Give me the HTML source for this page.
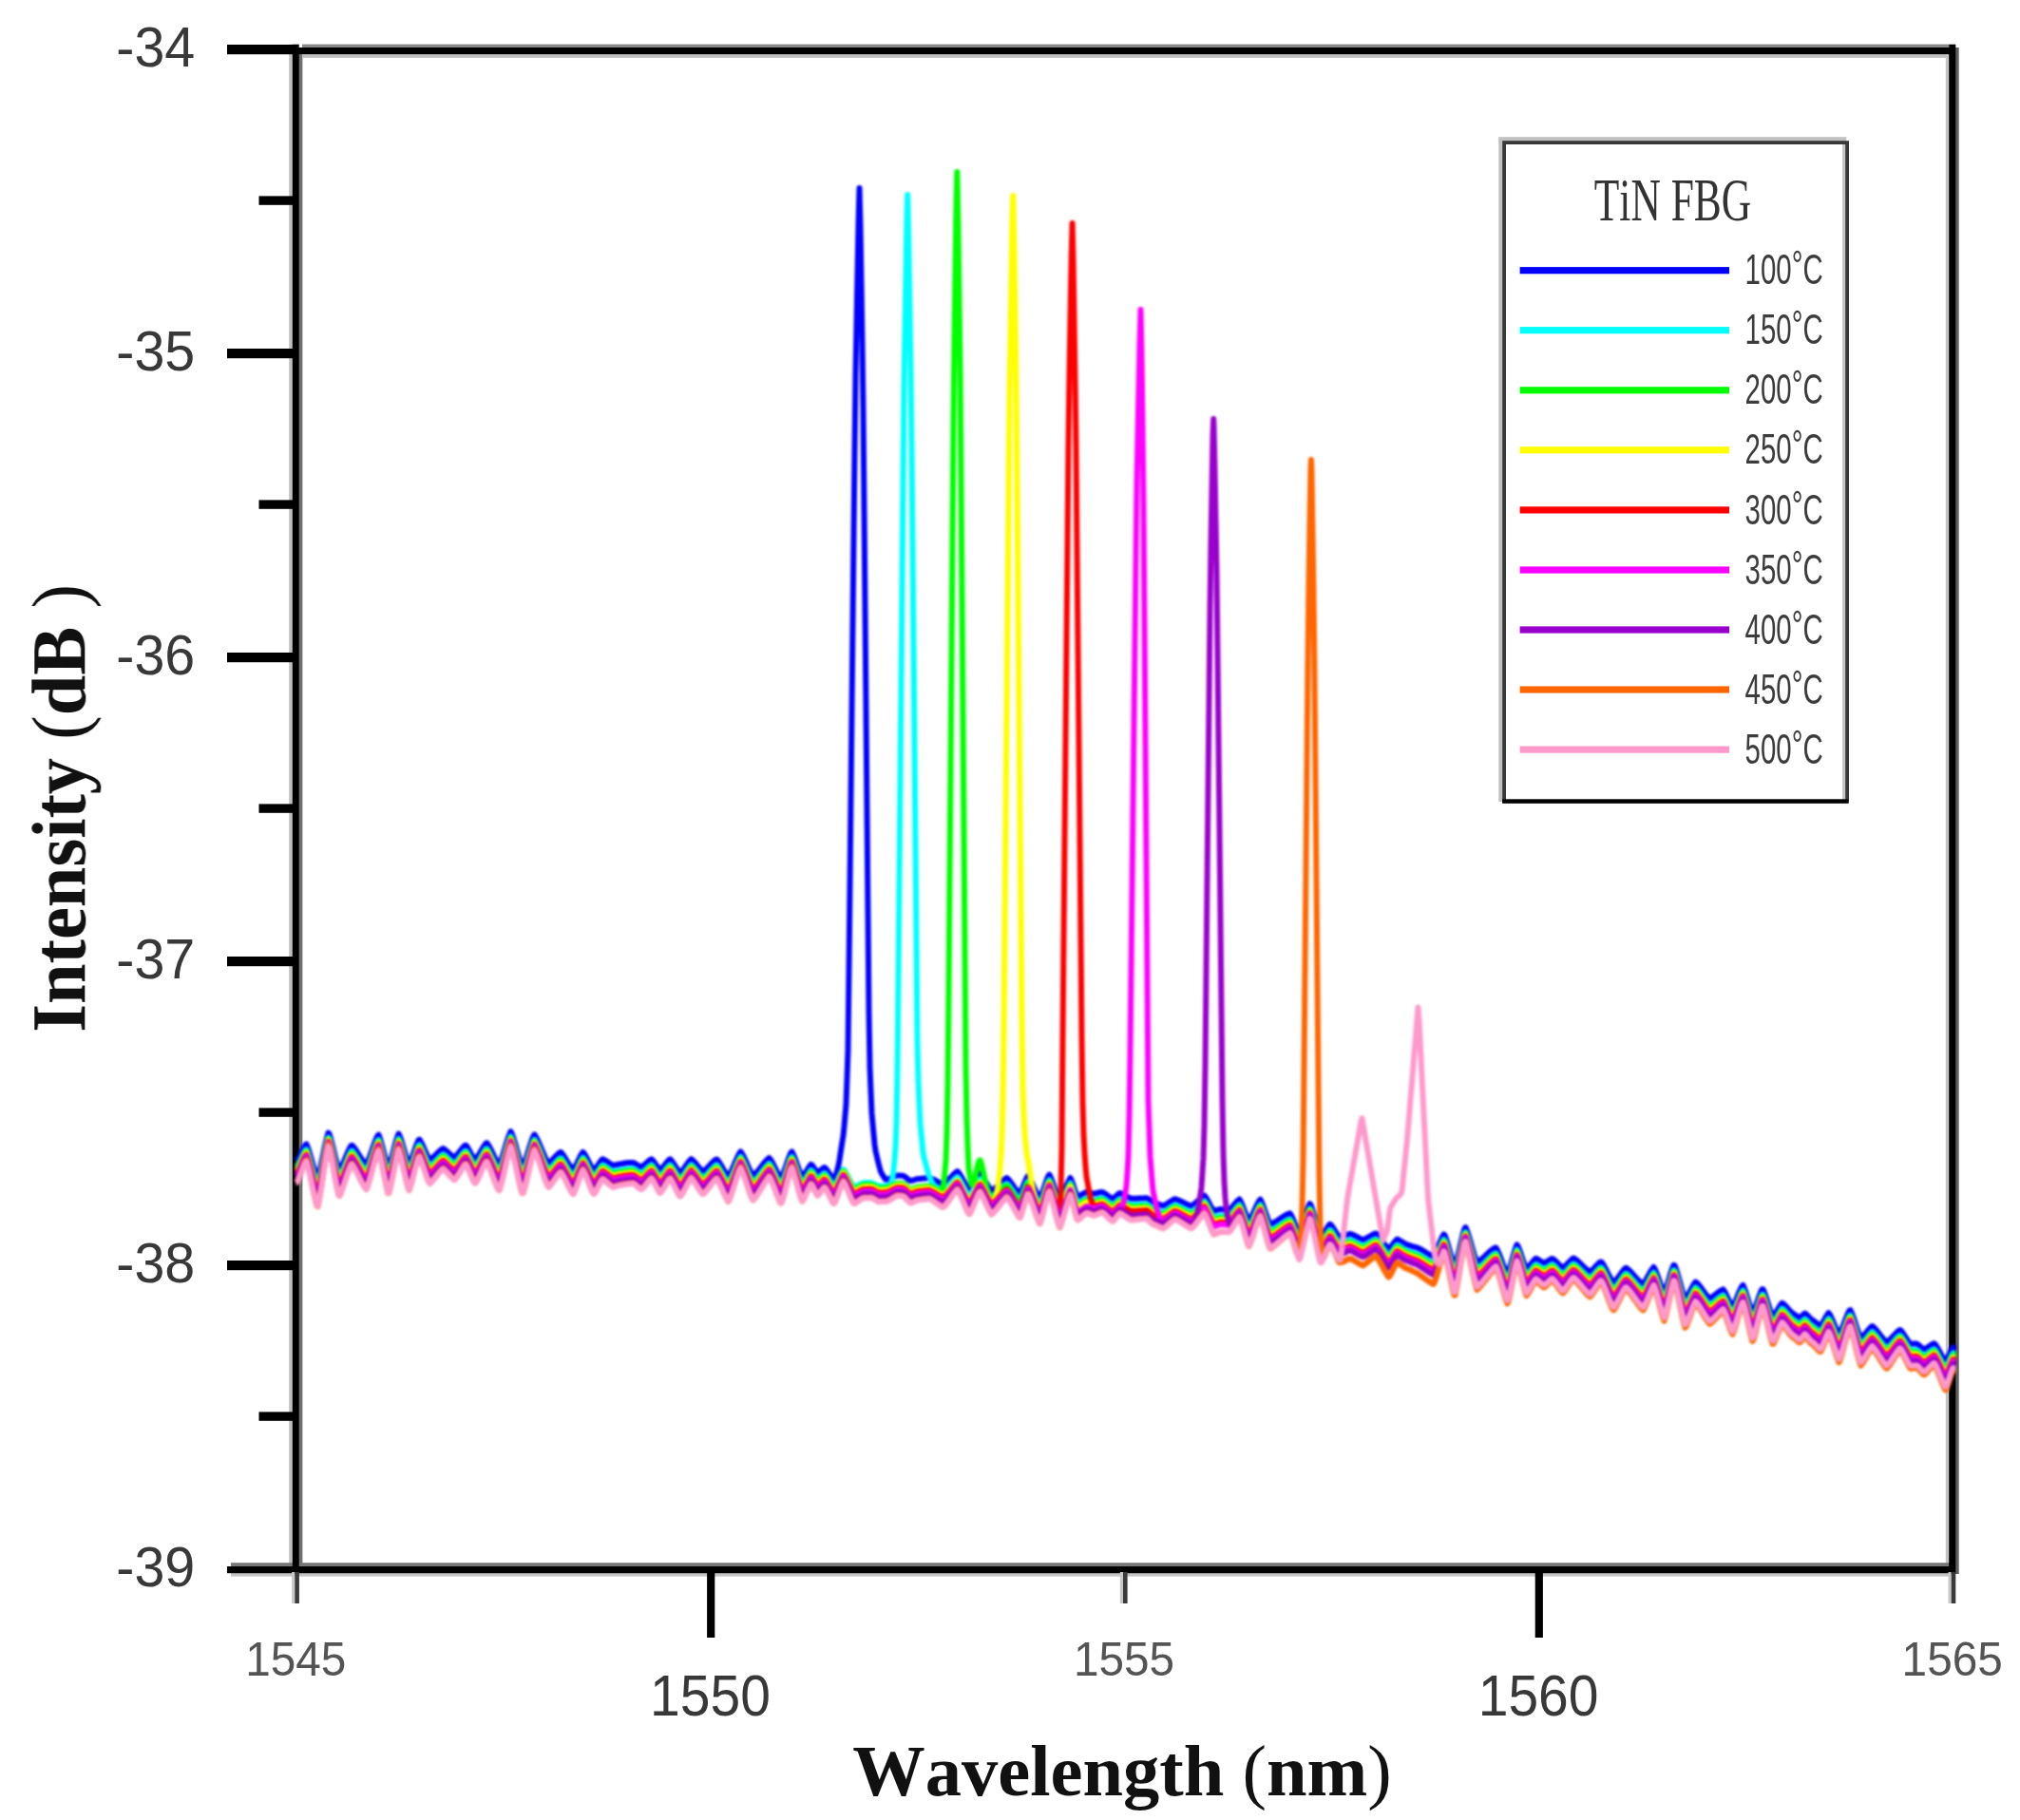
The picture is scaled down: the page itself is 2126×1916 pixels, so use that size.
<!DOCTYPE html>
<html lang="en"><head><meta charset="utf-8"><title>TiN FBG spectra</title>
<style>
html,body{margin:0;padding:0;background:#fff}
body{width:2126px;height:1916px;overflow:hidden}
svg{display:block}
.sans{font-family:"Liberation Sans",Arial,Helvetica,sans-serif}
.serif{font-family:"Liberation Serif","Times New Roman",Times,serif}
.serif,.sans{font-kerning:none}
text{filter:blur(0.7px)}
.curves{filter:blur(0.9px)}
.curves path{fill:none;stroke-width:6;stroke-linejoin:round;stroke-linecap:butt}
</style></head><body>
<svg width="2126" height="1916" viewBox="0 0 2126 1916">
<rect width="2126" height="1916" fill="#fff"/>
<g id="frame">
<rect x="304.2" y="46.7" width="4" height="1610" fill="#c0c0c0"/>
<rect x="314" y="50" width="4.4" height="1600" fill="#707070"/>
<rect x="2047.8" y="57" width="3.6" height="1592" fill="#c4c4c4"/>
<rect x="2058" y="50" width="3.7" height="1607" fill="#606060"/>
<rect x="318" y="46.6" width="1733" height="4" fill="#888"/>
<rect x="318" y="57" width="1730" height="3.9" fill="#c0c0c0"/>
<rect x="243" y="1645.2" width="1815" height="4" fill="#777"/>
<rect x="243" y="1656" width="1815" height="3.6" fill="#c4c4c4"/>
<rect x="307.8" y="46.7" width="6.9" height="1610" fill="#000"/>
<rect x="2051.2" y="46.7" width="7.1" height="1610" fill="#000"/>
<rect x="314" y="50" width="1740" height="7.1" fill="#000"/>
<rect x="239" y="1649" width="1819" height="7.2" fill="#000"/>
</g>
<g id="yticks" fill="#000">
<rect x="239" y="47.0" width="72" height="10.2" fill="#000"/>
<rect x="272.5" y="206.4" width="38" height="9.4" fill="#000"/>
<rect x="239" y="367.0" width="72" height="10.2" fill="#000"/>
<rect x="272.5" y="526.4" width="38" height="9.4" fill="#000"/>
<rect x="239" y="687.0" width="72" height="10.2" fill="#000"/>
<rect x="272.5" y="846.4" width="38" height="9.4" fill="#000"/>
<rect x="239" y="1007.0" width="72" height="10.2" fill="#000"/>
<rect x="272.5" y="1166.4" width="38" height="9.4" fill="#000"/>
<rect x="239" y="1327.0" width="72" height="10.2" fill="#000"/>
<rect x="272.5" y="1486.4" width="38" height="9.4" fill="#000"/>
</g>
<g id="xticks">
<rect x="307.1" y="1655" width="3.2" height="33" fill="#c8c8c8"/>
<rect x="310.3" y="1655" width="4.6" height="33" fill="#3a3a3a"/>
<rect x="744.1" y="1655" width="8.2" height="69" fill="#000"/>
<rect x="1178.8" y="1655" width="3.2" height="33" fill="#c8c8c8"/>
<rect x="1182.0" y="1655" width="4.6" height="33" fill="#3a3a3a"/>
<rect x="1615.7" y="1655" width="8.2" height="69" fill="#000"/>
<rect x="2050.5" y="1655" width="3.2" height="33" fill="#c8c8c8"/>
<rect x="2053.7" y="1655" width="4.6" height="33" fill="#3a3a3a"/>
</g>
<g class="curves">
<path d="M311.5 1222.2 L312.5 1221.9 L313.5 1220.5 L314.5 1218.7 L315.5 1216.8 L316.5 1214.7 L317.5 1212.6 L318.5 1210.5 L319.5 1208.5 L320.5 1206.7 L321.5 1205.1 L322.5 1204.5 L323.5 1207.0 L324.5 1209.8 L325.5 1212.9 L326.5 1216.3 L327.5 1219.8 L328.5 1223.3 L329.5 1226.9 L330.5 1230.3 L331.5 1233.5 L332.5 1236.4 L333.5 1239.0 L334.5 1239.5 L335.5 1236.1 L336.5 1232.2 L337.5 1227.9 L338.5 1223.2 L339.5 1218.4 L340.5 1213.6 L341.5 1208.7 L342.5 1204.1 L343.5 1199.9 L344.5 1196.0 L345.5 1192.6 L346.5 1193.6 L347.5 1196.8 L348.5 1200.3 L349.5 1204.2 L350.5 1208.3 L351.5 1212.5 L352.5 1216.7 L353.5 1220.8 L354.5 1224.6 L355.5 1228.1 L356.5 1231.2 L357.5 1231.5 L358.5 1229.8 L359.5 1228.0 L360.5 1225.9 L361.5 1223.7 L362.5 1221.4 L363.5 1219.0 L364.5 1216.6 L365.5 1214.2 L366.5 1211.9 L367.5 1209.8 L368.5 1207.9 L369.5 1206.1 L370.5 1205.7 L371.5 1206.7 L372.5 1207.9 L373.5 1209.2 L374.5 1210.7 L375.5 1212.2 L376.5 1213.8 L377.5 1215.4 L378.5 1217.0 L379.5 1218.6 L380.5 1220.2 L381.5 1221.6 L382.5 1223.0 L383.5 1224.2 L384.5 1225.3 L385.5 1226.0 L386.5 1224.0 L387.5 1221.7 L388.5 1219.3 L389.5 1216.6 L390.5 1213.8 L391.5 1210.9 L392.5 1208.0 L393.5 1205.2 L394.5 1202.5 L395.5 1199.9 L396.5 1197.6 L397.5 1195.5 L398.5 1194.7 L399.5 1197.4 L400.5 1200.5 L401.5 1204.0 L402.5 1207.6 L403.5 1211.4 L404.5 1215.2 L405.5 1218.9 L406.5 1222.3 L407.5 1225.4 L408.5 1228.1 L409.5 1227.6 L410.5 1224.7 L411.5 1221.4 L412.5 1217.8 L413.5 1214.0 L414.5 1210.1 L415.5 1206.3 L416.5 1202.6 L417.5 1199.2 L418.5 1196.2 L419.5 1193.5 L420.5 1195.6 L421.5 1198.2 L422.5 1201.2 L423.5 1204.5 L424.5 1207.9 L425.5 1211.3 L426.5 1214.7 L427.5 1218.0 L428.5 1221.0 L429.5 1223.7 L430.5 1225.8 L431.5 1223.9 L432.5 1221.6 L433.5 1219.1 L434.5 1216.3 L435.5 1213.4 L436.5 1210.5 L437.5 1207.6 L438.5 1204.9 L439.5 1202.4 L440.5 1200.2 L441.5 1199.7 L442.5 1201.3 L443.5 1203.1 L444.5 1205.1 L445.5 1207.3 L446.5 1209.6 L447.5 1211.9 L448.5 1214.1 L449.5 1216.2 L450.5 1218.2 L451.5 1219.9 L452.5 1220.9 L453.5 1220.3 L454.5 1219.5 L455.5 1218.7 L456.5 1217.8 L457.5 1216.9 L458.5 1215.9 L459.5 1214.9 L460.5 1213.9 L461.5 1212.9 L462.5 1211.9 L463.5 1211.0 L464.5 1210.2 L465.5 1209.5 L466.5 1209.1 L467.5 1209.7 L468.5 1210.5 L469.5 1211.3 L470.5 1212.2 L471.5 1213.1 L472.5 1214.0 L473.5 1215.0 L474.5 1215.9 L475.5 1216.7 L476.5 1217.4 L477.5 1218.1 L478.5 1218.3 L479.5 1217.4 L480.5 1216.3 L481.5 1215.2 L482.5 1214.0 L483.5 1212.7 L484.5 1211.4 L485.5 1210.1 L486.5 1208.9 L487.5 1207.7 L488.5 1206.7 L489.5 1205.8 L490.5 1205.8 L491.5 1207.1 L492.5 1208.7 L493.5 1210.4 L494.5 1212.2 L495.5 1214.1 L496.5 1215.9 L497.5 1217.7 L498.5 1219.3 L499.5 1220.6 L500.5 1220.7 L501.5 1219.4 L502.5 1218.0 L503.5 1216.5 L504.5 1214.8 L505.5 1213.1 L506.5 1211.3 L507.5 1209.6 L508.5 1207.9 L509.5 1206.3 L510.5 1204.8 L511.5 1203.5 L512.5 1203.3 L513.5 1204.7 L514.5 1206.3 L515.5 1208.1 L516.5 1210.0 L517.5 1212.1 L518.5 1214.1 L519.5 1216.3 L520.5 1218.3 L521.5 1220.3 L522.5 1222.2 L523.5 1223.9 L524.5 1225.4 L525.5 1225.9 L526.5 1223.6 L527.5 1221.0 L528.5 1218.2 L529.5 1215.1 L530.5 1211.8 L531.5 1208.5 L532.5 1205.2 L533.5 1201.9 L534.5 1198.8 L535.5 1196.0 L536.5 1193.4 L537.5 1191.2 L538.5 1193.0 L539.5 1195.6 L540.5 1198.6 L541.5 1201.8 L542.5 1205.2 L543.5 1208.7 L544.5 1212.3 L545.5 1215.8 L546.5 1219.1 L547.5 1222.3 L548.5 1225.1 L549.5 1227.7 L550.5 1227.8 L551.5 1225.5 L552.5 1222.9 L553.5 1220.0 L554.5 1216.9 L555.5 1213.7 L556.5 1210.5 L557.5 1207.2 L558.5 1204.1 L559.5 1201.1 L560.5 1198.4 L561.5 1196.0 L562.5 1194.3 L563.5 1195.9 L564.5 1197.7 L565.5 1199.6 L566.5 1201.8 L567.5 1204.0 L568.5 1206.4 L569.5 1208.7 L570.5 1211.1 L571.5 1213.5 L572.5 1215.8 L573.5 1218.0 L574.5 1220.0 L575.5 1221.9 L576.5 1223.6 L577.5 1224.5 L578.5 1223.8 L579.5 1222.9 L580.5 1222.0 L581.5 1220.9 L582.5 1219.9 L583.5 1218.7 L584.5 1217.7 L585.5 1216.6 L586.5 1215.6 L587.5 1214.7 L588.5 1213.8 L589.5 1213.1 L590.5 1213.1 L591.5 1214.3 L592.5 1215.7 L593.5 1217.2 L594.5 1218.7 L595.5 1220.4 L596.5 1222.0 L597.5 1223.7 L598.5 1225.3 L599.5 1226.9 L600.5 1228.3 L601.5 1229.7 L602.5 1230.8 L603.5 1231.2 L604.5 1229.7 L605.5 1228.0 L606.5 1226.1 L607.5 1224.1 L608.5 1222.0 L609.5 1219.9 L610.5 1217.8 L611.5 1216.0 L612.5 1214.3 L613.5 1212.9 L614.5 1213.9 L615.5 1215.4 L616.5 1217.1 L617.5 1218.9 L618.5 1220.8 L619.5 1222.8 L620.5 1224.8 L621.5 1226.7 L622.5 1228.4 L623.5 1230.1 L624.5 1231.5 L625.5 1231.6 L626.5 1230.5 L627.5 1229.2 L628.5 1227.8 L629.5 1226.3 L630.5 1224.8 L631.5 1223.3 L632.5 1222.0 L633.5 1220.8 L634.5 1220.3 L635.5 1220.7 L636.5 1221.3 L637.5 1221.9 L638.5 1222.5 L639.5 1223.2 L640.5 1223.9 L641.5 1224.6 L642.5 1225.2 L643.5 1225.9 L644.5 1226.4 L645.5 1226.8 L646.5 1226.6 L647.5 1226.4 L648.5 1226.2 L649.5 1226.0 L650.5 1225.8 L651.5 1225.6 L652.5 1225.4 L653.5 1225.3 L654.5 1225.1 L655.5 1224.9 L656.5 1224.7 L657.5 1224.5 L658.5 1224.3 L659.5 1224.2 L660.5 1224.2 L661.5 1224.1 L662.5 1224.0 L663.5 1224.0 L664.5 1223.9 L665.5 1223.9 L666.5 1223.9 L667.5 1224.4 L668.5 1225.0 L669.5 1225.6 L670.5 1226.2 L671.5 1226.9 L672.5 1227.5 L673.5 1228.1 L674.5 1228.5 L675.5 1228.4 L676.5 1227.7 L677.5 1226.9 L678.5 1226.1 L679.5 1225.1 L680.5 1224.2 L681.5 1223.3 L682.5 1222.4 L683.5 1221.6 L684.5 1220.8 L685.5 1220.2 L686.5 1221.0 L687.5 1222.2 L688.5 1223.5 L689.5 1224.9 L690.5 1226.4 L691.5 1227.8 L692.5 1229.2 L693.5 1230.4 L694.5 1231.5 L695.5 1231.2 L696.5 1230.2 L697.5 1229.1 L698.5 1227.9 L699.5 1226.6 L700.5 1225.3 L701.5 1224.0 L702.5 1222.8 L703.5 1221.7 L704.5 1220.7 L705.5 1220.4 L706.5 1221.6 L707.5 1222.8 L708.5 1224.3 L709.5 1225.8 L710.5 1227.4 L711.5 1228.9 L712.5 1230.5 L713.5 1231.9 L714.5 1233.2 L715.5 1234.4 L716.5 1234.1 L717.5 1233.0 L718.5 1231.9 L719.5 1230.6 L720.5 1229.2 L721.5 1227.7 L722.5 1226.3 L723.5 1224.8 L724.5 1223.5 L725.5 1222.2 L726.5 1221.1 L727.5 1220.2 L728.5 1220.9 L729.5 1221.9 L730.5 1222.9 L731.5 1224.0 L732.5 1225.2 L733.5 1226.4 L734.5 1227.6 L735.5 1228.8 L736.5 1230.0 L737.5 1231.1 L738.5 1232.1 L739.5 1233.0 L740.5 1232.8 L741.5 1232.1 L742.5 1231.3 L743.5 1230.4 L744.5 1229.4 L745.5 1228.4 L746.5 1227.3 L747.5 1226.2 L748.5 1225.2 L749.5 1224.1 L750.5 1223.1 L751.5 1222.2 L752.5 1221.4 L753.5 1220.6 L754.5 1220.4 L755.5 1221.6 L756.5 1223.0 L757.5 1224.5 L758.5 1226.1 L759.5 1227.7 L760.5 1229.5 L761.5 1231.2 L762.5 1232.9 L763.5 1234.4 L764.5 1235.9 L765.5 1237.2 L766.5 1238.4 L767.5 1237.1 L768.5 1235.3 L769.5 1233.3 L770.5 1231.2 L771.5 1228.9 L772.5 1226.6 L773.5 1224.2 L774.5 1221.9 L775.5 1219.6 L776.5 1217.5 L777.5 1215.5 L778.5 1213.7 L779.5 1212.3 L780.5 1213.8 L781.5 1215.4 L782.5 1217.3 L783.5 1219.3 L784.5 1221.5 L785.5 1223.7 L786.5 1226.0 L787.5 1228.2 L788.5 1230.4 L789.5 1232.4 L790.5 1234.3 L791.5 1236.1 L792.5 1237.6 L793.5 1236.9 L794.5 1236.0 L795.5 1235.1 L796.5 1234.0 L797.5 1232.8 L798.5 1231.6 L799.5 1230.3 L800.5 1229.1 L801.5 1227.8 L802.5 1226.5 L803.5 1225.2 L804.5 1224.0 L805.5 1222.8 L806.5 1221.7 L807.5 1220.7 L808.5 1219.8 L809.5 1219.0 L810.5 1220.0 L811.5 1221.5 L812.5 1223.2 L813.5 1225.1 L814.5 1227.1 L815.5 1229.1 L816.5 1231.1 L817.5 1233.1 L818.5 1235.0 L819.5 1236.8 L820.5 1238.4 L821.5 1239.8 L822.5 1239.7 L823.5 1237.6 L824.5 1235.1 L825.5 1232.4 L826.5 1229.6 L827.5 1226.6 L828.5 1223.7 L829.5 1220.8 L830.5 1218.1 L831.5 1215.6 L832.5 1213.4 L833.5 1212.5 L834.5 1214.5 L835.5 1216.7 L836.5 1219.2 L837.5 1221.9 L838.5 1224.7 L839.5 1227.5 L840.5 1230.3 L841.5 1232.9 L842.5 1235.3 L843.5 1237.5 L844.5 1238.9 L845.5 1237.8 L846.5 1236.5 L847.5 1235.0 L848.5 1233.4 L849.5 1231.7 L850.5 1230.1 L851.5 1228.5 L852.5 1227.1 L853.5 1225.9 L854.5 1226.4 L855.5 1227.6 L856.5 1229.1 L857.5 1230.6 L858.5 1232.1 L859.5 1233.5 L860.5 1234.5 L861.5 1233.9 L862.5 1233.1 L863.5 1232.2 L864.5 1231.3 L865.5 1230.5 L866.5 1229.7 L867.5 1229.0 L868.5 1229.5 L869.5 1230.7 L870.5 1232.0 L871.5 1233.5 L872.5 1235.0 L873.5 1236.5 L874.5 1238.0 L875.5 1239.4 L876.5 1240.6 L877.5 1241.7 L878.5 1241.0 L879.5 1238.5 L880.5 1234.7 L881.5 1230.7 L882.5 1226.7 L883.5 1221.3 L884.5 1214.6 L885.5 1208.0 L886.5 1201.6 L887.5 1195.5 L888.5 1185.7 L889.5 1174.1 L890.5 1162.6 L891.5 1134.9 L892.5 1105.4 L893.5 1021.0 L894.5 930.4 L895.5 839.8 L896.5 749.0 L897.5 658.1 L898.5 567.1 L899.5 474.9 L900.5 393.5 L901.5 340.7 L902.5 287.9 L903.5 235.1 L904.5 198.0 L905.5 237.7 L906.5 298.6 L907.5 359.5 L908.5 431.8 L909.5 537.4 L910.5 643.1 L911.5 748.9 L912.5 854.6 L913.5 960.3 L914.5 1066.0 L915.5 1123.3 L916.5 1148.3 L917.5 1172.0 L918.5 1182.8 L919.5 1193.7 L920.5 1204.6 L921.5 1211.6 L922.5 1215.9 L923.5 1220.2 L924.5 1224.4 L925.5 1228.3 L926.5 1232.1 L927.5 1234.6 L928.5 1236.3 L929.5 1237.9 L930.5 1239.5 L931.5 1241.1 L932.5 1241.8 L933.5 1241.7 L934.5 1241.4 L935.5 1241.1 L936.5 1240.7 L937.5 1240.3 L938.5 1239.8 L939.5 1239.4 L940.5 1239.0 L941.5 1238.5 L942.5 1238.1 L943.5 1237.8 L944.5 1237.5 L945.5 1237.5 L946.5 1237.6 L947.5 1237.6 L948.5 1237.7 L949.5 1237.8 L950.5 1237.8 L951.5 1238.2 L952.5 1238.9 L953.5 1239.7 L954.5 1240.5 L955.2 1241.1 L955.5 1241.3 L956.5 1242.1 L957.5 1242.8 L958.5 1243.1 L959.5 1242.9 L960.5 1242.6 L961.5 1242.3 L962.5 1242.0 L963.5 1241.7 L964.5 1241.4 L965.5 1241.1 L966.5 1241.1 L967.5 1241.0 L968.5 1240.9 L969.5 1240.8 L970.5 1240.7 L971.5 1240.6 L972.5 1240.5 L973.5 1240.4 L974.5 1240.3 L975.5 1240.2 L976.5 1240.1 L977.5 1240.0 L978.5 1240.1 L979.5 1240.5 L980.5 1240.9 L981.5 1241.3 L982.5 1241.8 L983.5 1242.3 L984.5 1242.8 L985.5 1243.3 L986.5 1243.9 L987.5 1244.4 L988.5 1244.9 L989.5 1245.4 L990.5 1245.9 L991.5 1246.3 L992.5 1246.7 L993.5 1246.4 L994.5 1245.6 L995.5 1244.8 L996.5 1243.9 L997.5 1242.9 L998.5 1241.9 L999.5 1240.8 L1000.5 1239.7 L1001.5 1238.6 L1002.5 1237.6 L1003.5 1236.5 L1004.5 1235.6 L1005.5 1234.7 L1006.5 1233.9 L1007.3 1233.3 L1007.5 1233.1 L1008.5 1233.9 L1009.5 1235.3 L1010.5 1236.8 L1011.5 1238.5 L1012.5 1240.3 L1013.5 1242.1 L1014.5 1244.0 L1015.5 1245.8 L1016.5 1247.5 L1017.5 1249.2 L1018.5 1250.7 L1019.5 1252.0 L1020.5 1252.2 L1021.5 1250.9 L1022.5 1249.4 L1023.5 1247.8 L1024.5 1246.0 L1025.5 1244.1 L1026.5 1242.3 L1027.5 1240.5 L1028.5 1238.8 L1029.5 1237.2 L1030.5 1235.9 L1031.5 1235.3 L1032.5 1236.4 L1033.5 1237.8 L1034.5 1239.3 L1035.5 1240.9 L1036.5 1242.5 L1037.5 1244.3 L1038.5 1246.0 L1039.5 1247.7 L1040.5 1249.3 L1041.5 1250.8 L1042.5 1252.1 L1043.5 1253.3 L1044.5 1252.9 L1045.5 1252.2 L1046.5 1251.5 L1047.5 1250.7 L1048.5 1249.8 L1049.5 1248.8 L1050.5 1247.8 L1051.5 1246.8 L1052.5 1245.8 L1053.5 1244.9 L1054.5 1243.9 L1055.5 1243.0 L1056.5 1242.1 L1057.5 1241.4 L1058.5 1240.7 L1059.5 1240.0 L1060.5 1240.7 L1061.5 1241.8 L1062.5 1243.0 L1063.5 1244.3 L1064.5 1245.6 L1065.5 1247.0 L1066.2 1248.1 L1066.5 1248.5 L1067.5 1250.0 L1068.5 1251.3 L1069.5 1252.6 L1070.5 1253.9 L1071.5 1255.0 L1072.5 1256.0 L1073.5 1256.4 L1074.5 1254.5 L1075.5 1252.3 L1076.5 1249.9 L1077.5 1247.4 L1078.5 1244.8 L1079.5 1242.4 L1080.5 1240.2 L1081.5 1238.3 L1082.5 1238.2 L1083.5 1239.9 L1084.5 1241.7 L1085.5 1243.8 L1086.5 1246.0 L1087.5 1248.2 L1088.5 1250.5 L1089.5 1252.8 L1090.5 1254.9 L1091.5 1257.0 L1092.5 1258.9 L1093.5 1260.6 L1094.5 1261.6 L1095.5 1259.4 L1096.5 1257.0 L1097.5 1254.3 L1098.5 1251.4 L1099.5 1248.4 L1100.5 1245.4 L1101.5 1242.6 L1102.5 1240.0 L1103.5 1237.7 L1104.5 1236.6 L1105.5 1238.7 L1106.5 1241.1 L1107.5 1243.8 L1108.5 1246.6 L1109.5 1249.6 L1110.5 1252.6 L1111.5 1255.5 L1112.5 1258.3 L1113.5 1260.9 L1114.5 1263.2 L1115.5 1264.8 L1116.5 1263.1 L1117.5 1261.0 L1118.5 1258.8 L1119.5 1256.3 L1120.5 1253.7 L1121.5 1251.1 L1122.5 1248.6 L1123.5 1246.1 L1124.5 1243.8 L1125.5 1241.8 L1126.5 1240.0 L1127.5 1242.0 L1128.5 1244.6 L1128.6 1244.9 L1129.5 1247.5 L1130.5 1250.6 L1131.5 1253.7 L1132.5 1256.5 L1133.5 1258.9 L1134.5 1259.7 L1135.5 1259.3 L1136.5 1258.8 L1137.5 1258.2 L1138.5 1257.6 L1139.5 1257.0 L1140.5 1256.4 L1141.5 1255.9 L1142.5 1255.4 L1143.5 1254.9 L1144.5 1254.9 L1145.5 1255.1 L1146.5 1255.3 L1147.5 1255.6 L1148.5 1255.9 L1149.5 1256.2 L1150.5 1256.5 L1151.5 1256.6 L1152.5 1256.4 L1153.5 1256.2 L1154.5 1256.0 L1155.5 1255.7 L1156.5 1255.5 L1157.5 1255.2 L1158.5 1255.0 L1159.5 1254.9 L1160.5 1255.1 L1161.5 1255.6 L1162.5 1256.3 L1163.5 1257.0 L1164.5 1257.7 L1165.5 1258.4 L1166.5 1259.2 L1167.5 1259.9 L1168.5 1260.6 L1169.5 1261.2 L1170.5 1261.7 L1171.5 1261.8 L1172.5 1261.1 L1173.5 1260.2 L1174.5 1259.3 L1175.5 1258.4 L1176.5 1257.5 L1177.5 1256.7 L1178.5 1256.0 L1179.5 1256.4 L1180.5 1256.8 L1181.5 1257.2 L1182.5 1257.7 L1183.5 1258.3 L1184.5 1258.8 L1185.5 1259.3 L1186.5 1259.9 L1187.5 1260.4 L1188.5 1260.9 L1189.5 1261.3 L1190.5 1261.7 L1191.5 1261.8 L1192.5 1261.8 L1193.5 1261.8 L1194.5 1261.8 L1195.5 1261.7 L1196.5 1261.7 L1197.5 1261.6 L1198.5 1261.6 L1199.5 1261.5 L1200.5 1261.5 L1201.5 1261.4 L1202.5 1261.4 L1203.5 1261.4 L1204.5 1261.3 L1205.5 1261.3 L1206.5 1261.2 L1207.5 1261.5 L1208.5 1262.1 L1209.5 1262.9 L1210.5 1263.7 L1211.5 1264.5 L1212.5 1265.2 L1213.5 1265.7 L1214.5 1266.0 L1215.5 1266.3 L1216.5 1266.6 L1217.5 1267.0 L1218.5 1267.4 L1219.5 1267.7 L1220.5 1268.1 L1221.5 1268.5 L1222.5 1268.8 L1223.5 1269.1 L1224.5 1269.2 L1225.5 1268.8 L1226.5 1268.3 L1227.5 1267.7 L1228.5 1267.1 L1229.5 1266.5 L1230.5 1265.8 L1231.5 1265.1 L1232.5 1264.5 L1233.5 1263.9 L1234.5 1263.3 L1235.5 1262.8 L1236.5 1262.3 L1237.5 1262.5 L1238.5 1262.8 L1239.5 1263.2 L1240.5 1263.6 L1241.5 1264.0 L1242.5 1264.5 L1243.5 1265.0 L1244.5 1265.5 L1245.5 1266.0 L1246.5 1266.5 L1247.5 1267.0 L1248.5 1267.4 L1249.5 1267.9 L1250.5 1268.4 L1251.5 1268.8 L1252.5 1269.2 L1253.5 1269.5 L1254.5 1269.4 L1255.5 1268.7 L1256.5 1267.9 L1257.5 1267.1 L1258.5 1266.2 L1259.5 1265.3 L1260.5 1264.4 L1261.5 1263.4 L1262.5 1262.5 L1263.5 1261.6 L1264.5 1260.7 L1265.5 1259.9 L1266.5 1259.2 L1267.5 1258.6 L1268.5 1259.7 L1269.5 1261.1 L1270.5 1262.8 L1271.5 1264.6 L1272.5 1266.5 L1273.5 1268.4 L1274.5 1270.2 L1275.5 1271.9 L1276.5 1273.4 L1277.2 1274.3 L1277.5 1274.7 L1278.5 1274.5 L1279.5 1274.3 L1280.5 1274.0 L1281.5 1273.7 L1282.5 1273.4 L1283.5 1273.2 L1284.5 1273.0 L1285.5 1273.1 L1286.5 1273.2 L1287.5 1273.3 L1288.5 1273.4 L1289.5 1273.5 L1290.5 1273.6 L1291.5 1273.7 L1292.5 1273.8 L1293.5 1273.8 L1294.5 1273.0 L1295.5 1272.0 L1296.5 1271.0 L1297.5 1269.9 L1298.5 1268.7 L1299.5 1267.5 L1300.5 1266.3 L1301.5 1265.2 L1302.5 1264.2 L1303.5 1263.3 L1304.5 1262.5 L1305.5 1264.2 L1306.5 1266.3 L1307.5 1268.7 L1308.5 1271.3 L1309.5 1274.0 L1310.5 1276.6 L1311.5 1279.2 L1312.5 1281.6 L1313.5 1283.7 L1314.5 1285.4 L1315.5 1283.9 L1316.5 1282.2 L1317.5 1280.3 L1318.5 1278.2 L1319.5 1276.0 L1320.5 1273.8 L1321.5 1271.5 L1322.5 1269.4 L1323.5 1267.3 L1324.5 1265.4 L1325.5 1263.7 L1326.5 1262.8 L1327.5 1264.8 L1328.5 1267.1 L1329.5 1269.7 L1330.5 1272.5 L1331.5 1275.4 L1332.5 1278.3 L1333.5 1281.1 L1334.5 1283.8 L1335.5 1286.2 L1336.5 1288.3 L1337.5 1288.5 L1338.5 1288.1 L1339.5 1287.7 L1340.5 1287.2 L1341.5 1286.7 L1342.5 1286.1 L1343.5 1285.5 L1344.5 1284.9 L1345.5 1284.2 L1346.5 1283.5 L1347.5 1282.8 L1348.5 1282.1 L1349.5 1281.4 L1350.5 1280.8 L1351.5 1280.2 L1352.5 1279.6 L1353.5 1279.0 L1354.5 1278.5 L1355.5 1278.1 L1356.5 1277.7 L1357.5 1277.3 L1358.5 1278.5 L1359.5 1280.5 L1360.5 1282.8 L1361.5 1285.2 L1362.5 1287.8 L1363.5 1290.4 L1364.5 1292.8 L1365.5 1295.1 L1366.5 1297.2 L1367.5 1299.0 L1368.5 1297.4 L1369.5 1294.8 L1370.5 1291.9 L1371.5 1288.7 L1372.5 1285.4 L1373.5 1282.0 L1374.5 1278.6 L1375.5 1275.4 L1376.5 1272.3 L1377.5 1269.6 L1378.5 1267.2 L1379.5 1268.3 L1380.0 1269.7 L1380.5 1271.2 L1381.5 1274.5 L1382.5 1278.0 L1383.5 1281.7 L1384.5 1285.5 L1385.5 1289.3 L1386.5 1293.0 L1387.5 1296.5 L1388.5 1299.6 L1389.5 1302.4 L1390.5 1302.9 L1391.5 1301.6 L1392.5 1300.1 L1393.5 1298.4 L1394.5 1296.7 L1395.5 1294.9 L1396.5 1293.2 L1397.5 1291.5 L1398.5 1290.1 L1399.5 1288.8 L1400.5 1289.1 L1401.5 1290.3 L1402.5 1291.7 L1403.5 1293.2 L1404.5 1294.9 L1405.5 1296.5 L1406.5 1298.1 L1407.5 1299.6 L1408.5 1301.0 L1409.5 1302.2 L1410.5 1302.4 L1411.5 1302.1 L1412.5 1301.9 L1413.5 1301.5 L1414.5 1301.2 L1415.5 1300.8 L1416.5 1300.4 L1417.5 1300.0 L1418.5 1299.6 L1419.5 1299.3 L1420.5 1299.0 L1421.5 1299.0 L1422.5 1299.4 L1423.5 1299.8 L1424.5 1300.2 L1425.5 1300.7 L1426.5 1301.2 L1427.5 1301.8 L1428.5 1302.3 L1429.5 1302.8 L1430.5 1303.4 L1431.5 1303.9 L1432.5 1304.4 L1433.5 1304.8 L1434.5 1305.1 L1435.5 1304.8 L1436.5 1304.4 L1437.5 1303.9 L1438.5 1303.4 L1439.5 1302.8 L1440.5 1302.3 L1441.5 1301.7 L1442.5 1301.1 L1443.5 1300.5 L1444.5 1300.0 L1445.5 1299.4 L1446.5 1299.0 L1447.5 1298.6 L1448.5 1298.7 L1449.5 1299.7 L1450.5 1300.8 L1451.5 1302.0 L1452.5 1303.3 L1453.5 1304.7 L1454.5 1306.1 L1455.5 1307.5 L1456.5 1308.9 L1457.5 1310.3 L1458.5 1311.5 L1459.5 1312.7 L1460.5 1313.8 L1461.5 1314.8 L1462.5 1314.3 L1463.5 1313.2 L1464.5 1311.9 L1465.5 1310.5 L1466.5 1309.1 L1467.5 1307.8 L1468.5 1306.5 L1469.5 1305.4 L1470.5 1304.6 L1471.5 1305.0 L1472.5 1305.6 L1473.5 1306.1 L1474.5 1306.7 L1475.5 1307.4 L1476.5 1308.0 L1477.5 1308.6 L1478.5 1309.2 L1479.5 1309.7 L1480.5 1310.1 L1481.5 1310.4 L1482.5 1310.7 L1483.5 1311.1 L1484.5 1311.4 L1485.5 1311.8 L1486.5 1312.1 L1487.5 1312.4 L1488.5 1312.7 L1489.5 1312.9 L1490.5 1313.2 L1491.5 1313.5 L1492.5 1313.9 L1493.5 1314.4 L1494.5 1314.8 L1495.5 1315.4 L1496.5 1315.9 L1497.5 1316.5 L1498.5 1317.1 L1499.5 1317.8 L1500.5 1318.4 L1501.5 1319.1 L1502.5 1319.7 L1503.5 1320.3 L1504.5 1320.8 L1505.5 1321.3 L1506.5 1321.8 L1507.5 1322.2 L1508.5 1322.6 L1509.5 1321.5 L1510.5 1319.6 L1511.5 1317.5 L1512.5 1315.2 L1513.5 1312.7 L1514.5 1310.3 L1515.5 1307.8 L1516.5 1305.4 L1517.5 1303.2 L1518.5 1301.2 L1519.5 1299.5 L1520.5 1300.2 L1521.5 1302.9 L1522.5 1305.8 L1523.5 1309.1 L1524.5 1312.6 L1525.5 1316.1 L1526.5 1319.7 L1527.5 1323.1 L1528.5 1326.3 L1529.5 1329.3 L1530.5 1331.9 L1531.5 1331.9 L1532.5 1328.7 L1533.5 1325.2 L1534.5 1321.3 L1535.5 1317.1 L1536.5 1312.8 L1537.5 1308.5 L1538.5 1304.2 L1539.5 1300.3 L1540.5 1296.6 L1541.5 1293.4 L1542.5 1292.1 L1543.5 1294.5 L1544.5 1297.3 L1545.5 1300.3 L1546.5 1303.5 L1547.5 1306.9 L1548.5 1310.4 L1549.5 1313.9 L1550.5 1317.3 L1551.5 1320.6 L1552.5 1323.6 L1553.5 1326.3 L1554.5 1328.7 L1555.5 1328.3 L1556.5 1327.7 L1557.5 1327.0 L1558.5 1326.3 L1559.5 1325.5 L1560.5 1324.6 L1561.5 1323.7 L1562.5 1322.8 L1563.5 1321.8 L1564.5 1320.8 L1565.5 1319.9 L1566.5 1318.9 L1567.5 1318.0 L1568.5 1317.1 L1569.5 1316.3 L1570.5 1315.5 L1571.5 1314.8 L1572.5 1314.2 L1573.5 1313.6 L1574.5 1313.5 L1575.5 1315.3 L1576.5 1317.4 L1577.5 1319.7 L1578.5 1322.2 L1579.5 1324.7 L1580.5 1327.3 L1581.5 1330.0 L1582.5 1332.5 L1583.5 1334.9 L1584.5 1337.1 L1585.5 1339.1 L1586.5 1340.9 L1587.5 1339.4 L1588.5 1336.6 L1589.5 1333.4 L1590.5 1329.9 L1591.5 1326.3 L1592.5 1322.6 L1593.5 1319.1 L1594.5 1315.8 L1595.5 1312.8 L1596.5 1310.3 L1597.5 1311.8 L1598.5 1314.1 L1599.5 1316.8 L1600.5 1319.6 L1601.5 1322.6 L1602.5 1325.6 L1603.5 1328.6 L1604.5 1331.3 L1605.5 1333.7 L1606.5 1335.8 L1607.5 1335.0 L1608.5 1334.0 L1609.5 1332.9 L1610.5 1331.6 L1611.5 1330.4 L1612.5 1329.1 L1613.5 1327.9 L1614.5 1326.7 L1615.5 1325.7 L1616.5 1324.9 L1617.5 1325.3 L1618.5 1325.8 L1619.5 1326.4 L1620.5 1327.1 L1621.5 1327.7 L1622.5 1328.3 L1623.5 1328.9 L1624.5 1329.5 L1625.5 1329.6 L1626.5 1329.1 L1627.5 1328.5 L1628.5 1327.9 L1629.5 1327.3 L1630.5 1326.6 L1631.5 1326.0 L1632.5 1325.4 L1633.5 1325.0 L1634.5 1325.3 L1635.5 1326.1 L1636.5 1327.0 L1637.5 1327.9 L1638.5 1328.9 L1639.5 1329.9 L1640.5 1331.0 L1641.5 1331.9 L1642.5 1332.9 L1643.5 1333.7 L1644.5 1334.5 L1645.5 1334.4 L1646.5 1333.6 L1647.5 1332.7 L1648.5 1331.7 L1649.5 1330.7 L1650.5 1329.6 L1651.5 1328.5 L1652.5 1327.5 L1653.5 1326.5 L1654.5 1325.5 L1655.5 1324.7 L1656.5 1324.6 L1657.5 1325.3 L1658.5 1326.0 L1659.5 1326.7 L1660.5 1327.6 L1661.5 1328.5 L1662.5 1329.4 L1663.5 1330.4 L1664.5 1331.3 L1665.5 1332.3 L1666.5 1333.3 L1667.5 1334.3 L1668.5 1335.2 L1669.5 1336.1 L1670.5 1336.9 L1671.5 1337.7 L1672.5 1338.4 L1673.5 1338.8 L1674.5 1338.1 L1675.5 1337.3 L1676.5 1336.3 L1677.5 1335.3 L1678.5 1334.2 L1679.5 1333.1 L1680.5 1332.0 L1681.5 1331.0 L1682.5 1330.0 L1683.5 1329.1 L1684.5 1328.4 L1685.5 1328.6 L1686.5 1330.0 L1687.5 1331.5 L1688.5 1333.3 L1689.5 1335.1 L1690.5 1337.0 L1691.5 1339.0 L1692.5 1341.0 L1693.5 1342.9 L1694.5 1344.8 L1695.5 1346.5 L1696.5 1348.1 L1697.5 1349.6 L1698.5 1350.1 L1699.5 1349.1 L1700.5 1348.0 L1701.5 1346.8 L1702.5 1345.6 L1703.5 1344.2 L1704.5 1342.8 L1705.5 1341.4 L1706.5 1340.0 L1707.5 1338.6 L1708.5 1337.4 L1709.5 1336.2 L1710.5 1335.2 L1711.5 1334.7 L1712.5 1335.5 L1713.5 1336.3 L1714.5 1337.2 L1715.5 1338.1 L1716.5 1339.2 L1717.5 1340.2 L1718.5 1341.3 L1719.5 1342.5 L1720.5 1343.6 L1721.5 1344.7 L1722.5 1345.8 L1723.5 1346.9 L1724.5 1347.9 L1725.5 1348.9 L1726.5 1349.8 L1727.5 1350.6 L1728.5 1351.3 L1729.5 1351.5 L1730.5 1350.2 L1731.5 1348.7 L1732.5 1347.1 L1733.5 1345.3 L1734.5 1343.5 L1735.5 1341.6 L1736.5 1339.8 L1737.5 1338.1 L1738.5 1336.6 L1739.5 1335.2 L1740.5 1334.0 L1741.5 1335.6 L1742.5 1337.8 L1743.5 1340.3 L1744.5 1343.0 L1745.5 1345.8 L1746.5 1348.6 L1747.5 1351.5 L1748.5 1354.1 L1749.5 1356.6 L1750.5 1358.8 L1751.5 1360.7 L1752.5 1358.5 L1753.5 1355.9 L1754.5 1353.0 L1755.5 1349.8 L1756.5 1346.5 L1757.5 1343.2 L1758.5 1340.0 L1759.5 1337.0 L1760.5 1334.2 L1761.5 1331.8 L1762.5 1332.1 L1763.5 1334.7 L1764.5 1337.6 L1765.5 1340.9 L1766.5 1344.3 L1767.5 1347.9 L1768.5 1351.6 L1769.5 1355.1 L1770.5 1358.6 L1771.5 1361.7 L1772.5 1364.6 L1773.5 1367.2 L1774.5 1366.7 L1775.5 1365.3 L1776.5 1363.6 L1777.5 1361.8 L1778.5 1359.9 L1779.5 1358.0 L1780.5 1356.0 L1781.5 1354.2 L1782.5 1352.4 L1783.5 1350.8 L1784.5 1349.5 L1785.5 1350.1 L1786.5 1351.1 L1787.5 1352.2 L1788.5 1353.4 L1789.5 1354.6 L1790.5 1356.0 L1791.5 1357.4 L1792.5 1358.8 L1793.5 1360.2 L1794.5 1361.6 L1795.5 1362.9 L1796.5 1364.1 L1797.5 1365.2 L1798.5 1366.2 L1799.5 1367.0 L1800.5 1366.5 L1801.5 1365.9 L1802.5 1365.2 L1803.5 1364.4 L1804.5 1363.6 L1805.5 1362.8 L1806.5 1362.0 L1807.5 1361.2 L1808.5 1360.4 L1809.5 1359.7 L1810.5 1359.0 L1811.5 1358.4 L1812.5 1357.9 L1813.5 1357.4 L1814.5 1358.8 L1815.5 1360.5 L1816.5 1362.4 L1817.5 1364.5 L1818.5 1366.7 L1819.5 1368.8 L1820.5 1370.9 L1821.5 1372.8 L1822.5 1374.4 L1823.5 1375.6 L1824.5 1373.8 L1825.5 1371.9 L1826.5 1369.7 L1827.5 1367.4 L1828.5 1364.9 L1829.5 1362.4 L1830.5 1360.0 L1831.5 1357.8 L1832.5 1355.7 L1833.5 1353.9 L1834.5 1353.0 L1835.5 1355.4 L1836.5 1358.0 L1837.5 1361.0 L1838.5 1364.1 L1839.5 1367.4 L1840.5 1370.7 L1841.5 1373.8 L1842.5 1376.8 L1843.5 1379.4 L1844.5 1381.8 L1845.5 1380.8 L1846.5 1378.6 L1847.5 1376.1 L1848.5 1373.3 L1849.5 1370.4 L1850.5 1367.5 L1851.5 1364.6 L1852.5 1361.9 L1853.5 1359.4 L1854.5 1357.2 L1855.5 1357.3 L1856.5 1359.6 L1857.5 1362.2 L1858.5 1365.1 L1859.5 1368.2 L1860.5 1371.3 L1861.5 1374.5 L1862.5 1377.6 L1863.5 1380.4 L1864.5 1383.1 L1865.5 1385.4 L1866.5 1385.5 L1867.5 1384.2 L1868.5 1382.8 L1869.5 1381.2 L1870.5 1379.4 L1871.5 1377.7 L1872.5 1376.0 L1873.5 1374.4 L1874.5 1373.0 L1875.5 1371.8 L1876.5 1372.2 L1877.5 1373.0 L1878.5 1374.0 L1879.5 1375.0 L1880.5 1376.2 L1881.5 1377.3 L1882.5 1378.5 L1883.5 1379.6 L1884.5 1380.7 L1885.5 1381.6 L1886.5 1382.5 L1887.5 1383.1 L1888.5 1383.7 L1889.5 1384.4 L1890.5 1385.1 L1891.5 1385.9 L1892.5 1386.5 L1893.5 1387.1 L1894.5 1387.2 L1895.5 1386.3 L1896.5 1385.3 L1897.5 1384.3 L1898.5 1383.3 L1899.5 1382.5 L1900.5 1383.1 L1901.5 1384.0 L1902.5 1385.1 L1903.5 1386.2 L1904.5 1387.2 L1905.5 1388.2 L1906.5 1388.9 L1907.5 1389.6 L1908.5 1390.3 L1909.5 1391.1 L1910.5 1391.9 L1911.5 1392.7 L1912.5 1393.6 L1913.5 1394.3 L1914.5 1395.0 L1915.5 1395.6 L1916.5 1395.2 L1917.5 1393.8 L1918.5 1392.2 L1919.5 1390.4 L1920.5 1388.6 L1921.5 1386.8 L1922.5 1385.1 L1923.5 1383.5 L1924.5 1382.2 L1925.5 1383.3 L1926.5 1385.1 L1927.5 1387.2 L1928.5 1389.4 L1929.5 1391.8 L1930.5 1394.2 L1931.5 1396.6 L1932.5 1398.9 L1933.5 1401.0 L1934.5 1402.9 L1935.5 1404.6 L1936.5 1403.2 L1937.5 1401.2 L1938.5 1398.9 L1939.5 1396.5 L1940.5 1393.9 L1941.5 1391.3 L1942.5 1388.7 L1943.5 1386.1 L1944.5 1383.8 L1945.5 1381.6 L1946.5 1379.6 L1947.5 1379.2 L1948.5 1381.4 L1949.5 1383.9 L1950.5 1386.6 L1951.5 1389.5 L1952.5 1392.5 L1953.5 1395.6 L1954.5 1398.6 L1955.5 1401.5 L1956.5 1404.2 L1957.5 1406.6 L1958.5 1408.6 L1959.5 1407.8 L1960.5 1406.9 L1961.5 1405.9 L1962.5 1404.8 L1963.5 1403.6 L1964.5 1402.4 L1965.5 1401.1 L1966.5 1399.9 L1967.5 1398.8 L1968.5 1397.7 L1969.5 1396.7 L1970.5 1396.0 L1971.5 1396.8 L1972.5 1397.7 L1973.5 1398.8 L1974.5 1399.9 L1975.5 1401.1 L1976.5 1402.3 L1977.5 1403.6 L1978.5 1405.0 L1979.5 1406.3 L1980.5 1407.5 L1981.5 1408.7 L1982.5 1409.9 L1983.5 1411.0 L1984.5 1411.9 L1985.5 1412.8 L1986.5 1412.4 L1987.5 1411.6 L1988.5 1410.7 L1989.5 1409.8 L1990.5 1408.8 L1991.5 1407.7 L1992.5 1406.6 L1993.5 1405.6 L1994.5 1404.5 L1995.5 1403.5 L1996.5 1402.5 L1997.5 1401.6 L1998.5 1400.8 L1999.5 1400.1 L2000.5 1400.5 L2001.5 1401.7 L2002.5 1403.1 L2003.5 1404.5 L2004.5 1406.1 L2005.5 1407.6 L2006.5 1409.2 L2007.5 1410.7 L2008.5 1412.1 L2009.5 1413.4 L2010.5 1414.5 L2011.5 1414.7 L2012.5 1414.7 L2013.5 1414.7 L2014.5 1414.6 L2015.5 1414.6 L2016.5 1414.6 L2017.5 1414.7 L2018.5 1415.4 L2019.5 1416.2 L2020.5 1417.1 L2021.5 1418.0 L2022.5 1418.9 L2023.5 1419.7 L2024.5 1420.3 L2025.5 1420.3 L2026.5 1419.8 L2027.5 1419.2 L2028.5 1418.6 L2029.5 1417.9 L2030.5 1417.2 L2031.5 1416.5 L2032.5 1415.9 L2033.5 1415.2 L2034.5 1414.7 L2035.5 1414.2 L2036.5 1414.9 L2037.5 1416.3 L2038.5 1417.8 L2039.5 1419.5 L2040.5 1421.3 L2041.5 1423.1 L2042.5 1425.0 L2043.5 1426.8 L2044.5 1428.5 L2045.5 1430.2 L2046.5 1431.6 L2047.5 1433.0 L2048.5 1432.2 L2049.5 1430.4 L2050.5 1428.4 L2051.5 1426.1 L2052.5 1423.9 L2053.5 1421.7 L2054.5 1419.9 L2055.5 1418.4 L2056.5 1418.4 L2057.5 1418.4 L2058.5 1418.4" stroke="#0000ff" stroke-width="7"/>
<path d="M311.5 1228.7 L312.5 1228.5 L313.5 1227.0 L314.5 1225.2 L315.5 1223.1 L316.5 1221.0 L317.5 1218.8 L318.5 1216.6 L319.5 1214.5 L320.5 1212.6 L321.5 1210.9 L322.5 1210.3 L323.5 1212.9 L324.5 1215.9 L325.5 1219.2 L326.5 1222.7 L327.5 1226.4 L328.5 1230.2 L329.5 1233.9 L330.5 1237.5 L331.5 1240.9 L332.5 1244.0 L333.5 1246.8 L334.5 1247.3 L335.5 1243.6 L336.5 1239.5 L337.5 1235.0 L338.5 1230.1 L339.5 1225.0 L340.5 1219.9 L341.5 1214.8 L342.5 1209.9 L343.5 1205.4 L344.5 1201.3 L345.5 1197.7 L346.5 1198.8 L347.5 1202.2 L348.5 1205.9 L349.5 1210.0 L350.5 1214.3 L351.5 1218.8 L352.5 1223.2 L353.5 1227.5 L354.5 1231.6 L355.5 1235.2 L356.5 1238.4 L357.5 1238.8 L358.5 1237.0 L359.5 1235.1 L360.5 1232.9 L361.5 1230.6 L362.5 1228.1 L363.5 1225.6 L364.5 1223.1 L365.5 1220.6 L366.5 1218.3 L367.5 1216.1 L368.5 1214.1 L369.5 1212.3 L370.5 1211.8 L371.5 1212.9 L372.5 1214.2 L373.5 1215.6 L374.5 1217.1 L375.5 1218.6 L376.5 1220.3 L377.5 1222.0 L378.5 1223.7 L379.5 1225.3 L380.5 1226.9 L381.5 1228.5 L382.5 1229.9 L383.5 1231.2 L384.5 1232.4 L385.5 1233.1 L386.5 1231.0 L387.5 1228.7 L388.5 1226.1 L389.5 1223.3 L390.5 1220.3 L391.5 1217.3 L392.5 1214.3 L393.5 1211.3 L394.5 1208.5 L395.5 1205.8 L396.5 1203.3 L397.5 1201.1 L398.5 1200.2 L399.5 1203.1 L400.5 1206.3 L401.5 1210.0 L402.5 1213.8 L403.5 1217.8 L404.5 1221.8 L405.5 1225.7 L406.5 1229.3 L407.5 1232.6 L408.5 1235.5 L409.5 1235.0 L410.5 1231.9 L411.5 1228.5 L412.5 1224.7 L413.5 1220.7 L414.5 1216.6 L415.5 1212.6 L416.5 1208.7 L417.5 1205.1 L418.5 1201.9 L419.5 1199.1 L420.5 1201.3 L421.5 1204.1 L422.5 1207.2 L423.5 1210.6 L424.5 1214.2 L425.5 1217.9 L426.5 1221.4 L427.5 1224.9 L428.5 1228.0 L429.5 1230.9 L430.5 1233.1 L431.5 1231.0 L432.5 1228.6 L433.5 1225.9 L434.5 1223.0 L435.5 1220.0 L436.5 1216.9 L437.5 1213.9 L438.5 1211.0 L439.5 1208.4 L440.5 1206.1 L441.5 1205.5 L442.5 1207.2 L443.5 1209.1 L444.5 1211.3 L445.5 1213.6 L446.5 1216.0 L447.5 1218.4 L448.5 1220.7 L449.5 1223.0 L450.5 1225.0 L451.5 1226.8 L452.5 1227.8 L453.5 1227.1 L454.5 1226.4 L455.5 1225.5 L456.5 1224.6 L457.5 1223.6 L458.5 1222.6 L459.5 1221.5 L460.5 1220.4 L461.5 1219.4 L462.5 1218.4 L463.5 1217.5 L464.5 1216.7 L465.5 1215.9 L466.5 1215.4 L467.5 1216.1 L468.5 1216.9 L469.5 1217.7 L470.5 1218.6 L471.5 1219.6 L472.5 1220.6 L473.5 1221.5 L474.5 1222.5 L475.5 1223.3 L476.5 1224.1 L477.5 1224.8 L478.5 1225.0 L479.5 1224.1 L480.5 1223.0 L481.5 1221.8 L482.5 1220.5 L483.5 1219.2 L484.5 1217.8 L485.5 1216.5 L486.5 1215.2 L487.5 1214.0 L488.5 1212.9 L489.5 1211.9 L490.5 1211.9 L491.5 1213.3 L492.5 1214.9 L493.5 1216.8 L494.5 1218.7 L495.5 1220.7 L496.5 1222.6 L497.5 1224.4 L498.5 1226.1 L499.5 1227.5 L500.5 1227.6 L501.5 1226.3 L502.5 1224.8 L503.5 1223.2 L504.5 1221.4 L505.5 1219.6 L506.5 1217.7 L507.5 1215.9 L508.5 1214.1 L509.5 1212.5 L510.5 1211.0 L511.5 1209.6 L512.5 1209.4 L513.5 1210.9 L514.5 1212.6 L515.5 1214.5 L516.5 1216.5 L517.5 1218.6 L518.5 1220.8 L519.5 1223.0 L520.5 1225.2 L521.5 1227.3 L522.5 1229.3 L523.5 1231.1 L524.5 1232.7 L525.5 1233.2 L526.5 1230.8 L527.5 1228.0 L528.5 1225.0 L529.5 1221.7 L530.5 1218.3 L531.5 1214.8 L532.5 1211.3 L533.5 1207.9 L534.5 1204.7 L535.5 1201.7 L536.5 1199.0 L537.5 1196.6 L538.5 1198.5 L539.5 1201.3 L540.5 1204.4 L541.5 1207.8 L542.5 1211.4 L543.5 1215.1 L544.5 1218.9 L545.5 1222.6 L546.5 1226.1 L547.5 1229.4 L548.5 1232.4 L549.5 1235.1 L550.5 1235.2 L551.5 1232.8 L552.5 1230.0 L553.5 1227.0 L554.5 1223.7 L555.5 1220.4 L556.5 1216.9 L557.5 1213.5 L558.5 1210.2 L559.5 1207.1 L560.5 1204.2 L561.5 1201.7 L562.5 1199.9 L563.5 1201.5 L564.5 1203.4 L565.5 1205.4 L566.5 1207.7 L567.5 1210.0 L568.5 1212.4 L569.5 1214.9 L570.5 1217.4 L571.5 1219.9 L572.5 1222.3 L573.5 1224.6 L574.5 1226.8 L575.5 1228.7 L576.5 1230.5 L577.5 1231.5 L578.5 1230.7 L579.5 1229.8 L580.5 1228.8 L581.5 1227.7 L582.5 1226.6 L583.5 1225.4 L584.5 1224.3 L585.5 1223.1 L586.5 1222.1 L587.5 1221.1 L588.5 1220.2 L589.5 1219.4 L590.5 1219.4 L591.5 1220.7 L592.5 1222.1 L593.5 1223.6 L594.5 1225.2 L595.5 1226.9 L596.5 1228.6 L597.5 1230.4 L598.5 1232.1 L599.5 1233.7 L600.5 1235.2 L601.5 1236.6 L602.5 1237.8 L603.5 1238.2 L604.5 1236.7 L605.5 1234.8 L606.5 1232.8 L607.5 1230.7 L608.5 1228.4 L609.5 1226.2 L610.5 1224.1 L611.5 1222.1 L612.5 1220.3 L613.5 1218.8 L614.5 1219.9 L615.5 1221.5 L616.5 1223.2 L617.5 1225.2 L618.5 1227.2 L619.5 1229.3 L620.5 1231.3 L621.5 1233.3 L622.5 1235.2 L623.5 1236.9 L624.5 1238.4 L625.5 1238.6 L626.5 1237.4 L627.5 1236.0 L628.5 1234.5 L629.5 1232.9 L630.5 1231.3 L631.5 1229.8 L632.5 1228.4 L633.5 1227.1 L634.5 1226.6 L635.5 1227.1 L636.5 1227.6 L637.5 1228.3 L638.5 1229.0 L639.5 1229.7 L640.5 1230.4 L641.5 1231.1 L642.5 1231.8 L643.5 1232.4 L644.5 1233.0 L645.5 1233.4 L646.5 1233.2 L647.5 1233.0 L648.5 1232.7 L649.5 1232.5 L650.5 1232.3 L651.5 1232.1 L652.5 1231.9 L653.5 1231.8 L654.5 1231.6 L655.5 1231.4 L656.5 1231.2 L657.5 1231.0 L658.5 1230.8 L659.5 1230.7 L660.5 1230.7 L661.5 1230.6 L662.5 1230.5 L663.5 1230.4 L664.5 1230.4 L665.5 1230.3 L666.5 1230.3 L667.5 1230.8 L668.5 1231.4 L669.5 1232.1 L670.5 1232.8 L671.5 1233.5 L672.5 1234.1 L673.5 1234.7 L674.5 1235.2 L675.5 1235.1 L676.5 1234.4 L677.5 1233.5 L678.5 1232.6 L679.5 1231.6 L680.5 1230.7 L681.5 1229.7 L682.5 1228.7 L683.5 1227.9 L684.5 1227.1 L685.5 1226.4 L686.5 1227.2 L687.5 1228.5 L688.5 1229.8 L689.5 1231.4 L690.5 1232.9 L691.5 1234.4 L692.5 1235.9 L693.5 1237.2 L694.5 1238.3 L695.5 1237.9 L696.5 1236.9 L697.5 1235.7 L698.5 1234.5 L699.5 1233.1 L700.5 1231.7 L701.5 1230.4 L702.5 1229.1 L703.5 1228.0 L704.5 1226.9 L705.5 1226.6 L706.5 1227.8 L707.5 1229.1 L708.5 1230.6 L709.5 1232.3 L710.5 1233.9 L711.5 1235.6 L712.5 1237.2 L713.5 1238.7 L714.5 1240.1 L715.5 1241.3 L716.5 1241.0 L717.5 1239.9 L718.5 1238.6 L719.5 1237.2 L720.5 1235.8 L721.5 1234.3 L722.5 1232.7 L723.5 1231.2 L724.5 1229.8 L725.5 1228.5 L726.5 1227.3 L727.5 1226.3 L728.5 1227.1 L729.5 1228.1 L730.5 1229.2 L731.5 1230.4 L732.5 1231.6 L733.5 1232.9 L734.5 1234.2 L735.5 1235.4 L736.5 1236.6 L737.5 1237.8 L738.5 1238.8 L739.5 1239.7 L740.5 1239.6 L741.5 1238.8 L742.5 1237.9 L743.5 1237.0 L744.5 1236.0 L745.5 1234.9 L746.5 1233.8 L747.5 1232.7 L748.5 1231.6 L749.5 1230.5 L750.5 1229.5 L751.5 1228.5 L752.5 1227.6 L753.5 1226.8 L754.5 1226.6 L755.5 1227.9 L756.5 1229.3 L757.5 1230.9 L758.5 1232.6 L759.5 1234.3 L760.5 1236.1 L761.5 1237.9 L762.5 1239.7 L763.5 1241.4 L764.5 1242.9 L765.5 1244.3 L766.5 1245.5 L767.5 1244.1 L768.5 1242.2 L769.5 1240.2 L770.5 1237.9 L771.5 1235.5 L772.5 1233.1 L773.5 1230.6 L774.5 1228.1 L775.5 1225.7 L776.5 1223.4 L777.5 1221.4 L778.5 1219.5 L779.5 1217.9 L780.5 1219.5 L781.5 1221.3 L782.5 1223.3 L783.5 1225.4 L784.5 1227.7 L785.5 1230.0 L786.5 1232.4 L787.5 1234.8 L788.5 1237.1 L789.5 1239.2 L790.5 1241.2 L791.5 1243.0 L792.5 1244.6 L793.5 1244.0 L794.5 1243.0 L795.5 1242.0 L796.5 1240.8 L797.5 1239.6 L798.5 1238.3 L799.5 1237.0 L800.5 1235.7 L801.5 1234.3 L802.5 1233.0 L803.5 1231.6 L804.5 1230.4 L805.5 1229.1 L806.5 1228.0 L807.5 1227.0 L808.5 1226.0 L809.5 1225.1 L810.5 1226.1 L811.5 1227.7 L812.5 1229.5 L813.5 1231.4 L814.5 1233.5 L815.5 1235.6 L816.5 1237.8 L817.5 1239.9 L818.5 1241.9 L819.5 1243.8 L820.5 1245.5 L821.5 1247.0 L822.5 1246.9 L823.5 1244.6 L824.5 1242.0 L825.5 1239.2 L826.5 1236.2 L827.5 1233.1 L828.5 1229.9 L829.5 1226.9 L830.5 1224.0 L831.5 1221.3 L832.5 1219.0 L833.5 1218.1 L834.5 1220.1 L835.5 1222.5 L836.5 1225.2 L837.5 1228.0 L838.5 1230.9 L839.5 1233.9 L840.5 1236.8 L841.5 1239.6 L842.5 1242.1 L843.5 1244.4 L844.5 1246.0 L845.5 1244.8 L846.5 1243.3 L847.5 1241.7 L848.5 1240.0 L849.5 1238.2 L850.5 1236.5 L851.5 1234.9 L852.5 1233.4 L853.5 1232.1 L854.5 1232.6 L855.5 1234.0 L856.5 1235.5 L857.5 1237.2 L858.5 1238.8 L859.5 1240.2 L860.5 1241.3 L861.5 1240.6 L862.5 1239.7 L863.5 1238.8 L864.5 1237.8 L865.5 1236.9 L866.5 1236.0 L867.5 1235.3 L868.5 1235.8 L869.5 1237.0 L870.5 1238.4 L871.5 1239.9 L872.5 1241.5 L873.5 1243.2 L874.5 1244.7 L875.5 1246.2 L876.5 1247.5 L877.5 1248.7 L878.5 1247.9 L879.5 1246.3 L880.5 1244.5 L881.5 1242.5 L882.5 1240.4 L883.5 1238.3 L884.5 1236.3 L885.5 1234.4 L886.5 1232.7 L887.5 1231.2 L888.5 1232.0 L889.5 1233.5 L890.5 1235.2 L891.5 1237.0 L892.5 1238.9 L893.5 1240.8 L894.5 1242.7 L895.5 1244.6 L896.5 1246.3 L897.5 1247.9 L898.5 1249.3 L899.5 1249.4 L900.5 1249.1 L901.5 1248.6 L902.5 1248.1 L903.5 1247.6 L904.5 1247.1 L905.5 1246.5 L906.5 1246.1 L907.5 1245.6 L908.5 1245.2 L909.5 1245.1 L910.5 1245.1 L911.5 1245.1 L912.5 1245.1 L913.5 1245.1 L914.5 1245.1 L915.5 1245.1 L916.5 1245.1 L917.5 1245.2 L918.5 1245.6 L919.5 1246.1 L920.5 1246.6 L921.5 1247.1 L922.5 1247.7 L923.5 1248.2 L924.5 1248.6 L925.5 1248.7 L926.5 1248.6 L927.5 1248.6 L928.5 1248.5 L929.5 1248.5 L930.5 1248.5 L931.5 1248.4 L932.5 1248.4 L933.5 1248.3 L934.5 1248.0 L935.5 1247.6 L936.5 1247.2 L937.5 1246.8 L938.5 1243.8 L939.5 1239.2 L940.5 1231.3 L941.5 1221.3 L942.5 1208.0 L943.5 1181.6 L944.5 1126.0 L945.5 1029.7 L946.5 925.1 L947.5 820.4 L948.5 715.8 L949.5 611.1 L950.5 506.4 L951.5 405.7 L952.5 345.7 L953.5 285.9 L954.5 226.1 L955.2 205.0 L955.5 213.1 L956.5 264.2 L957.5 325.6 L958.5 386.6 L959.5 469.9 L960.5 574.3 L961.5 678.7 L962.5 783.1 L963.5 887.5 L964.5 991.9 L965.5 1096.4 L966.5 1137.2 L967.5 1162.2 L968.5 1182.7 L969.5 1193.1 L970.5 1203.4 L971.5 1213.7 L972.5 1218.7 L973.5 1222.4 L974.5 1226.1 L975.5 1229.9 L976.5 1233.6 L977.5 1237.3 L978.5 1239.5 L979.5 1241.6 L980.5 1243.7 L981.5 1245.8 L982.5 1248.0 L983.5 1248.9 L984.5 1249.4 L985.5 1250.0 L986.5 1250.5 L987.5 1251.1 L988.5 1251.6 L989.5 1252.1 L990.5 1252.6 L991.5 1253.1 L992.5 1253.5 L993.5 1253.1 L994.5 1252.3 L995.5 1251.5 L996.5 1250.5 L997.5 1249.4 L998.5 1248.4 L999.5 1247.2 L1000.5 1246.1 L1001.5 1244.9 L1002.5 1243.8 L1003.5 1242.7 L1004.5 1241.7 L1005.5 1240.8 L1006.5 1239.9 L1007.3 1239.3 L1007.5 1239.1 L1008.5 1240.0 L1009.5 1241.4 L1010.5 1243.0 L1011.5 1244.8 L1012.5 1246.6 L1013.5 1248.6 L1014.5 1250.5 L1015.5 1252.4 L1016.5 1254.3 L1017.5 1256.0 L1018.5 1257.6 L1019.5 1259.0 L1020.5 1259.3 L1021.5 1257.9 L1022.5 1256.3 L1023.5 1254.5 L1024.5 1252.6 L1025.5 1250.7 L1026.5 1248.7 L1027.5 1246.8 L1028.5 1245.0 L1029.5 1243.4 L1030.5 1241.9 L1031.5 1241.3 L1032.5 1242.5 L1033.5 1243.9 L1034.5 1245.5 L1035.5 1247.2 L1036.5 1249.0 L1037.5 1250.8 L1038.5 1252.6 L1039.5 1254.3 L1040.5 1256.0 L1041.5 1257.6 L1042.5 1259.0 L1043.5 1260.2 L1044.5 1259.8 L1045.5 1259.1 L1046.5 1258.3 L1047.5 1257.4 L1048.5 1256.4 L1049.5 1255.5 L1050.5 1254.4 L1051.5 1253.4 L1052.5 1252.3 L1053.5 1251.3 L1054.5 1250.3 L1055.5 1249.3 L1056.5 1248.4 L1057.5 1247.6 L1058.5 1246.9 L1059.5 1246.2 L1060.5 1246.9 L1061.5 1248.0 L1062.5 1249.2 L1063.5 1250.6 L1064.5 1252.0 L1065.5 1253.5 L1066.2 1254.6 L1066.5 1255.0 L1067.5 1256.5 L1068.5 1258.0 L1069.5 1259.4 L1070.5 1260.7 L1071.5 1261.8 L1072.5 1262.9 L1073.5 1263.4 L1074.5 1261.4 L1075.5 1259.1 L1076.5 1256.6 L1077.5 1253.9 L1078.5 1251.2 L1079.5 1248.6 L1080.5 1246.2 L1081.5 1244.2 L1082.5 1244.2 L1083.5 1245.9 L1084.5 1247.9 L1085.5 1250.0 L1086.5 1252.3 L1087.5 1254.6 L1088.5 1257.0 L1089.5 1259.4 L1090.5 1261.7 L1091.5 1263.9 L1092.5 1265.9 L1093.5 1267.6 L1094.5 1268.7 L1095.5 1266.5 L1096.5 1263.9 L1097.5 1261.0 L1098.5 1258.0 L1099.5 1254.8 L1100.5 1251.7 L1101.5 1248.7 L1102.5 1245.9 L1103.5 1243.5 L1104.5 1242.4 L1105.5 1244.6 L1106.5 1247.1 L1107.5 1249.9 L1108.5 1252.9 L1109.5 1256.0 L1110.5 1259.2 L1111.5 1262.3 L1112.5 1265.2 L1113.5 1267.9 L1114.5 1270.4 L1115.5 1272.1 L1116.5 1270.2 L1117.5 1268.0 L1118.5 1265.6 L1119.5 1263.0 L1120.5 1260.3 L1121.5 1257.5 L1122.5 1254.8 L1123.5 1252.2 L1124.5 1249.8 L1125.5 1247.6 L1126.5 1245.7 L1127.5 1247.9 L1128.5 1250.6 L1128.6 1250.9 L1129.5 1253.7 L1130.5 1257.0 L1131.5 1260.2 L1132.5 1263.2 L1133.5 1265.7 L1134.5 1266.5 L1135.5 1266.1 L1136.5 1265.5 L1137.5 1264.9 L1138.5 1264.3 L1139.5 1263.7 L1140.5 1263.0 L1141.5 1262.4 L1142.5 1261.8 L1143.5 1261.4 L1144.5 1261.3 L1145.5 1261.6 L1146.5 1261.9 L1147.5 1262.2 L1148.5 1262.5 L1149.5 1262.8 L1150.5 1263.0 L1151.5 1263.2 L1152.5 1263.0 L1153.5 1262.7 L1154.5 1262.5 L1155.5 1262.2 L1156.5 1261.9 L1157.5 1261.7 L1158.5 1261.4 L1159.5 1261.2 L1160.5 1261.4 L1161.5 1262.0 L1162.5 1262.7 L1163.5 1263.4 L1164.5 1264.2 L1165.5 1264.9 L1166.5 1265.7 L1167.5 1266.5 L1168.5 1267.2 L1169.5 1267.9 L1170.5 1268.4 L1171.5 1268.5 L1172.5 1267.7 L1173.5 1266.8 L1174.5 1265.9 L1175.5 1264.9 L1176.5 1263.9 L1177.5 1263.1 L1178.5 1262.4 L1179.5 1262.7 L1180.5 1263.2 L1181.5 1263.6 L1182.5 1264.1 L1183.5 1264.7 L1184.5 1265.2 L1185.5 1265.8 L1186.5 1266.4 L1187.5 1266.9 L1188.5 1267.4 L1189.5 1267.8 L1190.5 1268.3 L1191.5 1268.4 L1192.5 1268.3 L1193.5 1268.3 L1194.5 1268.3 L1195.5 1268.2 L1196.5 1268.1 L1197.5 1268.1 L1198.5 1268.0 L1199.5 1268.0 L1200.5 1267.9 L1201.5 1267.9 L1202.5 1267.8 L1203.5 1267.8 L1204.5 1267.7 L1205.5 1267.7 L1206.5 1267.6 L1207.5 1267.9 L1208.5 1268.6 L1209.5 1269.4 L1210.5 1270.3 L1211.5 1271.1 L1212.5 1271.8 L1213.5 1272.3 L1214.5 1272.6 L1215.5 1272.9 L1216.5 1273.3 L1217.5 1273.6 L1218.5 1274.0 L1219.5 1274.4 L1220.5 1274.8 L1221.5 1275.2 L1222.5 1275.5 L1223.5 1275.8 L1224.5 1276.0 L1225.5 1275.5 L1226.5 1274.9 L1227.5 1274.3 L1228.5 1273.7 L1229.5 1273.0 L1230.5 1272.3 L1231.5 1271.6 L1232.5 1270.9 L1233.5 1270.3 L1234.5 1269.7 L1235.5 1269.1 L1236.5 1268.6 L1237.5 1268.8 L1238.5 1269.2 L1239.5 1269.6 L1240.5 1270.0 L1241.5 1270.4 L1242.5 1270.9 L1243.5 1271.4 L1244.5 1271.9 L1245.5 1272.5 L1246.5 1273.0 L1247.5 1273.5 L1248.5 1274.0 L1249.5 1274.5 L1250.5 1275.0 L1251.5 1275.4 L1252.5 1275.8 L1253.5 1276.2 L1254.5 1276.0 L1255.5 1275.3 L1256.5 1274.5 L1257.5 1273.6 L1258.5 1272.7 L1259.5 1271.7 L1260.5 1270.7 L1261.5 1269.7 L1262.5 1268.7 L1263.5 1267.7 L1264.5 1266.8 L1265.5 1266.0 L1266.5 1265.2 L1267.5 1264.5 L1268.5 1265.6 L1269.5 1267.2 L1270.5 1269.0 L1271.5 1270.9 L1272.5 1272.9 L1273.5 1274.9 L1274.5 1276.8 L1275.5 1278.6 L1276.5 1280.2 L1277.2 1281.2 L1277.5 1281.5 L1278.5 1281.4 L1279.5 1281.1 L1280.5 1280.8 L1281.5 1280.5 L1282.5 1280.2 L1283.5 1280.0 L1284.5 1279.7 L1285.5 1279.8 L1286.5 1279.9 L1287.5 1280.0 L1288.5 1280.1 L1289.5 1280.2 L1290.5 1280.3 L1291.5 1280.4 L1292.5 1280.4 L1293.5 1280.4 L1294.5 1279.6 L1295.5 1278.6 L1296.5 1277.5 L1297.5 1276.3 L1298.5 1275.0 L1299.5 1273.8 L1300.5 1272.5 L1301.5 1271.3 L1302.5 1270.2 L1303.5 1269.3 L1304.5 1268.4 L1305.5 1270.2 L1306.5 1272.4 L1307.5 1275.0 L1308.5 1277.7 L1309.5 1280.5 L1310.5 1283.3 L1311.5 1286.0 L1312.5 1288.5 L1313.5 1290.8 L1314.5 1292.5 L1315.5 1290.9 L1316.5 1289.1 L1317.5 1287.1 L1318.5 1284.9 L1319.5 1282.5 L1320.5 1280.2 L1321.5 1277.8 L1322.5 1275.5 L1323.5 1273.3 L1324.5 1271.3 L1325.5 1269.5 L1326.5 1268.5 L1327.5 1270.6 L1328.5 1273.0 L1329.5 1275.8 L1330.5 1278.7 L1331.5 1281.8 L1332.5 1284.8 L1333.5 1287.8 L1334.5 1290.6 L1335.5 1293.1 L1336.5 1295.3 L1337.5 1295.4 L1338.5 1295.0 L1339.5 1294.5 L1340.5 1294.0 L1341.5 1293.5 L1342.5 1292.9 L1343.5 1292.2 L1344.5 1291.5 L1345.5 1290.8 L1346.5 1290.1 L1347.5 1289.4 L1348.5 1288.7 L1349.5 1288.0 L1350.5 1287.3 L1351.5 1286.7 L1352.5 1286.0 L1353.5 1285.4 L1354.5 1284.9 L1355.5 1284.4 L1356.5 1284.0 L1357.5 1283.6 L1358.5 1284.8 L1359.5 1286.9 L1360.5 1289.2 L1361.5 1291.8 L1362.5 1294.5 L1363.5 1297.2 L1364.5 1299.8 L1365.5 1302.2 L1366.5 1304.4 L1367.5 1306.3 L1368.5 1304.6 L1369.5 1301.8 L1370.5 1298.7 L1371.5 1295.4 L1372.5 1291.8 L1373.5 1288.2 L1374.5 1284.7 L1375.5 1281.2 L1376.5 1278.0 L1377.5 1275.1 L1378.5 1272.6 L1379.5 1273.7 L1380.0 1275.2 L1380.5 1276.8 L1381.5 1280.2 L1382.5 1283.9 L1383.5 1287.8 L1384.5 1291.8 L1385.5 1295.8 L1386.5 1299.7 L1387.5 1303.3 L1388.5 1306.6 L1389.5 1309.5 L1390.5 1310.0 L1391.5 1308.7 L1392.5 1307.1 L1393.5 1305.3 L1394.5 1303.5 L1395.5 1301.6 L1396.5 1299.7 L1397.5 1298.0 L1398.5 1296.4 L1399.5 1295.1 L1400.5 1295.4 L1401.5 1296.6 L1402.5 1298.1 L1403.5 1299.7 L1404.5 1301.4 L1405.5 1303.1 L1406.5 1304.8 L1407.5 1306.4 L1408.5 1307.8 L1409.5 1309.1 L1410.5 1309.2 L1411.5 1308.9 L1412.5 1308.5 L1413.5 1308.2 L1414.5 1307.8 L1415.5 1307.4 L1416.5 1306.9 L1417.5 1306.5 L1418.5 1306.1 L1419.5 1305.7 L1420.5 1305.4 L1421.5 1305.5 L1422.5 1305.9 L1423.5 1306.3 L1424.5 1306.8 L1425.5 1307.3 L1426.5 1307.8 L1427.5 1308.3 L1428.5 1308.9 L1429.5 1309.4 L1430.5 1310.0 L1431.5 1310.5 L1432.5 1311.0 L1433.5 1311.4 L1434.5 1311.8 L1435.5 1311.4 L1436.5 1310.9 L1437.5 1310.4 L1438.5 1309.9 L1439.5 1309.3 L1440.5 1308.6 L1441.5 1308.0 L1442.5 1307.4 L1443.5 1306.8 L1444.5 1306.2 L1445.5 1305.7 L1446.5 1305.2 L1447.5 1304.7 L1448.5 1304.9 L1449.5 1305.9 L1450.5 1307.1 L1451.5 1308.3 L1452.5 1309.7 L1453.5 1311.1 L1454.5 1312.6 L1455.5 1314.1 L1456.5 1315.6 L1457.5 1317.0 L1458.5 1318.3 L1459.5 1319.6 L1460.5 1320.7 L1461.5 1321.8 L1462.5 1321.2 L1463.5 1320.0 L1464.5 1318.7 L1465.5 1317.2 L1466.5 1315.7 L1467.5 1314.3 L1468.5 1312.9 L1469.5 1311.7 L1470.5 1310.8 L1471.5 1311.3 L1472.5 1311.8 L1473.5 1312.4 L1474.5 1313.0 L1475.5 1313.7 L1476.5 1314.4 L1477.5 1315.0 L1478.5 1315.6 L1479.5 1316.1 L1480.5 1316.5 L1481.5 1316.8 L1482.5 1317.1 L1483.5 1317.5 L1484.5 1317.8 L1485.5 1318.2 L1486.5 1318.6 L1487.5 1318.9 L1488.5 1319.2 L1489.5 1319.5 L1490.5 1319.7 L1491.5 1320.1 L1492.5 1320.5 L1493.5 1321.0 L1494.5 1321.5 L1495.5 1322.1 L1496.5 1322.7 L1497.5 1323.3 L1498.5 1323.9 L1499.5 1324.5 L1500.5 1325.2 L1501.5 1325.9 L1502.5 1326.5 L1503.5 1327.1 L1504.5 1327.7 L1505.5 1328.2 L1506.5 1328.7 L1507.5 1329.1 L1508.5 1329.5 L1509.5 1328.3 L1510.5 1326.4 L1511.5 1324.1 L1512.5 1321.7 L1513.5 1319.2 L1514.5 1316.6 L1515.5 1314.0 L1516.5 1311.5 L1517.5 1309.1 L1518.5 1307.0 L1519.5 1305.2 L1520.5 1306.0 L1521.5 1308.8 L1522.5 1311.9 L1523.5 1315.3 L1524.5 1319.0 L1525.5 1322.7 L1526.5 1326.5 L1527.5 1330.1 L1528.5 1333.5 L1529.5 1336.6 L1530.5 1339.4 L1531.5 1339.3 L1532.5 1336.0 L1533.5 1332.3 L1534.5 1328.1 L1535.5 1323.7 L1536.5 1319.2 L1537.5 1314.6 L1538.5 1310.1 L1539.5 1305.9 L1540.5 1302.0 L1541.5 1298.6 L1542.5 1297.3 L1543.5 1299.9 L1544.5 1302.8 L1545.5 1305.9 L1546.5 1309.4 L1547.5 1312.9 L1548.5 1316.6 L1549.5 1320.3 L1550.5 1323.9 L1551.5 1327.3 L1552.5 1330.4 L1553.5 1333.3 L1554.5 1335.8 L1555.5 1335.4 L1556.5 1334.7 L1557.5 1334.0 L1558.5 1333.2 L1559.5 1332.3 L1560.5 1331.4 L1561.5 1330.5 L1562.5 1329.5 L1563.5 1328.5 L1564.5 1327.4 L1565.5 1326.4 L1566.5 1325.4 L1567.5 1324.5 L1568.5 1323.5 L1569.5 1322.6 L1570.5 1321.8 L1571.5 1321.0 L1572.5 1320.3 L1573.5 1319.7 L1574.5 1319.5 L1575.5 1321.4 L1576.5 1323.6 L1577.5 1326.0 L1578.5 1328.6 L1579.5 1331.3 L1580.5 1334.0 L1581.5 1336.8 L1582.5 1339.4 L1583.5 1342.0 L1584.5 1344.3 L1585.5 1346.5 L1586.5 1348.3 L1587.5 1346.7 L1588.5 1343.8 L1589.5 1340.4 L1590.5 1336.7 L1591.5 1332.8 L1592.5 1329.0 L1593.5 1325.2 L1594.5 1321.7 L1595.5 1318.6 L1596.5 1315.9 L1597.5 1317.4 L1598.5 1319.9 L1599.5 1322.7 L1600.5 1325.8 L1601.5 1328.9 L1602.5 1332.1 L1603.5 1335.2 L1604.5 1338.0 L1605.5 1340.6 L1606.5 1342.8 L1607.5 1341.9 L1608.5 1340.9 L1609.5 1339.7 L1610.5 1338.4 L1611.5 1337.0 L1612.5 1335.7 L1613.5 1334.4 L1614.5 1333.1 L1615.5 1332.1 L1616.5 1331.2 L1617.5 1331.7 L1618.5 1332.2 L1619.5 1332.9 L1620.5 1333.5 L1621.5 1334.2 L1622.5 1334.9 L1623.5 1335.5 L1624.5 1336.1 L1625.5 1336.2 L1626.5 1335.7 L1627.5 1335.1 L1628.5 1334.4 L1629.5 1333.7 L1630.5 1333.0 L1631.5 1332.3 L1632.5 1331.7 L1633.5 1331.2 L1634.5 1331.6 L1635.5 1332.4 L1636.5 1333.4 L1637.5 1334.3 L1638.5 1335.4 L1639.5 1336.5 L1640.5 1337.6 L1641.5 1338.6 L1642.5 1339.6 L1643.5 1340.5 L1644.5 1341.3 L1645.5 1341.1 L1646.5 1340.3 L1647.5 1339.4 L1648.5 1338.3 L1649.5 1337.2 L1650.5 1336.0 L1651.5 1334.9 L1652.5 1333.8 L1653.5 1332.7 L1654.5 1331.7 L1655.5 1330.9 L1656.5 1330.8 L1657.5 1331.5 L1658.5 1332.2 L1659.5 1333.0 L1660.5 1333.9 L1661.5 1334.8 L1662.5 1335.8 L1663.5 1336.8 L1664.5 1337.8 L1665.5 1338.8 L1666.5 1339.8 L1667.5 1340.8 L1668.5 1341.8 L1669.5 1342.7 L1670.5 1343.6 L1671.5 1344.4 L1672.5 1345.1 L1673.5 1345.6 L1674.5 1344.8 L1675.5 1343.9 L1676.5 1342.9 L1677.5 1341.8 L1678.5 1340.7 L1679.5 1339.5 L1680.5 1338.3 L1681.5 1337.2 L1682.5 1336.2 L1683.5 1335.3 L1684.5 1334.4 L1685.5 1334.6 L1686.5 1336.1 L1687.5 1337.7 L1688.5 1339.5 L1689.5 1341.5 L1690.5 1343.5 L1691.5 1345.6 L1692.5 1347.7 L1693.5 1349.7 L1694.5 1351.7 L1695.5 1353.5 L1696.5 1355.2 L1697.5 1356.7 L1698.5 1357.2 L1699.5 1356.2 L1700.5 1355.0 L1701.5 1353.7 L1702.5 1352.3 L1703.5 1350.9 L1704.5 1349.4 L1705.5 1347.9 L1706.5 1346.4 L1707.5 1345.0 L1708.5 1343.7 L1709.5 1342.4 L1710.5 1341.3 L1711.5 1340.9 L1712.5 1341.6 L1713.5 1342.5 L1714.5 1343.4 L1715.5 1344.4 L1716.5 1345.5 L1717.5 1346.6 L1718.5 1347.7 L1719.5 1348.9 L1720.5 1350.1 L1721.5 1351.3 L1722.5 1352.4 L1723.5 1353.5 L1724.5 1354.6 L1725.5 1355.6 L1726.5 1356.5 L1727.5 1357.4 L1728.5 1358.2 L1729.5 1358.4 L1730.5 1357.1 L1731.5 1355.5 L1732.5 1353.8 L1733.5 1351.9 L1734.5 1350.0 L1735.5 1348.0 L1736.5 1346.1 L1737.5 1344.3 L1738.5 1342.7 L1739.5 1341.2 L1740.5 1339.9 L1741.5 1341.6 L1742.5 1343.9 L1743.5 1346.5 L1744.5 1349.3 L1745.5 1352.2 L1746.5 1355.2 L1747.5 1358.2 L1748.5 1361.0 L1749.5 1363.6 L1750.5 1365.9 L1751.5 1367.9 L1752.5 1365.6 L1753.5 1362.8 L1754.5 1359.7 L1755.5 1356.4 L1756.5 1352.9 L1757.5 1349.4 L1758.5 1346.0 L1759.5 1342.8 L1760.5 1339.8 L1761.5 1337.3 L1762.5 1337.6 L1763.5 1340.3 L1764.5 1343.4 L1765.5 1346.8 L1766.5 1350.5 L1767.5 1354.2 L1768.5 1358.1 L1769.5 1361.8 L1770.5 1365.4 L1771.5 1368.8 L1772.5 1371.8 L1773.5 1374.5 L1774.5 1374.0 L1775.5 1372.4 L1776.5 1370.7 L1777.5 1368.7 L1778.5 1366.7 L1779.5 1364.6 L1780.5 1362.6 L1781.5 1360.6 L1782.5 1358.7 L1783.5 1357.1 L1784.5 1355.6 L1785.5 1356.3 L1786.5 1357.3 L1787.5 1358.5 L1788.5 1359.7 L1789.5 1361.0 L1790.5 1362.4 L1791.5 1363.8 L1792.5 1365.3 L1793.5 1366.7 L1794.5 1368.1 L1795.5 1369.5 L1796.5 1370.7 L1797.5 1371.9 L1798.5 1372.9 L1799.5 1373.8 L1800.5 1373.2 L1801.5 1372.6 L1802.5 1371.9 L1803.5 1371.1 L1804.5 1370.3 L1805.5 1369.4 L1806.5 1368.6 L1807.5 1367.7 L1808.5 1366.9 L1809.5 1366.1 L1810.5 1365.4 L1811.5 1364.7 L1812.5 1364.1 L1813.5 1363.6 L1814.5 1365.0 L1815.5 1366.8 L1816.5 1368.8 L1817.5 1371.0 L1818.5 1373.3 L1819.5 1375.5 L1820.5 1377.7 L1821.5 1379.7 L1822.5 1381.4 L1823.5 1382.6 L1824.5 1380.8 L1825.5 1378.8 L1826.5 1376.5 L1827.5 1374.0 L1828.5 1371.4 L1829.5 1368.8 L1830.5 1366.2 L1831.5 1363.8 L1832.5 1361.6 L1833.5 1359.7 L1834.5 1358.8 L1835.5 1361.2 L1836.5 1364.0 L1837.5 1367.1 L1838.5 1370.4 L1839.5 1373.9 L1840.5 1377.3 L1841.5 1380.6 L1842.5 1383.7 L1843.5 1386.5 L1844.5 1389.0 L1845.5 1388.0 L1846.5 1385.6 L1847.5 1382.9 L1848.5 1380.0 L1849.5 1376.9 L1850.5 1373.8 L1851.5 1370.7 L1852.5 1367.9 L1853.5 1365.2 L1854.5 1362.9 L1855.5 1363.0 L1856.5 1365.5 L1857.5 1368.2 L1858.5 1371.2 L1859.5 1374.5 L1860.5 1377.8 L1861.5 1381.1 L1862.5 1384.3 L1863.5 1387.3 L1864.5 1390.1 L1865.5 1392.5 L1866.5 1392.6 L1867.5 1391.2 L1868.5 1389.7 L1869.5 1387.9 L1870.5 1386.1 L1871.5 1384.3 L1872.5 1382.4 L1873.5 1380.8 L1874.5 1379.2 L1875.5 1377.9 L1876.5 1378.3 L1877.5 1379.2 L1878.5 1380.3 L1879.5 1381.4 L1880.5 1382.5 L1881.5 1383.7 L1882.5 1384.9 L1883.5 1386.1 L1884.5 1387.2 L1885.5 1388.1 L1886.5 1389.0 L1887.5 1389.6 L1888.5 1390.2 L1889.5 1391.0 L1890.5 1391.7 L1891.5 1392.4 L1892.5 1393.1 L1893.5 1393.7 L1894.5 1393.8 L1895.5 1393.0 L1896.5 1391.9 L1897.5 1390.8 L1898.5 1389.7 L1899.5 1388.9 L1900.5 1389.5 L1901.5 1390.4 L1902.5 1391.5 L1903.5 1392.7 L1904.5 1393.8 L1905.5 1394.8 L1906.5 1395.5 L1907.5 1396.2 L1908.5 1396.9 L1909.5 1397.7 L1910.5 1398.6 L1911.5 1399.4 L1912.5 1400.3 L1913.5 1401.1 L1914.5 1401.8 L1915.5 1402.4 L1916.5 1402.0 L1917.5 1400.6 L1918.5 1398.8 L1919.5 1397.0 L1920.5 1395.0 L1921.5 1393.1 L1922.5 1391.3 L1923.5 1389.7 L1924.5 1388.3 L1925.5 1389.4 L1926.5 1391.3 L1927.5 1393.5 L1928.5 1395.8 L1929.5 1398.3 L1930.5 1400.9 L1931.5 1403.4 L1932.5 1405.8 L1933.5 1408.0 L1934.5 1410.0 L1935.5 1411.7 L1936.5 1410.2 L1937.5 1408.1 L1938.5 1405.7 L1939.5 1403.1 L1940.5 1400.4 L1941.5 1397.6 L1942.5 1394.8 L1943.5 1392.2 L1944.5 1389.6 L1945.5 1387.3 L1946.5 1385.2 L1947.5 1384.8 L1948.5 1387.1 L1949.5 1389.7 L1950.5 1392.5 L1951.5 1395.6 L1952.5 1398.8 L1953.5 1402.1 L1954.5 1405.2 L1955.5 1408.3 L1956.5 1411.1 L1957.5 1413.6 L1958.5 1415.7 L1959.5 1414.8 L1960.5 1413.8 L1961.5 1412.7 L1962.5 1411.6 L1963.5 1410.3 L1964.5 1409.0 L1965.5 1407.7 L1966.5 1406.4 L1967.5 1405.2 L1968.5 1404.1 L1969.5 1403.1 L1970.5 1402.2 L1971.5 1403.1 L1972.5 1404.1 L1973.5 1405.2 L1974.5 1406.3 L1975.5 1407.6 L1976.5 1408.9 L1977.5 1410.2 L1978.5 1411.6 L1979.5 1412.9 L1980.5 1414.2 L1981.5 1415.5 L1982.5 1416.7 L1983.5 1417.8 L1984.5 1418.8 L1985.5 1419.7 L1986.5 1419.3 L1987.5 1418.4 L1988.5 1417.5 L1989.5 1416.5 L1990.5 1415.4 L1991.5 1414.3 L1992.5 1413.1 L1993.5 1412.0 L1994.5 1410.8 L1995.5 1409.7 L1996.5 1408.7 L1997.5 1407.7 L1998.5 1406.9 L1999.5 1406.1 L2000.5 1406.5 L2001.5 1407.8 L2002.5 1409.2 L2003.5 1410.7 L2004.5 1412.3 L2005.5 1413.9 L2006.5 1415.6 L2007.5 1417.1 L2008.5 1418.6 L2009.5 1419.9 L2010.5 1421.1 L2011.5 1421.4 L2012.5 1421.3 L2013.5 1421.3 L2014.5 1421.2 L2015.5 1421.2 L2016.5 1421.2 L2017.5 1421.3 L2018.5 1422.0 L2019.5 1422.8 L2020.5 1423.7 L2021.5 1424.6 L2022.5 1425.5 L2023.5 1426.4 L2024.5 1427.1 L2025.5 1427.1 L2026.5 1426.5 L2027.5 1425.9 L2028.5 1425.2 L2029.5 1424.4 L2030.5 1423.7 L2031.5 1422.9 L2032.5 1422.2 L2033.5 1421.5 L2034.5 1420.9 L2035.5 1420.4 L2036.5 1421.1 L2037.5 1422.6 L2038.5 1424.2 L2039.5 1426.0 L2040.5 1427.9 L2041.5 1429.8 L2042.5 1431.8 L2043.5 1433.7 L2044.5 1435.5 L2045.5 1437.3 L2046.5 1438.8 L2047.5 1440.2 L2048.5 1439.4 L2049.5 1437.5 L2050.5 1435.3 L2051.5 1433.0 L2052.5 1430.6 L2053.5 1428.3 L2054.5 1426.3 L2055.5 1424.8 L2056.5 1424.8 L2057.5 1424.8 L2058.5 1424.8" stroke="#00ffff" stroke-width="6"/>
<path d="M311.5 1230.9 L312.5 1230.7 L313.5 1229.2 L314.5 1227.3 L315.5 1225.3 L316.5 1223.0 L317.5 1220.8 L318.5 1218.5 L319.5 1216.4 L320.5 1214.4 L321.5 1212.7 L322.5 1212.1 L323.5 1214.7 L324.5 1217.8 L325.5 1221.2 L326.5 1224.8 L327.5 1228.7 L328.5 1232.6 L329.5 1236.4 L330.5 1240.1 L331.5 1243.7 L332.5 1246.9 L333.5 1249.7 L334.5 1250.2 L335.5 1246.5 L336.5 1242.2 L337.5 1237.5 L338.5 1232.5 L339.5 1227.3 L340.5 1222.0 L341.5 1216.7 L342.5 1211.7 L343.5 1207.0 L344.5 1202.8 L345.5 1199.1 L346.5 1200.3 L347.5 1203.7 L348.5 1207.6 L349.5 1211.8 L350.5 1216.3 L351.5 1220.9 L352.5 1225.4 L353.5 1229.9 L354.5 1234.0 L355.5 1237.8 L356.5 1241.1 L357.5 1241.5 L358.5 1239.6 L359.5 1237.6 L360.5 1235.4 L361.5 1233.0 L362.5 1230.5 L363.5 1227.9 L364.5 1225.3 L365.5 1222.8 L366.5 1220.4 L367.5 1218.1 L368.5 1216.1 L369.5 1214.2 L370.5 1213.8 L371.5 1215.0 L372.5 1216.3 L373.5 1217.7 L374.5 1219.2 L375.5 1220.8 L376.5 1222.5 L377.5 1224.2 L378.5 1226.0 L379.5 1227.7 L380.5 1229.3 L381.5 1230.9 L382.5 1232.3 L383.5 1233.7 L384.5 1234.9 L385.5 1235.7 L386.5 1233.5 L387.5 1231.1 L388.5 1228.5 L389.5 1225.6 L390.5 1222.6 L391.5 1219.5 L392.5 1216.4 L393.5 1213.3 L394.5 1210.4 L395.5 1207.6 L396.5 1205.1 L397.5 1202.8 L398.5 1201.9 L399.5 1204.8 L400.5 1208.1 L401.5 1211.9 L402.5 1215.8 L403.5 1220.0 L404.5 1224.1 L405.5 1228.1 L406.5 1231.9 L407.5 1235.3 L408.5 1238.2 L409.5 1237.7 L410.5 1234.6 L411.5 1231.0 L412.5 1227.1 L413.5 1223.0 L414.5 1218.8 L415.5 1214.6 L416.5 1210.6 L417.5 1206.9 L418.5 1203.6 L419.5 1200.7 L420.5 1203.0 L421.5 1205.9 L422.5 1209.1 L423.5 1212.6 L424.5 1216.3 L425.5 1220.1 L426.5 1223.8 L427.5 1227.3 L428.5 1230.6 L429.5 1233.5 L430.5 1235.8 L431.5 1233.6 L432.5 1231.1 L433.5 1228.3 L434.5 1225.3 L435.5 1222.2 L436.5 1219.0 L437.5 1215.9 L438.5 1212.9 L439.5 1210.3 L440.5 1207.9 L441.5 1207.3 L442.5 1209.0 L443.5 1211.1 L444.5 1213.3 L445.5 1215.6 L446.5 1218.1 L447.5 1220.6 L448.5 1223.0 L449.5 1225.3 L450.5 1227.4 L451.5 1229.3 L452.5 1230.3 L453.5 1229.6 L454.5 1228.8 L455.5 1227.9 L456.5 1226.9 L457.5 1225.9 L458.5 1224.8 L459.5 1223.8 L460.5 1222.7 L461.5 1221.6 L462.5 1220.6 L463.5 1219.7 L464.5 1218.8 L465.5 1218.0 L466.5 1217.5 L467.5 1218.2 L468.5 1219.0 L469.5 1219.9 L470.5 1220.8 L471.5 1221.8 L472.5 1222.8 L473.5 1223.8 L474.5 1224.7 L475.5 1225.6 L476.5 1226.4 L477.5 1227.2 L478.5 1227.4 L479.5 1226.4 L480.5 1225.3 L481.5 1224.1 L482.5 1222.7 L483.5 1221.4 L484.5 1220.0 L485.5 1218.6 L486.5 1217.3 L487.5 1216.0 L488.5 1214.9 L489.5 1213.9 L490.5 1213.9 L491.5 1215.3 L492.5 1217.0 L493.5 1218.9 L494.5 1220.9 L495.5 1222.9 L496.5 1224.9 L497.5 1226.8 L498.5 1228.5 L499.5 1229.9 L500.5 1230.0 L501.5 1228.7 L502.5 1227.1 L503.5 1225.5 L504.5 1223.7 L505.5 1221.8 L506.5 1219.9 L507.5 1218.0 L508.5 1216.2 L509.5 1214.5 L510.5 1213.0 L511.5 1211.6 L512.5 1211.3 L513.5 1212.9 L514.5 1214.7 L515.5 1216.6 L516.5 1218.7 L517.5 1220.9 L518.5 1223.1 L519.5 1225.4 L520.5 1227.6 L521.5 1229.8 L522.5 1231.8 L523.5 1233.6 L524.5 1235.3 L525.5 1235.8 L526.5 1233.3 L527.5 1230.5 L528.5 1227.4 L529.5 1224.1 L530.5 1220.5 L531.5 1216.9 L532.5 1213.3 L533.5 1209.8 L534.5 1206.5 L535.5 1203.4 L536.5 1200.6 L537.5 1198.2 L538.5 1200.1 L539.5 1203.0 L540.5 1206.2 L541.5 1209.7 L542.5 1213.4 L543.5 1217.3 L544.5 1221.1 L545.5 1224.9 L546.5 1228.6 L547.5 1232.0 L548.5 1235.1 L549.5 1237.9 L550.5 1238.0 L551.5 1235.5 L552.5 1232.6 L553.5 1229.5 L554.5 1226.1 L555.5 1222.7 L556.5 1219.1 L557.5 1215.6 L558.5 1212.2 L559.5 1209.0 L560.5 1206.0 L561.5 1203.3 L562.5 1201.5 L563.5 1203.2 L564.5 1205.1 L565.5 1207.2 L566.5 1209.5 L567.5 1211.9 L568.5 1214.4 L569.5 1217.0 L570.5 1219.5 L571.5 1222.1 L572.5 1224.5 L573.5 1226.9 L574.5 1229.1 L575.5 1231.1 L576.5 1232.9 L577.5 1233.9 L578.5 1233.1 L579.5 1232.2 L580.5 1231.2 L581.5 1230.1 L582.5 1228.9 L583.5 1227.7 L584.5 1226.5 L585.5 1225.4 L586.5 1224.3 L587.5 1223.2 L588.5 1222.3 L589.5 1221.5 L590.5 1221.5 L591.5 1222.8 L592.5 1224.2 L593.5 1225.7 L594.5 1227.4 L595.5 1229.1 L596.5 1230.9 L597.5 1232.7 L598.5 1234.4 L599.5 1236.1 L600.5 1237.6 L601.5 1239.1 L602.5 1240.3 L603.5 1240.8 L604.5 1239.1 L605.5 1237.2 L606.5 1235.2 L607.5 1232.9 L608.5 1230.6 L609.5 1228.3 L610.5 1226.1 L611.5 1224.1 L612.5 1222.3 L613.5 1220.7 L614.5 1221.8 L615.5 1223.4 L616.5 1225.2 L617.5 1227.2 L618.5 1229.3 L619.5 1231.4 L620.5 1233.6 L621.5 1235.6 L622.5 1237.6 L623.5 1239.3 L624.5 1240.9 L625.5 1241.0 L626.5 1239.8 L627.5 1238.4 L628.5 1236.8 L629.5 1235.2 L630.5 1233.5 L631.5 1231.9 L632.5 1230.5 L633.5 1229.2 L634.5 1228.6 L635.5 1229.2 L636.5 1229.8 L637.5 1230.4 L638.5 1231.1 L639.5 1231.9 L640.5 1232.6 L641.5 1233.3 L642.5 1234.0 L643.5 1234.7 L644.5 1235.3 L645.5 1235.6 L646.5 1235.5 L647.5 1235.2 L648.5 1235.0 L649.5 1234.7 L650.5 1234.5 L651.5 1234.3 L652.5 1234.1 L653.5 1234.0 L654.5 1233.8 L655.5 1233.6 L656.5 1233.4 L657.5 1233.2 L658.5 1233.0 L659.5 1232.9 L660.5 1232.8 L661.5 1232.8 L662.5 1232.7 L663.5 1232.6 L664.5 1232.5 L665.5 1232.5 L666.5 1232.5 L667.5 1233.0 L668.5 1233.6 L669.5 1234.3 L670.5 1235.0 L671.5 1235.7 L672.5 1236.4 L673.5 1237.0 L674.5 1237.5 L675.5 1237.4 L676.5 1236.7 L677.5 1235.8 L678.5 1234.9 L679.5 1233.9 L680.5 1232.8 L681.5 1231.8 L682.5 1230.8 L683.5 1229.9 L684.5 1229.1 L685.5 1228.4 L686.5 1229.2 L687.5 1230.5 L688.5 1232.0 L689.5 1233.5 L690.5 1235.1 L691.5 1236.7 L692.5 1238.2 L693.5 1239.5 L694.5 1240.7 L695.5 1240.3 L696.5 1239.2 L697.5 1238.0 L698.5 1236.7 L699.5 1235.3 L700.5 1233.9 L701.5 1232.5 L702.5 1231.2 L703.5 1230.0 L704.5 1228.9 L705.5 1228.6 L706.5 1229.8 L707.5 1231.2 L708.5 1232.8 L709.5 1234.4 L710.5 1236.2 L711.5 1237.9 L712.5 1239.5 L713.5 1241.1 L714.5 1242.5 L715.5 1243.7 L716.5 1243.4 L717.5 1242.3 L718.5 1241.0 L719.5 1239.6 L720.5 1238.0 L721.5 1236.5 L722.5 1234.9 L723.5 1233.3 L724.5 1231.9 L725.5 1230.5 L726.5 1229.3 L727.5 1228.3 L728.5 1229.1 L729.5 1230.1 L730.5 1231.3 L731.5 1232.5 L732.5 1233.7 L733.5 1235.1 L734.5 1236.4 L735.5 1237.7 L736.5 1238.9 L737.5 1240.1 L738.5 1241.1 L739.5 1242.1 L740.5 1241.9 L741.5 1241.1 L742.5 1240.2 L743.5 1239.2 L744.5 1238.2 L745.5 1237.1 L746.5 1236.0 L747.5 1234.8 L748.5 1233.7 L749.5 1232.6 L750.5 1231.5 L751.5 1230.6 L752.5 1229.7 L753.5 1228.8 L754.5 1228.7 L755.5 1230.0 L756.5 1231.4 L757.5 1233.0 L758.5 1234.8 L759.5 1236.6 L760.5 1238.4 L761.5 1240.3 L762.5 1242.1 L763.5 1243.8 L764.5 1245.4 L765.5 1246.8 L766.5 1248.1 L767.5 1246.6 L768.5 1244.7 L769.5 1242.6 L770.5 1240.2 L771.5 1237.8 L772.5 1235.2 L773.5 1232.7 L774.5 1230.1 L775.5 1227.6 L776.5 1225.3 L777.5 1223.2 L778.5 1221.2 L779.5 1219.6 L780.5 1221.3 L781.5 1223.1 L782.5 1225.2 L783.5 1227.4 L784.5 1229.7 L785.5 1232.1 L786.5 1234.6 L787.5 1237.0 L788.5 1239.4 L789.5 1241.6 L790.5 1243.7 L791.5 1245.5 L792.5 1247.2 L793.5 1246.5 L794.5 1245.5 L795.5 1244.4 L796.5 1243.2 L797.5 1242.0 L798.5 1240.7 L799.5 1239.3 L800.5 1238.0 L801.5 1236.6 L802.5 1235.2 L803.5 1233.8 L804.5 1232.5 L805.5 1231.2 L806.5 1230.1 L807.5 1229.0 L808.5 1228.0 L809.5 1227.1 L810.5 1228.1 L811.5 1229.7 L812.5 1231.6 L813.5 1233.6 L814.5 1235.7 L815.5 1237.9 L816.5 1240.1 L817.5 1242.2 L818.5 1244.3 L819.5 1246.2 L820.5 1248.0 L821.5 1249.6 L822.5 1249.5 L823.5 1247.2 L824.5 1244.5 L825.5 1241.6 L826.5 1238.4 L827.5 1235.2 L828.5 1232.0 L829.5 1228.8 L830.5 1225.8 L831.5 1223.1 L832.5 1220.7 L833.5 1219.7 L834.5 1221.9 L835.5 1224.3 L836.5 1227.1 L837.5 1230.0 L838.5 1233.0 L839.5 1236.1 L840.5 1239.1 L841.5 1241.9 L842.5 1244.6 L843.5 1246.9 L844.5 1248.5 L845.5 1247.2 L846.5 1245.7 L847.5 1244.1 L848.5 1242.3 L849.5 1240.5 L850.5 1238.7 L851.5 1237.0 L852.5 1235.5 L853.5 1234.1 L854.5 1234.7 L855.5 1236.1 L856.5 1237.7 L857.5 1239.4 L858.5 1241.0 L859.5 1242.5 L860.5 1243.6 L861.5 1242.9 L862.5 1242.0 L863.5 1241.1 L864.5 1240.0 L865.5 1239.0 L866.5 1238.1 L867.5 1237.4 L868.5 1237.8 L869.5 1239.1 L870.5 1240.6 L871.5 1242.1 L872.5 1243.8 L873.5 1245.5 L874.5 1247.1 L875.5 1248.6 L876.5 1250.0 L877.5 1251.2 L878.5 1250.4 L879.5 1248.7 L880.5 1246.8 L881.5 1244.8 L882.5 1242.6 L883.5 1240.4 L884.5 1238.3 L885.5 1236.3 L886.5 1234.6 L887.5 1233.0 L888.5 1233.9 L889.5 1235.4 L890.5 1237.1 L891.5 1239.0 L892.5 1240.9 L893.5 1242.9 L894.5 1244.9 L895.5 1246.8 L896.5 1248.6 L897.5 1250.2 L898.5 1251.7 L899.5 1251.8 L900.5 1251.4 L901.5 1250.9 L902.5 1250.4 L903.5 1249.9 L904.5 1249.3 L905.5 1248.8 L906.5 1248.3 L907.5 1247.8 L908.5 1247.4 L909.5 1247.4 L910.5 1247.3 L911.5 1247.3 L912.5 1247.3 L913.5 1247.3 L914.5 1247.3 L915.5 1247.3 L916.5 1247.3 L917.5 1247.4 L918.5 1247.8 L919.5 1248.3 L920.5 1248.8 L921.5 1249.4 L922.5 1249.9 L923.5 1250.4 L924.5 1250.8 L925.5 1250.9 L926.5 1250.9 L927.5 1250.9 L928.5 1250.8 L929.5 1250.8 L930.5 1250.7 L931.5 1250.7 L932.5 1250.6 L933.5 1250.6 L934.5 1250.3 L935.5 1249.9 L936.5 1249.4 L937.5 1249.0 L938.5 1248.5 L939.5 1248.0 L940.5 1247.5 L941.5 1247.1 L942.5 1246.6 L943.5 1246.3 L944.5 1245.9 L945.5 1245.9 L946.5 1246.0 L947.5 1246.1 L948.5 1246.1 L949.5 1246.2 L950.5 1246.3 L951.5 1246.7 L952.5 1247.5 L953.5 1248.3 L954.5 1249.2 L955.2 1249.8 L955.5 1250.1 L956.5 1251.0 L957.5 1251.7 L958.5 1252.1 L959.5 1251.8 L960.5 1251.5 L961.5 1251.1 L962.5 1250.8 L963.5 1250.4 L964.5 1250.1 L965.5 1249.8 L966.5 1249.7 L967.5 1249.6 L968.5 1249.6 L969.5 1249.4 L970.5 1249.3 L971.5 1249.2 L972.5 1249.1 L973.5 1249.0 L974.5 1248.9 L975.5 1248.8 L976.5 1248.7 L977.5 1248.6 L978.5 1248.7 L979.5 1249.1 L980.5 1249.6 L981.5 1250.0 L982.5 1250.6 L983.5 1251.1 L984.5 1251.7 L985.5 1252.3 L986.5 1252.8 L987.5 1253.4 L988.5 1254.0 L989.5 1254.5 L990.5 1255.0 L991.5 1253.7 L992.5 1249.9 L993.5 1243.1 L994.5 1232.6 L995.5 1221.9 L996.5 1194.4 L997.5 1144.6 L998.5 1046.6 L999.5 926.5 L1000.5 806.4 L1001.5 686.3 L1002.5 566.2 L1003.5 446.1 L1004.5 354.4 L1005.5 283.0 L1006.5 211.6 L1007.3 181.0 L1007.5 186.2 L1008.5 241.0 L1009.5 314.8 L1010.5 388.8 L1011.5 506.6 L1012.5 630.1 L1013.5 753.6 L1014.5 877.2 L1015.5 1000.7 L1016.5 1124.1 L1017.5 1176.6 L1018.5 1206.8 L1019.5 1229.1 L1020.5 1236.7 L1021.5 1242.3 L1022.5 1247.2 L1023.5 1247.2 L1024.5 1246.4 L1025.5 1243.4 L1026.5 1238.4 L1027.5 1233.3 L1028.5 1228.6 L1029.5 1224.7 L1030.5 1222.0 L1031.5 1221.4 L1032.5 1223.8 L1033.5 1227.5 L1034.5 1231.9 L1035.5 1236.7 L1036.5 1241.6 L1037.5 1246.2 L1038.5 1250.2 L1039.5 1253.7 L1040.5 1256.6 L1041.5 1258.9 L1042.5 1260.8 L1043.5 1262.4 L1044.5 1262.1 L1045.5 1261.4 L1046.5 1260.6 L1047.5 1259.7 L1048.5 1258.7 L1049.5 1257.7 L1050.5 1256.7 L1051.5 1255.6 L1052.5 1254.5 L1053.5 1253.5 L1054.5 1252.4 L1055.5 1251.5 L1056.5 1250.5 L1057.5 1249.7 L1058.5 1248.9 L1059.5 1248.2 L1060.5 1248.9 L1061.5 1250.0 L1062.5 1251.3 L1063.5 1252.7 L1064.5 1254.1 L1065.5 1255.7 L1066.2 1256.7 L1066.5 1257.2 L1067.5 1258.8 L1068.5 1260.3 L1069.5 1261.7 L1070.5 1263.0 L1071.5 1264.3 L1072.5 1265.4 L1073.5 1265.8 L1074.5 1263.8 L1075.5 1261.5 L1076.5 1258.8 L1077.5 1256.1 L1078.5 1253.3 L1079.5 1250.6 L1080.5 1248.2 L1081.5 1246.1 L1082.5 1246.1 L1083.5 1247.8 L1084.5 1249.8 L1085.5 1252.0 L1086.5 1254.4 L1087.5 1256.8 L1088.5 1259.3 L1089.5 1261.7 L1090.5 1264.1 L1091.5 1266.3 L1092.5 1268.4 L1093.5 1270.2 L1094.5 1271.3 L1095.5 1269.0 L1096.5 1266.3 L1097.5 1263.4 L1098.5 1260.2 L1099.5 1257.0 L1100.5 1253.7 L1101.5 1250.6 L1102.5 1247.8 L1103.5 1245.3 L1104.5 1244.1 L1105.5 1246.4 L1106.5 1249.0 L1107.5 1251.9 L1108.5 1255.0 L1109.5 1258.2 L1110.5 1261.4 L1111.5 1264.6 L1112.5 1267.7 L1113.5 1270.5 L1114.5 1273.0 L1115.5 1274.7 L1116.5 1272.8 L1117.5 1270.5 L1118.5 1268.1 L1119.5 1265.4 L1120.5 1262.5 L1121.5 1259.7 L1122.5 1256.9 L1123.5 1254.2 L1124.5 1251.7 L1125.5 1249.5 L1126.5 1247.5 L1127.5 1249.7 L1128.5 1252.6 L1128.6 1252.9 L1129.5 1255.8 L1130.5 1259.1 L1131.5 1262.5 L1132.5 1265.5 L1133.5 1268.1 L1134.5 1268.9 L1135.5 1268.5 L1136.5 1267.9 L1137.5 1267.3 L1138.5 1266.6 L1139.5 1265.9 L1140.5 1265.2 L1141.5 1264.6 L1142.5 1264.0 L1143.5 1263.5 L1144.5 1263.5 L1145.5 1263.8 L1146.5 1264.1 L1147.5 1264.4 L1148.5 1264.7 L1149.5 1265.0 L1150.5 1265.3 L1151.5 1265.4 L1152.5 1265.2 L1153.5 1265.0 L1154.5 1264.7 L1155.5 1264.4 L1156.5 1264.1 L1157.5 1263.8 L1158.5 1263.5 L1159.5 1263.3 L1160.5 1263.5 L1161.5 1264.1 L1162.5 1264.8 L1163.5 1265.6 L1164.5 1266.4 L1165.5 1267.2 L1166.5 1268.0 L1167.5 1268.8 L1168.5 1269.5 L1169.5 1270.2 L1170.5 1270.8 L1171.5 1270.8 L1172.5 1270.0 L1173.5 1269.1 L1174.5 1268.1 L1175.5 1267.0 L1176.5 1266.1 L1177.5 1265.2 L1178.5 1264.5 L1179.5 1264.8 L1180.5 1265.3 L1181.5 1265.8 L1182.5 1266.3 L1183.5 1266.8 L1184.5 1267.4 L1185.5 1268.0 L1186.5 1268.5 L1187.5 1269.1 L1188.5 1269.6 L1189.5 1270.1 L1190.5 1270.5 L1191.5 1270.6 L1192.5 1270.6 L1193.5 1270.5 L1194.5 1270.4 L1195.5 1270.4 L1196.5 1270.3 L1197.5 1270.2 L1198.5 1270.2 L1199.5 1270.1 L1200.5 1270.1 L1201.5 1270.0 L1202.5 1270.0 L1203.5 1269.9 L1204.5 1269.9 L1205.5 1269.8 L1206.5 1269.7 L1207.5 1270.0 L1208.5 1270.8 L1209.5 1271.6 L1210.5 1272.5 L1211.5 1273.3 L1212.5 1274.1 L1213.5 1274.6 L1214.5 1274.9 L1215.5 1275.2 L1216.5 1275.5 L1217.5 1275.9 L1218.5 1276.3 L1219.5 1276.7 L1220.5 1277.1 L1221.5 1277.5 L1222.5 1277.9 L1223.5 1278.2 L1224.5 1278.3 L1225.5 1277.8 L1226.5 1277.2 L1227.5 1276.6 L1228.5 1276.0 L1229.5 1275.2 L1230.5 1274.5 L1231.5 1273.8 L1232.5 1273.1 L1233.5 1272.4 L1234.5 1271.8 L1235.5 1271.2 L1236.5 1270.7 L1237.5 1270.9 L1238.5 1271.3 L1239.5 1271.7 L1240.5 1272.1 L1241.5 1272.6 L1242.5 1273.1 L1243.5 1273.6 L1244.5 1274.1 L1245.5 1274.7 L1246.5 1275.2 L1247.5 1275.8 L1248.5 1276.3 L1249.5 1276.8 L1250.5 1277.3 L1251.5 1277.7 L1252.5 1278.1 L1253.5 1278.5 L1254.5 1278.3 L1255.5 1277.6 L1256.5 1276.8 L1257.5 1275.8 L1258.5 1274.9 L1259.5 1273.8 L1260.5 1272.8 L1261.5 1271.7 L1262.5 1270.7 L1263.5 1269.7 L1264.5 1268.8 L1265.5 1267.9 L1266.5 1267.1 L1267.5 1266.4 L1268.5 1267.5 L1269.5 1269.2 L1270.5 1271.0 L1271.5 1273.0 L1272.5 1275.0 L1273.5 1277.1 L1274.5 1279.1 L1275.5 1280.9 L1276.5 1282.5 L1277.2 1283.6 L1277.5 1284.0 L1278.5 1283.8 L1279.5 1283.5 L1280.5 1283.2 L1281.5 1282.9 L1282.5 1282.6 L1283.5 1282.3 L1284.5 1282.1 L1285.5 1282.1 L1286.5 1282.2 L1287.5 1282.3 L1288.5 1282.4 L1289.5 1282.5 L1290.5 1282.6 L1291.5 1282.7 L1292.5 1282.7 L1293.5 1282.7 L1294.5 1281.8 L1295.5 1280.8 L1296.5 1279.7 L1297.5 1278.4 L1298.5 1277.1 L1299.5 1275.8 L1300.5 1274.5 L1301.5 1273.3 L1302.5 1272.2 L1303.5 1271.1 L1304.5 1270.3 L1305.5 1272.1 L1306.5 1274.4 L1307.5 1277.0 L1308.5 1279.8 L1309.5 1282.7 L1310.5 1285.6 L1311.5 1288.4 L1312.5 1291.0 L1313.5 1293.3 L1314.5 1295.1 L1315.5 1293.5 L1316.5 1291.6 L1317.5 1289.4 L1318.5 1287.2 L1319.5 1284.8 L1320.5 1282.3 L1321.5 1279.8 L1322.5 1277.4 L1323.5 1275.2 L1324.5 1273.1 L1325.5 1271.2 L1326.5 1270.2 L1327.5 1272.4 L1328.5 1274.9 L1329.5 1277.7 L1330.5 1280.8 L1331.5 1283.9 L1332.5 1287.0 L1333.5 1290.1 L1334.5 1292.9 L1335.5 1295.5 L1336.5 1297.8 L1337.5 1297.9 L1338.5 1297.5 L1339.5 1297.0 L1340.5 1296.4 L1341.5 1295.8 L1342.5 1295.2 L1343.5 1294.5 L1344.5 1293.9 L1345.5 1293.1 L1346.5 1292.4 L1347.5 1291.7 L1348.5 1291.0 L1349.5 1290.2 L1350.5 1289.5 L1351.5 1288.9 L1352.5 1288.2 L1353.5 1287.6 L1354.5 1287.0 L1355.5 1286.5 L1356.5 1286.0 L1357.5 1285.6 L1358.5 1286.8 L1359.5 1289.0 L1360.5 1291.4 L1361.5 1294.0 L1362.5 1296.8 L1363.5 1299.6 L1364.5 1302.2 L1365.5 1304.7 L1366.5 1307.0 L1367.5 1308.9 L1368.5 1307.2 L1369.5 1304.3 L1370.5 1301.1 L1371.5 1297.7 L1372.5 1294.0 L1373.5 1290.3 L1374.5 1286.6 L1375.5 1283.0 L1376.5 1279.7 L1377.5 1276.7 L1378.5 1274.1 L1379.5 1275.2 L1380.0 1276.8 L1380.5 1278.4 L1381.5 1281.9 L1382.5 1285.7 L1383.5 1289.7 L1384.5 1293.9 L1385.5 1298.0 L1386.5 1302.0 L1387.5 1305.7 L1388.5 1309.1 L1389.5 1312.1 L1390.5 1312.6 L1391.5 1311.2 L1392.5 1309.6 L1393.5 1307.7 L1394.5 1305.8 L1395.5 1303.9 L1396.5 1302.0 L1397.5 1300.2 L1398.5 1298.5 L1399.5 1297.1 L1400.5 1297.4 L1401.5 1298.8 L1402.5 1300.3 L1403.5 1301.9 L1404.5 1303.6 L1405.5 1305.4 L1406.5 1307.1 L1407.5 1308.7 L1408.5 1310.2 L1409.5 1311.4 L1410.5 1311.5 L1411.5 1311.2 L1412.5 1310.9 L1413.5 1310.5 L1414.5 1310.0 L1415.5 1309.6 L1416.5 1309.2 L1417.5 1308.7 L1418.5 1308.3 L1419.5 1307.9 L1420.5 1307.6 L1421.5 1307.7 L1422.5 1308.1 L1423.5 1308.5 L1424.5 1309.0 L1425.5 1309.5 L1426.5 1310.0 L1427.5 1310.6 L1428.5 1311.1 L1429.5 1311.7 L1430.5 1312.2 L1431.5 1312.8 L1432.5 1313.2 L1433.5 1313.7 L1434.5 1314.0 L1435.5 1313.6 L1436.5 1313.1 L1437.5 1312.6 L1438.5 1312.0 L1439.5 1311.4 L1440.5 1310.8 L1441.5 1310.1 L1442.5 1309.5 L1443.5 1308.9 L1444.5 1308.3 L1445.5 1307.7 L1446.5 1307.2 L1447.5 1306.7 L1448.5 1306.8 L1449.5 1307.9 L1450.5 1309.1 L1451.5 1310.4 L1452.5 1311.8 L1453.5 1313.3 L1454.5 1314.8 L1455.5 1316.4 L1456.5 1317.9 L1457.5 1319.3 L1458.5 1320.7 L1459.5 1322.0 L1460.5 1323.2 L1461.5 1324.2 L1462.5 1323.7 L1463.5 1322.4 L1464.5 1321.0 L1465.5 1319.5 L1466.5 1318.0 L1467.5 1316.5 L1468.5 1315.0 L1469.5 1313.8 L1470.5 1312.9 L1471.5 1313.4 L1472.5 1313.9 L1473.5 1314.5 L1474.5 1315.1 L1475.5 1315.8 L1476.5 1316.5 L1477.5 1317.1 L1478.5 1317.7 L1479.5 1318.2 L1480.5 1318.6 L1481.5 1318.9 L1482.5 1319.2 L1483.5 1319.6 L1484.5 1320.0 L1485.5 1320.4 L1486.5 1320.7 L1487.5 1321.1 L1488.5 1321.4 L1489.5 1321.7 L1490.5 1322.0 L1491.5 1322.4 L1492.5 1322.8 L1493.5 1323.3 L1494.5 1323.8 L1495.5 1324.4 L1496.5 1325.0 L1497.5 1325.6 L1498.5 1326.3 L1499.5 1326.9 L1500.5 1327.6 L1501.5 1328.2 L1502.5 1328.9 L1503.5 1329.5 L1504.5 1330.1 L1505.5 1330.6 L1506.5 1331.1 L1507.5 1331.6 L1508.5 1332.0 L1509.5 1330.8 L1510.5 1328.7 L1511.5 1326.5 L1512.5 1324.0 L1513.5 1321.3 L1514.5 1318.7 L1515.5 1316.0 L1516.5 1313.4 L1517.5 1311.0 L1518.5 1308.8 L1519.5 1306.9 L1520.5 1307.7 L1521.5 1310.6 L1522.5 1313.8 L1523.5 1317.4 L1524.5 1321.1 L1525.5 1325.0 L1526.5 1328.9 L1527.5 1332.6 L1528.5 1336.1 L1529.5 1339.3 L1530.5 1342.2 L1531.5 1342.1 L1532.5 1338.7 L1533.5 1334.8 L1534.5 1330.6 L1535.5 1326.0 L1536.5 1321.3 L1537.5 1316.6 L1538.5 1312.0 L1539.5 1307.6 L1540.5 1303.6 L1541.5 1300.1 L1542.5 1298.7 L1543.5 1301.4 L1544.5 1304.3 L1545.5 1307.6 L1546.5 1311.2 L1547.5 1314.9 L1548.5 1318.7 L1549.5 1322.4 L1550.5 1326.1 L1551.5 1329.6 L1552.5 1332.9 L1553.5 1335.8 L1554.5 1338.4 L1555.5 1337.9 L1556.5 1337.2 L1557.5 1336.4 L1558.5 1335.6 L1559.5 1334.7 L1560.5 1333.8 L1561.5 1332.8 L1562.5 1331.8 L1563.5 1330.8 L1564.5 1329.7 L1565.5 1328.7 L1566.5 1327.6 L1567.5 1326.6 L1568.5 1325.7 L1569.5 1324.7 L1570.5 1323.9 L1571.5 1323.1 L1572.5 1322.3 L1573.5 1321.7 L1574.5 1321.4 L1575.5 1323.4 L1576.5 1325.6 L1577.5 1328.1 L1578.5 1330.7 L1579.5 1333.5 L1580.5 1336.3 L1581.5 1339.1 L1582.5 1341.9 L1583.5 1344.5 L1584.5 1347.0 L1585.5 1349.2 L1586.5 1351.1 L1587.5 1349.5 L1588.5 1346.4 L1589.5 1342.9 L1590.5 1339.1 L1591.5 1335.1 L1592.5 1331.1 L1593.5 1327.2 L1594.5 1323.6 L1595.5 1320.4 L1596.5 1317.6 L1597.5 1319.2 L1598.5 1321.7 L1599.5 1324.6 L1600.5 1327.7 L1601.5 1331.0 L1602.5 1334.3 L1603.5 1337.4 L1604.5 1340.4 L1605.5 1343.0 L1606.5 1345.3 L1607.5 1344.4 L1608.5 1343.3 L1609.5 1342.1 L1610.5 1340.7 L1611.5 1339.3 L1612.5 1337.9 L1613.5 1336.5 L1614.5 1335.3 L1615.5 1334.2 L1616.5 1333.3 L1617.5 1333.8 L1618.5 1334.4 L1619.5 1335.0 L1620.5 1335.7 L1621.5 1336.5 L1622.5 1337.2 L1623.5 1337.8 L1624.5 1338.4 L1625.5 1338.5 L1626.5 1337.9 L1627.5 1337.3 L1628.5 1336.6 L1629.5 1335.9 L1630.5 1335.1 L1631.5 1334.4 L1632.5 1333.8 L1633.5 1333.3 L1634.5 1333.7 L1635.5 1334.5 L1636.5 1335.5 L1637.5 1336.5 L1638.5 1337.6 L1639.5 1338.7 L1640.5 1339.8 L1641.5 1340.9 L1642.5 1341.9 L1643.5 1342.9 L1644.5 1343.7 L1645.5 1343.5 L1646.5 1342.6 L1647.5 1341.6 L1648.5 1340.6 L1649.5 1339.4 L1650.5 1338.2 L1651.5 1337.0 L1652.5 1335.9 L1653.5 1334.8 L1654.5 1333.8 L1655.5 1332.9 L1656.5 1332.8 L1657.5 1333.5 L1658.5 1334.2 L1659.5 1335.1 L1660.5 1336.0 L1661.5 1336.9 L1662.5 1337.9 L1663.5 1338.9 L1664.5 1340.0 L1665.5 1341.0 L1666.5 1342.1 L1667.5 1343.1 L1668.5 1344.1 L1669.5 1345.0 L1670.5 1345.9 L1671.5 1346.7 L1672.5 1347.4 L1673.5 1347.9 L1674.5 1347.1 L1675.5 1346.2 L1676.5 1345.1 L1677.5 1344.0 L1678.5 1342.8 L1679.5 1341.6 L1680.5 1340.4 L1681.5 1339.3 L1682.5 1338.2 L1683.5 1337.2 L1684.5 1336.4 L1685.5 1336.5 L1686.5 1338.1 L1687.5 1339.8 L1688.5 1341.6 L1689.5 1343.6 L1690.5 1345.7 L1691.5 1347.8 L1692.5 1350.0 L1693.5 1352.1 L1694.5 1354.1 L1695.5 1356.0 L1696.5 1357.7 L1697.5 1359.2 L1698.5 1359.8 L1699.5 1358.7 L1700.5 1357.5 L1701.5 1356.1 L1702.5 1354.7 L1703.5 1353.2 L1704.5 1351.7 L1705.5 1350.1 L1706.5 1348.6 L1707.5 1347.1 L1708.5 1345.7 L1709.5 1344.5 L1710.5 1343.3 L1711.5 1342.8 L1712.5 1343.6 L1713.5 1344.5 L1714.5 1345.5 L1715.5 1346.5 L1716.5 1347.6 L1717.5 1348.7 L1718.5 1349.9 L1719.5 1351.1 L1720.5 1352.3 L1721.5 1353.5 L1722.5 1354.7 L1723.5 1355.8 L1724.5 1356.9 L1725.5 1357.9 L1726.5 1358.9 L1727.5 1359.8 L1728.5 1360.6 L1729.5 1360.9 L1730.5 1359.5 L1731.5 1357.9 L1732.5 1356.1 L1733.5 1354.2 L1734.5 1352.2 L1735.5 1350.2 L1736.5 1348.2 L1737.5 1346.4 L1738.5 1344.6 L1739.5 1343.1 L1740.5 1341.7 L1741.5 1343.4 L1742.5 1345.8 L1743.5 1348.5 L1744.5 1351.4 L1745.5 1354.4 L1746.5 1357.5 L1747.5 1360.5 L1748.5 1363.4 L1749.5 1366.1 L1750.5 1368.5 L1751.5 1370.5 L1752.5 1368.1 L1753.5 1365.3 L1754.5 1362.1 L1755.5 1358.6 L1756.5 1355.0 L1757.5 1351.4 L1758.5 1347.9 L1759.5 1344.5 L1760.5 1341.5 L1761.5 1338.9 L1762.5 1339.2 L1763.5 1342.0 L1764.5 1345.2 L1765.5 1348.7 L1766.5 1352.5 L1767.5 1356.3 L1768.5 1360.3 L1769.5 1364.1 L1770.5 1367.8 L1771.5 1371.3 L1772.5 1374.4 L1773.5 1377.1 L1774.5 1376.6 L1775.5 1375.0 L1776.5 1373.2 L1777.5 1371.2 L1778.5 1369.1 L1779.5 1366.9 L1780.5 1364.8 L1781.5 1362.7 L1782.5 1360.8 L1783.5 1359.1 L1784.5 1357.6 L1785.5 1358.3 L1786.5 1359.4 L1787.5 1360.5 L1788.5 1361.8 L1789.5 1363.1 L1790.5 1364.6 L1791.5 1366.0 L1792.5 1367.5 L1793.5 1369.0 L1794.5 1370.4 L1795.5 1371.7 L1796.5 1373.0 L1797.5 1374.2 L1798.5 1375.3 L1799.5 1376.1 L1800.5 1375.5 L1801.5 1374.9 L1802.5 1374.2 L1803.5 1373.4 L1804.5 1372.5 L1805.5 1371.7 L1806.5 1370.8 L1807.5 1369.9 L1808.5 1369.1 L1809.5 1368.3 L1810.5 1367.5 L1811.5 1366.8 L1812.5 1366.2 L1813.5 1365.7 L1814.5 1367.1 L1815.5 1368.9 L1816.5 1371.0 L1817.5 1373.2 L1818.5 1375.5 L1819.5 1377.9 L1820.5 1380.1 L1821.5 1382.1 L1822.5 1384.0 L1823.5 1385.2 L1824.5 1383.3 L1825.5 1381.2 L1826.5 1378.8 L1827.5 1376.2 L1828.5 1373.6 L1829.5 1370.9 L1830.5 1368.2 L1831.5 1365.7 L1832.5 1363.5 L1833.5 1361.4 L1834.5 1360.5 L1835.5 1363.0 L1836.5 1365.9 L1837.5 1369.1 L1838.5 1372.5 L1839.5 1376.0 L1840.5 1379.6 L1841.5 1383.0 L1842.5 1386.2 L1843.5 1389.1 L1844.5 1391.6 L1845.5 1390.6 L1846.5 1388.1 L1847.5 1385.3 L1848.5 1382.3 L1849.5 1379.1 L1850.5 1375.9 L1851.5 1372.7 L1852.5 1369.7 L1853.5 1367.0 L1854.5 1364.7 L1855.5 1364.8 L1856.5 1367.3 L1857.5 1370.1 L1858.5 1373.2 L1859.5 1376.5 L1860.5 1380.0 L1861.5 1383.4 L1862.5 1386.7 L1863.5 1389.8 L1864.5 1392.6 L1865.5 1395.1 L1866.5 1395.2 L1867.5 1393.7 L1868.5 1392.1 L1869.5 1390.3 L1870.5 1388.4 L1871.5 1386.5 L1872.5 1384.6 L1873.5 1382.9 L1874.5 1381.3 L1875.5 1379.9 L1876.5 1380.4 L1877.5 1381.3 L1878.5 1382.3 L1879.5 1383.4 L1880.5 1384.6 L1881.5 1385.9 L1882.5 1387.1 L1883.5 1388.3 L1884.5 1389.4 L1885.5 1390.3 L1886.5 1391.2 L1887.5 1391.8 L1888.5 1392.4 L1889.5 1393.2 L1890.5 1393.9 L1891.5 1394.7 L1892.5 1395.4 L1893.5 1396.0 L1894.5 1396.1 L1895.5 1395.2 L1896.5 1394.1 L1897.5 1393.0 L1898.5 1391.9 L1899.5 1391.0 L1900.5 1391.6 L1901.5 1392.6 L1902.5 1393.7 L1903.5 1394.9 L1904.5 1396.0 L1905.5 1397.0 L1906.5 1397.8 L1907.5 1398.4 L1908.5 1399.2 L1909.5 1400.0 L1910.5 1400.9 L1911.5 1401.8 L1912.5 1402.6 L1913.5 1403.5 L1914.5 1404.2 L1915.5 1404.8 L1916.5 1404.4 L1917.5 1402.9 L1918.5 1401.1 L1919.5 1399.2 L1920.5 1397.2 L1921.5 1395.2 L1922.5 1393.3 L1923.5 1391.7 L1924.5 1390.2 L1925.5 1391.3 L1926.5 1393.3 L1927.5 1395.5 L1928.5 1398.0 L1929.5 1400.5 L1930.5 1403.1 L1931.5 1405.7 L1932.5 1408.2 L1933.5 1410.5 L1934.5 1412.5 L1935.5 1414.3 L1936.5 1412.7 L1937.5 1410.5 L1938.5 1408.1 L1939.5 1405.4 L1940.5 1402.6 L1941.5 1399.7 L1942.5 1396.8 L1943.5 1394.1 L1944.5 1391.4 L1945.5 1389.0 L1946.5 1386.9 L1947.5 1386.4 L1948.5 1388.8 L1949.5 1391.5 L1950.5 1394.4 L1951.5 1397.6 L1952.5 1400.9 L1953.5 1404.2 L1954.5 1407.5 L1955.5 1410.6 L1956.5 1413.5 L1957.5 1416.0 L1958.5 1418.2 L1959.5 1417.3 L1960.5 1416.3 L1961.5 1415.2 L1962.5 1413.9 L1963.5 1412.6 L1964.5 1411.3 L1965.5 1409.9 L1966.5 1408.6 L1967.5 1407.3 L1968.5 1406.2 L1969.5 1405.1 L1970.5 1404.3 L1971.5 1405.2 L1972.5 1406.2 L1973.5 1407.3 L1974.5 1408.5 L1975.5 1409.8 L1976.5 1411.1 L1977.5 1412.5 L1978.5 1413.8 L1979.5 1415.2 L1980.5 1416.6 L1981.5 1417.8 L1982.5 1419.0 L1983.5 1420.2 L1984.5 1421.2 L1985.5 1422.1 L1986.5 1421.7 L1987.5 1420.8 L1988.5 1419.8 L1989.5 1418.8 L1990.5 1417.7 L1991.5 1416.5 L1992.5 1415.3 L1993.5 1414.1 L1994.5 1412.9 L1995.5 1411.8 L1996.5 1410.7 L1997.5 1409.7 L1998.5 1408.8 L1999.5 1408.0 L2000.5 1408.4 L2001.5 1409.7 L2002.5 1411.1 L2003.5 1412.7 L2004.5 1414.3 L2005.5 1416.0 L2006.5 1417.7 L2007.5 1419.3 L2008.5 1420.8 L2009.5 1422.2 L2010.5 1423.4 L2011.5 1423.7 L2012.5 1423.6 L2013.5 1423.5 L2014.5 1423.5 L2015.5 1423.4 L2016.5 1423.4 L2017.5 1423.5 L2018.5 1424.2 L2019.5 1425.0 L2020.5 1425.9 L2021.5 1426.9 L2022.5 1427.8 L2023.5 1428.7 L2024.5 1429.4 L2025.5 1429.4 L2026.5 1428.8 L2027.5 1428.2 L2028.5 1427.4 L2029.5 1426.7 L2030.5 1425.9 L2031.5 1425.1 L2032.5 1424.3 L2033.5 1423.6 L2034.5 1423.0 L2035.5 1422.4 L2036.5 1423.2 L2037.5 1424.7 L2038.5 1426.3 L2039.5 1428.2 L2040.5 1430.1 L2041.5 1432.1 L2042.5 1434.2 L2043.5 1436.1 L2044.5 1438.0 L2045.5 1439.8 L2046.5 1441.4 L2047.5 1442.9 L2048.5 1442.1 L2049.5 1440.1 L2050.5 1437.8 L2051.5 1435.4 L2052.5 1432.9 L2053.5 1430.6 L2054.5 1428.5 L2055.5 1426.9 L2056.5 1426.9 L2057.5 1426.9 L2058.5 1426.9" stroke="#00ff00" stroke-width="6"/>
<path d="M311.5 1233.0 L312.5 1232.8 L313.5 1231.2 L314.5 1229.3 L315.5 1227.2 L316.5 1224.9 L317.5 1222.6 L318.5 1220.3 L319.5 1218.1 L320.5 1216.0 L321.5 1214.2 L322.5 1213.6 L323.5 1216.4 L324.5 1219.5 L325.5 1223.0 L326.5 1226.8 L327.5 1230.7 L328.5 1234.7 L329.5 1238.7 L330.5 1242.6 L331.5 1246.2 L332.5 1249.5 L333.5 1252.4 L334.5 1253.0 L335.5 1249.1 L336.5 1244.7 L337.5 1239.9 L338.5 1234.7 L339.5 1229.3 L340.5 1223.9 L341.5 1218.5 L342.5 1213.3 L343.5 1208.5 L344.5 1204.1 L345.5 1200.3 L346.5 1201.5 L347.5 1205.0 L348.5 1209.0 L349.5 1213.4 L350.5 1218.0 L351.5 1222.7 L352.5 1227.4 L353.5 1232.0 L354.5 1236.3 L355.5 1240.2 L356.5 1243.6 L357.5 1243.9 L358.5 1242.0 L359.5 1240.0 L360.5 1237.7 L361.5 1235.2 L362.5 1232.6 L363.5 1230.0 L364.5 1227.4 L365.5 1224.8 L366.5 1222.3 L367.5 1220.0 L368.5 1217.9 L369.5 1216.0 L370.5 1215.6 L371.5 1216.8 L372.5 1218.1 L373.5 1219.6 L374.5 1221.1 L375.5 1222.8 L376.5 1224.5 L377.5 1226.3 L378.5 1228.0 L379.5 1229.8 L380.5 1231.5 L381.5 1233.1 L382.5 1234.6 L383.5 1236.0 L384.5 1237.2 L385.5 1238.0 L386.5 1235.9 L387.5 1233.4 L388.5 1230.7 L389.5 1227.7 L390.5 1224.6 L391.5 1221.4 L392.5 1218.2 L393.5 1215.1 L394.5 1212.0 L395.5 1209.2 L396.5 1206.6 L397.5 1204.2 L398.5 1203.3 L399.5 1206.3 L400.5 1209.7 L401.5 1213.6 L402.5 1217.7 L403.5 1221.9 L404.5 1226.2 L405.5 1230.3 L406.5 1234.2 L407.5 1237.7 L408.5 1240.8 L409.5 1240.2 L410.5 1237.0 L411.5 1233.4 L412.5 1229.4 L413.5 1225.1 L414.5 1220.8 L415.5 1216.5 L416.5 1212.4 L417.5 1208.5 L418.5 1205.1 L419.5 1202.2 L420.5 1204.5 L421.5 1207.5 L422.5 1210.8 L423.5 1214.4 L424.5 1218.2 L425.5 1222.1 L426.5 1225.9 L427.5 1229.5 L428.5 1232.9 L429.5 1235.9 L430.5 1238.3 L431.5 1236.0 L432.5 1233.4 L433.5 1230.6 L434.5 1227.5 L435.5 1224.2 L436.5 1220.9 L437.5 1217.7 L438.5 1214.7 L439.5 1211.9 L440.5 1209.5 L441.5 1208.9 L442.5 1210.7 L443.5 1212.8 L444.5 1215.1 L445.5 1217.5 L446.5 1220.0 L447.5 1222.6 L448.5 1225.1 L449.5 1227.4 L450.5 1229.6 L451.5 1231.5 L452.5 1232.6 L453.5 1231.8 L454.5 1231.0 L455.5 1230.1 L456.5 1229.1 L457.5 1228.0 L458.5 1226.9 L459.5 1225.8 L460.5 1224.7 L461.5 1223.6 L462.5 1222.6 L463.5 1221.6 L464.5 1220.7 L465.5 1219.9 L466.5 1219.4 L467.5 1220.1 L468.5 1220.9 L469.5 1221.8 L470.5 1222.8 L471.5 1223.8 L472.5 1224.8 L473.5 1225.8 L474.5 1226.8 L475.5 1227.7 L476.5 1228.6 L477.5 1229.3 L478.5 1229.5 L479.5 1228.5 L480.5 1227.4 L481.5 1226.1 L482.5 1224.8 L483.5 1223.4 L484.5 1221.9 L485.5 1220.5 L486.5 1219.1 L487.5 1217.9 L488.5 1216.7 L489.5 1215.6 L490.5 1215.6 L491.5 1217.1 L492.5 1218.9 L493.5 1220.8 L494.5 1222.8 L495.5 1224.9 L496.5 1227.0 L497.5 1228.9 L498.5 1230.6 L499.5 1232.2 L500.5 1232.2 L501.5 1230.8 L502.5 1229.3 L503.5 1227.6 L504.5 1225.7 L505.5 1223.8 L506.5 1221.9 L507.5 1219.9 L508.5 1218.1 L509.5 1216.3 L510.5 1214.7 L511.5 1213.3 L512.5 1213.1 L513.5 1214.7 L514.5 1216.5 L515.5 1218.5 L516.5 1220.7 L517.5 1222.9 L518.5 1225.2 L519.5 1227.6 L520.5 1229.9 L521.5 1232.1 L522.5 1234.1 L523.5 1236.0 L524.5 1237.7 L525.5 1238.3 L526.5 1235.7 L527.5 1232.8 L528.5 1229.6 L529.5 1226.2 L530.5 1222.5 L531.5 1218.8 L532.5 1215.1 L533.5 1211.5 L534.5 1208.1 L535.5 1204.9 L536.5 1202.0 L537.5 1199.5 L538.5 1201.5 L539.5 1204.5 L540.5 1207.8 L541.5 1211.5 L542.5 1215.3 L543.5 1219.2 L544.5 1223.2 L545.5 1227.1 L546.5 1230.9 L547.5 1234.4 L548.5 1237.6 L549.5 1240.5 L550.5 1240.6 L551.5 1238.0 L552.5 1235.0 L553.5 1231.8 L554.5 1228.3 L555.5 1224.7 L556.5 1221.1 L557.5 1217.4 L558.5 1213.9 L559.5 1210.6 L560.5 1207.6 L561.5 1204.8 L562.5 1202.9 L563.5 1204.7 L564.5 1206.6 L565.5 1208.8 L566.5 1211.1 L567.5 1213.6 L568.5 1216.2 L569.5 1218.8 L570.5 1221.4 L571.5 1224.0 L572.5 1226.5 L573.5 1229.0 L574.5 1231.2 L575.5 1233.3 L576.5 1235.2 L577.5 1236.2 L578.5 1235.4 L579.5 1234.4 L580.5 1233.4 L581.5 1232.2 L582.5 1231.0 L583.5 1229.8 L584.5 1228.6 L585.5 1227.4 L586.5 1226.3 L587.5 1225.2 L588.5 1224.2 L589.5 1223.4 L590.5 1223.4 L591.5 1224.7 L592.5 1226.1 L593.5 1227.7 L594.5 1229.4 L595.5 1231.1 L596.5 1233.0 L597.5 1234.8 L598.5 1236.6 L599.5 1238.3 L600.5 1239.9 L601.5 1241.3 L602.5 1242.7 L603.5 1243.1 L604.5 1241.4 L605.5 1239.4 L606.5 1237.3 L607.5 1235.0 L608.5 1232.6 L609.5 1230.3 L610.5 1228.0 L611.5 1225.9 L612.5 1224.0 L613.5 1222.3 L614.5 1223.5 L615.5 1225.2 L616.5 1227.0 L617.5 1229.1 L618.5 1231.2 L619.5 1233.4 L620.5 1235.6 L621.5 1237.7 L622.5 1239.7 L623.5 1241.5 L624.5 1243.1 L625.5 1243.3 L626.5 1242.0 L627.5 1240.5 L628.5 1238.9 L629.5 1237.2 L630.5 1235.5 L631.5 1233.9 L632.5 1232.4 L633.5 1231.1 L634.5 1230.5 L635.5 1231.1 L636.5 1231.7 L637.5 1232.4 L638.5 1233.1 L639.5 1233.8 L640.5 1234.6 L641.5 1235.4 L642.5 1236.1 L643.5 1236.7 L644.5 1237.3 L645.5 1237.7 L646.5 1237.5 L647.5 1237.3 L648.5 1237.0 L649.5 1236.7 L650.5 1236.5 L651.5 1236.3 L652.5 1236.1 L653.5 1236.0 L654.5 1235.8 L655.5 1235.6 L656.5 1235.4 L657.5 1235.2 L658.5 1235.0 L659.5 1234.9 L660.5 1234.8 L661.5 1234.8 L662.5 1234.7 L663.5 1234.6 L664.5 1234.5 L665.5 1234.4 L666.5 1234.4 L667.5 1235.0 L668.5 1235.6 L669.5 1236.3 L670.5 1237.0 L671.5 1237.7 L672.5 1238.5 L673.5 1239.1 L674.5 1239.6 L675.5 1239.5 L676.5 1238.8 L677.5 1237.9 L678.5 1236.9 L679.5 1235.9 L680.5 1234.8 L681.5 1233.7 L682.5 1232.7 L683.5 1231.8 L684.5 1230.9 L685.5 1230.2 L686.5 1231.1 L687.5 1232.4 L688.5 1233.9 L689.5 1235.5 L690.5 1237.1 L691.5 1238.7 L692.5 1240.3 L693.5 1241.6 L694.5 1242.8 L695.5 1242.5 L696.5 1241.4 L697.5 1240.1 L698.5 1238.8 L699.5 1237.3 L700.5 1235.9 L701.5 1234.5 L702.5 1233.1 L703.5 1231.9 L704.5 1230.8 L705.5 1230.4 L706.5 1231.7 L707.5 1233.1 L708.5 1234.7 L709.5 1236.4 L710.5 1238.2 L711.5 1240.0 L712.5 1241.7 L713.5 1243.3 L714.5 1244.7 L715.5 1246.0 L716.5 1245.7 L717.5 1244.5 L718.5 1243.1 L719.5 1241.7 L720.5 1240.1 L721.5 1238.5 L722.5 1236.9 L723.5 1235.3 L724.5 1233.8 L725.5 1232.4 L726.5 1231.1 L727.5 1230.1 L728.5 1231.0 L729.5 1232.0 L730.5 1233.1 L731.5 1234.4 L732.5 1235.7 L733.5 1237.0 L734.5 1238.4 L735.5 1239.7 L736.5 1241.0 L737.5 1242.2 L738.5 1243.3 L739.5 1244.2 L740.5 1244.1 L741.5 1243.2 L742.5 1242.3 L743.5 1241.3 L744.5 1240.2 L745.5 1239.1 L746.5 1238.0 L747.5 1236.8 L748.5 1235.6 L749.5 1234.5 L750.5 1233.4 L751.5 1232.4 L752.5 1231.5 L753.5 1230.7 L754.5 1230.5 L755.5 1231.8 L756.5 1233.3 L757.5 1235.0 L758.5 1236.8 L759.5 1238.6 L760.5 1240.5 L761.5 1242.5 L762.5 1244.3 L763.5 1246.1 L764.5 1247.7 L765.5 1249.2 L766.5 1250.5 L767.5 1249.0 L768.5 1247.0 L769.5 1244.8 L770.5 1242.4 L771.5 1239.8 L772.5 1237.2 L773.5 1234.6 L774.5 1231.9 L775.5 1229.4 L776.5 1227.0 L777.5 1224.8 L778.5 1222.8 L779.5 1221.1 L780.5 1222.8 L781.5 1224.7 L782.5 1226.8 L783.5 1229.1 L784.5 1231.5 L785.5 1234.0 L786.5 1236.6 L787.5 1239.1 L788.5 1241.5 L789.5 1243.8 L790.5 1245.9 L791.5 1247.8 L792.5 1249.5 L793.5 1248.8 L794.5 1247.8 L795.5 1246.6 L796.5 1245.4 L797.5 1244.2 L798.5 1242.8 L799.5 1241.4 L800.5 1240.0 L801.5 1238.6 L802.5 1237.2 L803.5 1235.8 L804.5 1234.4 L805.5 1233.1 L806.5 1231.9 L807.5 1230.8 L808.5 1229.8 L809.5 1228.8 L810.5 1229.8 L811.5 1231.5 L812.5 1233.4 L813.5 1235.5 L814.5 1237.6 L815.5 1239.9 L816.5 1242.1 L817.5 1244.4 L818.5 1246.5 L819.5 1248.5 L820.5 1250.3 L821.5 1252.0 L822.5 1251.9 L823.5 1249.5 L824.5 1246.7 L825.5 1243.7 L826.5 1240.5 L827.5 1237.2 L828.5 1233.8 L829.5 1230.6 L830.5 1227.5 L831.5 1224.7 L832.5 1222.2 L833.5 1221.2 L834.5 1223.4 L835.5 1225.9 L836.5 1228.7 L837.5 1231.7 L838.5 1234.9 L839.5 1238.0 L840.5 1241.1 L841.5 1244.0 L842.5 1246.8 L843.5 1249.2 L844.5 1250.8 L845.5 1249.5 L846.5 1248.0 L847.5 1246.2 L848.5 1244.4 L849.5 1242.5 L850.5 1240.7 L851.5 1238.9 L852.5 1237.3 L853.5 1236.0 L854.5 1236.5 L855.5 1238.0 L856.5 1239.7 L857.5 1241.4 L858.5 1243.1 L859.5 1244.6 L860.5 1245.8 L861.5 1245.0 L862.5 1244.1 L863.5 1243.1 L864.5 1242.0 L865.5 1241.0 L866.5 1240.0 L867.5 1239.2 L868.5 1239.7 L869.5 1241.0 L870.5 1242.5 L871.5 1244.1 L872.5 1245.8 L873.5 1247.5 L874.5 1249.2 L875.5 1250.8 L876.5 1252.2 L877.5 1253.4 L878.5 1252.6 L879.5 1250.9 L880.5 1248.9 L881.5 1246.8 L882.5 1244.6 L883.5 1242.3 L884.5 1240.1 L885.5 1238.1 L886.5 1236.3 L887.5 1234.7 L888.5 1235.6 L889.5 1237.1 L890.5 1238.9 L891.5 1240.8 L892.5 1242.8 L893.5 1244.9 L894.5 1246.9 L895.5 1248.9 L896.5 1250.7 L897.5 1252.4 L898.5 1253.9 L899.5 1254.0 L900.5 1253.6 L901.5 1253.1 L902.5 1252.6 L903.5 1252.0 L904.5 1251.4 L905.5 1250.9 L906.5 1250.3 L907.5 1249.9 L908.5 1249.5 L909.5 1249.4 L910.5 1249.4 L911.5 1249.3 L912.5 1249.3 L913.5 1249.3 L914.5 1249.3 L915.5 1249.3 L916.5 1249.3 L917.5 1249.4 L918.5 1249.8 L919.5 1250.3 L920.5 1250.8 L921.5 1251.4 L922.5 1252.0 L923.5 1252.5 L924.5 1252.9 L925.5 1253.0 L926.5 1253.0 L927.5 1252.9 L928.5 1252.9 L929.5 1252.8 L930.5 1252.8 L931.5 1252.7 L932.5 1252.7 L933.5 1252.6 L934.5 1252.3 L935.5 1251.9 L936.5 1251.5 L937.5 1251.0 L938.5 1250.5 L939.5 1250.0 L940.5 1249.5 L941.5 1249.0 L942.5 1248.6 L943.5 1248.2 L944.5 1247.8 L945.5 1247.8 L946.5 1247.9 L947.5 1248.0 L948.5 1248.1 L949.5 1248.1 L950.5 1248.2 L951.5 1248.6 L952.5 1249.4 L953.5 1250.3 L954.5 1251.2 L955.2 1251.9 L955.5 1252.1 L956.5 1253.0 L957.5 1253.8 L958.5 1254.2 L959.5 1253.9 L960.5 1253.5 L961.5 1253.2 L962.5 1252.8 L963.5 1252.4 L964.5 1252.1 L965.5 1251.8 L966.5 1251.7 L967.5 1251.6 L968.5 1251.5 L969.5 1251.4 L970.5 1251.3 L971.5 1251.2 L972.5 1251.1 L973.5 1251.0 L974.5 1250.8 L975.5 1250.7 L976.5 1250.6 L977.5 1250.5 L978.5 1250.7 L979.5 1251.1 L980.5 1251.6 L981.5 1252.1 L982.5 1252.6 L983.5 1253.2 L984.5 1253.7 L985.5 1254.3 L986.5 1254.9 L987.5 1255.5 L988.5 1256.1 L989.5 1256.6 L990.5 1257.1 L991.5 1257.6 L992.5 1258.0 L993.5 1257.7 L994.5 1256.8 L995.5 1255.8 L996.5 1254.8 L997.5 1253.7 L998.5 1252.5 L999.5 1251.3 L1000.5 1250.1 L1001.5 1248.9 L1002.5 1247.7 L1003.5 1246.5 L1004.5 1245.5 L1005.5 1244.5 L1006.5 1243.5 L1007.3 1242.9 L1007.5 1242.7 L1008.5 1243.6 L1009.5 1245.1 L1010.5 1246.8 L1011.5 1248.7 L1012.5 1250.7 L1013.5 1252.7 L1014.5 1254.8 L1015.5 1256.8 L1016.5 1258.8 L1017.5 1260.6 L1018.5 1262.3 L1019.5 1263.8 L1020.5 1264.1 L1021.5 1262.6 L1022.5 1260.9 L1023.5 1259.0 L1024.5 1257.0 L1025.5 1255.0 L1026.5 1252.9 L1027.5 1250.8 L1028.5 1248.9 L1029.5 1247.2 L1030.5 1245.6 L1031.5 1244.9 L1032.5 1246.2 L1033.5 1247.7 L1034.5 1249.4 L1035.5 1251.2 L1036.5 1253.0 L1037.5 1255.0 L1038.5 1256.9 L1039.5 1258.7 L1040.5 1260.5 L1041.5 1262.1 L1042.5 1263.6 L1043.5 1264.9 L1044.5 1264.4 L1045.5 1263.6 L1046.5 1262.8 L1047.5 1261.9 L1048.5 1258.2 L1049.5 1253.7 L1050.5 1248.0 L1051.5 1239.2 L1052.5 1230.3 L1053.5 1217.5 L1054.5 1195.4 L1055.5 1157.1 L1056.5 1087.5 L1057.5 975.6 L1058.5 863.8 L1059.5 752.0 L1060.5 641.7 L1061.5 531.8 L1062.5 422.1 L1063.5 354.0 L1064.5 290.5 L1065.5 227.2 L1066.2 206.0 L1066.5 214.4 L1067.5 270.4 L1068.5 338.5 L1069.5 406.5 L1070.5 510.5 L1071.5 625.1 L1072.5 739.5 L1073.5 853.3 L1074.5 964.5 L1075.5 1075.4 L1076.5 1145.1 L1077.5 1173.9 L1078.5 1193.3 L1079.5 1203.8 L1080.5 1214.4 L1081.5 1219.6 L1082.5 1224.3 L1083.5 1231.0 L1084.5 1237.9 L1085.5 1245.0 L1086.5 1249.7 L1087.5 1254.3 L1088.5 1259.0 L1089.5 1263.6 L1090.5 1266.3 L1091.5 1268.5 L1092.5 1270.7 L1093.5 1272.6 L1094.5 1273.7 L1095.5 1271.3 L1096.5 1268.6 L1097.5 1265.5 L1098.5 1262.3 L1099.5 1258.9 L1100.5 1255.6 L1101.5 1252.4 L1102.5 1249.4 L1103.5 1246.8 L1104.5 1245.7 L1105.5 1248.0 L1106.5 1250.7 L1107.5 1253.6 L1108.5 1256.8 L1109.5 1260.2 L1110.5 1263.5 L1111.5 1266.8 L1112.5 1269.9 L1113.5 1272.8 L1114.5 1275.4 L1115.5 1277.2 L1116.5 1275.2 L1117.5 1272.9 L1118.5 1270.3 L1119.5 1267.5 L1120.5 1264.6 L1121.5 1261.6 L1122.5 1258.7 L1123.5 1256.0 L1124.5 1253.4 L1125.5 1251.1 L1126.5 1249.1 L1127.5 1251.4 L1128.5 1254.3 L1128.6 1254.6 L1129.5 1257.6 L1130.5 1261.1 L1131.5 1264.5 L1132.5 1267.6 L1133.5 1270.3 L1134.5 1271.2 L1135.5 1270.6 L1136.5 1270.0 L1137.5 1269.4 L1138.5 1268.7 L1139.5 1268.0 L1140.5 1267.3 L1141.5 1266.6 L1142.5 1266.0 L1143.5 1265.5 L1144.5 1265.5 L1145.5 1265.8 L1146.5 1266.1 L1147.5 1266.4 L1148.5 1266.7 L1149.5 1267.1 L1150.5 1267.3 L1151.5 1267.5 L1152.5 1267.3 L1153.5 1267.0 L1154.5 1266.7 L1155.5 1266.4 L1156.5 1266.1 L1157.5 1265.8 L1158.5 1265.5 L1159.5 1265.2 L1160.5 1265.5 L1161.5 1266.1 L1162.5 1266.8 L1163.5 1267.5 L1164.5 1268.3 L1165.5 1269.2 L1166.5 1270.0 L1167.5 1270.8 L1168.5 1271.6 L1169.5 1272.3 L1170.5 1272.9 L1171.5 1272.9 L1172.5 1272.1 L1173.5 1271.2 L1174.5 1270.1 L1175.5 1269.0 L1176.5 1268.0 L1177.5 1267.1 L1178.5 1266.4 L1179.5 1266.7 L1180.5 1267.2 L1181.5 1267.7 L1182.5 1268.2 L1183.5 1268.8 L1184.5 1269.4 L1185.5 1270.0 L1186.5 1270.5 L1187.5 1271.1 L1188.5 1271.6 L1189.5 1272.1 L1190.5 1272.5 L1191.5 1272.6 L1192.5 1272.6 L1193.5 1272.5 L1194.5 1272.4 L1195.5 1272.4 L1196.5 1272.3 L1197.5 1272.2 L1198.5 1272.1 L1199.5 1272.1 L1200.5 1272.0 L1201.5 1272.0 L1202.5 1271.9 L1203.5 1271.9 L1204.5 1271.8 L1205.5 1271.7 L1206.5 1271.7 L1207.5 1272.0 L1208.5 1272.7 L1209.5 1273.6 L1210.5 1274.5 L1211.5 1275.4 L1212.5 1276.1 L1213.5 1276.6 L1214.5 1276.9 L1215.5 1277.3 L1216.5 1277.6 L1217.5 1278.0 L1218.5 1278.4 L1219.5 1278.9 L1220.5 1279.3 L1221.5 1279.6 L1222.5 1280.0 L1223.5 1280.3 L1224.5 1280.4 L1225.5 1279.9 L1226.5 1279.4 L1227.5 1278.7 L1228.5 1278.0 L1229.5 1277.3 L1230.5 1276.5 L1231.5 1275.8 L1232.5 1275.0 L1233.5 1274.3 L1234.5 1273.7 L1235.5 1273.1 L1236.5 1272.6 L1237.5 1272.8 L1238.5 1273.2 L1239.5 1273.6 L1240.5 1274.1 L1241.5 1274.5 L1242.5 1275.1 L1243.5 1275.6 L1244.5 1276.1 L1245.5 1276.7 L1246.5 1277.3 L1247.5 1277.8 L1248.5 1278.3 L1249.5 1278.8 L1250.5 1279.3 L1251.5 1279.8 L1252.5 1280.2 L1253.5 1280.6 L1254.5 1280.4 L1255.5 1279.7 L1256.5 1278.8 L1257.5 1277.9 L1258.5 1276.8 L1259.5 1275.8 L1260.5 1274.7 L1261.5 1273.6 L1262.5 1272.5 L1263.5 1271.5 L1264.5 1270.5 L1265.5 1269.6 L1266.5 1268.8 L1267.5 1268.0 L1268.5 1269.2 L1269.5 1270.9 L1270.5 1272.8 L1271.5 1274.8 L1272.5 1276.9 L1273.5 1279.1 L1274.5 1281.1 L1275.5 1283.0 L1276.5 1284.7 L1277.2 1285.8 L1277.5 1286.2 L1278.5 1286.0 L1279.5 1285.7 L1280.5 1285.4 L1281.5 1285.1 L1282.5 1284.7 L1283.5 1284.4 L1284.5 1284.2 L1285.5 1284.2 L1286.5 1284.3 L1287.5 1284.4 L1288.5 1284.5 L1289.5 1284.6 L1290.5 1284.7 L1291.5 1284.8 L1292.5 1284.8 L1293.5 1284.8 L1294.5 1283.9 L1295.5 1282.8 L1296.5 1281.6 L1297.5 1280.4 L1298.5 1279.0 L1299.5 1277.7 L1300.5 1276.3 L1301.5 1275.1 L1302.5 1273.9 L1303.5 1272.8 L1304.5 1271.9 L1305.5 1273.8 L1306.5 1276.2 L1307.5 1278.8 L1308.5 1281.7 L1309.5 1284.7 L1310.5 1287.7 L1311.5 1290.6 L1312.5 1293.2 L1313.5 1295.6 L1314.5 1297.5 L1315.5 1295.8 L1316.5 1293.8 L1317.5 1291.6 L1318.5 1289.3 L1319.5 1286.8 L1320.5 1284.2 L1321.5 1281.7 L1322.5 1279.2 L1323.5 1276.9 L1324.5 1274.7 L1325.5 1272.8 L1326.5 1271.7 L1327.5 1274.0 L1328.5 1276.6 L1329.5 1279.5 L1330.5 1282.6 L1331.5 1285.8 L1332.5 1289.1 L1333.5 1292.2 L1334.5 1295.1 L1335.5 1297.8 L1336.5 1300.1 L1337.5 1300.2 L1338.5 1299.7 L1339.5 1299.2 L1340.5 1298.6 L1341.5 1298.0 L1342.5 1297.4 L1343.5 1296.7 L1344.5 1296.0 L1345.5 1295.2 L1346.5 1294.5 L1347.5 1293.7 L1348.5 1293.0 L1349.5 1292.3 L1350.5 1291.5 L1351.5 1290.9 L1352.5 1290.2 L1353.5 1289.6 L1354.5 1289.0 L1355.5 1288.4 L1356.5 1287.9 L1357.5 1287.4 L1358.5 1288.7 L1359.5 1290.9 L1360.5 1293.4 L1361.5 1296.1 L1362.5 1298.9 L1363.5 1301.7 L1364.5 1304.5 L1365.5 1307.1 L1366.5 1309.4 L1367.5 1311.4 L1368.5 1309.6 L1369.5 1306.6 L1370.5 1303.4 L1371.5 1299.8 L1372.5 1296.0 L1373.5 1292.2 L1374.5 1288.3 L1375.5 1284.7 L1376.5 1281.2 L1377.5 1278.1 L1378.5 1275.4 L1379.5 1276.6 L1380.0 1278.1 L1380.5 1279.8 L1381.5 1283.4 L1382.5 1287.3 L1383.5 1291.5 L1384.5 1295.7 L1385.5 1300.0 L1386.5 1304.1 L1387.5 1307.9 L1388.5 1311.4 L1389.5 1314.5 L1390.5 1315.0 L1391.5 1313.6 L1392.5 1311.8 L1393.5 1310.0 L1394.5 1308.0 L1395.5 1306.0 L1396.5 1304.0 L1397.5 1302.1 L1398.5 1300.5 L1399.5 1299.0 L1400.5 1299.3 L1401.5 1300.7 L1402.5 1302.2 L1403.5 1303.9 L1404.5 1305.7 L1405.5 1307.5 L1406.5 1309.2 L1407.5 1310.8 L1408.5 1312.3 L1409.5 1313.6 L1410.5 1313.7 L1411.5 1313.4 L1412.5 1313.0 L1413.5 1312.6 L1414.5 1312.1 L1415.5 1311.6 L1416.5 1311.2 L1417.5 1310.7 L1418.5 1310.3 L1419.5 1309.9 L1420.5 1309.6 L1421.5 1309.7 L1422.5 1310.1 L1423.5 1310.5 L1424.5 1311.0 L1425.5 1311.5 L1426.5 1312.1 L1427.5 1312.6 L1428.5 1313.2 L1429.5 1313.8 L1430.5 1314.3 L1431.5 1314.8 L1432.5 1315.3 L1433.5 1315.7 L1434.5 1316.1 L1435.5 1315.7 L1436.5 1315.2 L1437.5 1314.6 L1438.5 1314.0 L1439.5 1313.4 L1440.5 1312.7 L1441.5 1312.1 L1442.5 1311.4 L1443.5 1310.7 L1444.5 1310.1 L1445.5 1309.5 L1446.5 1309.0 L1447.5 1308.5 L1448.5 1308.6 L1449.5 1309.7 L1450.5 1311.0 L1451.5 1312.3 L1452.5 1313.8 L1453.5 1315.3 L1454.5 1316.8 L1455.5 1318.4 L1456.5 1320.0 L1457.5 1321.5 L1458.5 1322.9 L1459.5 1324.2 L1460.5 1325.4 L1461.5 1326.5 L1462.5 1325.9 L1463.5 1324.7 L1464.5 1323.2 L1465.5 1321.6 L1466.5 1320.0 L1467.5 1318.4 L1468.5 1317.0 L1469.5 1315.7 L1470.5 1314.7 L1471.5 1315.2 L1472.5 1315.8 L1473.5 1316.4 L1474.5 1317.0 L1475.5 1317.7 L1476.5 1318.4 L1477.5 1319.0 L1478.5 1319.6 L1479.5 1320.1 L1480.5 1320.5 L1481.5 1320.8 L1482.5 1321.2 L1483.5 1321.5 L1484.5 1321.9 L1485.5 1322.3 L1486.5 1322.7 L1487.5 1323.1 L1488.5 1323.4 L1489.5 1323.7 L1490.5 1324.0 L1491.5 1324.4 L1492.5 1324.9 L1493.5 1325.4 L1494.5 1325.9 L1495.5 1326.5 L1496.5 1327.1 L1497.5 1327.8 L1498.5 1328.4 L1499.5 1329.1 L1500.5 1329.8 L1501.5 1330.4 L1502.5 1331.1 L1503.5 1331.7 L1504.5 1332.3 L1505.5 1332.8 L1506.5 1333.3 L1507.5 1333.8 L1508.5 1334.2 L1509.5 1333.0 L1510.5 1330.9 L1511.5 1328.6 L1512.5 1326.0 L1513.5 1323.3 L1514.5 1320.5 L1515.5 1317.8 L1516.5 1315.1 L1517.5 1312.7 L1518.5 1310.4 L1519.5 1308.4 L1520.5 1309.3 L1521.5 1312.2 L1522.5 1315.6 L1523.5 1319.2 L1524.5 1323.1 L1525.5 1327.1 L1526.5 1331.1 L1527.5 1334.9 L1528.5 1338.5 L1529.5 1341.9 L1530.5 1344.8 L1531.5 1344.7 L1532.5 1341.2 L1533.5 1337.2 L1534.5 1332.8 L1535.5 1328.1 L1536.5 1323.2 L1537.5 1318.3 L1538.5 1313.6 L1539.5 1309.1 L1540.5 1305.0 L1541.5 1301.3 L1542.5 1299.9 L1543.5 1302.7 L1544.5 1305.7 L1545.5 1309.1 L1546.5 1312.8 L1547.5 1316.6 L1548.5 1320.5 L1549.5 1324.4 L1550.5 1328.2 L1551.5 1331.8 L1552.5 1335.1 L1553.5 1338.1 L1554.5 1340.7 L1555.5 1340.2 L1556.5 1339.5 L1557.5 1338.7 L1558.5 1337.9 L1559.5 1336.9 L1560.5 1336.0 L1561.5 1335.0 L1562.5 1333.9 L1563.5 1332.8 L1564.5 1331.8 L1565.5 1330.7 L1566.5 1329.6 L1567.5 1328.6 L1568.5 1327.6 L1569.5 1326.7 L1570.5 1325.8 L1571.5 1324.9 L1572.5 1324.1 L1573.5 1323.4 L1574.5 1323.1 L1575.5 1325.1 L1576.5 1327.4 L1577.5 1329.9 L1578.5 1332.6 L1579.5 1335.5 L1580.5 1338.4 L1581.5 1341.3 L1582.5 1344.2 L1583.5 1346.9 L1584.5 1349.4 L1585.5 1351.7 L1586.5 1353.7 L1587.5 1352.0 L1588.5 1348.8 L1589.5 1345.2 L1590.5 1341.3 L1591.5 1337.1 L1592.5 1333.0 L1593.5 1329.0 L1594.5 1325.3 L1595.5 1321.9 L1596.5 1319.0 L1597.5 1320.7 L1598.5 1323.3 L1599.5 1326.3 L1600.5 1329.5 L1601.5 1332.9 L1602.5 1336.3 L1603.5 1339.5 L1604.5 1342.5 L1605.5 1345.2 L1606.5 1347.6 L1607.5 1346.7 L1608.5 1345.5 L1609.5 1344.2 L1610.5 1342.8 L1611.5 1341.4 L1612.5 1339.9 L1613.5 1338.5 L1614.5 1337.3 L1615.5 1336.1 L1616.5 1335.2 L1617.5 1335.7 L1618.5 1336.3 L1619.5 1337.0 L1620.5 1337.7 L1621.5 1338.5 L1622.5 1339.2 L1623.5 1339.9 L1624.5 1340.4 L1625.5 1340.5 L1626.5 1340.0 L1627.5 1339.3 L1628.5 1338.6 L1629.5 1337.8 L1630.5 1337.1 L1631.5 1336.3 L1632.5 1335.7 L1633.5 1335.1 L1634.5 1335.6 L1635.5 1336.4 L1636.5 1337.4 L1637.5 1338.5 L1638.5 1339.6 L1639.5 1340.8 L1640.5 1341.9 L1641.5 1343.0 L1642.5 1344.1 L1643.5 1345.0 L1644.5 1345.8 L1645.5 1345.7 L1646.5 1344.8 L1647.5 1343.7 L1648.5 1342.6 L1649.5 1341.4 L1650.5 1340.2 L1651.5 1338.9 L1652.5 1337.8 L1653.5 1336.6 L1654.5 1335.6 L1655.5 1334.7 L1656.5 1334.6 L1657.5 1335.3 L1658.5 1336.1 L1659.5 1336.9 L1660.5 1337.9 L1661.5 1338.8 L1662.5 1339.9 L1663.5 1340.9 L1664.5 1342.0 L1665.5 1343.0 L1666.5 1344.1 L1667.5 1345.1 L1668.5 1346.1 L1669.5 1347.1 L1670.5 1348.0 L1671.5 1348.8 L1672.5 1349.6 L1673.5 1350.1 L1674.5 1349.2 L1675.5 1348.2 L1676.5 1347.2 L1677.5 1346.0 L1678.5 1344.8 L1679.5 1343.5 L1680.5 1342.3 L1681.5 1341.1 L1682.5 1340.0 L1683.5 1339.0 L1684.5 1338.1 L1685.5 1338.3 L1686.5 1339.8 L1687.5 1341.6 L1688.5 1343.5 L1689.5 1345.5 L1690.5 1347.7 L1691.5 1349.9 L1692.5 1352.1 L1693.5 1354.2 L1694.5 1356.3 L1695.5 1358.2 L1696.5 1360.0 L1697.5 1361.6 L1698.5 1362.1 L1699.5 1361.0 L1700.5 1359.7 L1701.5 1358.4 L1702.5 1356.9 L1703.5 1355.3 L1704.5 1353.7 L1705.5 1352.1 L1706.5 1350.5 L1707.5 1349.0 L1708.5 1347.6 L1709.5 1346.3 L1710.5 1345.1 L1711.5 1344.6 L1712.5 1345.4 L1713.5 1346.3 L1714.5 1347.3 L1715.5 1348.4 L1716.5 1349.5 L1717.5 1350.6 L1718.5 1351.8 L1719.5 1353.0 L1720.5 1354.3 L1721.5 1355.5 L1722.5 1356.7 L1723.5 1357.9 L1724.5 1359.0 L1725.5 1360.1 L1726.5 1361.1 L1727.5 1362.0 L1728.5 1362.8 L1729.5 1363.2 L1730.5 1361.7 L1731.5 1360.0 L1732.5 1358.2 L1733.5 1356.3 L1734.5 1354.2 L1735.5 1352.1 L1736.5 1350.1 L1737.5 1348.2 L1738.5 1346.4 L1739.5 1344.8 L1740.5 1343.4 L1741.5 1345.1 L1742.5 1347.6 L1743.5 1350.3 L1744.5 1353.3 L1745.5 1356.4 L1746.5 1359.5 L1747.5 1362.7 L1748.5 1365.6 L1749.5 1368.4 L1750.5 1370.8 L1751.5 1373.0 L1752.5 1370.5 L1753.5 1367.5 L1754.5 1364.2 L1755.5 1360.6 L1756.5 1356.9 L1757.5 1353.2 L1758.5 1349.5 L1759.5 1346.1 L1760.5 1343.0 L1761.5 1340.3 L1762.5 1340.6 L1763.5 1343.5 L1764.5 1346.8 L1765.5 1350.4 L1766.5 1354.2 L1767.5 1358.2 L1768.5 1362.3 L1769.5 1366.3 L1770.5 1370.0 L1771.5 1373.6 L1772.5 1376.8 L1773.5 1379.6 L1774.5 1379.0 L1775.5 1377.4 L1776.5 1375.5 L1777.5 1373.4 L1778.5 1371.2 L1779.5 1369.0 L1780.5 1366.8 L1781.5 1364.7 L1782.5 1362.7 L1783.5 1361.0 L1784.5 1359.4 L1785.5 1360.1 L1786.5 1361.2 L1787.5 1362.4 L1788.5 1363.7 L1789.5 1365.1 L1790.5 1366.5 L1791.5 1368.0 L1792.5 1369.5 L1793.5 1371.0 L1794.5 1372.4 L1795.5 1373.8 L1796.5 1375.1 L1797.5 1376.3 L1798.5 1377.4 L1799.5 1378.3 L1800.5 1377.7 L1801.5 1377.0 L1802.5 1376.3 L1803.5 1375.5 L1804.5 1374.6 L1805.5 1373.7 L1806.5 1372.8 L1807.5 1371.9 L1808.5 1371.1 L1809.5 1370.2 L1810.5 1369.4 L1811.5 1368.7 L1812.5 1368.1 L1813.5 1367.5 L1814.5 1368.9 L1815.5 1370.8 L1816.5 1372.9 L1817.5 1375.2 L1818.5 1377.6 L1819.5 1380.0 L1820.5 1382.3 L1821.5 1384.4 L1822.5 1386.3 L1823.5 1387.5 L1824.5 1385.6 L1825.5 1383.4 L1826.5 1381.0 L1827.5 1378.3 L1828.5 1375.6 L1829.5 1372.8 L1830.5 1370.1 L1831.5 1367.5 L1832.5 1365.1 L1833.5 1363.0 L1834.5 1362.0 L1835.5 1364.6 L1836.5 1367.6 L1837.5 1370.9 L1838.5 1374.4 L1839.5 1378.0 L1840.5 1381.7 L1841.5 1385.2 L1842.5 1388.5 L1843.5 1391.4 L1844.5 1394.0 L1845.5 1393.0 L1846.5 1390.4 L1847.5 1387.5 L1848.5 1384.4 L1849.5 1381.1 L1850.5 1377.8 L1851.5 1374.5 L1852.5 1371.4 L1853.5 1368.6 L1854.5 1366.2 L1855.5 1366.3 L1856.5 1368.9 L1857.5 1371.8 L1858.5 1375.0 L1859.5 1378.4 L1860.5 1381.9 L1861.5 1385.4 L1862.5 1388.8 L1863.5 1392.0 L1864.5 1394.9 L1865.5 1397.4 L1866.5 1397.5 L1867.5 1396.0 L1868.5 1394.3 L1869.5 1392.5 L1870.5 1390.5 L1871.5 1388.5 L1872.5 1386.6 L1873.5 1384.8 L1874.5 1383.1 L1875.5 1381.7 L1876.5 1382.2 L1877.5 1383.1 L1878.5 1384.2 L1879.5 1385.3 L1880.5 1386.6 L1881.5 1387.8 L1882.5 1389.0 L1883.5 1390.2 L1884.5 1391.3 L1885.5 1392.3 L1886.5 1393.2 L1887.5 1393.8 L1888.5 1394.5 L1889.5 1395.2 L1890.5 1396.0 L1891.5 1396.8 L1892.5 1397.5 L1893.5 1398.1 L1894.5 1398.2 L1895.5 1397.3 L1896.5 1396.2 L1897.5 1395.0 L1898.5 1393.9 L1899.5 1393.0 L1900.5 1393.5 L1901.5 1394.6 L1902.5 1395.7 L1903.5 1396.9 L1904.5 1398.1 L1905.5 1399.0 L1906.5 1399.8 L1907.5 1400.5 L1908.5 1401.2 L1909.5 1402.1 L1910.5 1403.0 L1911.5 1403.9 L1912.5 1404.8 L1913.5 1405.6 L1914.5 1406.4 L1915.5 1407.0 L1916.5 1406.6 L1917.5 1405.1 L1918.5 1403.2 L1919.5 1401.3 L1920.5 1399.2 L1921.5 1397.1 L1922.5 1395.2 L1923.5 1393.4 L1924.5 1392.0 L1925.5 1393.1 L1926.5 1395.1 L1927.5 1397.4 L1928.5 1399.9 L1929.5 1402.5 L1930.5 1405.2 L1931.5 1407.9 L1932.5 1410.4 L1933.5 1412.7 L1934.5 1414.9 L1935.5 1416.7 L1936.5 1415.1 L1937.5 1412.8 L1938.5 1410.3 L1939.5 1407.5 L1940.5 1404.6 L1941.5 1401.6 L1942.5 1398.6 L1943.5 1395.8 L1944.5 1393.1 L1945.5 1390.6 L1946.5 1388.4 L1947.5 1387.9 L1948.5 1390.3 L1949.5 1393.1 L1950.5 1396.1 L1951.5 1399.4 L1952.5 1402.8 L1953.5 1406.2 L1954.5 1409.5 L1955.5 1412.7 L1956.5 1415.7 L1957.5 1418.3 L1958.5 1420.5 L1959.5 1419.6 L1960.5 1418.5 L1961.5 1417.4 L1962.5 1416.1 L1963.5 1414.7 L1964.5 1413.3 L1965.5 1411.9 L1966.5 1410.6 L1967.5 1409.3 L1968.5 1408.1 L1969.5 1407.0 L1970.5 1406.2 L1971.5 1407.1 L1972.5 1408.1 L1973.5 1409.2 L1974.5 1410.5 L1975.5 1411.8 L1976.5 1413.1 L1977.5 1414.5 L1978.5 1415.9 L1979.5 1417.3 L1980.5 1418.7 L1981.5 1420.0 L1982.5 1421.2 L1983.5 1422.4 L1984.5 1423.4 L1985.5 1424.4 L1986.5 1423.9 L1987.5 1423.0 L1988.5 1422.0 L1989.5 1420.9 L1990.5 1419.7 L1991.5 1418.5 L1992.5 1417.3 L1993.5 1416.0 L1994.5 1414.8 L1995.5 1413.6 L1996.5 1412.5 L1997.5 1411.5 L1998.5 1410.5 L1999.5 1409.6 L2000.5 1410.1 L2001.5 1411.4 L2002.5 1412.9 L2003.5 1414.5 L2004.5 1416.2 L2005.5 1417.9 L2006.5 1419.6 L2007.5 1421.3 L2008.5 1422.8 L2009.5 1424.3 L2010.5 1425.5 L2011.5 1425.7 L2012.5 1425.7 L2013.5 1425.6 L2014.5 1425.5 L2015.5 1425.5 L2016.5 1425.4 L2017.5 1425.5 L2018.5 1426.2 L2019.5 1427.1 L2020.5 1428.0 L2021.5 1429.0 L2022.5 1430.0 L2023.5 1430.8 L2024.5 1431.6 L2025.5 1431.5 L2026.5 1430.9 L2027.5 1430.2 L2028.5 1429.5 L2029.5 1428.7 L2030.5 1427.8 L2031.5 1427.0 L2032.5 1426.2 L2033.5 1425.5 L2034.5 1424.8 L2035.5 1424.2 L2036.5 1425.0 L2037.5 1426.5 L2038.5 1428.3 L2039.5 1430.2 L2040.5 1432.2 L2041.5 1434.2 L2042.5 1436.3 L2043.5 1438.4 L2044.5 1440.3 L2045.5 1442.2 L2046.5 1443.8 L2047.5 1445.3 L2048.5 1444.5 L2049.5 1442.4 L2050.5 1440.1 L2051.5 1437.6 L2052.5 1435.0 L2053.5 1432.6 L2054.5 1430.5 L2055.5 1428.9 L2056.5 1428.9 L2057.5 1428.9 L2058.5 1428.9" stroke="#ffff00" stroke-width="6"/>
<path d="M311.5 1235.5 L312.5 1235.3 L313.5 1233.6 L314.5 1231.7 L315.5 1229.6 L316.5 1227.3 L317.5 1224.9 L318.5 1222.5 L319.5 1220.2 L320.5 1218.2 L321.5 1216.3 L322.5 1215.7 L323.5 1218.5 L324.5 1221.8 L325.5 1225.4 L326.5 1229.3 L327.5 1233.3 L328.5 1237.4 L329.5 1241.5 L330.5 1245.5 L331.5 1249.2 L332.5 1252.6 L333.5 1255.7 L334.5 1256.2 L335.5 1252.3 L336.5 1247.7 L337.5 1242.8 L338.5 1237.4 L339.5 1231.9 L340.5 1226.2 L341.5 1220.7 L342.5 1215.4 L343.5 1210.4 L344.5 1205.9 L345.5 1202.0 L346.5 1203.2 L347.5 1206.9 L348.5 1211.0 L349.5 1215.5 L350.5 1220.2 L351.5 1225.1 L352.5 1229.9 L353.5 1234.6 L354.5 1239.0 L355.5 1243.0 L356.5 1246.5 L357.5 1246.9 L358.5 1245.0 L359.5 1242.8 L360.5 1240.4 L361.5 1237.9 L362.5 1235.3 L363.5 1232.6 L364.5 1229.9 L365.5 1227.3 L366.5 1224.7 L367.5 1222.4 L368.5 1220.2 L369.5 1218.3 L370.5 1217.8 L371.5 1219.1 L372.5 1220.5 L373.5 1222.0 L374.5 1223.6 L375.5 1225.3 L376.5 1227.0 L377.5 1228.8 L378.5 1230.6 L379.5 1232.4 L380.5 1234.1 L381.5 1235.8 L382.5 1237.3 L383.5 1238.8 L384.5 1240.1 L385.5 1240.9 L386.5 1238.7 L387.5 1236.2 L388.5 1233.4 L389.5 1230.4 L390.5 1227.2 L391.5 1223.9 L392.5 1220.6 L393.5 1217.4 L394.5 1214.2 L395.5 1211.3 L396.5 1208.6 L397.5 1206.2 L398.5 1205.2 L399.5 1208.3 L400.5 1211.8 L401.5 1215.8 L402.5 1220.0 L403.5 1224.4 L404.5 1228.8 L405.5 1233.0 L406.5 1237.0 L407.5 1240.6 L408.5 1243.8 L409.5 1243.3 L410.5 1240.0 L411.5 1236.2 L412.5 1232.1 L413.5 1227.7 L414.5 1223.3 L415.5 1218.8 L416.5 1214.6 L417.5 1210.7 L418.5 1207.2 L419.5 1204.1 L420.5 1206.5 L421.5 1209.6 L422.5 1213.0 L423.5 1216.7 L424.5 1220.7 L425.5 1224.6 L426.5 1228.5 L427.5 1232.3 L428.5 1235.7 L429.5 1238.8 L430.5 1241.2 L431.5 1238.9 L432.5 1236.3 L433.5 1233.3 L434.5 1230.1 L435.5 1226.7 L436.5 1223.4 L437.5 1220.1 L438.5 1216.9 L439.5 1214.1 L440.5 1211.6 L441.5 1211.0 L442.5 1212.9 L443.5 1215.0 L444.5 1217.4 L445.5 1219.9 L446.5 1222.5 L447.5 1225.1 L448.5 1227.6 L449.5 1230.1 L450.5 1232.3 L451.5 1234.2 L452.5 1235.3 L453.5 1234.5 L454.5 1233.7 L455.5 1232.7 L456.5 1231.7 L457.5 1230.6 L458.5 1229.5 L459.5 1228.4 L460.5 1227.3 L461.5 1226.2 L462.5 1225.1 L463.5 1224.1 L464.5 1223.2 L465.5 1222.4 L466.5 1221.8 L467.5 1222.6 L468.5 1223.4 L469.5 1224.3 L470.5 1225.3 L471.5 1226.3 L472.5 1227.3 L473.5 1228.4 L474.5 1229.4 L475.5 1230.3 L476.5 1231.2 L477.5 1231.9 L478.5 1232.2 L479.5 1231.1 L480.5 1230.0 L481.5 1228.7 L482.5 1227.3 L483.5 1225.9 L484.5 1224.4 L485.5 1222.9 L486.5 1221.5 L487.5 1220.2 L488.5 1219.0 L489.5 1217.9 L490.5 1217.9 L491.5 1219.5 L492.5 1221.2 L493.5 1223.2 L494.5 1225.3 L495.5 1227.4 L496.5 1229.5 L497.5 1231.5 L498.5 1233.3 L499.5 1234.9 L500.5 1235.0 L501.5 1233.5 L502.5 1231.9 L503.5 1230.2 L504.5 1228.3 L505.5 1226.3 L506.5 1224.3 L507.5 1222.3 L508.5 1220.4 L509.5 1218.7 L510.5 1217.0 L511.5 1215.6 L512.5 1215.3 L513.5 1217.0 L514.5 1218.9 L515.5 1220.9 L516.5 1223.1 L517.5 1225.5 L518.5 1227.8 L519.5 1230.2 L520.5 1232.6 L521.5 1234.9 L522.5 1237.0 L523.5 1238.9 L524.5 1240.7 L525.5 1241.2 L526.5 1238.6 L527.5 1235.6 L528.5 1232.3 L529.5 1228.8 L530.5 1225.0 L531.5 1221.2 L532.5 1217.4 L533.5 1213.7 L534.5 1210.2 L535.5 1206.9 L536.5 1204.0 L537.5 1201.4 L538.5 1203.5 L539.5 1206.5 L540.5 1210.0 L541.5 1213.7 L542.5 1217.6 L543.5 1221.7 L544.5 1225.8 L545.5 1229.8 L546.5 1233.7 L547.5 1237.3 L548.5 1240.6 L549.5 1243.5 L550.5 1243.6 L551.5 1240.9 L552.5 1237.9 L553.5 1234.6 L554.5 1231.0 L555.5 1227.3 L556.5 1223.6 L557.5 1219.8 L558.5 1216.2 L559.5 1212.8 L560.5 1209.6 L561.5 1206.8 L562.5 1204.8 L563.5 1206.6 L564.5 1208.7 L565.5 1210.9 L566.5 1213.3 L567.5 1215.8 L568.5 1218.4 L569.5 1221.1 L570.5 1223.8 L571.5 1226.5 L572.5 1229.0 L573.5 1231.5 L574.5 1233.8 L575.5 1236.0 L576.5 1237.9 L577.5 1239.0 L578.5 1238.1 L579.5 1237.1 L580.5 1236.1 L581.5 1234.9 L582.5 1233.7 L583.5 1232.4 L584.5 1231.2 L585.5 1230.0 L586.5 1228.8 L587.5 1227.7 L588.5 1226.7 L589.5 1225.8 L590.5 1225.8 L591.5 1227.1 L592.5 1228.5 L593.5 1230.1 L594.5 1231.9 L595.5 1233.7 L596.5 1235.5 L597.5 1237.4 L598.5 1239.2 L599.5 1240.9 L600.5 1242.6 L601.5 1244.1 L602.5 1245.5 L603.5 1245.9 L604.5 1244.1 L605.5 1242.2 L606.5 1239.9 L607.5 1237.6 L608.5 1235.1 L609.5 1232.7 L610.5 1230.3 L611.5 1228.2 L612.5 1226.2 L613.5 1224.5 L614.5 1225.7 L615.5 1227.4 L616.5 1229.3 L617.5 1231.4 L618.5 1233.6 L619.5 1235.9 L620.5 1238.2 L621.5 1240.3 L622.5 1242.4 L623.5 1244.2 L624.5 1245.9 L625.5 1246.0 L626.5 1244.7 L627.5 1243.2 L628.5 1241.6 L629.5 1239.8 L630.5 1238.1 L631.5 1236.4 L632.5 1234.8 L633.5 1233.5 L634.5 1232.9 L635.5 1233.4 L636.5 1234.1 L637.5 1234.8 L638.5 1235.5 L639.5 1236.3 L640.5 1237.1 L641.5 1237.9 L642.5 1238.6 L643.5 1239.3 L644.5 1239.9 L645.5 1240.3 L646.5 1240.1 L647.5 1239.8 L648.5 1239.5 L649.5 1239.2 L650.5 1239.0 L651.5 1238.8 L652.5 1238.6 L653.5 1238.5 L654.5 1238.3 L655.5 1238.1 L656.5 1237.8 L657.5 1237.7 L658.5 1237.5 L659.5 1237.4 L660.5 1237.3 L661.5 1237.2 L662.5 1237.1 L663.5 1237.0 L664.5 1237.0 L665.5 1236.9 L666.5 1236.9 L667.5 1237.4 L668.5 1238.1 L669.5 1238.8 L670.5 1239.5 L671.5 1240.3 L672.5 1241.0 L673.5 1241.7 L674.5 1242.3 L675.5 1242.1 L676.5 1241.3 L677.5 1240.4 L678.5 1239.4 L679.5 1238.4 L680.5 1237.3 L681.5 1236.2 L682.5 1235.1 L683.5 1234.2 L684.5 1233.3 L685.5 1232.5 L686.5 1233.4 L687.5 1234.7 L688.5 1236.3 L689.5 1237.9 L690.5 1239.6 L691.5 1241.3 L692.5 1242.9 L693.5 1244.3 L694.5 1245.5 L695.5 1245.2 L696.5 1244.0 L697.5 1242.7 L698.5 1241.3 L699.5 1239.9 L700.5 1238.4 L701.5 1236.9 L702.5 1235.5 L703.5 1234.2 L704.5 1233.1 L705.5 1232.7 L706.5 1234.0 L707.5 1235.5 L708.5 1237.2 L709.5 1238.9 L710.5 1240.7 L711.5 1242.5 L712.5 1244.3 L713.5 1245.9 L714.5 1247.4 L715.5 1248.7 L716.5 1248.4 L717.5 1247.2 L718.5 1245.8 L719.5 1244.3 L720.5 1242.7 L721.5 1241.0 L722.5 1239.3 L723.5 1237.7 L724.5 1236.1 L725.5 1234.7 L726.5 1233.4 L727.5 1232.3 L728.5 1233.3 L729.5 1234.3 L730.5 1235.5 L731.5 1236.8 L732.5 1238.1 L733.5 1239.5 L734.5 1240.9 L735.5 1242.3 L736.5 1243.6 L737.5 1244.8 L738.5 1245.9 L739.5 1246.9 L740.5 1246.7 L741.5 1245.9 L742.5 1244.9 L743.5 1243.9 L744.5 1242.8 L745.5 1241.6 L746.5 1240.5 L747.5 1239.3 L748.5 1238.1 L749.5 1236.9 L750.5 1235.8 L751.5 1234.8 L752.5 1233.8 L753.5 1233.0 L754.5 1232.8 L755.5 1234.2 L756.5 1235.7 L757.5 1237.4 L758.5 1239.3 L759.5 1241.2 L760.5 1243.2 L761.5 1245.1 L762.5 1247.0 L763.5 1248.8 L764.5 1250.5 L765.5 1252.0 L766.5 1253.4 L767.5 1251.8 L768.5 1249.8 L769.5 1247.5 L770.5 1245.0 L771.5 1242.4 L772.5 1239.7 L773.5 1237.0 L774.5 1234.2 L775.5 1231.6 L776.5 1229.1 L777.5 1226.9 L778.5 1224.8 L779.5 1223.1 L780.5 1224.9 L781.5 1226.8 L782.5 1229.0 L783.5 1231.4 L784.5 1233.9 L785.5 1236.4 L786.5 1239.0 L787.5 1241.6 L788.5 1244.1 L789.5 1246.4 L790.5 1248.6 L791.5 1250.6 L792.5 1252.4 L793.5 1251.6 L794.5 1250.5 L795.5 1249.4 L796.5 1248.2 L797.5 1246.9 L798.5 1245.5 L799.5 1244.1 L800.5 1242.6 L801.5 1241.1 L802.5 1239.7 L803.5 1238.3 L804.5 1236.9 L805.5 1235.5 L806.5 1234.3 L807.5 1233.1 L808.5 1232.0 L809.5 1231.1 L810.5 1232.1 L811.5 1233.8 L812.5 1235.8 L813.5 1237.9 L814.5 1240.1 L815.5 1242.4 L816.5 1244.7 L817.5 1247.0 L818.5 1249.2 L819.5 1251.3 L820.5 1253.2 L821.5 1254.9 L822.5 1254.8 L823.5 1252.3 L824.5 1249.5 L825.5 1246.4 L826.5 1243.1 L827.5 1239.6 L828.5 1236.2 L829.5 1232.8 L830.5 1229.7 L831.5 1226.7 L832.5 1224.2 L833.5 1223.1 L834.5 1225.4 L835.5 1228.0 L836.5 1230.9 L837.5 1234.0 L838.5 1237.2 L839.5 1240.5 L840.5 1243.7 L841.5 1246.7 L842.5 1249.5 L843.5 1251.9 L844.5 1253.6 L845.5 1252.3 L846.5 1250.7 L847.5 1248.9 L848.5 1247.0 L849.5 1245.0 L850.5 1243.1 L851.5 1241.3 L852.5 1239.7 L853.5 1238.3 L854.5 1238.9 L855.5 1240.4 L856.5 1242.1 L857.5 1244.0 L858.5 1245.7 L859.5 1247.3 L860.5 1248.4 L861.5 1247.7 L862.5 1246.7 L863.5 1245.6 L864.5 1244.5 L865.5 1243.4 L866.5 1242.5 L867.5 1241.6 L868.5 1242.1 L869.5 1243.4 L870.5 1244.9 L871.5 1246.6 L872.5 1248.4 L873.5 1250.1 L874.5 1251.9 L875.5 1253.5 L876.5 1254.9 L877.5 1256.2 L878.5 1255.4 L879.5 1253.6 L880.5 1251.6 L881.5 1249.4 L882.5 1247.0 L883.5 1244.7 L884.5 1242.5 L885.5 1240.3 L886.5 1238.4 L887.5 1236.8 L888.5 1237.7 L889.5 1239.3 L890.5 1241.1 L891.5 1243.1 L892.5 1245.2 L893.5 1247.3 L894.5 1249.4 L895.5 1251.4 L896.5 1253.3 L897.5 1255.0 L898.5 1256.5 L899.5 1256.7 L900.5 1256.2 L901.5 1255.7 L902.5 1255.2 L903.5 1254.6 L904.5 1254.0 L905.5 1253.4 L906.5 1252.9 L907.5 1252.4 L908.5 1252.0 L909.5 1251.9 L910.5 1251.9 L911.5 1251.9 L912.5 1251.9 L913.5 1251.8 L914.5 1251.8 L915.5 1251.8 L916.5 1251.8 L917.5 1251.9 L918.5 1252.3 L919.5 1252.8 L920.5 1253.4 L921.5 1253.9 L922.5 1254.5 L923.5 1255.0 L924.5 1255.5 L925.5 1255.6 L926.5 1255.5 L927.5 1255.5 L928.5 1255.4 L929.5 1255.4 L930.5 1255.3 L931.5 1255.3 L932.5 1255.2 L933.5 1255.2 L934.5 1254.8 L935.5 1254.4 L936.5 1254.0 L937.5 1253.5 L938.5 1253.0 L939.5 1252.5 L940.5 1251.9 L941.5 1251.4 L942.5 1251.0 L943.5 1250.6 L944.5 1250.2 L945.5 1250.2 L946.5 1250.3 L947.5 1250.4 L948.5 1250.5 L949.5 1250.5 L950.5 1250.6 L951.5 1251.1 L952.5 1251.8 L953.5 1252.7 L954.5 1253.7 L955.2 1254.4 L955.5 1254.7 L956.5 1255.6 L957.5 1256.3 L958.5 1256.7 L959.5 1256.5 L960.5 1256.1 L961.5 1255.7 L962.5 1255.3 L963.5 1254.9 L964.5 1254.6 L965.5 1254.3 L966.5 1254.2 L967.5 1254.1 L968.5 1254.0 L969.5 1253.9 L970.5 1253.8 L971.5 1253.7 L972.5 1253.5 L973.5 1253.4 L974.5 1253.3 L975.5 1253.2 L976.5 1253.1 L977.5 1253.0 L978.5 1253.2 L979.5 1253.6 L980.5 1254.1 L981.5 1254.6 L982.5 1255.1 L983.5 1255.7 L984.5 1256.3 L985.5 1256.9 L986.5 1257.5 L987.5 1258.1 L988.5 1258.7 L989.5 1259.3 L990.5 1259.8 L991.5 1260.3 L992.5 1260.7 L993.5 1260.3 L994.5 1259.4 L995.5 1258.4 L996.5 1257.4 L997.5 1256.2 L998.5 1255.0 L999.5 1253.8 L1000.5 1252.5 L1001.5 1251.3 L1002.5 1250.0 L1003.5 1248.9 L1004.5 1247.7 L1005.5 1246.7 L1006.5 1245.8 L1007.3 1245.1 L1007.5 1244.9 L1008.5 1245.8 L1009.5 1247.4 L1010.5 1249.2 L1011.5 1251.1 L1012.5 1253.1 L1013.5 1255.2 L1014.5 1257.3 L1015.5 1259.4 L1016.5 1261.4 L1017.5 1263.3 L1018.5 1265.1 L1019.5 1266.6 L1020.5 1266.9 L1021.5 1265.3 L1022.5 1263.6 L1023.5 1261.7 L1024.5 1259.6 L1025.5 1257.5 L1026.5 1255.3 L1027.5 1253.3 L1028.5 1251.3 L1029.5 1249.5 L1030.5 1247.9 L1031.5 1247.1 L1032.5 1248.5 L1033.5 1250.0 L1034.5 1251.7 L1035.5 1253.6 L1036.5 1255.5 L1037.5 1257.5 L1038.5 1259.4 L1039.5 1261.3 L1040.5 1263.1 L1041.5 1264.8 L1042.5 1266.3 L1043.5 1267.7 L1044.5 1267.2 L1045.5 1266.3 L1046.5 1265.4 L1047.5 1264.5 L1048.5 1263.5 L1049.5 1262.4 L1050.5 1261.3 L1051.5 1260.2 L1052.5 1259.0 L1053.5 1257.9 L1054.5 1256.8 L1055.5 1255.8 L1056.5 1254.8 L1057.5 1253.9 L1058.5 1253.0 L1059.5 1252.3 L1060.5 1253.0 L1061.5 1254.2 L1062.5 1255.5 L1063.5 1257.0 L1064.5 1258.5 L1065.5 1260.1 L1066.2 1261.2 L1066.5 1261.7 L1067.5 1263.3 L1068.5 1264.9 L1069.5 1266.4 L1070.5 1267.9 L1071.5 1269.2 L1072.5 1270.4 L1073.5 1270.9 L1074.5 1268.8 L1075.5 1266.3 L1076.5 1263.5 L1077.5 1260.6 L1078.5 1257.6 L1079.5 1254.8 L1080.5 1252.2 L1081.5 1250.0 L1082.5 1249.9 L1083.5 1251.8 L1084.5 1253.9 L1085.5 1256.2 L1086.5 1258.6 L1087.5 1261.2 L1088.5 1263.8 L1089.5 1266.4 L1090.5 1268.9 L1091.5 1271.3 L1092.5 1273.5 L1093.5 1275.4 L1094.5 1276.6 L1095.5 1274.1 L1096.5 1271.3 L1097.5 1268.2 L1098.5 1264.8 L1099.5 1261.4 L1100.5 1257.9 L1101.5 1254.6 L1102.5 1251.6 L1103.5 1248.9 L1104.5 1247.7 L1105.5 1250.1 L1106.5 1252.9 L1107.5 1255.9 L1108.5 1259.2 L1109.5 1262.6 L1110.5 1266.1 L1111.5 1269.4 L1112.5 1272.7 L1113.5 1275.6 L1114.5 1278.3 L1115.5 1272.8 L1116.5 1253.0 L1117.5 1209.2 L1118.5 1094.4 L1119.5 989.9 L1120.5 885.2 L1121.5 780.5 L1122.5 675.8 L1123.5 571.3 L1124.5 467.0 L1125.5 393.6 L1126.5 332.8 L1127.5 276.4 L1128.5 237.2 L1128.6 235.0 L1129.5 271.4 L1130.5 335.2 L1131.5 398.8 L1132.5 469.0 L1133.5 575.4 L1134.5 679.8 L1135.5 782.9 L1136.5 885.9 L1137.5 988.8 L1138.5 1091.7 L1139.5 1160.3 L1140.5 1194.6 L1141.5 1213.7 L1142.5 1227.7 L1143.5 1238.9 L1144.5 1244.3 L1145.5 1249.9 L1146.5 1255.6 L1147.5 1261.0 L1148.5 1263.7 L1149.5 1266.3 L1150.5 1269.0 L1151.5 1270.0 L1152.5 1269.8 L1153.5 1269.5 L1154.5 1269.2 L1155.5 1268.9 L1156.5 1268.5 L1157.5 1268.2 L1158.5 1267.9 L1159.5 1267.7 L1160.5 1267.9 L1161.5 1268.5 L1162.5 1269.2 L1163.5 1270.0 L1164.5 1270.8 L1165.5 1271.7 L1166.5 1272.5 L1167.5 1273.4 L1168.5 1274.2 L1169.5 1274.9 L1170.5 1275.5 L1171.5 1275.6 L1172.5 1274.7 L1173.5 1273.7 L1174.5 1272.6 L1175.5 1271.5 L1176.5 1270.5 L1177.5 1269.5 L1178.5 1268.8 L1179.5 1269.1 L1180.5 1269.6 L1181.5 1270.1 L1182.5 1270.7 L1183.5 1271.2 L1184.5 1271.8 L1185.5 1272.4 L1186.5 1273.0 L1187.5 1273.6 L1188.5 1274.1 L1189.5 1274.6 L1190.5 1275.0 L1191.5 1275.1 L1192.5 1275.1 L1193.5 1275.0 L1194.5 1274.9 L1195.5 1274.9 L1196.5 1274.8 L1197.5 1274.7 L1198.5 1274.6 L1199.5 1274.5 L1200.5 1274.5 L1201.5 1274.4 L1202.5 1274.4 L1203.5 1274.3 L1204.5 1274.2 L1205.5 1274.2 L1206.5 1274.1 L1207.5 1274.4 L1208.5 1275.2 L1209.5 1276.1 L1210.5 1277.0 L1211.5 1277.9 L1212.5 1278.7 L1213.5 1279.2 L1214.5 1279.5 L1215.5 1279.8 L1216.5 1280.2 L1217.5 1280.6 L1218.5 1281.0 L1219.5 1281.5 L1220.5 1281.9 L1221.5 1282.3 L1222.5 1282.6 L1223.5 1283.0 L1224.5 1283.1 L1225.5 1282.6 L1226.5 1282.0 L1227.5 1281.3 L1228.5 1280.6 L1229.5 1279.8 L1230.5 1279.0 L1231.5 1278.3 L1232.5 1277.5 L1233.5 1276.8 L1234.5 1276.1 L1235.5 1275.5 L1236.5 1275.0 L1237.5 1275.2 L1238.5 1275.6 L1239.5 1276.0 L1240.5 1276.5 L1241.5 1277.0 L1242.5 1277.5 L1243.5 1278.1 L1244.5 1278.6 L1245.5 1279.2 L1246.5 1279.8 L1247.5 1280.3 L1248.5 1280.9 L1249.5 1281.4 L1250.5 1281.9 L1251.5 1282.4 L1252.5 1282.8 L1253.5 1283.2 L1254.5 1283.0 L1255.5 1282.2 L1256.5 1281.3 L1257.5 1280.4 L1258.5 1279.3 L1259.5 1278.2 L1260.5 1277.1 L1261.5 1276.0 L1262.5 1274.9 L1263.5 1273.8 L1264.5 1272.8 L1265.5 1271.8 L1266.5 1271.0 L1267.5 1270.2 L1268.5 1271.4 L1269.5 1273.1 L1270.5 1275.1 L1271.5 1277.2 L1272.5 1279.4 L1273.5 1281.6 L1274.5 1283.7 L1275.5 1285.7 L1276.5 1287.4 L1277.2 1288.5 L1277.5 1288.9 L1278.5 1288.7 L1279.5 1288.4 L1280.5 1288.1 L1281.5 1287.7 L1282.5 1287.4 L1283.5 1287.1 L1284.5 1286.8 L1285.5 1286.8 L1286.5 1286.9 L1287.5 1287.0 L1288.5 1287.1 L1289.5 1287.2 L1290.5 1287.3 L1291.5 1287.4 L1292.5 1287.4 L1293.5 1287.4 L1294.5 1286.5 L1295.5 1285.4 L1296.5 1284.1 L1297.5 1282.8 L1298.5 1281.4 L1299.5 1280.0 L1300.5 1278.6 L1301.5 1277.3 L1302.5 1276.1 L1303.5 1275.0 L1304.5 1274.0 L1305.5 1276.0 L1306.5 1278.4 L1307.5 1281.2 L1308.5 1284.1 L1309.5 1287.2 L1310.5 1290.3 L1311.5 1293.2 L1312.5 1296.0 L1313.5 1298.4 L1314.5 1300.4 L1315.5 1298.6 L1316.5 1296.5 L1317.5 1294.3 L1318.5 1291.8 L1319.5 1289.3 L1320.5 1286.6 L1321.5 1284.0 L1322.5 1281.5 L1323.5 1279.1 L1324.5 1276.9 L1325.5 1274.9 L1326.5 1273.8 L1327.5 1276.1 L1328.5 1278.8 L1329.5 1281.7 L1330.5 1284.9 L1331.5 1288.3 L1332.5 1291.6 L1333.5 1294.8 L1334.5 1297.8 L1335.5 1300.5 L1336.5 1302.9 L1337.5 1303.0 L1338.5 1302.5 L1339.5 1301.9 L1340.5 1301.3 L1341.5 1300.7 L1342.5 1300.0 L1343.5 1299.3 L1344.5 1298.6 L1345.5 1297.8 L1346.5 1297.1 L1347.5 1296.3 L1348.5 1295.6 L1349.5 1294.8 L1350.5 1294.1 L1351.5 1293.4 L1352.5 1292.7 L1353.5 1292.0 L1354.5 1291.4 L1355.5 1290.8 L1356.5 1290.3 L1357.5 1289.8 L1358.5 1291.1 L1359.5 1293.3 L1360.5 1295.8 L1361.5 1298.6 L1362.5 1301.5 L1363.5 1304.4 L1364.5 1307.3 L1365.5 1309.9 L1366.5 1312.3 L1367.5 1314.4 L1368.5 1312.5 L1369.5 1309.5 L1370.5 1306.1 L1371.5 1302.4 L1372.5 1298.5 L1373.5 1294.5 L1374.5 1290.6 L1375.5 1286.8 L1376.5 1283.2 L1377.5 1280.0 L1378.5 1277.2 L1379.5 1278.4 L1380.0 1280.0 L1380.5 1281.7 L1381.5 1285.4 L1382.5 1289.4 L1383.5 1293.7 L1384.5 1298.1 L1385.5 1302.5 L1386.5 1306.7 L1387.5 1310.6 L1388.5 1314.2 L1389.5 1317.4 L1390.5 1317.9 L1391.5 1316.4 L1392.5 1314.6 L1393.5 1312.7 L1394.5 1310.6 L1395.5 1308.6 L1396.5 1306.5 L1397.5 1304.6 L1398.5 1302.9 L1399.5 1301.4 L1400.5 1301.7 L1401.5 1303.1 L1402.5 1304.6 L1403.5 1306.4 L1404.5 1308.2 L1405.5 1310.0 L1406.5 1311.8 L1407.5 1313.5 L1408.5 1315.0 L1409.5 1316.3 L1410.5 1316.4 L1411.5 1316.0 L1412.5 1315.6 L1413.5 1315.1 L1414.5 1314.7 L1415.5 1314.2 L1416.5 1313.7 L1417.5 1313.2 L1418.5 1312.8 L1419.5 1312.4 L1420.5 1312.0 L1421.5 1312.1 L1422.5 1312.6 L1423.5 1313.0 L1424.5 1313.5 L1425.5 1314.0 L1426.5 1314.6 L1427.5 1315.2 L1428.5 1315.7 L1429.5 1316.3 L1430.5 1316.9 L1431.5 1317.4 L1432.5 1317.9 L1433.5 1318.3 L1434.5 1318.7 L1435.5 1318.2 L1436.5 1317.7 L1437.5 1317.1 L1438.5 1316.5 L1439.5 1315.8 L1440.5 1315.2 L1441.5 1314.5 L1442.5 1313.8 L1443.5 1313.1 L1444.5 1312.5 L1445.5 1311.9 L1446.5 1311.3 L1447.5 1310.8 L1448.5 1310.9 L1449.5 1312.1 L1450.5 1313.3 L1451.5 1314.7 L1452.5 1316.2 L1453.5 1317.7 L1454.5 1319.3 L1455.5 1321.0 L1456.5 1322.6 L1457.5 1324.1 L1458.5 1325.6 L1459.5 1327.0 L1460.5 1328.2 L1461.5 1329.3 L1462.5 1328.7 L1463.5 1327.4 L1464.5 1325.9 L1465.5 1324.2 L1466.5 1322.6 L1467.5 1320.9 L1468.5 1319.4 L1469.5 1318.1 L1470.5 1317.1 L1471.5 1317.6 L1472.5 1318.1 L1473.5 1318.7 L1474.5 1319.4 L1475.5 1320.1 L1476.5 1320.8 L1477.5 1321.4 L1478.5 1322.0 L1479.5 1322.5 L1480.5 1323.0 L1481.5 1323.2 L1482.5 1323.6 L1483.5 1324.0 L1484.5 1324.4 L1485.5 1324.8 L1486.5 1325.2 L1487.5 1325.5 L1488.5 1325.9 L1489.5 1326.2 L1490.5 1326.5 L1491.5 1327.0 L1492.5 1327.5 L1493.5 1328.0 L1494.5 1328.6 L1495.5 1329.2 L1496.5 1329.8 L1497.5 1330.4 L1498.5 1331.1 L1499.5 1331.8 L1500.5 1332.4 L1501.5 1333.1 L1502.5 1333.7 L1503.5 1334.4 L1504.5 1335.0 L1505.5 1335.5 L1506.5 1336.1 L1507.5 1336.6 L1508.5 1337.0 L1509.5 1335.7 L1510.5 1333.6 L1511.5 1331.2 L1512.5 1328.5 L1513.5 1325.8 L1514.5 1322.9 L1515.5 1320.1 L1516.5 1317.4 L1517.5 1314.8 L1518.5 1312.5 L1519.5 1310.4 L1520.5 1311.3 L1521.5 1314.4 L1522.5 1317.8 L1523.5 1321.6 L1524.5 1325.5 L1525.5 1329.6 L1526.5 1333.7 L1527.5 1337.7 L1528.5 1341.5 L1529.5 1344.9 L1530.5 1347.9 L1531.5 1347.8 L1532.5 1344.2 L1533.5 1340.0 L1534.5 1335.5 L1535.5 1330.7 L1536.5 1325.6 L1537.5 1320.6 L1538.5 1315.7 L1539.5 1311.1 L1540.5 1306.8 L1541.5 1303.1 L1542.5 1301.7 L1543.5 1304.5 L1544.5 1307.6 L1545.5 1311.1 L1546.5 1314.9 L1547.5 1318.8 L1548.5 1322.8 L1549.5 1326.8 L1550.5 1330.7 L1551.5 1334.4 L1552.5 1337.8 L1553.5 1340.9 L1554.5 1343.6 L1555.5 1343.1 L1556.5 1342.3 L1557.5 1341.5 L1558.5 1340.6 L1559.5 1339.6 L1560.5 1338.6 L1561.5 1337.6 L1562.5 1336.5 L1563.5 1335.4 L1564.5 1334.3 L1565.5 1333.2 L1566.5 1332.2 L1567.5 1331.1 L1568.5 1330.1 L1569.5 1329.1 L1570.5 1328.1 L1571.5 1327.2 L1572.5 1326.4 L1573.5 1325.6 L1574.5 1325.3 L1575.5 1327.4 L1576.5 1329.7 L1577.5 1332.3 L1578.5 1335.1 L1579.5 1338.0 L1580.5 1341.0 L1581.5 1344.0 L1582.5 1346.9 L1583.5 1349.7 L1584.5 1352.3 L1585.5 1354.7 L1586.5 1356.7 L1587.5 1355.0 L1588.5 1351.7 L1589.5 1348.0 L1590.5 1343.9 L1591.5 1339.7 L1592.5 1335.4 L1593.5 1331.3 L1594.5 1327.4 L1595.5 1324.0 L1596.5 1321.0 L1597.5 1322.7 L1598.5 1325.4 L1599.5 1328.5 L1600.5 1331.8 L1601.5 1335.3 L1602.5 1338.7 L1603.5 1342.1 L1604.5 1345.2 L1605.5 1348.0 L1606.5 1350.4 L1607.5 1349.5 L1608.5 1348.3 L1609.5 1346.9 L1610.5 1345.5 L1611.5 1344.0 L1612.5 1342.5 L1613.5 1341.0 L1614.5 1339.7 L1615.5 1338.5 L1616.5 1337.6 L1617.5 1338.1 L1618.5 1338.8 L1619.5 1339.5 L1620.5 1340.2 L1621.5 1341.0 L1622.5 1341.7 L1623.5 1342.4 L1624.5 1343.0 L1625.5 1343.1 L1626.5 1342.5 L1627.5 1341.8 L1628.5 1341.1 L1629.5 1340.3 L1630.5 1339.5 L1631.5 1338.7 L1632.5 1338.1 L1633.5 1337.5 L1634.5 1337.9 L1635.5 1338.8 L1636.5 1339.8 L1637.5 1340.9 L1638.5 1342.1 L1639.5 1343.3 L1640.5 1344.5 L1641.5 1345.6 L1642.5 1346.7 L1643.5 1347.7 L1644.5 1348.5 L1645.5 1348.3 L1646.5 1347.4 L1647.5 1346.3 L1648.5 1345.2 L1649.5 1343.9 L1650.5 1342.7 L1651.5 1341.4 L1652.5 1340.1 L1653.5 1339.0 L1654.5 1337.9 L1655.5 1337.0 L1656.5 1336.9 L1657.5 1337.6 L1658.5 1338.4 L1659.5 1339.3 L1660.5 1340.3 L1661.5 1341.3 L1662.5 1342.3 L1663.5 1343.4 L1664.5 1344.4 L1665.5 1345.5 L1666.5 1346.6 L1667.5 1347.7 L1668.5 1348.7 L1669.5 1349.7 L1670.5 1350.6 L1671.5 1351.4 L1672.5 1352.2 L1673.5 1352.7 L1674.5 1351.8 L1675.5 1350.8 L1676.5 1349.7 L1677.5 1348.5 L1678.5 1347.2 L1679.5 1346.0 L1680.5 1344.7 L1681.5 1343.5 L1682.5 1342.3 L1683.5 1341.3 L1684.5 1340.3 L1685.5 1340.5 L1686.5 1342.1 L1687.5 1343.9 L1688.5 1345.9 L1689.5 1348.0 L1690.5 1350.2 L1691.5 1352.4 L1692.5 1354.7 L1693.5 1356.9 L1694.5 1359.0 L1695.5 1361.0 L1696.5 1362.8 L1697.5 1364.4 L1698.5 1365.0 L1699.5 1363.8 L1700.5 1362.5 L1701.5 1361.1 L1702.5 1359.5 L1703.5 1357.9 L1704.5 1356.3 L1705.5 1354.6 L1706.5 1353.0 L1707.5 1351.4 L1708.5 1350.0 L1709.5 1348.6 L1710.5 1347.4 L1711.5 1346.9 L1712.5 1347.7 L1713.5 1348.7 L1714.5 1349.7 L1715.5 1350.7 L1716.5 1351.9 L1717.5 1353.0 L1718.5 1354.3 L1719.5 1355.5 L1720.5 1356.8 L1721.5 1358.0 L1722.5 1359.2 L1723.5 1360.4 L1724.5 1361.6 L1725.5 1362.7 L1726.5 1363.7 L1727.5 1364.7 L1728.5 1365.6 L1729.5 1365.9 L1730.5 1364.4 L1731.5 1362.7 L1732.5 1360.8 L1733.5 1358.8 L1734.5 1356.7 L1735.5 1354.6 L1736.5 1352.5 L1737.5 1350.5 L1738.5 1348.6 L1739.5 1347.0 L1740.5 1345.5 L1741.5 1347.3 L1742.5 1349.8 L1743.5 1352.6 L1744.5 1355.6 L1745.5 1358.8 L1746.5 1362.1 L1747.5 1365.3 L1748.5 1368.3 L1749.5 1371.2 L1750.5 1373.7 L1751.5 1375.9 L1752.5 1373.3 L1753.5 1370.3 L1754.5 1366.9 L1755.5 1363.2 L1756.5 1359.4 L1757.5 1355.5 L1758.5 1351.7 L1759.5 1348.2 L1760.5 1345.0 L1761.5 1342.2 L1762.5 1342.5 L1763.5 1345.5 L1764.5 1348.9 L1765.5 1352.6 L1766.5 1356.5 L1767.5 1360.6 L1768.5 1364.8 L1769.5 1368.9 L1770.5 1372.8 L1771.5 1376.4 L1772.5 1379.7 L1773.5 1382.6 L1774.5 1382.0 L1775.5 1380.2 L1776.5 1378.3 L1777.5 1376.2 L1778.5 1373.9 L1779.5 1371.6 L1780.5 1369.3 L1781.5 1367.2 L1782.5 1365.1 L1783.5 1363.3 L1784.5 1361.7 L1785.5 1362.4 L1786.5 1363.6 L1787.5 1364.8 L1788.5 1366.1 L1789.5 1367.5 L1790.5 1369.0 L1791.5 1370.5 L1792.5 1372.0 L1793.5 1373.5 L1794.5 1375.0 L1795.5 1376.4 L1796.5 1377.7 L1797.5 1378.9 L1798.5 1380.1 L1799.5 1381.0 L1800.5 1380.3 L1801.5 1379.6 L1802.5 1378.9 L1803.5 1378.1 L1804.5 1377.2 L1805.5 1376.3 L1806.5 1375.4 L1807.5 1374.4 L1808.5 1373.5 L1809.5 1372.7 L1810.5 1371.9 L1811.5 1371.1 L1812.5 1370.4 L1813.5 1369.8 L1814.5 1371.2 L1815.5 1373.2 L1816.5 1375.4 L1817.5 1377.7 L1818.5 1380.2 L1819.5 1382.6 L1820.5 1385.0 L1821.5 1387.1 L1822.5 1389.1 L1823.5 1390.4 L1824.5 1388.4 L1825.5 1386.1 L1826.5 1383.6 L1827.5 1380.9 L1828.5 1378.1 L1829.5 1375.2 L1830.5 1372.4 L1831.5 1369.7 L1832.5 1367.3 L1833.5 1365.1 L1834.5 1364.1 L1835.5 1366.7 L1836.5 1369.8 L1837.5 1373.1 L1838.5 1376.7 L1839.5 1380.5 L1840.5 1384.2 L1841.5 1387.9 L1842.5 1391.3 L1843.5 1394.3 L1844.5 1397.0 L1845.5 1395.8 L1846.5 1393.2 L1847.5 1390.2 L1848.5 1387.0 L1849.5 1383.6 L1850.5 1380.2 L1851.5 1376.8 L1852.5 1373.6 L1853.5 1370.7 L1854.5 1368.2 L1855.5 1368.3 L1856.5 1371.0 L1857.5 1374.0 L1858.5 1377.3 L1859.5 1380.8 L1860.5 1384.4 L1861.5 1388.0 L1862.5 1391.5 L1863.5 1394.8 L1864.5 1397.7 L1865.5 1400.3 L1866.5 1400.4 L1867.5 1398.8 L1868.5 1397.1 L1869.5 1395.1 L1870.5 1393.1 L1871.5 1391.0 L1872.5 1389.0 L1873.5 1387.2 L1874.5 1385.5 L1875.5 1384.0 L1876.5 1384.5 L1877.5 1385.4 L1878.5 1386.5 L1879.5 1387.7 L1880.5 1389.0 L1881.5 1390.2 L1882.5 1391.5 L1883.5 1392.7 L1884.5 1393.8 L1885.5 1394.9 L1886.5 1395.7 L1887.5 1396.3 L1888.5 1397.0 L1889.5 1397.7 L1890.5 1398.5 L1891.5 1399.3 L1892.5 1400.0 L1893.5 1400.7 L1894.5 1400.8 L1895.5 1399.9 L1896.5 1398.7 L1897.5 1397.5 L1898.5 1396.3 L1899.5 1395.4 L1900.5 1396.0 L1901.5 1397.0 L1902.5 1398.2 L1903.5 1399.4 L1904.5 1400.6 L1905.5 1401.6 L1906.5 1402.4 L1907.5 1403.0 L1908.5 1403.8 L1909.5 1404.7 L1910.5 1405.6 L1911.5 1406.5 L1912.5 1407.4 L1913.5 1408.3 L1914.5 1409.1 L1915.5 1409.8 L1916.5 1409.3 L1917.5 1407.7 L1918.5 1405.8 L1919.5 1403.8 L1920.5 1401.7 L1921.5 1399.5 L1922.5 1397.5 L1923.5 1395.7 L1924.5 1394.2 L1925.5 1395.4 L1926.5 1397.4 L1927.5 1399.8 L1928.5 1402.3 L1929.5 1405.0 L1930.5 1407.8 L1931.5 1410.5 L1932.5 1413.1 L1933.5 1415.5 L1934.5 1417.7 L1935.5 1419.6 L1936.5 1417.9 L1937.5 1415.5 L1938.5 1412.9 L1939.5 1410.1 L1940.5 1407.1 L1941.5 1404.0 L1942.5 1400.9 L1943.5 1398.0 L1944.5 1395.2 L1945.5 1392.6 L1946.5 1390.4 L1947.5 1389.8 L1948.5 1392.3 L1949.5 1395.2 L1950.5 1398.3 L1951.5 1401.6 L1952.5 1405.1 L1953.5 1408.6 L1954.5 1412.1 L1955.5 1415.4 L1956.5 1418.4 L1957.5 1421.1 L1958.5 1423.4 L1959.5 1422.4 L1960.5 1421.3 L1961.5 1420.1 L1962.5 1418.7 L1963.5 1417.3 L1964.5 1415.9 L1965.5 1414.5 L1966.5 1413.1 L1967.5 1411.7 L1968.5 1410.5 L1969.5 1409.4 L1970.5 1408.5 L1971.5 1409.5 L1972.5 1410.5 L1973.5 1411.7 L1974.5 1412.9 L1975.5 1414.3 L1976.5 1415.6 L1977.5 1417.1 L1978.5 1418.5 L1979.5 1419.9 L1980.5 1421.3 L1981.5 1422.6 L1982.5 1423.9 L1983.5 1425.1 L1984.5 1426.1 L1985.5 1427.1 L1986.5 1426.6 L1987.5 1425.7 L1988.5 1424.6 L1989.5 1423.5 L1990.5 1422.3 L1991.5 1421.1 L1992.5 1419.8 L1993.5 1418.5 L1994.5 1417.2 L1995.5 1416.0 L1996.5 1414.8 L1997.5 1413.7 L1998.5 1412.7 L1999.5 1411.8 L2000.5 1412.3 L2001.5 1413.6 L2002.5 1415.1 L2003.5 1416.7 L2004.5 1418.5 L2005.5 1420.3 L2006.5 1422.1 L2007.5 1423.8 L2008.5 1425.4 L2009.5 1426.8 L2010.5 1428.1 L2011.5 1428.3 L2012.5 1428.3 L2013.5 1428.2 L2014.5 1428.1 L2015.5 1428.0 L2016.5 1427.9 L2017.5 1428.0 L2018.5 1428.7 L2019.5 1429.6 L2020.5 1430.6 L2021.5 1431.6 L2022.5 1432.6 L2023.5 1433.5 L2024.5 1434.2 L2025.5 1434.2 L2026.5 1433.5 L2027.5 1432.8 L2028.5 1432.0 L2029.5 1431.2 L2030.5 1430.3 L2031.5 1429.5 L2032.5 1428.6 L2033.5 1427.9 L2034.5 1427.2 L2035.5 1426.5 L2036.5 1427.3 L2037.5 1428.9 L2038.5 1430.7 L2039.5 1432.7 L2040.5 1434.7 L2041.5 1436.9 L2042.5 1439.0 L2043.5 1441.1 L2044.5 1443.1 L2045.5 1445.0 L2046.5 1446.7 L2047.5 1448.2 L2048.5 1447.4 L2049.5 1445.3 L2050.5 1442.9 L2051.5 1440.3 L2052.5 1437.7 L2053.5 1435.2 L2054.5 1433.0 L2055.5 1431.3 L2056.5 1431.3 L2057.5 1431.3 L2058.5 1431.3" stroke="#ff0000" stroke-width="6"/>
<path d="M311.5 1237.5 L312.5 1237.3 L313.5 1235.6 L314.5 1233.7 L315.5 1231.5 L316.5 1229.1 L317.5 1226.7 L318.5 1224.2 L319.5 1221.9 L320.5 1219.8 L321.5 1217.9 L322.5 1217.2 L323.5 1220.2 L324.5 1223.5 L325.5 1227.2 L326.5 1231.2 L327.5 1235.4 L328.5 1239.6 L329.5 1243.9 L330.5 1247.9 L331.5 1251.8 L332.5 1255.3 L333.5 1258.4 L334.5 1259.0 L335.5 1254.9 L336.5 1250.3 L337.5 1245.1 L338.5 1239.6 L339.5 1233.9 L340.5 1228.1 L341.5 1222.4 L342.5 1216.9 L343.5 1211.8 L344.5 1207.2 L345.5 1203.2 L346.5 1204.4 L347.5 1208.2 L348.5 1212.4 L349.5 1217.0 L350.5 1221.9 L351.5 1226.9 L352.5 1231.9 L353.5 1236.8 L354.5 1241.3 L355.5 1245.4 L356.5 1249.0 L357.5 1249.4 L358.5 1247.4 L359.5 1245.2 L360.5 1242.7 L361.5 1240.1 L362.5 1237.4 L363.5 1234.7 L364.5 1231.9 L365.5 1229.2 L366.5 1226.7 L367.5 1224.3 L368.5 1222.0 L369.5 1220.1 L370.5 1219.6 L371.5 1220.9 L372.5 1222.3 L373.5 1223.9 L374.5 1225.5 L375.5 1227.3 L376.5 1229.1 L377.5 1230.9 L378.5 1232.7 L379.5 1234.5 L380.5 1236.3 L381.5 1238.0 L382.5 1239.6 L383.5 1241.1 L384.5 1242.4 L385.5 1243.3 L386.5 1241.0 L387.5 1238.4 L388.5 1235.6 L389.5 1232.5 L390.5 1229.2 L391.5 1225.9 L392.5 1222.5 L393.5 1219.2 L394.5 1215.9 L395.5 1212.9 L396.5 1210.1 L397.5 1207.6 L398.5 1206.6 L399.5 1209.8 L400.5 1213.4 L401.5 1217.5 L402.5 1221.8 L403.5 1226.3 L404.5 1230.8 L405.5 1235.2 L406.5 1239.3 L407.5 1243.1 L408.5 1246.4 L409.5 1245.8 L410.5 1242.4 L411.5 1238.5 L412.5 1234.3 L413.5 1229.8 L414.5 1225.3 L415.5 1220.7 L416.5 1216.3 L417.5 1212.3 L418.5 1208.7 L419.5 1205.5 L420.5 1208.0 L421.5 1211.2 L422.5 1214.7 L423.5 1218.5 L424.5 1222.6 L425.5 1226.7 L426.5 1230.7 L427.5 1234.5 L428.5 1238.1 L429.5 1241.2 L430.5 1243.7 L431.5 1241.3 L432.5 1238.6 L433.5 1235.5 L434.5 1232.2 L435.5 1228.8 L436.5 1225.3 L437.5 1221.9 L438.5 1218.7 L439.5 1215.8 L440.5 1213.2 L441.5 1212.6 L442.5 1214.5 L443.5 1216.7 L444.5 1219.1 L445.5 1221.7 L446.5 1224.4 L447.5 1227.1 L448.5 1229.7 L449.5 1232.2 L450.5 1234.5 L451.5 1236.5 L452.5 1237.6 L453.5 1236.8 L454.5 1235.9 L455.5 1234.9 L456.5 1233.9 L457.5 1232.7 L458.5 1231.6 L459.5 1230.4 L460.5 1229.3 L461.5 1228.2 L462.5 1227.1 L463.5 1226.1 L464.5 1225.1 L465.5 1224.3 L466.5 1223.7 L467.5 1224.5 L468.5 1225.3 L469.5 1226.2 L470.5 1227.2 L471.5 1228.3 L472.5 1229.3 L473.5 1230.4 L474.5 1231.4 L475.5 1232.4 L476.5 1233.3 L477.5 1234.1 L478.5 1234.3 L479.5 1233.3 L480.5 1232.1 L481.5 1230.7 L482.5 1229.3 L483.5 1227.8 L484.5 1226.3 L485.5 1224.8 L486.5 1223.4 L487.5 1222.0 L488.5 1220.8 L489.5 1219.7 L490.5 1219.7 L491.5 1221.3 L492.5 1223.1 L493.5 1225.1 L494.5 1227.3 L495.5 1229.5 L496.5 1231.6 L497.5 1233.7 L498.5 1235.5 L499.5 1237.1 L500.5 1237.2 L501.5 1235.7 L502.5 1234.1 L503.5 1232.3 L504.5 1230.3 L505.5 1228.3 L506.5 1226.3 L507.5 1224.3 L508.5 1222.3 L509.5 1220.5 L510.5 1218.8 L511.5 1217.3 L512.5 1217.1 L513.5 1218.8 L514.5 1220.7 L515.5 1222.9 L516.5 1225.1 L517.5 1227.5 L518.5 1230.0 L519.5 1232.4 L520.5 1234.8 L521.5 1237.1 L522.5 1239.3 L523.5 1241.3 L524.5 1243.1 L525.5 1243.7 L526.5 1241.0 L527.5 1237.9 L528.5 1234.5 L529.5 1230.9 L530.5 1227.0 L531.5 1223.1 L532.5 1219.2 L533.5 1215.4 L534.5 1211.8 L535.5 1208.4 L536.5 1205.4 L537.5 1202.7 L538.5 1204.9 L539.5 1208.1 L540.5 1211.6 L541.5 1215.4 L542.5 1219.5 L543.5 1223.6 L544.5 1227.8 L545.5 1232.0 L546.5 1236.0 L547.5 1239.7 L548.5 1243.1 L549.5 1246.1 L550.5 1246.2 L551.5 1243.4 L552.5 1240.3 L553.5 1236.9 L554.5 1233.2 L555.5 1229.4 L556.5 1225.5 L557.5 1221.7 L558.5 1218.0 L559.5 1214.4 L560.5 1211.2 L561.5 1208.3 L562.5 1206.2 L563.5 1208.1 L564.5 1210.2 L565.5 1212.4 L566.5 1214.9 L567.5 1217.5 L568.5 1220.2 L569.5 1222.9 L570.5 1225.7 L571.5 1228.4 L572.5 1231.1 L573.5 1233.6 L574.5 1236.0 L575.5 1238.2 L576.5 1240.2 L577.5 1241.2 L578.5 1240.4 L579.5 1239.4 L580.5 1238.2 L581.5 1237.1 L582.5 1235.8 L583.5 1234.5 L584.5 1233.2 L585.5 1232.0 L586.5 1230.8 L587.5 1229.6 L588.5 1228.6 L589.5 1227.6 L590.5 1227.6 L591.5 1229.0 L592.5 1230.5 L593.5 1232.1 L594.5 1233.8 L595.5 1235.7 L596.5 1237.6 L597.5 1239.5 L598.5 1241.3 L599.5 1243.1 L600.5 1244.8 L601.5 1246.4 L602.5 1247.8 L603.5 1248.2 L604.5 1246.4 L605.5 1244.4 L606.5 1242.1 L607.5 1239.6 L608.5 1237.1 L609.5 1234.6 L610.5 1232.2 L611.5 1229.9 L612.5 1227.9 L613.5 1226.2 L614.5 1227.4 L615.5 1229.2 L616.5 1231.1 L617.5 1233.3 L618.5 1235.6 L619.5 1237.9 L620.5 1240.2 L621.5 1242.4 L622.5 1244.5 L623.5 1246.4 L624.5 1248.1 L625.5 1248.3 L626.5 1246.9 L627.5 1245.4 L628.5 1243.7 L629.5 1241.9 L630.5 1240.1 L631.5 1238.3 L632.5 1236.8 L633.5 1235.4 L634.5 1234.8 L635.5 1235.3 L636.5 1236.0 L637.5 1236.7 L638.5 1237.5 L639.5 1238.3 L640.5 1239.1 L641.5 1239.9 L642.5 1240.7 L643.5 1241.3 L644.5 1242.0 L645.5 1242.3 L646.5 1242.1 L647.5 1241.8 L648.5 1241.5 L649.5 1241.3 L650.5 1241.0 L651.5 1240.8 L652.5 1240.6 L653.5 1240.5 L654.5 1240.3 L655.5 1240.0 L656.5 1239.8 L657.5 1239.7 L658.5 1239.5 L659.5 1239.4 L660.5 1239.3 L661.5 1239.2 L662.5 1239.1 L663.5 1239.0 L664.5 1238.9 L665.5 1238.8 L666.5 1238.8 L667.5 1239.4 L668.5 1240.1 L669.5 1240.8 L670.5 1241.6 L671.5 1242.3 L672.5 1243.1 L673.5 1243.8 L674.5 1244.4 L675.5 1244.3 L676.5 1243.4 L677.5 1242.5 L678.5 1241.5 L679.5 1240.4 L680.5 1239.2 L681.5 1238.1 L682.5 1237.0 L683.5 1236.0 L684.5 1235.1 L685.5 1234.3 L686.5 1235.2 L687.5 1236.6 L688.5 1238.2 L689.5 1239.9 L690.5 1241.6 L691.5 1243.3 L692.5 1245.0 L693.5 1246.4 L694.5 1247.7 L695.5 1247.3 L696.5 1246.2 L697.5 1244.8 L698.5 1243.4 L699.5 1241.9 L700.5 1240.3 L701.5 1238.8 L702.5 1237.4 L703.5 1236.1 L704.5 1234.9 L705.5 1234.5 L706.5 1235.9 L707.5 1237.4 L708.5 1239.1 L709.5 1240.9 L710.5 1242.8 L711.5 1244.6 L712.5 1246.4 L713.5 1248.1 L714.5 1249.7 L715.5 1251.0 L716.5 1250.7 L717.5 1249.4 L718.5 1248.0 L719.5 1246.4 L720.5 1244.7 L721.5 1243.0 L722.5 1241.3 L723.5 1239.6 L724.5 1238.0 L725.5 1236.5 L726.5 1235.2 L727.5 1234.1 L728.5 1235.1 L729.5 1236.2 L730.5 1237.4 L731.5 1238.7 L732.5 1240.1 L733.5 1241.5 L734.5 1242.9 L735.5 1244.3 L736.5 1245.7 L737.5 1246.9 L738.5 1248.0 L739.5 1249.0 L740.5 1248.9 L741.5 1248.0 L742.5 1247.0 L743.5 1246.0 L744.5 1244.8 L745.5 1243.7 L746.5 1242.4 L747.5 1241.2 L748.5 1240.0 L749.5 1238.8 L750.5 1237.7 L751.5 1236.7 L752.5 1235.7 L753.5 1234.8 L754.5 1234.6 L755.5 1236.0 L756.5 1237.6 L757.5 1239.4 L758.5 1241.3 L759.5 1243.2 L760.5 1245.3 L761.5 1247.3 L762.5 1249.2 L763.5 1251.1 L764.5 1252.8 L765.5 1254.4 L766.5 1255.7 L767.5 1254.1 L768.5 1252.0 L769.5 1249.7 L770.5 1247.1 L771.5 1244.4 L772.5 1241.7 L773.5 1238.8 L774.5 1236.1 L775.5 1233.4 L776.5 1230.8 L777.5 1228.5 L778.5 1226.3 L779.5 1224.6 L780.5 1226.4 L781.5 1228.5 L782.5 1230.7 L783.5 1233.1 L784.5 1235.7 L785.5 1238.3 L786.5 1241.0 L787.5 1243.6 L788.5 1246.2 L789.5 1248.6 L790.5 1250.9 L791.5 1252.9 L792.5 1254.7 L793.5 1253.9 L794.5 1252.8 L795.5 1251.6 L796.5 1250.4 L797.5 1249.0 L798.5 1247.6 L799.5 1246.2 L800.5 1244.7 L801.5 1243.2 L802.5 1241.7 L803.5 1240.2 L804.5 1238.8 L805.5 1237.4 L806.5 1236.1 L807.5 1234.9 L808.5 1233.8 L809.5 1232.8 L810.5 1233.9 L811.5 1235.6 L812.5 1237.6 L813.5 1239.8 L814.5 1242.1 L815.5 1244.4 L816.5 1246.8 L817.5 1249.2 L818.5 1251.4 L819.5 1253.6 L820.5 1255.5 L821.5 1257.3 L822.5 1257.2 L823.5 1254.6 L824.5 1251.7 L825.5 1248.5 L826.5 1245.1 L827.5 1241.6 L828.5 1238.0 L829.5 1234.6 L830.5 1231.3 L831.5 1228.3 L832.5 1225.6 L833.5 1224.6 L834.5 1226.9 L835.5 1229.6 L836.5 1232.6 L837.5 1235.8 L838.5 1239.1 L839.5 1242.4 L840.5 1245.7 L841.5 1248.8 L842.5 1251.7 L843.5 1254.2 L844.5 1255.9 L845.5 1254.5 L846.5 1252.9 L847.5 1251.0 L848.5 1249.1 L849.5 1247.1 L850.5 1245.1 L851.5 1243.3 L852.5 1241.6 L853.5 1240.1 L854.5 1240.8 L855.5 1242.3 L856.5 1244.1 L857.5 1246.0 L858.5 1247.8 L859.5 1249.4 L860.5 1250.6 L861.5 1249.8 L862.5 1248.8 L863.5 1247.7 L864.5 1246.5 L865.5 1245.4 L866.5 1244.4 L867.5 1243.5 L868.5 1244.0 L869.5 1245.3 L870.5 1246.9 L871.5 1248.6 L872.5 1250.4 L873.5 1252.2 L874.5 1254.0 L875.5 1255.7 L876.5 1257.2 L877.5 1258.5 L878.5 1257.6 L879.5 1255.8 L880.5 1253.7 L881.5 1251.4 L882.5 1249.0 L883.5 1246.6 L884.5 1244.3 L885.5 1242.1 L886.5 1240.1 L887.5 1238.4 L888.5 1239.4 L889.5 1241.0 L890.5 1242.9 L891.5 1244.9 L892.5 1247.1 L893.5 1249.2 L894.5 1251.4 L895.5 1253.5 L896.5 1255.4 L897.5 1257.2 L898.5 1258.7 L899.5 1258.9 L900.5 1258.4 L901.5 1257.9 L902.5 1257.3 L903.5 1256.7 L904.5 1256.1 L905.5 1255.5 L906.5 1254.9 L907.5 1254.4 L908.5 1254.0 L909.5 1253.9 L910.5 1253.9 L911.5 1253.9 L912.5 1253.9 L913.5 1253.9 L914.5 1253.8 L915.5 1253.8 L916.5 1253.8 L917.5 1253.8 L918.5 1254.3 L919.5 1254.8 L920.5 1255.4 L921.5 1256.0 L922.5 1256.6 L923.5 1257.1 L924.5 1257.5 L925.5 1257.6 L926.5 1257.6 L927.5 1257.5 L928.5 1257.5 L929.5 1257.4 L930.5 1257.4 L931.5 1257.3 L932.5 1257.3 L933.5 1257.3 L934.5 1256.9 L935.5 1256.5 L936.5 1256.0 L937.5 1255.5 L938.5 1255.0 L939.5 1254.4 L940.5 1253.9 L941.5 1253.4 L942.5 1252.9 L943.5 1252.5 L944.5 1252.1 L945.5 1252.1 L946.5 1252.2 L947.5 1252.3 L948.5 1252.4 L949.5 1252.4 L950.5 1252.5 L951.5 1253.0 L952.5 1253.8 L953.5 1254.7 L954.5 1255.7 L955.2 1256.4 L955.5 1256.7 L956.5 1257.6 L957.5 1258.4 L958.5 1258.8 L959.5 1258.5 L960.5 1258.2 L961.5 1257.8 L962.5 1257.4 L963.5 1257.0 L964.5 1256.6 L965.5 1256.3 L966.5 1256.2 L967.5 1256.1 L968.5 1256.0 L969.5 1255.9 L970.5 1255.8 L971.5 1255.6 L972.5 1255.5 L973.5 1255.4 L974.5 1255.3 L975.5 1255.2 L976.5 1255.1 L977.5 1255.0 L978.5 1255.1 L979.5 1255.6 L980.5 1256.1 L981.5 1256.6 L982.5 1257.2 L983.5 1257.8 L984.5 1258.4 L985.5 1259.0 L986.5 1259.6 L987.5 1260.3 L988.5 1260.8 L989.5 1261.4 L990.5 1261.9 L991.5 1262.4 L992.5 1262.8 L993.5 1262.5 L994.5 1261.5 L995.5 1260.5 L996.5 1259.4 L997.5 1258.2 L998.5 1257.0 L999.5 1255.7 L1000.5 1254.4 L1001.5 1253.2 L1002.5 1251.9 L1003.5 1250.7 L1004.5 1249.5 L1005.5 1248.5 L1006.5 1247.5 L1007.3 1246.8 L1007.5 1246.6 L1008.5 1247.5 L1009.5 1249.2 L1010.5 1251.0 L1011.5 1252.9 L1012.5 1255.0 L1013.5 1257.2 L1014.5 1259.4 L1015.5 1261.5 L1016.5 1263.6 L1017.5 1265.5 L1018.5 1267.3 L1019.5 1268.9 L1020.5 1269.2 L1021.5 1267.6 L1022.5 1265.8 L1023.5 1263.8 L1024.5 1261.7 L1025.5 1259.5 L1026.5 1257.3 L1027.5 1255.2 L1028.5 1253.1 L1029.5 1251.3 L1030.5 1249.6 L1031.5 1248.9 L1032.5 1250.3 L1033.5 1251.8 L1034.5 1253.6 L1035.5 1255.5 L1036.5 1257.4 L1037.5 1259.4 L1038.5 1261.5 L1039.5 1263.4 L1040.5 1265.3 L1041.5 1267.0 L1042.5 1268.5 L1043.5 1269.9 L1044.5 1269.4 L1045.5 1268.5 L1046.5 1267.6 L1047.5 1266.6 L1048.5 1265.6 L1049.5 1264.5 L1050.5 1263.3 L1051.5 1262.2 L1052.5 1261.0 L1053.5 1259.9 L1054.5 1258.8 L1055.5 1257.7 L1056.5 1256.7 L1057.5 1255.7 L1058.5 1254.9 L1059.5 1254.1 L1060.5 1254.8 L1061.5 1256.0 L1062.5 1257.4 L1063.5 1258.8 L1064.5 1260.4 L1065.5 1262.0 L1066.2 1263.2 L1066.5 1263.7 L1067.5 1265.4 L1068.5 1267.0 L1069.5 1268.6 L1070.5 1270.1 L1071.5 1271.4 L1072.5 1272.7 L1073.5 1273.2 L1074.5 1271.0 L1075.5 1268.5 L1076.5 1265.6 L1077.5 1262.6 L1078.5 1259.5 L1079.5 1256.6 L1080.5 1253.9 L1081.5 1251.6 L1082.5 1251.6 L1083.5 1253.5 L1084.5 1255.6 L1085.5 1258.0 L1086.5 1260.5 L1087.5 1263.2 L1088.5 1265.9 L1089.5 1268.5 L1090.5 1271.1 L1091.5 1273.5 L1092.5 1275.8 L1093.5 1277.8 L1094.5 1279.0 L1095.5 1276.5 L1096.5 1273.6 L1097.5 1270.3 L1098.5 1266.9 L1099.5 1263.3 L1100.5 1259.8 L1101.5 1256.4 L1102.5 1253.3 L1103.5 1250.5 L1104.5 1249.2 L1105.5 1251.7 L1106.5 1254.6 L1107.5 1257.7 L1108.5 1261.1 L1109.5 1264.6 L1110.5 1268.1 L1111.5 1271.6 L1112.5 1274.9 L1113.5 1277.9 L1114.5 1280.7 L1115.5 1282.6 L1116.5 1280.4 L1117.5 1278.0 L1118.5 1275.2 L1119.5 1272.3 L1120.5 1269.2 L1121.5 1266.0 L1122.5 1262.9 L1123.5 1260.0 L1124.5 1257.3 L1125.5 1254.8 L1126.5 1252.7 L1127.5 1255.1 L1128.5 1258.2 L1128.6 1258.6 L1129.5 1261.7 L1130.5 1265.4 L1131.5 1269.0 L1132.5 1272.4 L1133.5 1275.2 L1134.5 1276.1 L1135.5 1275.5 L1136.5 1274.8 L1137.5 1274.1 L1138.5 1273.4 L1139.5 1272.6 L1140.5 1271.9 L1141.5 1271.2 L1142.5 1270.5 L1143.5 1270.0 L1144.5 1270.0 L1145.5 1270.2 L1146.5 1270.6 L1147.5 1270.9 L1148.5 1271.3 L1149.5 1271.7 L1150.5 1272.0 L1151.5 1272.1 L1152.5 1271.8 L1153.5 1271.5 L1154.5 1271.2 L1155.5 1270.9 L1156.5 1270.5 L1157.5 1270.2 L1158.5 1269.8 L1159.5 1269.6 L1160.5 1269.8 L1161.5 1270.4 L1162.5 1271.2 L1163.5 1272.0 L1164.5 1272.8 L1165.5 1273.7 L1166.5 1274.6 L1167.5 1275.4 L1168.5 1276.3 L1169.5 1277.0 L1170.5 1277.6 L1171.5 1277.7 L1172.5 1276.8 L1173.5 1275.8 L1174.5 1274.7 L1175.5 1273.5 L1176.5 1272.4 L1177.5 1271.5 L1178.5 1270.6 L1179.5 1271.0 L1180.5 1271.2 L1181.5 1268.7 L1182.5 1266.2 L1183.5 1261.4 L1184.5 1255.0 L1185.5 1248.7 L1186.5 1235.1 L1187.5 1216.7 L1188.5 1175.6 L1189.5 1106.0 L1190.5 1020.0 L1191.5 933.7 L1192.5 847.2 L1193.5 760.7 L1194.5 674.2 L1195.5 587.7 L1196.5 507.7 L1197.5 458.5 L1198.5 409.2 L1199.5 360.0 L1200.5 326.0 L1201.5 371.1 L1202.5 448.1 L1203.5 530.9 L1204.5 656.2 L1205.5 781.4 L1206.5 906.7 L1207.5 1032.3 L1208.5 1158.3 L1209.5 1187.8 L1210.5 1217.2 L1211.5 1230.0 L1212.5 1242.7 L1213.5 1253.6 L1214.5 1258.3 L1215.5 1263.0 L1216.5 1267.7 L1217.5 1272.5 L1218.5 1276.3 L1219.5 1278.6 L1220.5 1281.0 L1221.5 1283.3 L1222.5 1284.8 L1223.5 1285.1 L1224.5 1285.2 L1225.5 1284.7 L1226.5 1284.1 L1227.5 1283.4 L1228.5 1282.6 L1229.5 1281.8 L1230.5 1281.0 L1231.5 1280.2 L1232.5 1279.5 L1233.5 1278.7 L1234.5 1278.0 L1235.5 1277.4 L1236.5 1276.9 L1237.5 1277.1 L1238.5 1277.5 L1239.5 1277.9 L1240.5 1278.4 L1241.5 1279.0 L1242.5 1279.5 L1243.5 1280.1 L1244.5 1280.6 L1245.5 1281.2 L1246.5 1281.8 L1247.5 1282.4 L1248.5 1282.9 L1249.5 1283.5 L1250.5 1284.0 L1251.5 1284.5 L1252.5 1284.9 L1253.5 1285.3 L1254.5 1285.1 L1255.5 1284.3 L1256.5 1283.4 L1257.5 1282.4 L1258.5 1281.3 L1259.5 1280.2 L1260.5 1279.0 L1261.5 1277.8 L1262.5 1276.7 L1263.5 1275.6 L1264.5 1274.5 L1265.5 1273.5 L1266.5 1272.7 L1267.5 1271.9 L1268.5 1273.1 L1269.5 1274.9 L1270.5 1276.9 L1271.5 1279.0 L1272.5 1281.3 L1273.5 1283.6 L1274.5 1285.7 L1275.5 1287.8 L1276.5 1289.6 L1277.2 1290.7 L1277.5 1291.1 L1278.5 1290.9 L1279.5 1290.6 L1280.5 1290.3 L1281.5 1289.9 L1282.5 1289.5 L1283.5 1289.2 L1284.5 1288.9 L1285.5 1288.9 L1286.5 1289.0 L1287.5 1289.1 L1288.5 1289.2 L1289.5 1289.3 L1290.5 1289.4 L1291.5 1289.5 L1292.5 1289.5 L1293.5 1289.5 L1294.5 1288.5 L1295.5 1287.4 L1296.5 1286.1 L1297.5 1284.8 L1298.5 1283.3 L1299.5 1281.9 L1300.5 1280.4 L1301.5 1279.1 L1302.5 1277.8 L1303.5 1276.7 L1304.5 1275.7 L1305.5 1277.7 L1306.5 1280.2 L1307.5 1283.0 L1308.5 1286.0 L1309.5 1289.2 L1310.5 1292.4 L1311.5 1295.4 L1312.5 1298.2 L1313.5 1300.8 L1314.5 1302.7 L1315.5 1300.9 L1316.5 1298.8 L1317.5 1296.5 L1318.5 1293.9 L1319.5 1291.3 L1320.5 1288.6 L1321.5 1285.9 L1322.5 1283.2 L1323.5 1280.8 L1324.5 1278.5 L1325.5 1276.4 L1326.5 1275.3 L1327.5 1277.7 L1328.5 1280.4 L1329.5 1283.5 L1330.5 1286.8 L1331.5 1290.2 L1332.5 1293.6 L1333.5 1296.9 L1334.5 1300.0 L1335.5 1302.8 L1336.5 1305.2 L1337.5 1305.3 L1338.5 1304.7 L1339.5 1304.1 L1340.5 1303.5 L1341.5 1302.8 L1342.5 1302.2 L1343.5 1301.4 L1344.5 1300.7 L1345.5 1299.9 L1346.5 1299.2 L1347.5 1298.4 L1348.5 1297.6 L1349.5 1296.8 L1350.5 1296.1 L1351.5 1295.3 L1352.5 1294.6 L1353.5 1294.0 L1354.5 1293.3 L1355.5 1292.7 L1356.5 1292.1 L1357.5 1291.6 L1358.5 1292.9 L1359.5 1295.2 L1360.5 1297.8 L1361.5 1300.6 L1362.5 1303.6 L1363.5 1306.6 L1364.5 1309.5 L1365.5 1312.3 L1366.5 1314.7 L1367.5 1316.8 L1368.5 1314.9 L1369.5 1311.8 L1370.5 1308.3 L1371.5 1304.5 L1372.5 1300.5 L1373.5 1296.4 L1374.5 1292.3 L1375.5 1288.4 L1376.5 1284.7 L1377.5 1281.4 L1378.5 1278.5 L1379.5 1279.7 L1380.0 1281.4 L1380.5 1283.1 L1381.5 1286.9 L1382.5 1291.0 L1383.5 1295.4 L1384.5 1299.9 L1385.5 1304.4 L1386.5 1308.8 L1387.5 1312.8 L1388.5 1316.5 L1389.5 1319.8 L1390.5 1320.3 L1391.5 1318.7 L1392.5 1316.9 L1393.5 1314.9 L1394.5 1312.8 L1395.5 1310.6 L1396.5 1308.5 L1397.5 1306.6 L1398.5 1304.8 L1399.5 1303.2 L1400.5 1303.6 L1401.5 1305.0 L1402.5 1306.6 L1403.5 1308.4 L1404.5 1310.2 L1405.5 1312.1 L1406.5 1313.9 L1407.5 1315.6 L1408.5 1317.2 L1409.5 1318.5 L1410.5 1318.5 L1411.5 1318.1 L1412.5 1317.7 L1413.5 1317.2 L1414.5 1316.7 L1415.5 1316.2 L1416.5 1315.7 L1417.5 1315.2 L1418.5 1314.8 L1419.5 1314.4 L1420.5 1314.0 L1421.5 1314.1 L1422.5 1314.5 L1423.5 1315.0 L1424.5 1315.5 L1425.5 1316.1 L1426.5 1316.6 L1427.5 1317.2 L1428.5 1317.8 L1429.5 1318.4 L1430.5 1318.9 L1431.5 1319.4 L1432.5 1319.9 L1433.5 1320.4 L1434.5 1320.7 L1435.5 1320.3 L1436.5 1319.7 L1437.5 1319.1 L1438.5 1318.5 L1439.5 1317.8 L1440.5 1317.1 L1441.5 1316.4 L1442.5 1315.7 L1443.5 1315.0 L1444.5 1314.3 L1445.5 1313.7 L1446.5 1313.1 L1447.5 1312.6 L1448.5 1312.7 L1449.5 1313.9 L1450.5 1315.2 L1451.5 1316.6 L1452.5 1318.1 L1453.5 1319.7 L1454.5 1321.4 L1455.5 1323.0 L1456.5 1324.7 L1457.5 1326.3 L1458.5 1327.8 L1459.5 1329.2 L1460.5 1330.4 L1461.5 1331.6 L1462.5 1330.9 L1463.5 1329.6 L1464.5 1328.0 L1465.5 1326.3 L1466.5 1324.6 L1467.5 1322.9 L1468.5 1321.4 L1469.5 1320.0 L1470.5 1319.0 L1471.5 1319.4 L1472.5 1320.0 L1473.5 1320.6 L1474.5 1321.3 L1475.5 1322.0 L1476.5 1322.7 L1477.5 1323.3 L1478.5 1323.9 L1479.5 1324.5 L1480.5 1324.9 L1481.5 1325.2 L1482.5 1325.5 L1483.5 1325.9 L1484.5 1326.3 L1485.5 1326.7 L1486.5 1327.1 L1487.5 1327.5 L1488.5 1327.9 L1489.5 1328.2 L1490.5 1328.6 L1491.5 1329.0 L1492.5 1329.5 L1493.5 1330.1 L1494.5 1330.7 L1495.5 1331.3 L1496.5 1331.9 L1497.5 1332.6 L1498.5 1333.2 L1499.5 1333.9 L1500.5 1334.6 L1501.5 1335.3 L1502.5 1335.9 L1503.5 1336.6 L1504.5 1337.2 L1505.5 1337.7 L1506.5 1338.3 L1507.5 1338.8 L1508.5 1339.3 L1509.5 1337.9 L1510.5 1335.7 L1511.5 1333.3 L1512.5 1330.6 L1513.5 1327.7 L1514.5 1324.8 L1515.5 1321.9 L1516.5 1319.1 L1517.5 1316.5 L1518.5 1314.1 L1519.5 1312.0 L1520.5 1312.9 L1521.5 1316.0 L1522.5 1319.5 L1523.5 1323.4 L1524.5 1327.5 L1525.5 1331.7 L1526.5 1335.9 L1527.5 1340.0 L1528.5 1343.9 L1529.5 1347.4 L1530.5 1350.5 L1531.5 1350.4 L1532.5 1346.7 L1533.5 1342.4 L1534.5 1337.7 L1535.5 1332.7 L1536.5 1327.6 L1537.5 1322.4 L1538.5 1317.3 L1539.5 1312.6 L1540.5 1308.2 L1541.5 1304.3 L1542.5 1302.9 L1543.5 1305.8 L1544.5 1309.0 L1545.5 1312.6 L1546.5 1316.5 L1547.5 1320.5 L1548.5 1324.7 L1549.5 1328.8 L1550.5 1332.8 L1551.5 1336.5 L1552.5 1340.1 L1553.5 1343.2 L1554.5 1346.0 L1555.5 1345.4 L1556.5 1344.6 L1557.5 1343.7 L1558.5 1342.8 L1559.5 1341.8 L1560.5 1340.8 L1561.5 1339.7 L1562.5 1338.6 L1563.5 1337.5 L1564.5 1336.4 L1565.5 1335.3 L1566.5 1334.2 L1567.5 1333.1 L1568.5 1332.0 L1569.5 1331.0 L1570.5 1330.0 L1571.5 1329.1 L1572.5 1328.2 L1573.5 1327.4 L1574.5 1327.0 L1575.5 1329.1 L1576.5 1331.5 L1577.5 1334.2 L1578.5 1337.0 L1579.5 1340.0 L1580.5 1343.1 L1581.5 1346.2 L1582.5 1349.2 L1583.5 1352.1 L1584.5 1354.7 L1585.5 1357.2 L1586.5 1359.3 L1587.5 1357.5 L1588.5 1354.1 L1589.5 1350.3 L1590.5 1346.1 L1591.5 1341.7 L1592.5 1337.4 L1593.5 1333.1 L1594.5 1329.1 L1595.5 1325.6 L1596.5 1322.5 L1597.5 1324.2 L1598.5 1327.0 L1599.5 1330.2 L1600.5 1333.6 L1601.5 1337.1 L1602.5 1340.7 L1603.5 1344.1 L1604.5 1347.4 L1605.5 1350.2 L1606.5 1352.7 L1607.5 1351.7 L1608.5 1350.5 L1609.5 1349.1 L1610.5 1347.6 L1611.5 1346.1 L1612.5 1344.5 L1613.5 1343.0 L1614.5 1341.7 L1615.5 1340.4 L1616.5 1339.5 L1617.5 1340.1 L1618.5 1340.7 L1619.5 1341.4 L1620.5 1342.2 L1621.5 1343.0 L1622.5 1343.8 L1623.5 1344.5 L1624.5 1345.1 L1625.5 1345.2 L1626.5 1344.6 L1627.5 1343.9 L1628.5 1343.1 L1629.5 1342.3 L1630.5 1341.4 L1631.5 1340.7 L1632.5 1340.0 L1633.5 1339.4 L1634.5 1339.8 L1635.5 1340.7 L1636.5 1341.8 L1637.5 1342.9 L1638.5 1344.1 L1639.5 1345.3 L1640.5 1346.5 L1641.5 1347.7 L1642.5 1348.8 L1643.5 1349.8 L1644.5 1350.7 L1645.5 1350.5 L1646.5 1349.5 L1647.5 1348.4 L1648.5 1347.2 L1649.5 1345.9 L1650.5 1344.6 L1651.5 1343.3 L1652.5 1342.0 L1653.5 1340.8 L1654.5 1339.8 L1655.5 1338.8 L1656.5 1338.7 L1657.5 1339.4 L1658.5 1340.3 L1659.5 1341.2 L1660.5 1342.1 L1661.5 1343.2 L1662.5 1344.2 L1663.5 1345.3 L1664.5 1346.4 L1665.5 1347.5 L1666.5 1348.6 L1667.5 1349.7 L1668.5 1350.7 L1669.5 1351.7 L1670.5 1352.7 L1671.5 1353.5 L1672.5 1354.3 L1673.5 1354.8 L1674.5 1353.9 L1675.5 1352.9 L1676.5 1351.7 L1677.5 1350.5 L1678.5 1349.2 L1679.5 1347.9 L1680.5 1346.6 L1681.5 1345.3 L1682.5 1344.1 L1683.5 1343.0 L1684.5 1342.1 L1685.5 1342.2 L1686.5 1343.9 L1687.5 1345.7 L1688.5 1347.7 L1689.5 1349.9 L1690.5 1352.1 L1691.5 1354.5 L1692.5 1356.8 L1693.5 1359.0 L1694.5 1361.2 L1695.5 1363.3 L1696.5 1365.1 L1697.5 1366.8 L1698.5 1367.3 L1699.5 1366.1 L1700.5 1364.8 L1701.5 1363.3 L1702.5 1361.7 L1703.5 1360.1 L1704.5 1358.4 L1705.5 1356.6 L1706.5 1355.0 L1707.5 1353.4 L1708.5 1351.8 L1709.5 1350.5 L1710.5 1349.2 L1711.5 1348.7 L1712.5 1349.5 L1713.5 1350.5 L1714.5 1351.5 L1715.5 1352.6 L1716.5 1353.8 L1717.5 1355.0 L1718.5 1356.2 L1719.5 1357.5 L1720.5 1358.8 L1721.5 1360.0 L1722.5 1361.3 L1723.5 1362.5 L1724.5 1363.7 L1725.5 1364.8 L1726.5 1365.9 L1727.5 1366.9 L1728.5 1367.8 L1729.5 1368.2 L1730.5 1366.6 L1731.5 1364.9 L1732.5 1363.0 L1733.5 1360.9 L1734.5 1358.7 L1735.5 1356.5 L1736.5 1354.4 L1737.5 1352.3 L1738.5 1350.4 L1739.5 1348.7 L1740.5 1347.2 L1741.5 1349.0 L1742.5 1351.6 L1743.5 1354.4 L1744.5 1357.5 L1745.5 1360.8 L1746.5 1364.1 L1747.5 1367.4 L1748.5 1370.6 L1749.5 1373.5 L1750.5 1376.1 L1751.5 1378.3 L1752.5 1375.6 L1753.5 1372.5 L1754.5 1369.0 L1755.5 1365.2 L1756.5 1361.3 L1757.5 1357.3 L1758.5 1353.4 L1759.5 1349.8 L1760.5 1346.5 L1761.5 1343.5 L1762.5 1343.8 L1763.5 1346.9 L1764.5 1350.4 L1765.5 1354.2 L1766.5 1358.3 L1767.5 1362.5 L1768.5 1366.8 L1769.5 1371.0 L1770.5 1375.0 L1771.5 1378.7 L1772.5 1382.1 L1773.5 1385.0 L1774.5 1384.4 L1775.5 1382.6 L1776.5 1380.6 L1777.5 1378.4 L1778.5 1376.1 L1779.5 1373.7 L1780.5 1371.4 L1781.5 1369.1 L1782.5 1367.0 L1783.5 1365.2 L1784.5 1363.5 L1785.5 1364.3 L1786.5 1365.4 L1787.5 1366.6 L1788.5 1368.0 L1789.5 1369.4 L1790.5 1370.9 L1791.5 1372.5 L1792.5 1374.0 L1793.5 1375.5 L1794.5 1377.0 L1795.5 1378.5 L1796.5 1379.8 L1797.5 1381.1 L1798.5 1382.2 L1799.5 1383.1 L1800.5 1382.5 L1801.5 1381.8 L1802.5 1381.0 L1803.5 1380.2 L1804.5 1379.3 L1805.5 1378.3 L1806.5 1377.4 L1807.5 1376.5 L1808.5 1375.5 L1809.5 1374.6 L1810.5 1373.8 L1811.5 1373.0 L1812.5 1372.3 L1813.5 1371.6 L1814.5 1373.1 L1815.5 1375.1 L1816.5 1377.3 L1817.5 1379.7 L1818.5 1382.2 L1819.5 1384.7 L1820.5 1387.2 L1821.5 1389.4 L1822.5 1391.4 L1823.5 1392.7 L1824.5 1390.7 L1825.5 1388.4 L1826.5 1385.8 L1827.5 1383.0 L1828.5 1380.0 L1829.5 1377.1 L1830.5 1374.2 L1831.5 1371.4 L1832.5 1368.9 L1833.5 1366.7 L1834.5 1365.6 L1835.5 1368.3 L1836.5 1371.4 L1837.5 1374.9 L1838.5 1378.6 L1839.5 1382.5 L1840.5 1386.3 L1841.5 1390.0 L1842.5 1393.5 L1843.5 1396.7 L1844.5 1399.4 L1845.5 1398.2 L1846.5 1395.5 L1847.5 1392.5 L1848.5 1389.1 L1849.5 1385.6 L1850.5 1382.1 L1851.5 1378.6 L1852.5 1375.3 L1853.5 1372.3 L1854.5 1369.7 L1855.5 1369.8 L1856.5 1372.6 L1857.5 1375.7 L1858.5 1379.0 L1859.5 1382.6 L1860.5 1386.4 L1861.5 1390.1 L1862.5 1393.6 L1863.5 1397.0 L1864.5 1400.0 L1865.5 1402.7 L1866.5 1402.7 L1867.5 1401.1 L1868.5 1399.3 L1869.5 1397.3 L1870.5 1395.2 L1871.5 1393.1 L1872.5 1391.0 L1873.5 1389.1 L1874.5 1387.3 L1875.5 1385.8 L1876.5 1386.3 L1877.5 1387.3 L1878.5 1388.4 L1879.5 1389.6 L1880.5 1390.9 L1881.5 1392.2 L1882.5 1393.5 L1883.5 1394.7 L1884.5 1395.8 L1885.5 1396.9 L1886.5 1397.7 L1887.5 1398.3 L1888.5 1399.0 L1889.5 1399.8 L1890.5 1400.6 L1891.5 1401.4 L1892.5 1402.1 L1893.5 1402.8 L1894.5 1402.9 L1895.5 1401.9 L1896.5 1400.7 L1897.5 1399.5 L1898.5 1398.3 L1899.5 1397.3 L1900.5 1397.9 L1901.5 1399.0 L1902.5 1400.2 L1903.5 1401.4 L1904.5 1402.6 L1905.5 1403.6 L1906.5 1404.4 L1907.5 1405.1 L1908.5 1405.9 L1909.5 1406.7 L1910.5 1407.7 L1911.5 1408.6 L1912.5 1409.6 L1913.5 1410.4 L1914.5 1411.3 L1915.5 1412.0 L1916.5 1411.5 L1917.5 1409.9 L1918.5 1407.9 L1919.5 1405.8 L1920.5 1403.6 L1921.5 1401.4 L1922.5 1399.4 L1923.5 1397.5 L1924.5 1395.9 L1925.5 1397.1 L1926.5 1399.3 L1927.5 1401.7 L1928.5 1404.3 L1929.5 1407.0 L1930.5 1409.9 L1931.5 1412.6 L1932.5 1415.3 L1933.5 1417.8 L1934.5 1420.0 L1935.5 1422.0 L1936.5 1420.2 L1937.5 1417.8 L1938.5 1415.1 L1939.5 1412.2 L1940.5 1409.1 L1941.5 1405.9 L1942.5 1402.7 L1943.5 1399.7 L1944.5 1396.8 L1945.5 1394.2 L1946.5 1391.8 L1947.5 1391.3 L1948.5 1393.9 L1949.5 1396.8 L1950.5 1400.0 L1951.5 1403.4 L1952.5 1407.0 L1953.5 1410.6 L1954.5 1414.1 L1955.5 1417.5 L1956.5 1420.6 L1957.5 1423.4 L1958.5 1425.7 L1959.5 1424.7 L1960.5 1423.6 L1961.5 1422.3 L1962.5 1420.9 L1963.5 1419.5 L1964.5 1418.0 L1965.5 1416.5 L1966.5 1415.0 L1967.5 1413.7 L1968.5 1412.4 L1969.5 1411.3 L1970.5 1410.4 L1971.5 1411.3 L1972.5 1412.4 L1973.5 1413.6 L1974.5 1414.9 L1975.5 1416.2 L1976.5 1417.7 L1977.5 1419.1 L1978.5 1420.6 L1979.5 1422.0 L1980.5 1423.4 L1981.5 1424.8 L1982.5 1426.1 L1983.5 1427.3 L1984.5 1428.4 L1985.5 1429.3 L1986.5 1428.8 L1987.5 1427.9 L1988.5 1426.8 L1989.5 1425.6 L1990.5 1424.4 L1991.5 1423.1 L1992.5 1421.8 L1993.5 1420.4 L1994.5 1419.1 L1995.5 1417.8 L1996.5 1416.6 L1997.5 1415.5 L1998.5 1414.4 L1999.5 1413.5 L2000.5 1413.9 L2001.5 1415.3 L2002.5 1416.9 L2003.5 1418.5 L2004.5 1420.3 L2005.5 1422.2 L2006.5 1424.0 L2007.5 1425.7 L2008.5 1427.4 L2009.5 1428.9 L2010.5 1430.2 L2011.5 1430.4 L2012.5 1430.3 L2013.5 1430.2 L2014.5 1430.1 L2015.5 1430.0 L2016.5 1430.0 L2017.5 1430.0 L2018.5 1430.8 L2019.5 1431.7 L2020.5 1432.6 L2021.5 1433.7 L2022.5 1434.7 L2023.5 1435.6 L2024.5 1436.4 L2025.5 1436.3 L2026.5 1435.6 L2027.5 1434.9 L2028.5 1434.1 L2029.5 1433.2 L2030.5 1432.3 L2031.5 1431.4 L2032.5 1430.5 L2033.5 1429.7 L2034.5 1429.0 L2035.5 1428.4 L2036.5 1429.2 L2037.5 1430.8 L2038.5 1432.6 L2039.5 1434.6 L2040.5 1436.8 L2041.5 1439.0 L2042.5 1441.2 L2043.5 1443.4 L2044.5 1445.4 L2045.5 1447.4 L2046.5 1449.1 L2047.5 1450.7 L2048.5 1449.8 L2049.5 1447.7 L2050.5 1445.2 L2051.5 1442.5 L2052.5 1439.8 L2053.5 1437.2 L2054.5 1435.0 L2055.5 1433.2 L2056.5 1433.2 L2057.5 1433.2 L2058.5 1433.2" stroke="#ff00ff" stroke-width="6"/>
<path d="M311.5 1240.1 L312.5 1239.9 L313.5 1238.1 L314.5 1236.1 L315.5 1233.9 L316.5 1231.5 L317.5 1229.0 L318.5 1226.5 L319.5 1224.1 L320.5 1221.9 L321.5 1220.0 L322.5 1219.3 L323.5 1222.3 L324.5 1225.8 L325.5 1229.6 L326.5 1233.7 L327.5 1238.0 L328.5 1242.3 L329.5 1246.7 L330.5 1250.9 L331.5 1254.8 L332.5 1258.4 L333.5 1261.7 L334.5 1262.3 L335.5 1258.0 L336.5 1253.3 L337.5 1248.0 L338.5 1242.4 L339.5 1236.5 L340.5 1230.5 L341.5 1224.7 L342.5 1219.0 L343.5 1213.8 L344.5 1209.0 L345.5 1204.8 L346.5 1206.1 L347.5 1210.0 L348.5 1214.4 L349.5 1219.1 L350.5 1224.1 L351.5 1229.3 L352.5 1234.4 L353.5 1239.4 L354.5 1244.0 L355.5 1248.2 L356.5 1252.0 L357.5 1252.3 L358.5 1250.3 L359.5 1248.0 L360.5 1245.5 L361.5 1242.9 L362.5 1240.1 L363.5 1237.3 L364.5 1234.5 L365.5 1231.7 L366.5 1229.1 L367.5 1226.6 L368.5 1224.4 L369.5 1222.3 L370.5 1221.9 L371.5 1223.2 L372.5 1224.7 L373.5 1226.3 L374.5 1228.0 L375.5 1229.7 L376.5 1231.6 L377.5 1233.4 L378.5 1235.3 L379.5 1237.2 L380.5 1239.0 L381.5 1240.7 L382.5 1242.3 L383.5 1243.9 L384.5 1245.2 L385.5 1246.2 L386.5 1243.8 L387.5 1241.2 L388.5 1238.3 L389.5 1235.1 L390.5 1231.8 L391.5 1228.3 L392.5 1224.9 L393.5 1221.4 L394.5 1218.1 L395.5 1215.0 L396.5 1212.2 L397.5 1209.6 L398.5 1208.5 L399.5 1211.8 L400.5 1215.5 L401.5 1219.7 L402.5 1224.1 L403.5 1228.8 L404.5 1233.4 L405.5 1237.9 L406.5 1242.2 L407.5 1246.0 L408.5 1249.4 L409.5 1248.8 L410.5 1245.3 L411.5 1241.4 L412.5 1237.0 L413.5 1232.4 L414.5 1227.7 L415.5 1223.1 L416.5 1218.6 L417.5 1214.4 L418.5 1210.7 L419.5 1207.5 L420.5 1210.0 L421.5 1213.3 L422.5 1216.9 L423.5 1220.8 L424.5 1225.0 L425.5 1229.2 L426.5 1233.3 L427.5 1237.2 L428.5 1240.9 L429.5 1244.1 L430.5 1246.7 L431.5 1244.2 L432.5 1241.4 L433.5 1238.2 L434.5 1234.8 L435.5 1231.3 L436.5 1227.7 L437.5 1224.2 L438.5 1220.9 L439.5 1217.9 L440.5 1215.3 L441.5 1214.7 L442.5 1216.7 L443.5 1218.9 L444.5 1221.4 L445.5 1224.1 L446.5 1226.8 L447.5 1229.6 L448.5 1232.3 L449.5 1234.8 L450.5 1237.2 L451.5 1239.2 L452.5 1240.3 L453.5 1239.5 L454.5 1238.6 L455.5 1237.6 L456.5 1236.5 L457.5 1235.4 L458.5 1234.2 L459.5 1233.0 L460.5 1231.8 L461.5 1230.7 L462.5 1229.6 L463.5 1228.5 L464.5 1227.6 L465.5 1226.7 L466.5 1226.2 L467.5 1226.9 L468.5 1227.8 L469.5 1228.7 L470.5 1229.7 L471.5 1230.8 L472.5 1231.9 L473.5 1232.9 L474.5 1234.0 L475.5 1235.0 L476.5 1235.9 L477.5 1236.7 L478.5 1237.0 L479.5 1235.9 L480.5 1234.6 L481.5 1233.3 L482.5 1231.8 L483.5 1230.3 L484.5 1228.8 L485.5 1227.3 L486.5 1225.8 L487.5 1224.4 L488.5 1223.1 L489.5 1222.0 L490.5 1221.9 L491.5 1223.6 L492.5 1225.5 L493.5 1227.5 L494.5 1229.7 L495.5 1232.0 L496.5 1234.2 L497.5 1236.3 L498.5 1238.2 L499.5 1239.9 L500.5 1239.9 L501.5 1238.4 L502.5 1236.7 L503.5 1234.9 L504.5 1232.9 L505.5 1230.8 L506.5 1228.7 L507.5 1226.7 L508.5 1224.7 L509.5 1222.8 L510.5 1221.1 L511.5 1219.6 L512.5 1219.3 L513.5 1221.1 L514.5 1223.1 L515.5 1225.3 L516.5 1227.6 L517.5 1230.1 L518.5 1232.6 L519.5 1235.1 L520.5 1237.5 L521.5 1239.9 L522.5 1242.1 L523.5 1244.2 L524.5 1246.1 L525.5 1246.7 L526.5 1243.9 L527.5 1240.7 L528.5 1237.2 L529.5 1233.5 L530.5 1229.5 L531.5 1225.5 L532.5 1221.5 L533.5 1217.6 L534.5 1213.9 L535.5 1210.5 L536.5 1207.3 L537.5 1204.6 L538.5 1206.8 L539.5 1210.1 L540.5 1213.7 L541.5 1217.6 L542.5 1221.8 L543.5 1226.1 L544.5 1230.4 L545.5 1234.7 L546.5 1238.8 L547.5 1242.6 L548.5 1246.1 L549.5 1249.2 L550.5 1249.3 L551.5 1246.4 L552.5 1243.2 L553.5 1239.7 L554.5 1235.9 L555.5 1232.0 L556.5 1228.0 L557.5 1224.1 L558.5 1220.2 L559.5 1216.6 L560.5 1213.3 L561.5 1210.3 L562.5 1208.2 L563.5 1210.1 L564.5 1212.2 L565.5 1214.5 L566.5 1217.0 L567.5 1219.7 L568.5 1222.4 L569.5 1225.2 L570.5 1228.1 L571.5 1230.8 L572.5 1233.6 L573.5 1236.2 L574.5 1238.6 L575.5 1240.9 L576.5 1242.9 L577.5 1244.0 L578.5 1243.1 L579.5 1242.1 L580.5 1240.9 L581.5 1239.7 L582.5 1238.5 L583.5 1237.1 L584.5 1235.8 L585.5 1234.5 L586.5 1233.3 L587.5 1232.1 L588.5 1231.0 L589.5 1230.0 L590.5 1230.0 L591.5 1231.4 L592.5 1232.9 L593.5 1234.5 L594.5 1236.3 L595.5 1238.2 L596.5 1240.1 L597.5 1242.1 L598.5 1244.0 L599.5 1245.8 L600.5 1247.6 L601.5 1249.1 L602.5 1250.6 L603.5 1251.0 L604.5 1249.2 L605.5 1247.1 L606.5 1244.7 L607.5 1242.2 L608.5 1239.6 L609.5 1237.0 L610.5 1234.5 L611.5 1232.2 L612.5 1230.1 L613.5 1228.3 L614.5 1229.6 L615.5 1231.4 L616.5 1233.4 L617.5 1235.7 L618.5 1238.0 L619.5 1240.4 L620.5 1242.8 L621.5 1245.0 L622.5 1247.2 L623.5 1249.2 L624.5 1250.9 L625.5 1251.1 L626.5 1249.7 L627.5 1248.1 L628.5 1246.3 L629.5 1244.4 L630.5 1242.6 L631.5 1240.8 L632.5 1239.2 L633.5 1237.8 L634.5 1237.1 L635.5 1237.7 L636.5 1238.4 L637.5 1239.2 L638.5 1240.0 L639.5 1240.8 L640.5 1241.6 L641.5 1242.4 L642.5 1243.2 L643.5 1243.9 L644.5 1244.5 L645.5 1244.9 L646.5 1244.7 L647.5 1244.4 L648.5 1244.1 L649.5 1243.8 L650.5 1243.5 L651.5 1243.3 L652.5 1243.1 L653.5 1243.0 L654.5 1242.8 L655.5 1242.5 L656.5 1242.3 L657.5 1242.2 L658.5 1242.0 L659.5 1241.9 L660.5 1241.8 L661.5 1241.7 L662.5 1241.6 L663.5 1241.5 L664.5 1241.4 L665.5 1241.3 L666.5 1241.3 L667.5 1241.9 L668.5 1242.5 L669.5 1243.3 L670.5 1244.1 L671.5 1244.9 L672.5 1245.7 L673.5 1246.4 L674.5 1247.0 L675.5 1246.9 L676.5 1246.0 L677.5 1245.1 L678.5 1244.0 L679.5 1242.9 L680.5 1241.7 L681.5 1240.5 L682.5 1239.4 L683.5 1238.4 L684.5 1237.4 L685.5 1236.6 L686.5 1237.6 L687.5 1239.0 L688.5 1240.6 L689.5 1242.3 L690.5 1244.1 L691.5 1245.9 L692.5 1247.6 L693.5 1249.1 L694.5 1250.4 L695.5 1250.0 L696.5 1248.8 L697.5 1247.4 L698.5 1246.0 L699.5 1244.4 L700.5 1242.8 L701.5 1241.2 L702.5 1239.8 L703.5 1238.4 L704.5 1237.2 L705.5 1236.8 L706.5 1238.2 L707.5 1239.8 L708.5 1241.5 L709.5 1243.4 L710.5 1245.3 L711.5 1247.2 L712.5 1249.1 L713.5 1250.8 L714.5 1252.4 L715.5 1253.8 L716.5 1253.4 L717.5 1252.1 L718.5 1250.6 L719.5 1249.0 L720.5 1247.3 L721.5 1245.5 L722.5 1243.8 L723.5 1242.0 L724.5 1240.4 L725.5 1238.9 L726.5 1237.5 L727.5 1236.4 L728.5 1237.4 L729.5 1238.5 L730.5 1239.8 L731.5 1241.1 L732.5 1242.5 L733.5 1244.0 L734.5 1245.5 L735.5 1246.9 L736.5 1248.2 L737.5 1249.5 L738.5 1250.7 L739.5 1251.7 L740.5 1251.5 L741.5 1250.6 L742.5 1249.6 L743.5 1248.5 L744.5 1247.4 L745.5 1246.2 L746.5 1244.9 L747.5 1243.7 L748.5 1242.5 L749.5 1241.3 L750.5 1240.1 L751.5 1239.0 L752.5 1238.0 L753.5 1237.1 L754.5 1236.9 L755.5 1238.4 L756.5 1240.0 L757.5 1241.8 L758.5 1243.8 L759.5 1245.8 L760.5 1247.9 L761.5 1249.9 L762.5 1251.9 L763.5 1253.9 L764.5 1255.6 L765.5 1257.2 L766.5 1258.6 L767.5 1257.0 L768.5 1254.8 L769.5 1252.4 L770.5 1249.8 L771.5 1247.0 L772.5 1244.1 L773.5 1241.2 L774.5 1238.4 L775.5 1235.6 L776.5 1233.0 L777.5 1230.6 L778.5 1228.4 L779.5 1226.6 L780.5 1228.5 L781.5 1230.6 L782.5 1232.9 L783.5 1235.4 L784.5 1238.0 L785.5 1240.7 L786.5 1243.5 L787.5 1246.2 L788.5 1248.8 L789.5 1251.3 L790.5 1253.6 L791.5 1255.7 L792.5 1257.5 L793.5 1256.7 L794.5 1255.6 L795.5 1254.4 L796.5 1253.1 L797.5 1251.7 L798.5 1250.3 L799.5 1248.8 L800.5 1247.3 L801.5 1245.7 L802.5 1244.2 L803.5 1242.7 L804.5 1241.2 L805.5 1239.8 L806.5 1238.5 L807.5 1237.3 L808.5 1236.1 L809.5 1235.1 L810.5 1236.1 L811.5 1238.0 L812.5 1240.0 L813.5 1242.2 L814.5 1244.5 L815.5 1247.0 L816.5 1249.4 L817.5 1251.8 L818.5 1254.2 L819.5 1256.4 L820.5 1258.4 L821.5 1260.1 L822.5 1260.1 L823.5 1257.5 L824.5 1254.5 L825.5 1251.2 L826.5 1247.7 L827.5 1244.1 L828.5 1240.4 L829.5 1236.8 L830.5 1233.5 L831.5 1230.4 L832.5 1227.6 L833.5 1226.5 L834.5 1228.9 L835.5 1231.7 L836.5 1234.8 L837.5 1238.0 L838.5 1241.4 L839.5 1244.9 L840.5 1248.2 L841.5 1251.4 L842.5 1254.4 L843.5 1257.0 L844.5 1258.8 L845.5 1257.3 L846.5 1255.6 L847.5 1253.7 L848.5 1251.7 L849.5 1249.6 L850.5 1247.6 L851.5 1245.7 L852.5 1244.0 L853.5 1242.5 L854.5 1243.1 L855.5 1244.7 L856.5 1246.6 L857.5 1248.5 L858.5 1250.4 L859.5 1252.0 L860.5 1253.3 L861.5 1252.4 L862.5 1251.4 L863.5 1250.2 L864.5 1249.0 L865.5 1247.8 L866.5 1246.8 L867.5 1245.9 L868.5 1246.3 L869.5 1247.7 L870.5 1249.3 L871.5 1251.1 L872.5 1252.9 L873.5 1254.8 L874.5 1256.6 L875.5 1258.4 L876.5 1259.9 L877.5 1261.2 L878.5 1260.4 L879.5 1258.5 L880.5 1256.3 L881.5 1254.0 L882.5 1251.5 L883.5 1249.0 L884.5 1246.6 L885.5 1244.3 L886.5 1242.3 L887.5 1240.6 L888.5 1241.5 L889.5 1243.2 L890.5 1245.2 L891.5 1247.2 L892.5 1249.4 L893.5 1251.7 L894.5 1253.9 L895.5 1256.0 L896.5 1258.0 L897.5 1259.8 L898.5 1261.4 L899.5 1261.6 L900.5 1261.1 L901.5 1260.5 L902.5 1259.9 L903.5 1259.3 L904.5 1258.7 L905.5 1258.0 L906.5 1257.5 L907.5 1257.0 L908.5 1256.5 L909.5 1256.4 L910.5 1256.4 L911.5 1256.4 L912.5 1256.4 L913.5 1256.4 L914.5 1256.4 L915.5 1256.3 L916.5 1256.3 L917.5 1256.3 L918.5 1256.8 L919.5 1257.3 L920.5 1257.9 L921.5 1258.5 L922.5 1259.1 L923.5 1259.7 L924.5 1260.1 L925.5 1260.2 L926.5 1260.2 L927.5 1260.1 L928.5 1260.1 L929.5 1260.0 L930.5 1260.0 L931.5 1259.9 L932.5 1259.9 L933.5 1259.8 L934.5 1259.4 L935.5 1259.0 L936.5 1258.5 L937.5 1258.0 L938.5 1257.5 L939.5 1256.9 L940.5 1256.3 L941.5 1255.8 L942.5 1255.3 L943.5 1254.9 L944.5 1254.5 L945.5 1254.5 L946.5 1254.6 L947.5 1254.7 L948.5 1254.8 L949.5 1254.8 L950.5 1254.9 L951.5 1255.4 L952.5 1256.2 L953.5 1257.2 L954.5 1258.2 L955.2 1258.9 L955.5 1259.2 L956.5 1260.2 L957.5 1261.0 L958.5 1261.4 L959.5 1261.1 L960.5 1260.7 L961.5 1260.3 L962.5 1259.9 L963.5 1259.5 L964.5 1259.1 L965.5 1258.8 L966.5 1258.7 L967.5 1258.6 L968.5 1258.5 L969.5 1258.4 L970.5 1258.2 L971.5 1258.1 L972.5 1258.0 L973.5 1257.9 L974.5 1257.7 L975.5 1257.6 L976.5 1257.5 L977.5 1257.4 L978.5 1257.6 L979.5 1258.1 L980.5 1258.6 L981.5 1259.1 L982.5 1259.7 L983.5 1260.3 L984.5 1260.9 L985.5 1261.6 L986.5 1262.2 L987.5 1262.9 L988.5 1263.5 L989.5 1264.1 L990.5 1264.6 L991.5 1265.1 L992.5 1265.5 L993.5 1265.1 L994.5 1264.2 L995.5 1263.1 L996.5 1262.0 L997.5 1260.8 L998.5 1259.5 L999.5 1258.2 L1000.5 1256.9 L1001.5 1255.5 L1002.5 1254.2 L1003.5 1253.0 L1004.5 1251.8 L1005.5 1250.7 L1006.5 1249.7 L1007.3 1249.0 L1007.5 1248.8 L1008.5 1249.7 L1009.5 1251.4 L1010.5 1253.3 L1011.5 1255.3 L1012.5 1257.4 L1013.5 1259.7 L1014.5 1261.9 L1015.5 1264.1 L1016.5 1266.2 L1017.5 1268.2 L1018.5 1270.1 L1019.5 1271.7 L1020.5 1272.0 L1021.5 1270.4 L1022.5 1268.5 L1023.5 1266.5 L1024.5 1264.3 L1025.5 1262.0 L1026.5 1259.8 L1027.5 1257.6 L1028.5 1255.5 L1029.5 1253.5 L1030.5 1251.8 L1031.5 1251.1 L1032.5 1252.5 L1033.5 1254.1 L1034.5 1255.9 L1035.5 1257.9 L1036.5 1259.9 L1037.5 1261.9 L1038.5 1264.0 L1039.5 1266.0 L1040.5 1267.9 L1041.5 1269.7 L1042.5 1271.3 L1043.5 1272.7 L1044.5 1272.1 L1045.5 1271.2 L1046.5 1270.3 L1047.5 1269.3 L1048.5 1268.2 L1049.5 1267.0 L1050.5 1265.9 L1051.5 1264.7 L1052.5 1263.5 L1053.5 1262.3 L1054.5 1261.2 L1055.5 1260.1 L1056.5 1259.1 L1057.5 1258.1 L1058.5 1257.2 L1059.5 1256.4 L1060.5 1257.1 L1061.5 1258.4 L1062.5 1259.7 L1063.5 1261.2 L1064.5 1262.8 L1065.5 1264.5 L1066.2 1265.7 L1066.5 1266.2 L1067.5 1267.9 L1068.5 1269.6 L1069.5 1271.2 L1070.5 1272.7 L1071.5 1274.1 L1072.5 1275.4 L1073.5 1276.0 L1074.5 1273.8 L1075.5 1271.1 L1076.5 1268.2 L1077.5 1265.1 L1078.5 1261.9 L1079.5 1258.9 L1080.5 1256.2 L1081.5 1253.8 L1082.5 1253.7 L1083.5 1255.7 L1084.5 1257.9 L1085.5 1260.3 L1086.5 1262.9 L1087.5 1265.6 L1088.5 1268.4 L1089.5 1271.1 L1090.5 1273.7 L1091.5 1276.2 L1092.5 1278.5 L1093.5 1280.6 L1094.5 1281.9 L1095.5 1279.3 L1096.5 1276.3 L1097.5 1273.0 L1098.5 1269.4 L1099.5 1265.8 L1100.5 1262.1 L1101.5 1258.6 L1102.5 1255.4 L1103.5 1252.6 L1104.5 1251.3 L1105.5 1253.8 L1106.5 1256.8 L1107.5 1260.0 L1108.5 1263.5 L1109.5 1267.1 L1110.5 1270.7 L1111.5 1274.3 L1112.5 1277.7 L1113.5 1280.8 L1114.5 1283.6 L1115.5 1285.5 L1116.5 1283.3 L1117.5 1280.8 L1118.5 1277.9 L1119.5 1274.9 L1120.5 1271.7 L1121.5 1268.5 L1122.5 1265.3 L1123.5 1262.3 L1124.5 1259.5 L1125.5 1256.9 L1126.5 1254.8 L1127.5 1257.3 L1128.5 1260.5 L1128.6 1260.8 L1129.5 1264.1 L1130.5 1267.9 L1131.5 1271.6 L1132.5 1275.0 L1133.5 1277.9 L1134.5 1278.8 L1135.5 1278.2 L1136.5 1277.5 L1137.5 1276.7 L1138.5 1276.0 L1139.5 1275.2 L1140.5 1274.4 L1141.5 1273.7 L1142.5 1273.0 L1143.5 1272.5 L1144.5 1272.4 L1145.5 1272.7 L1146.5 1273.1 L1147.5 1273.5 L1148.5 1273.8 L1149.5 1274.2 L1150.5 1274.5 L1151.5 1274.7 L1152.5 1274.4 L1153.5 1274.1 L1154.5 1273.7 L1155.5 1273.3 L1156.5 1273.0 L1157.5 1272.6 L1158.5 1272.3 L1159.5 1272.0 L1160.5 1272.2 L1161.5 1272.8 L1162.5 1273.6 L1163.5 1274.4 L1164.5 1275.3 L1165.5 1276.2 L1166.5 1277.1 L1167.5 1278.0 L1168.5 1278.8 L1169.5 1279.6 L1170.5 1280.3 L1171.5 1280.3 L1172.5 1279.4 L1173.5 1278.3 L1174.5 1277.2 L1175.5 1276.0 L1176.5 1274.9 L1177.5 1273.9 L1178.5 1273.0 L1179.5 1273.4 L1180.5 1273.9 L1181.5 1274.5 L1182.5 1275.0 L1183.5 1275.6 L1184.5 1276.3 L1185.5 1276.9 L1186.5 1277.5 L1187.5 1278.1 L1188.5 1278.6 L1189.5 1279.1 L1190.5 1279.6 L1191.5 1279.7 L1192.5 1279.6 L1193.5 1279.5 L1194.5 1279.4 L1195.5 1279.3 L1196.5 1279.2 L1197.5 1279.1 L1198.5 1279.0 L1199.5 1279.0 L1200.5 1278.9 L1201.5 1278.8 L1202.5 1278.8 L1203.5 1278.7 L1204.5 1278.6 L1205.5 1278.6 L1206.5 1278.5 L1207.5 1278.8 L1208.5 1279.6 L1209.5 1280.5 L1210.5 1281.5 L1211.5 1282.5 L1212.5 1283.3 L1213.5 1283.8 L1214.5 1284.1 L1215.5 1284.5 L1216.5 1284.9 L1217.5 1285.3 L1218.5 1285.8 L1219.5 1286.2 L1220.5 1286.6 L1221.5 1287.0 L1222.5 1287.4 L1223.5 1287.8 L1224.5 1287.9 L1225.5 1287.3 L1226.5 1286.7 L1227.5 1285.9 L1228.5 1285.2 L1229.5 1284.4 L1230.5 1283.5 L1231.5 1282.7 L1232.5 1281.9 L1233.5 1281.2 L1234.5 1280.4 L1235.5 1279.8 L1236.5 1279.2 L1237.5 1279.5 L1238.5 1279.9 L1239.5 1280.4 L1240.5 1280.9 L1241.5 1281.4 L1242.5 1282.0 L1243.5 1282.6 L1244.5 1283.1 L1245.5 1283.7 L1246.5 1284.3 L1247.5 1284.9 L1248.5 1285.5 L1249.5 1286.0 L1250.5 1286.6 L1251.5 1287.0 L1252.5 1287.5 L1253.5 1287.9 L1254.5 1287.7 L1255.5 1286.9 L1256.5 1285.9 L1257.5 1284.9 L1258.5 1282.2 L1259.5 1278.7 L1260.5 1275.3 L1261.5 1269.7 L1262.5 1263.3 L1263.5 1257.0 L1264.5 1249.8 L1265.5 1234.6 L1266.5 1219.4 L1267.5 1184.5 L1268.5 1119.9 L1269.5 1024.0 L1270.5 928.3 L1271.5 832.8 L1272.5 737.4 L1273.5 642.0 L1274.5 570.8 L1275.5 514.7 L1276.5 458.5 L1277.2 441.0 L1277.5 447.8 L1278.5 492.7 L1279.5 547.6 L1280.5 602.4 L1281.5 689.7 L1282.5 783.0 L1283.5 876.3 L1284.5 969.6 L1285.5 1063.2 L1286.5 1157.0 L1287.5 1213.8 L1288.5 1244.0 L1289.5 1261.2 L1290.5 1270.8 L1291.5 1277.1 L1292.5 1283.4 L1293.5 1287.2 L1294.5 1288.9 L1295.5 1289.9 L1296.5 1288.6 L1297.5 1287.2 L1298.5 1285.7 L1299.5 1284.2 L1300.5 1282.8 L1301.5 1281.3 L1302.5 1280.0 L1303.5 1278.9 L1304.5 1277.8 L1305.5 1279.9 L1306.5 1282.4 L1307.5 1285.3 L1308.5 1288.5 L1309.5 1291.7 L1310.5 1295.0 L1311.5 1298.1 L1312.5 1301.0 L1313.5 1303.6 L1314.5 1305.6 L1315.5 1303.7 L1316.5 1301.5 L1317.5 1299.1 L1318.5 1296.5 L1319.5 1293.8 L1320.5 1291.0 L1321.5 1288.2 L1322.5 1285.5 L1323.5 1283.0 L1324.5 1280.6 L1325.5 1278.5 L1326.5 1277.3 L1327.5 1279.8 L1328.5 1282.6 L1329.5 1285.8 L1330.5 1289.1 L1331.5 1292.6 L1332.5 1296.1 L1333.5 1299.5 L1334.5 1302.7 L1335.5 1305.5 L1336.5 1308.0 L1337.5 1308.1 L1338.5 1307.5 L1339.5 1306.9 L1340.5 1306.2 L1341.5 1305.5 L1342.5 1304.8 L1343.5 1304.1 L1344.5 1303.3 L1345.5 1302.5 L1346.5 1301.7 L1347.5 1300.9 L1348.5 1300.2 L1349.5 1299.4 L1350.5 1298.6 L1351.5 1297.8 L1352.5 1297.1 L1353.5 1296.4 L1354.5 1295.7 L1355.5 1295.1 L1356.5 1294.5 L1357.5 1293.9 L1358.5 1295.3 L1359.5 1297.6 L1360.5 1300.3 L1361.5 1303.2 L1362.5 1306.2 L1363.5 1309.3 L1364.5 1312.3 L1365.5 1315.1 L1366.5 1317.6 L1367.5 1319.8 L1368.5 1317.8 L1369.5 1314.6 L1370.5 1311.0 L1371.5 1307.1 L1372.5 1303.0 L1373.5 1298.7 L1374.5 1294.5 L1375.5 1290.5 L1376.5 1286.7 L1377.5 1283.3 L1378.5 1280.3 L1379.5 1281.6 L1380.0 1283.2 L1380.5 1285.0 L1381.5 1288.9 L1382.5 1293.2 L1383.5 1297.7 L1384.5 1302.3 L1385.5 1306.9 L1386.5 1311.4 L1387.5 1315.6 L1388.5 1319.4 L1389.5 1322.7 L1390.5 1323.2 L1391.5 1321.6 L1392.5 1319.7 L1393.5 1317.6 L1394.5 1315.5 L1395.5 1313.2 L1396.5 1311.1 L1397.5 1309.0 L1398.5 1307.2 L1399.5 1305.6 L1400.5 1305.9 L1401.5 1307.4 L1402.5 1309.0 L1403.5 1310.8 L1404.5 1312.7 L1405.5 1314.7 L1406.5 1316.5 L1407.5 1318.3 L1408.5 1319.8 L1409.5 1321.2 L1410.5 1321.2 L1411.5 1320.8 L1412.5 1320.3 L1413.5 1319.8 L1414.5 1319.3 L1415.5 1318.8 L1416.5 1318.2 L1417.5 1317.7 L1418.5 1317.3 L1419.5 1316.9 L1420.5 1316.5 L1421.5 1316.6 L1422.5 1317.0 L1423.5 1317.5 L1424.5 1318.0 L1425.5 1318.6 L1426.5 1319.2 L1427.5 1319.8 L1428.5 1320.4 L1429.5 1320.9 L1430.5 1321.5 L1431.5 1322.0 L1432.5 1322.5 L1433.5 1322.9 L1434.5 1323.3 L1435.5 1322.8 L1436.5 1322.3 L1437.5 1321.6 L1438.5 1321.0 L1439.5 1320.3 L1440.5 1319.5 L1441.5 1318.8 L1442.5 1318.1 L1443.5 1317.4 L1444.5 1316.7 L1445.5 1316.0 L1446.5 1315.4 L1447.5 1314.9 L1448.5 1315.0 L1449.5 1316.2 L1450.5 1317.5 L1451.5 1319.0 L1452.5 1320.5 L1453.5 1322.2 L1454.5 1323.9 L1455.5 1325.6 L1456.5 1327.3 L1457.5 1328.9 L1458.5 1330.4 L1459.5 1331.9 L1460.5 1333.2 L1461.5 1334.4 L1462.5 1333.7 L1463.5 1332.3 L1464.5 1330.7 L1465.5 1328.9 L1466.5 1327.2 L1467.5 1325.4 L1468.5 1323.8 L1469.5 1322.4 L1470.5 1321.3 L1471.5 1321.8 L1472.5 1322.4 L1473.5 1323.0 L1474.5 1323.7 L1475.5 1324.4 L1476.5 1325.1 L1477.5 1325.7 L1478.5 1326.3 L1479.5 1326.9 L1480.5 1327.3 L1481.5 1327.6 L1482.5 1327.9 L1483.5 1328.3 L1484.5 1328.7 L1485.5 1329.2 L1486.5 1329.6 L1487.5 1330.0 L1488.5 1330.4 L1489.5 1330.7 L1490.5 1331.1 L1491.5 1331.6 L1492.5 1332.1 L1493.5 1332.7 L1494.5 1333.3 L1495.5 1333.9 L1496.5 1334.6 L1497.5 1335.2 L1498.5 1335.9 L1499.5 1336.6 L1500.5 1337.3 L1501.5 1338.0 L1502.5 1338.6 L1503.5 1339.3 L1504.5 1339.9 L1505.5 1340.5 L1506.5 1341.0 L1507.5 1341.5 L1508.5 1342.0 L1509.5 1340.7 L1510.5 1338.4 L1511.5 1335.9 L1512.5 1333.1 L1513.5 1330.2 L1514.5 1327.2 L1515.5 1324.2 L1516.5 1321.3 L1517.5 1318.6 L1518.5 1316.2 L1519.5 1314.0 L1520.5 1314.9 L1521.5 1318.1 L1522.5 1321.8 L1523.5 1325.7 L1524.5 1329.9 L1525.5 1334.3 L1526.5 1338.6 L1527.5 1342.8 L1528.5 1346.8 L1529.5 1350.4 L1530.5 1353.6 L1531.5 1353.5 L1532.5 1349.6 L1533.5 1345.3 L1534.5 1340.4 L1535.5 1335.3 L1536.5 1330.0 L1537.5 1324.7 L1538.5 1319.5 L1539.5 1314.6 L1540.5 1310.1 L1541.5 1306.1 L1542.5 1304.6 L1543.5 1307.6 L1544.5 1310.9 L1545.5 1314.6 L1546.5 1318.6 L1547.5 1322.8 L1548.5 1327.0 L1549.5 1331.2 L1550.5 1335.3 L1551.5 1339.2 L1552.5 1342.8 L1553.5 1346.0 L1554.5 1348.9 L1555.5 1348.3 L1556.5 1347.4 L1557.5 1346.5 L1558.5 1345.6 L1559.5 1344.5 L1560.5 1343.5 L1561.5 1342.4 L1562.5 1341.3 L1563.5 1340.1 L1564.5 1339.0 L1565.5 1337.8 L1566.5 1336.7 L1567.5 1335.5 L1568.5 1334.4 L1569.5 1333.4 L1570.5 1332.4 L1571.5 1331.4 L1572.5 1330.5 L1573.5 1329.6 L1574.5 1329.2 L1575.5 1331.4 L1576.5 1333.8 L1577.5 1336.5 L1578.5 1339.4 L1579.5 1342.5 L1580.5 1345.7 L1581.5 1348.9 L1582.5 1352.0 L1583.5 1354.9 L1584.5 1357.7 L1585.5 1360.2 L1586.5 1362.4 L1587.5 1360.5 L1588.5 1357.0 L1589.5 1353.1 L1590.5 1348.8 L1591.5 1344.3 L1592.5 1339.8 L1593.5 1335.4 L1594.5 1331.3 L1595.5 1327.6 L1596.5 1324.4 L1597.5 1326.2 L1598.5 1329.1 L1599.5 1332.3 L1600.5 1335.8 L1601.5 1339.5 L1602.5 1343.2 L1603.5 1346.7 L1604.5 1350.0 L1605.5 1353.0 L1606.5 1355.5 L1607.5 1354.5 L1608.5 1353.2 L1609.5 1351.8 L1610.5 1350.3 L1611.5 1348.7 L1612.5 1347.1 L1613.5 1345.5 L1614.5 1344.1 L1615.5 1342.9 L1616.5 1341.9 L1617.5 1342.5 L1618.5 1343.2 L1619.5 1343.9 L1620.5 1344.7 L1621.5 1345.5 L1622.5 1346.3 L1623.5 1347.1 L1624.5 1347.7 L1625.5 1347.8 L1626.5 1347.1 L1627.5 1346.4 L1628.5 1345.6 L1629.5 1344.7 L1630.5 1343.9 L1631.5 1343.1 L1632.5 1342.3 L1633.5 1341.7 L1634.5 1342.2 L1635.5 1343.1 L1636.5 1344.2 L1637.5 1345.4 L1638.5 1346.6 L1639.5 1347.9 L1640.5 1349.1 L1641.5 1350.3 L1642.5 1351.5 L1643.5 1352.5 L1644.5 1353.4 L1645.5 1353.2 L1646.5 1352.1 L1647.5 1351.0 L1648.5 1349.8 L1649.5 1348.4 L1650.5 1347.1 L1651.5 1345.7 L1652.5 1344.4 L1653.5 1343.2 L1654.5 1342.1 L1655.5 1341.1 L1656.5 1340.9 L1657.5 1341.7 L1658.5 1342.6 L1659.5 1343.5 L1660.5 1344.5 L1661.5 1345.6 L1662.5 1346.7 L1663.5 1347.8 L1664.5 1348.9 L1665.5 1350.0 L1666.5 1351.2 L1667.5 1352.2 L1668.5 1353.3 L1669.5 1354.3 L1670.5 1355.3 L1671.5 1356.1 L1672.5 1356.9 L1673.5 1357.5 L1674.5 1356.5 L1675.5 1355.5 L1676.5 1354.3 L1677.5 1353.0 L1678.5 1351.7 L1679.5 1350.3 L1680.5 1348.9 L1681.5 1347.6 L1682.5 1346.4 L1683.5 1345.3 L1684.5 1344.3 L1685.5 1344.5 L1686.5 1346.2 L1687.5 1348.0 L1688.5 1350.1 L1689.5 1352.3 L1690.5 1354.6 L1691.5 1357.0 L1692.5 1359.4 L1693.5 1361.7 L1694.5 1363.9 L1695.5 1366.0 L1696.5 1367.9 L1697.5 1369.7 L1698.5 1370.2 L1699.5 1369.0 L1700.5 1367.6 L1701.5 1366.0 L1702.5 1364.4 L1703.5 1362.7 L1704.5 1360.9 L1705.5 1359.2 L1706.5 1357.4 L1707.5 1355.8 L1708.5 1354.2 L1709.5 1352.8 L1710.5 1351.5 L1711.5 1350.9 L1712.5 1351.8 L1713.5 1352.8 L1714.5 1353.9 L1715.5 1355.0 L1716.5 1356.1 L1717.5 1357.4 L1718.5 1358.6 L1719.5 1359.9 L1720.5 1361.2 L1721.5 1362.5 L1722.5 1363.8 L1723.5 1365.1 L1724.5 1366.3 L1725.5 1367.5 L1726.5 1368.6 L1727.5 1369.6 L1728.5 1370.5 L1729.5 1370.9 L1730.5 1369.3 L1731.5 1367.6 L1732.5 1365.6 L1733.5 1363.5 L1734.5 1361.2 L1735.5 1359.0 L1736.5 1356.8 L1737.5 1354.6 L1738.5 1352.7 L1739.5 1350.9 L1740.5 1349.3 L1741.5 1351.2 L1742.5 1353.8 L1743.5 1356.7 L1744.5 1359.9 L1745.5 1363.3 L1746.5 1366.7 L1747.5 1370.1 L1748.5 1373.3 L1749.5 1376.3 L1750.5 1378.9 L1751.5 1381.3 L1752.5 1378.5 L1753.5 1375.3 L1754.5 1371.7 L1755.5 1367.8 L1756.5 1363.7 L1757.5 1359.6 L1758.5 1355.6 L1759.5 1351.8 L1760.5 1348.4 L1761.5 1345.4 L1762.5 1345.7 L1763.5 1348.9 L1764.5 1352.5 L1765.5 1356.4 L1766.5 1360.6 L1767.5 1364.9 L1768.5 1369.3 L1769.5 1373.6 L1770.5 1377.7 L1771.5 1381.5 L1772.5 1385.0 L1773.5 1388.0 L1774.5 1387.3 L1775.5 1385.5 L1776.5 1383.4 L1777.5 1381.1 L1778.5 1378.7 L1779.5 1376.3 L1780.5 1373.9 L1781.5 1371.6 L1782.5 1369.4 L1783.5 1367.5 L1784.5 1365.8 L1785.5 1366.6 L1786.5 1367.7 L1787.5 1369.0 L1788.5 1370.4 L1789.5 1371.9 L1790.5 1373.4 L1791.5 1374.9 L1792.5 1376.5 L1793.5 1378.1 L1794.5 1379.6 L1795.5 1381.0 L1796.5 1382.4 L1797.5 1383.7 L1798.5 1384.8 L1799.5 1385.8 L1800.5 1385.1 L1801.5 1384.4 L1802.5 1383.6 L1803.5 1382.7 L1804.5 1381.8 L1805.5 1380.9 L1806.5 1379.9 L1807.5 1379.0 L1808.5 1378.0 L1809.5 1377.1 L1810.5 1376.2 L1811.5 1375.4 L1812.5 1374.6 L1813.5 1373.9 L1814.5 1375.4 L1815.5 1377.5 L1816.5 1379.7 L1817.5 1382.2 L1818.5 1384.8 L1819.5 1387.4 L1820.5 1389.9 L1821.5 1392.2 L1822.5 1394.2 L1823.5 1395.6 L1824.5 1393.5 L1825.5 1391.1 L1826.5 1388.4 L1827.5 1385.5 L1828.5 1382.5 L1829.5 1379.5 L1830.5 1376.5 L1831.5 1373.7 L1832.5 1371.1 L1833.5 1368.7 L1834.5 1367.6 L1835.5 1370.4 L1836.5 1373.6 L1837.5 1377.2 L1838.5 1381.0 L1839.5 1384.9 L1840.5 1388.9 L1841.5 1392.7 L1842.5 1396.3 L1843.5 1399.5 L1844.5 1402.3 L1845.5 1401.1 L1846.5 1398.3 L1847.5 1395.2 L1848.5 1391.7 L1849.5 1388.1 L1850.5 1384.5 L1851.5 1380.9 L1852.5 1377.5 L1853.5 1374.4 L1854.5 1371.8 L1855.5 1371.9 L1856.5 1374.7 L1857.5 1377.8 L1858.5 1381.3 L1859.5 1385.0 L1860.5 1388.8 L1861.5 1392.6 L1862.5 1396.3 L1863.5 1399.7 L1864.5 1402.8 L1865.5 1405.6 L1866.5 1405.6 L1867.5 1403.9 L1868.5 1402.0 L1869.5 1399.9 L1870.5 1397.8 L1871.5 1395.6 L1872.5 1393.4 L1873.5 1391.5 L1874.5 1389.7 L1875.5 1388.1 L1876.5 1388.6 L1877.5 1389.6 L1878.5 1390.8 L1879.5 1392.0 L1880.5 1393.3 L1881.5 1394.6 L1882.5 1395.9 L1883.5 1397.2 L1884.5 1398.3 L1885.5 1399.4 L1886.5 1400.3 L1887.5 1400.8 L1888.5 1401.5 L1889.5 1402.3 L1890.5 1403.1 L1891.5 1403.9 L1892.5 1404.7 L1893.5 1405.4 L1894.5 1405.5 L1895.5 1404.5 L1896.5 1403.3 L1897.5 1402.0 L1898.5 1400.7 L1899.5 1399.7 L1900.5 1400.4 L1901.5 1401.5 L1902.5 1402.7 L1903.5 1403.9 L1904.5 1405.1 L1905.5 1406.2 L1906.5 1407.0 L1907.5 1407.6 L1908.5 1408.4 L1909.5 1409.3 L1910.5 1410.3 L1911.5 1411.2 L1912.5 1412.2 L1913.5 1413.1 L1914.5 1413.9 L1915.5 1414.7 L1916.5 1414.2 L1917.5 1412.5 L1918.5 1410.5 L1919.5 1408.4 L1920.5 1406.1 L1921.5 1403.8 L1922.5 1401.7 L1923.5 1399.8 L1924.5 1398.1 L1925.5 1399.4 L1926.5 1401.6 L1927.5 1404.0 L1928.5 1406.7 L1929.5 1409.5 L1930.5 1412.4 L1931.5 1415.3 L1932.5 1418.0 L1933.5 1420.6 L1934.5 1422.9 L1935.5 1424.8 L1936.5 1423.0 L1937.5 1420.6 L1938.5 1417.8 L1939.5 1414.7 L1940.5 1411.6 L1941.5 1408.3 L1942.5 1405.0 L1943.5 1401.9 L1944.5 1398.9 L1945.5 1396.2 L1946.5 1393.8 L1947.5 1393.2 L1948.5 1395.9 L1949.5 1398.9 L1950.5 1402.2 L1951.5 1405.7 L1952.5 1409.4 L1953.5 1413.1 L1954.5 1416.7 L1955.5 1420.1 L1956.5 1423.3 L1957.5 1426.1 L1958.5 1428.5 L1959.5 1427.5 L1960.5 1426.3 L1961.5 1425.0 L1962.5 1423.6 L1963.5 1422.1 L1964.5 1420.5 L1965.5 1419.0 L1966.5 1417.5 L1967.5 1416.1 L1968.5 1414.8 L1969.5 1413.7 L1970.5 1412.7 L1971.5 1413.7 L1972.5 1414.8 L1973.5 1416.1 L1974.5 1417.4 L1975.5 1418.7 L1976.5 1420.2 L1977.5 1421.6 L1978.5 1423.1 L1979.5 1424.6 L1980.5 1426.0 L1981.5 1427.4 L1982.5 1428.7 L1983.5 1430.0 L1984.5 1431.1 L1985.5 1432.1 L1986.5 1431.6 L1987.5 1430.6 L1988.5 1429.4 L1989.5 1428.2 L1990.5 1427.0 L1991.5 1425.6 L1992.5 1424.2 L1993.5 1422.9 L1994.5 1421.5 L1995.5 1420.2 L1996.5 1418.9 L1997.5 1417.7 L1998.5 1416.7 L1999.5 1415.7 L2000.5 1416.1 L2001.5 1417.5 L2002.5 1419.1 L2003.5 1420.8 L2004.5 1422.7 L2005.5 1424.5 L2006.5 1426.4 L2007.5 1428.2 L2008.5 1429.9 L2009.5 1431.4 L2010.5 1432.7 L2011.5 1433.0 L2012.5 1432.9 L2013.5 1432.8 L2014.5 1432.7 L2015.5 1432.6 L2016.5 1432.5 L2017.5 1432.6 L2018.5 1433.3 L2019.5 1434.2 L2020.5 1435.2 L2021.5 1436.3 L2022.5 1437.3 L2023.5 1438.2 L2024.5 1439.0 L2025.5 1438.9 L2026.5 1438.3 L2027.5 1437.5 L2028.5 1436.6 L2029.5 1435.7 L2030.5 1434.8 L2031.5 1433.8 L2032.5 1432.9 L2033.5 1432.1 L2034.5 1431.4 L2035.5 1430.7 L2036.5 1431.5 L2037.5 1433.2 L2038.5 1435.1 L2039.5 1437.1 L2040.5 1439.3 L2041.5 1441.6 L2042.5 1443.9 L2043.5 1446.1 L2044.5 1448.2 L2045.5 1450.2 L2046.5 1452.1 L2047.5 1453.6 L2048.5 1452.8 L2049.5 1450.5 L2050.5 1447.9 L2051.5 1445.2 L2052.5 1442.4 L2053.5 1439.8 L2054.5 1437.5 L2055.5 1435.7 L2056.5 1435.7 L2057.5 1435.7 L2058.5 1435.7" stroke="#9900cc" stroke-width="6"/>
<path d="M1408.5 1327.2 L1409.5 1328.9 L1410.5 1329.2 L1411.5 1328.9 L1412.5 1328.6 L1413.5 1328.3 L1414.5 1328.0 L1415.5 1327.5 L1416.5 1326.9 L1417.5 1326.3 L1418.5 1325.8 L1419.5 1325.3 L1420.5 1324.9 L1421.5 1325.0 L1422.5 1325.5 L1423.5 1326.0 L1424.5 1326.6 L1425.5 1327.2 L1426.5 1327.9 L1427.5 1328.5 L1428.5 1329.1 L1429.5 1329.7 L1430.5 1330.3 L1431.5 1330.8 L1432.5 1331.3 L1433.5 1331.8 L1434.5 1332.2 L1435.5 1331.5 L1436.5 1330.9 L1437.5 1330.2 L1438.5 1329.4 L1439.5 1328.6 L1440.5 1327.7 L1441.5 1326.9 L1442.5 1326.1 L1443.5 1325.2 L1444.5 1324.4 L1445.5 1323.7 L1446.5 1323.0 L1447.5 1322.4 L1448.5 1322.5 L1449.5 1323.8 L1450.5 1325.3 L1451.5 1326.9 L1452.5 1328.7 L1453.5 1330.5 L1454.5 1332.4 L1455.5 1334.4 L1456.5 1336.3 L1457.5 1338.1 L1458.5 1339.9 L1459.5 1341.5 L1460.5 1342.9 L1461.5 1344.3 L1462.5 1343.5 L1463.5 1341.8 L1464.5 1340.0 L1465.5 1338.0 L1466.5 1335.9 L1467.5 1333.9 L1468.5 1332.0 L1469.5 1330.3 L1470.5 1329.1 L1471.5 1329.6 L1472.5 1330.2 L1473.5 1330.9 L1474.5 1331.6 L1475.5 1332.3 L1476.5 1333.1 L1477.5 1333.8 L1478.5 1334.4 L1479.5 1335.0 L1480.5 1335.4 L1481.5 1335.7 L1482.5 1336.0 L1483.5 1336.5 L1484.5 1336.9 L1485.5 1337.4 L1486.5 1337.9 L1487.5 1338.4 L1488.5 1338.9 L1489.5 1339.3 L1490.5 1339.7 L1491.5 1340.3 L1492.5 1341.0 L1493.5 1341.6 L1494.5 1342.3 L1495.5 1343.0 L1496.5 1343.8 L1497.5 1344.5 L1498.5 1345.2 L1499.5 1345.9 L1500.5 1346.7 L1501.5 1347.3 L1502.5 1348.0 L1503.5 1348.7 L1504.5 1349.4 L1505.5 1350.0 L1506.5 1350.7 L1507.5 1351.3 L1508.5 1351.8 L1509.5 1350.3 L1510.5 1347.7 L1511.5 1344.7 L1512.5 1341.4 L1513.5 1338.0 L1514.5 1334.4 L1515.5 1330.9 L1516.5 1327.5 L1517.5 1324.3" stroke="#ff6600" stroke-width="10"/>
<path d="M311.5 1244.2 L312.5 1244.1 L313.5 1242.1 L314.5 1239.9 L315.5 1237.4 L316.5 1234.7 L317.5 1231.9 L318.5 1229.1 L319.5 1226.5 L320.5 1224.0 L321.5 1221.8 L322.5 1221.0 L323.5 1224.5 L324.5 1228.4 L325.5 1232.8 L326.5 1237.4 L327.5 1242.3 L328.5 1247.3 L329.5 1252.2 L330.5 1257.0 L331.5 1261.5 L332.5 1265.7 L333.5 1269.4 L334.5 1270.1 L335.5 1265.3 L336.5 1259.8 L337.5 1253.8 L338.5 1247.4 L339.5 1240.8 L340.5 1234.0 L341.5 1227.3 L342.5 1220.9 L343.5 1215.0 L344.5 1209.6 L345.5 1204.8 L346.5 1206.3 L347.5 1210.7 L348.5 1215.7 L349.5 1221.1 L350.5 1226.8 L351.5 1232.6 L352.5 1238.4 L353.5 1244.1 L354.5 1249.3 L355.5 1254.1 L356.5 1258.3 L357.5 1258.7 L358.5 1256.4 L359.5 1253.8 L360.5 1251.0 L361.5 1248.0 L362.5 1244.9 L363.5 1241.8 L364.5 1238.6 L365.5 1235.6 L366.5 1232.7 L367.5 1230.0 L368.5 1227.5 L369.5 1225.3 L370.5 1224.8 L371.5 1226.3 L372.5 1228.0 L373.5 1229.8 L374.5 1231.7 L375.5 1233.6 L376.5 1235.7 L377.5 1237.7 L378.5 1239.8 L379.5 1241.8 L380.5 1243.8 L381.5 1245.7 L382.5 1247.6 L383.5 1249.3 L384.5 1251.0 L385.5 1252.1 L386.5 1249.4 L387.5 1246.5 L388.5 1243.3 L389.5 1239.8 L390.5 1236.0 L391.5 1232.2 L392.5 1228.3 L393.5 1224.4 L394.5 1220.7 L395.5 1217.1 L396.5 1213.9 L397.5 1210.9 L398.5 1209.6 L399.5 1213.3 L400.5 1217.5 L401.5 1222.2 L402.5 1227.3 L403.5 1232.6 L404.5 1237.9 L405.5 1243.0 L406.5 1247.9 L407.5 1252.3 L408.5 1256.2 L409.5 1255.6 L410.5 1251.6 L411.5 1247.2 L412.5 1242.2 L413.5 1237.0 L414.5 1231.7 L415.5 1226.4 L416.5 1221.4 L417.5 1216.6 L418.5 1212.4 L419.5 1208.7 L420.5 1211.6 L421.5 1215.3 L422.5 1219.4 L423.5 1223.9 L424.5 1228.6 L425.5 1233.4 L426.5 1238.0 L427.5 1242.5 L428.5 1246.6 L429.5 1250.2 L430.5 1253.1 L431.5 1250.2 L432.5 1247.0 L433.5 1243.4 L434.5 1239.5 L435.5 1235.5 L436.5 1231.4 L437.5 1227.5 L438.5 1223.7 L439.5 1220.4 L440.5 1217.4 L441.5 1216.7 L442.5 1219.0 L443.5 1221.6 L444.5 1224.5 L445.5 1227.5 L446.5 1230.6 L447.5 1233.7 L448.5 1236.7 L449.5 1239.6 L450.5 1242.2 L451.5 1244.5 L452.5 1245.7 L453.5 1244.7 L454.5 1243.7 L455.5 1242.5 L456.5 1241.3 L457.5 1240.0 L458.5 1238.7 L459.5 1237.4 L460.5 1236.1 L461.5 1234.8 L462.5 1233.6 L463.5 1232.5 L464.5 1231.4 L465.5 1230.4 L466.5 1229.8 L467.5 1230.6 L468.5 1231.5 L469.5 1232.6 L470.5 1233.7 L471.5 1234.8 L472.5 1236.0 L473.5 1237.2 L474.5 1238.4 L475.5 1239.5 L476.5 1240.5 L477.5 1241.5 L478.5 1241.8 L479.5 1240.6 L480.5 1239.2 L481.5 1237.7 L482.5 1236.1 L483.5 1234.4 L484.5 1232.7 L485.5 1230.9 L486.5 1229.3 L487.5 1227.7 L488.5 1226.2 L489.5 1224.9 L490.5 1224.9 L491.5 1226.8 L492.5 1228.9 L493.5 1231.2 L494.5 1233.7 L495.5 1236.2 L496.5 1238.7 L497.5 1241.1 L498.5 1243.2 L499.5 1245.1 L500.5 1245.2 L501.5 1243.5 L502.5 1241.6 L503.5 1239.5 L504.5 1237.2 L505.5 1234.9 L506.5 1232.6 L507.5 1230.3 L508.5 1228.1 L509.5 1226.1 L510.5 1224.2 L511.5 1222.4 L512.5 1222.2 L513.5 1224.2 L514.5 1226.5 L515.5 1229.0 L516.5 1231.6 L517.5 1234.4 L518.5 1237.2 L519.5 1240.0 L520.5 1242.8 L521.5 1245.4 L522.5 1247.9 L523.5 1250.3 L524.5 1252.4 L525.5 1253.0 L526.5 1249.8 L527.5 1246.3 L528.5 1242.3 L529.5 1238.1 L530.5 1233.7 L531.5 1229.1 L532.5 1224.6 L533.5 1220.2 L534.5 1216.0 L535.5 1212.1 L536.5 1208.6 L537.5 1205.5 L538.5 1208.0 L539.5 1211.8 L540.5 1215.9 L541.5 1220.4 L542.5 1225.1 L543.5 1230.0 L544.5 1234.9 L545.5 1239.7 L546.5 1244.3 L547.5 1248.6 L548.5 1252.6 L549.5 1256.1 L550.5 1256.2 L551.5 1253.0 L552.5 1249.3 L553.5 1245.3 L554.5 1241.0 L555.5 1236.5 L556.5 1232.0 L557.5 1227.5 L558.5 1223.2 L559.5 1219.1 L560.5 1215.3 L561.5 1211.8 L562.5 1209.4 L563.5 1211.5 L564.5 1213.9 L565.5 1216.5 L566.5 1219.3 L567.5 1222.3 L568.5 1225.3 L569.5 1228.4 L570.5 1231.6 L571.5 1234.7 L572.5 1237.7 L573.5 1240.6 L574.5 1243.4 L575.5 1245.9 L576.5 1248.2 L577.5 1249.5 L578.5 1248.4 L579.5 1247.3 L580.5 1246.0 L581.5 1244.7 L582.5 1243.3 L583.5 1241.8 L584.5 1240.3 L585.5 1238.8 L586.5 1237.4 L587.5 1236.0 L588.5 1234.8 L589.5 1233.6 L590.5 1233.5 L591.5 1235.0 L592.5 1236.6 L593.5 1238.5 L594.5 1240.4 L595.5 1242.5 L596.5 1244.6 L597.5 1246.7 L598.5 1248.9 L599.5 1250.9 L600.5 1252.8 L601.5 1254.6 L602.5 1256.2 L603.5 1256.8 L604.5 1254.6 L605.5 1252.2 L606.5 1249.5 L607.5 1246.7 L608.5 1243.7 L609.5 1240.8 L610.5 1237.9 L611.5 1235.3 L612.5 1232.9 L613.5 1230.8 L614.5 1232.2 L615.5 1234.3 L616.5 1236.6 L617.5 1239.1 L618.5 1241.7 L619.5 1244.4 L620.5 1247.1 L621.5 1249.7 L622.5 1252.2 L623.5 1254.4 L624.5 1256.3 L625.5 1256.5 L626.5 1254.9 L627.5 1253.1 L628.5 1251.0 L629.5 1248.9 L630.5 1246.8 L631.5 1244.8 L632.5 1243.0 L633.5 1241.4 L634.5 1240.7 L635.5 1241.4 L636.5 1242.2 L637.5 1243.0 L638.5 1243.9 L639.5 1244.9 L640.5 1245.8 L641.5 1246.7 L642.5 1247.6 L643.5 1248.3 L644.5 1249.0 L645.5 1249.4 L646.5 1249.1 L647.5 1248.7 L648.5 1248.4 L649.5 1248.0 L650.5 1247.7 L651.5 1247.5 L652.5 1247.3 L653.5 1247.1 L654.5 1246.9 L655.5 1246.7 L656.5 1246.5 L657.5 1246.3 L658.5 1246.1 L659.5 1246.0 L660.5 1246.0 L661.5 1245.8 L662.5 1245.7 L663.5 1245.5 L664.5 1245.4 L665.5 1245.2 L666.5 1245.2 L667.5 1245.9 L668.5 1246.6 L669.5 1247.5 L670.5 1248.4 L671.5 1249.3 L672.5 1250.2 L673.5 1251.0 L674.5 1251.7 L675.5 1251.6 L676.5 1250.7 L677.5 1249.6 L678.5 1248.4 L679.5 1247.1 L680.5 1245.7 L681.5 1244.4 L682.5 1243.1 L683.5 1241.9 L684.5 1240.8 L685.5 1239.9 L686.5 1240.9 L687.5 1242.5 L688.5 1244.3 L689.5 1246.3 L690.5 1248.3 L691.5 1250.3 L692.5 1252.2 L693.5 1254.0 L694.5 1255.5 L695.5 1255.0 L696.5 1253.7 L697.5 1252.1 L698.5 1250.4 L699.5 1248.7 L700.5 1246.9 L701.5 1245.1 L702.5 1243.4 L703.5 1241.8 L704.5 1240.5 L705.5 1240.1 L706.5 1241.6 L707.5 1243.4 L708.5 1245.4 L709.5 1247.5 L710.5 1249.7 L711.5 1251.8 L712.5 1253.9 L713.5 1255.9 L714.5 1257.7 L715.5 1259.2 L716.5 1258.8 L717.5 1257.3 L718.5 1255.6 L719.5 1253.8 L720.5 1251.8 L721.5 1249.8 L722.5 1247.8 L723.5 1245.9 L724.5 1244.0 L725.5 1242.3 L726.5 1240.8 L727.5 1239.5 L728.5 1240.7 L729.5 1241.9 L730.5 1243.4 L731.5 1244.9 L732.5 1246.5 L733.5 1248.1 L734.5 1249.8 L735.5 1251.3 L736.5 1252.9 L737.5 1254.3 L738.5 1255.6 L739.5 1256.7 L740.5 1256.5 L741.5 1255.4 L742.5 1254.3 L743.5 1253.1 L744.5 1251.8 L745.5 1250.5 L746.5 1249.1 L747.5 1247.7 L748.5 1246.4 L749.5 1245.1 L750.5 1243.8 L751.5 1242.6 L752.5 1241.5 L753.5 1240.5 L754.5 1240.3 L755.5 1241.9 L756.5 1243.8 L757.5 1245.8 L758.5 1248.0 L759.5 1250.3 L760.5 1252.6 L761.5 1255.0 L762.5 1257.2 L763.5 1259.4 L764.5 1261.4 L765.5 1263.2 L766.5 1264.8 L767.5 1262.9 L768.5 1260.4 L769.5 1257.6 L770.5 1254.6 L771.5 1251.5 L772.5 1248.2 L773.5 1244.9 L774.5 1241.7 L775.5 1238.5 L776.5 1235.6 L777.5 1232.8 L778.5 1230.3 L779.5 1228.3 L780.5 1230.5 L781.5 1232.9 L782.5 1235.5 L783.5 1238.3 L784.5 1241.3 L785.5 1244.4 L786.5 1247.5 L787.5 1250.6 L788.5 1253.6 L789.5 1256.4 L790.5 1259.0 L791.5 1261.4 L792.5 1263.4 L793.5 1262.5 L794.5 1261.2 L795.5 1259.9 L796.5 1258.4 L797.5 1256.9 L798.5 1255.2 L799.5 1253.6 L800.5 1251.9 L801.5 1250.2 L802.5 1248.5 L803.5 1246.8 L804.5 1245.2 L805.5 1243.6 L806.5 1242.1 L807.5 1240.6 L808.5 1239.3 L809.5 1238.0 L810.5 1239.2 L811.5 1241.3 L812.5 1243.5 L813.5 1246.0 L814.5 1248.6 L815.5 1251.3 L816.5 1254.1 L817.5 1256.9 L818.5 1259.5 L819.5 1262.0 L820.5 1264.3 L821.5 1266.4 L822.5 1266.3 L823.5 1263.4 L824.5 1260.0 L825.5 1256.3 L826.5 1252.3 L827.5 1248.1 L828.5 1244.0 L829.5 1239.9 L830.5 1236.0 L831.5 1232.5 L832.5 1229.3 L833.5 1228.0 L834.5 1230.8 L835.5 1233.9 L836.5 1237.4 L837.5 1241.1 L838.5 1245.0 L839.5 1248.9 L840.5 1252.7 L841.5 1256.3 L842.5 1259.7 L843.5 1262.6 L844.5 1264.6 L845.5 1262.9 L846.5 1260.9 L847.5 1258.7 L848.5 1256.4 L849.5 1254.0 L850.5 1251.7 L851.5 1249.5 L852.5 1247.6 L853.5 1245.9 L854.5 1246.7 L855.5 1248.6 L856.5 1250.7 L857.5 1252.9 L858.5 1255.0 L859.5 1256.9 L860.5 1258.3 L861.5 1257.3 L862.5 1256.1 L863.5 1254.7 L864.5 1253.3 L865.5 1251.9 L866.5 1250.6 L867.5 1249.5 L868.5 1250.0 L869.5 1251.5 L870.5 1253.3 L871.5 1255.3 L872.5 1257.4 L873.5 1259.5 L874.5 1261.6 L875.5 1263.6 L876.5 1265.3 L877.5 1266.9 L878.5 1265.9 L879.5 1263.7 L880.5 1261.2 L881.5 1258.5 L882.5 1255.7 L883.5 1252.8 L884.5 1250.0 L885.5 1247.4 L886.5 1245.1 L887.5 1243.0 L888.5 1244.1 L889.5 1246.1 L890.5 1248.2 L891.5 1250.6 L892.5 1253.1 L893.5 1255.6 L894.5 1258.1 L895.5 1260.6 L896.5 1262.8 L897.5 1264.8 L898.5 1266.6 L899.5 1266.8 L900.5 1266.2 L901.5 1265.5 L902.5 1264.8 L903.5 1264.1 L904.5 1263.3 L905.5 1262.6 L906.5 1262.0 L907.5 1261.4 L908.5 1260.9 L909.5 1260.8 L910.5 1260.8 L911.5 1260.8 L912.5 1260.8 L913.5 1260.7 L914.5 1260.7 L915.5 1260.7 L916.5 1260.6 L917.5 1260.6 L918.5 1261.1 L919.5 1261.7 L920.5 1262.3 L921.5 1263.0 L922.5 1263.7 L923.5 1264.3 L924.5 1264.8 L925.5 1264.9 L926.5 1264.8 L927.5 1264.8 L928.5 1264.7 L929.5 1264.6 L930.5 1264.6 L931.5 1264.5 L932.5 1264.5 L933.5 1264.4 L934.5 1264.0 L935.5 1263.5 L936.5 1262.9 L937.5 1262.3 L938.5 1261.7 L939.5 1261.1 L940.5 1260.4 L941.5 1259.8 L942.5 1259.3 L943.5 1258.8 L944.5 1258.3 L945.5 1258.3 L946.5 1258.4 L947.5 1258.5 L948.5 1258.6 L949.5 1258.7 L950.5 1258.7 L951.5 1259.3 L952.5 1260.3 L953.5 1261.4 L954.5 1262.5 L955.2 1263.3 L955.5 1263.7 L956.5 1264.8 L957.5 1265.7 L958.5 1266.2 L959.5 1265.8 L960.5 1265.4 L961.5 1264.9 L962.5 1264.4 L963.5 1263.9 L964.5 1263.5 L965.5 1263.1 L966.5 1263.0 L967.5 1262.9 L968.5 1262.7 L969.5 1262.6 L970.5 1262.5 L971.5 1262.3 L972.5 1262.2 L973.5 1262.0 L974.5 1261.9 L975.5 1261.8 L976.5 1261.7 L977.5 1261.6 L978.5 1261.8 L979.5 1262.3 L980.5 1262.9 L981.5 1263.5 L982.5 1264.2 L983.5 1264.9 L984.5 1265.6 L985.5 1266.4 L986.5 1267.1 L987.5 1267.8 L988.5 1268.5 L989.5 1269.1 L990.5 1269.7 L991.5 1270.2 L992.5 1270.7 L993.5 1270.2 L994.5 1269.1 L995.5 1267.9 L996.5 1266.6 L997.5 1265.2 L998.5 1263.8 L999.5 1262.3 L1000.5 1260.8 L1001.5 1259.3 L1002.5 1257.8 L1003.5 1256.4 L1004.5 1255.1 L1005.5 1253.8 L1006.5 1252.7 L1007.3 1251.8 L1007.5 1251.6 L1008.5 1252.7 L1009.5 1254.6 L1010.5 1256.7 L1011.5 1259.0 L1012.5 1261.4 L1013.5 1263.9 L1014.5 1266.4 L1015.5 1268.9 L1016.5 1271.4 L1017.5 1273.6 L1018.5 1275.7 L1019.5 1277.6 L1020.5 1277.9 L1021.5 1276.0 L1022.5 1273.9 L1023.5 1271.6 L1024.5 1269.1 L1025.5 1266.5 L1026.5 1264.0 L1027.5 1261.4 L1028.5 1259.1 L1029.5 1256.9 L1030.5 1254.9 L1031.5 1254.0 L1032.5 1255.7 L1033.5 1257.5 L1034.5 1259.5 L1035.5 1261.7 L1036.5 1264.0 L1037.5 1266.3 L1038.5 1268.6 L1039.5 1270.8 L1040.5 1273.0 L1041.5 1274.9 L1042.5 1276.7 L1043.5 1278.3 L1044.5 1277.6 L1045.5 1276.6 L1046.5 1275.5 L1047.5 1274.3 L1048.5 1273.1 L1049.5 1271.8 L1050.5 1270.5 L1051.5 1269.2 L1052.5 1267.9 L1053.5 1266.6 L1054.5 1265.3 L1055.5 1264.0 L1056.5 1262.9 L1057.5 1261.7 L1058.5 1260.7 L1059.5 1259.7 L1060.5 1260.5 L1061.5 1261.9 L1062.5 1263.4 L1063.5 1265.1 L1064.5 1266.9 L1065.5 1268.7 L1066.2 1270.0 L1066.5 1270.5 L1067.5 1272.5 L1068.5 1274.4 L1069.5 1276.2 L1070.5 1278.0 L1071.5 1279.6 L1072.5 1281.1 L1073.5 1281.8 L1074.5 1279.3 L1075.5 1276.4 L1076.5 1273.0 L1077.5 1269.5 L1078.5 1265.9 L1079.5 1262.5 L1080.5 1259.3 L1081.5 1256.6 L1082.5 1256.5 L1083.5 1258.7 L1084.5 1261.2 L1085.5 1263.9 L1086.5 1266.8 L1087.5 1269.8 L1088.5 1272.9 L1089.5 1276.0 L1090.5 1279.0 L1091.5 1281.8 L1092.5 1284.4 L1093.5 1286.8 L1094.5 1288.2 L1095.5 1285.3 L1096.5 1281.9 L1097.5 1278.1 L1098.5 1274.1 L1099.5 1269.9 L1100.5 1265.8 L1101.5 1261.8 L1102.5 1258.1 L1103.5 1254.9 L1104.5 1253.4 L1105.5 1256.3 L1106.5 1259.6 L1107.5 1263.3 L1108.5 1267.2 L1109.5 1271.3 L1110.5 1275.4 L1111.5 1279.5 L1112.5 1283.3 L1113.5 1286.8 L1114.5 1290.0 L1115.5 1292.2 L1116.5 1289.6 L1117.5 1286.7 L1118.5 1283.4 L1119.5 1279.9 L1120.5 1276.3 L1121.5 1272.6 L1122.5 1269.0 L1123.5 1265.5 L1124.5 1262.3 L1125.5 1259.5 L1126.5 1257.0 L1127.5 1259.9 L1128.5 1263.5 L1128.6 1263.9 L1129.5 1267.6 L1130.5 1271.9 L1131.5 1276.1 L1132.5 1280.0 L1133.5 1283.3 L1134.5 1284.2 L1135.5 1283.5 L1136.5 1282.7 L1137.5 1281.8 L1138.5 1280.8 L1139.5 1279.9 L1140.5 1279.0 L1141.5 1278.2 L1142.5 1277.4 L1143.5 1276.8 L1144.5 1276.8 L1145.5 1277.1 L1146.5 1277.6 L1147.5 1278.0 L1148.5 1278.4 L1149.5 1278.8 L1150.5 1279.2 L1151.5 1279.3 L1152.5 1279.0 L1153.5 1278.6 L1154.5 1278.2 L1155.5 1277.7 L1156.5 1277.2 L1157.5 1276.8 L1158.5 1276.3 L1159.5 1276.0 L1160.5 1276.2 L1161.5 1276.9 L1162.5 1277.7 L1163.5 1278.7 L1164.5 1279.7 L1165.5 1280.7 L1166.5 1281.8 L1167.5 1282.8 L1168.5 1283.7 L1169.5 1284.6 L1170.5 1285.3 L1171.5 1285.3 L1172.5 1284.3 L1173.5 1283.1 L1174.5 1281.7 L1175.5 1280.4 L1176.5 1279.1 L1177.5 1277.9 L1178.5 1277.0 L1179.5 1277.4 L1180.5 1277.9 L1181.5 1278.5 L1182.5 1279.2 L1183.5 1279.8 L1184.5 1280.5 L1185.5 1281.2 L1186.5 1281.9 L1187.5 1282.5 L1188.5 1283.1 L1189.5 1283.7 L1190.5 1284.1 L1191.5 1284.2 L1192.5 1284.1 L1193.5 1284.0 L1194.5 1283.8 L1195.5 1283.7 L1196.5 1283.6 L1197.5 1283.4 L1198.5 1283.3 L1199.5 1283.2 L1200.5 1283.1 L1201.5 1283.1 L1202.5 1283.0 L1203.5 1282.9 L1204.5 1282.8 L1205.5 1282.7 L1206.5 1282.6 L1207.5 1283.0 L1208.5 1283.9 L1209.5 1284.9 L1210.5 1286.0 L1211.5 1287.1 L1212.5 1288.0 L1213.5 1288.6 L1214.5 1289.0 L1215.5 1289.4 L1216.5 1289.8 L1217.5 1290.3 L1218.5 1290.7 L1219.5 1291.2 L1220.5 1291.7 L1221.5 1292.2 L1222.5 1292.6 L1223.5 1292.9 L1224.5 1293.1 L1225.5 1292.4 L1226.5 1291.6 L1227.5 1290.8 L1228.5 1289.9 L1229.5 1289.0 L1230.5 1288.0 L1231.5 1287.1 L1232.5 1286.2 L1233.5 1285.3 L1234.5 1284.5 L1235.5 1283.8 L1236.5 1283.1 L1237.5 1283.4 L1238.5 1283.9 L1239.5 1284.5 L1240.5 1285.0 L1241.5 1285.6 L1242.5 1286.3 L1243.5 1286.9 L1244.5 1287.6 L1245.5 1288.3 L1246.5 1288.9 L1247.5 1289.6 L1248.5 1290.2 L1249.5 1290.8 L1250.5 1291.4 L1251.5 1292.0 L1252.5 1292.5 L1253.5 1292.9 L1254.5 1292.7 L1255.5 1291.7 L1256.5 1290.6 L1257.5 1289.4 L1258.5 1288.1 L1259.5 1286.8 L1260.5 1285.4 L1261.5 1284.0 L1262.5 1282.6 L1263.5 1281.3 L1264.5 1280.0 L1265.5 1278.8 L1266.5 1277.8 L1267.5 1276.8 L1268.5 1278.3 L1269.5 1280.3 L1270.5 1282.7 L1271.5 1285.2 L1272.5 1287.9 L1273.5 1290.5 L1274.5 1293.1 L1275.5 1295.5 L1276.5 1297.6 L1277.2 1299.0 L1277.5 1299.5 L1278.5 1299.2 L1279.5 1298.8 L1280.5 1298.4 L1281.5 1297.9 L1282.5 1297.5 L1283.5 1297.1 L1284.5 1296.7 L1285.5 1296.6 L1286.5 1296.7 L1287.5 1296.7 L1288.5 1296.8 L1289.5 1296.9 L1290.5 1297.0 L1291.5 1297.0 L1292.5 1297.1 L1293.5 1297.1 L1294.5 1295.9 L1295.5 1294.6 L1296.5 1293.1 L1297.5 1291.4 L1298.5 1289.7 L1299.5 1288.0 L1300.5 1286.3 L1301.5 1284.7 L1302.5 1283.1 L1303.5 1281.8 L1304.5 1280.6 L1305.5 1282.9 L1306.5 1285.8 L1307.5 1289.1 L1308.5 1292.6 L1309.5 1296.3 L1310.5 1300.0 L1311.5 1303.6 L1312.5 1306.9 L1313.5 1309.8 L1314.5 1312.1 L1315.5 1309.9 L1316.5 1307.4 L1317.5 1304.7 L1318.5 1301.7 L1319.5 1298.6 L1320.5 1295.4 L1321.5 1292.2 L1322.5 1289.1 L1323.5 1286.2 L1324.5 1283.5 L1325.5 1281.1 L1326.5 1279.7 L1327.5 1282.5 L1328.5 1285.7 L1329.5 1289.3 L1330.5 1293.1 L1331.5 1297.1 L1332.5 1301.1 L1333.5 1304.9 L1334.5 1308.4 L1335.5 1311.6 L1336.5 1314.3 L1337.5 1314.4 L1338.5 1313.6 L1339.5 1312.9 L1340.5 1312.1 L1341.5 1311.3 L1342.5 1310.4 L1343.5 1309.6 L1344.5 1308.8 L1345.5 1307.9 L1346.5 1307.1 L1347.5 1306.2 L1348.5 1305.4 L1349.5 1304.5 L1350.5 1303.7 L1351.5 1302.8 L1352.5 1302.0 L1353.5 1301.2 L1354.5 1300.4 L1355.5 1299.6 L1356.5 1298.9 L1357.5 1298.2 L1358.5 1299.6 L1359.5 1302.2 L1360.5 1305.2 L1361.5 1308.4 L1362.5 1311.9 L1363.5 1315.3 L1364.5 1318.7 L1365.5 1320.0 L1366.5 1319.6 L1367.5 1316.4 L1368.5 1306.8 L1369.5 1293.3 L1370.5 1269.2 L1371.5 1222.2 L1372.5 1126.4 L1373.5 1019.8 L1374.5 913.2 L1375.5 806.7 L1376.5 700.5 L1377.5 614.2 L1378.5 548.6 L1379.5 492.2 L1380.0 484.0 L1380.5 496.0 L1381.5 558.3 L1382.5 625.2 L1383.5 712.7 L1384.5 819.8 L1385.5 926.9 L1386.5 1033.7 L1387.5 1140.3 L1388.5 1238.9 L1389.5 1289.9 L1390.5 1310.5 L1391.5 1318.4 L1392.5 1322.7 L1393.5 1324.1 L1394.5 1321.6 L1395.5 1319.1 L1396.5 1316.6 L1397.5 1314.3 L1398.5 1312.2 L1399.5 1310.4 L1400.5 1310.8 L1401.5 1312.4 L1402.5 1314.2 L1403.5 1316.3 L1404.5 1318.4 L1405.5 1320.6 L1406.5 1323.0 L1407.5 1325.2 L1408.5 1327.2 L1409.5 1328.9 L1410.5 1329.2 L1411.5 1328.9 L1412.5 1328.6 L1413.5 1328.3 L1414.5 1328.0 L1415.5 1327.5 L1416.5 1326.9 L1417.5 1326.3 L1418.5 1325.8 L1419.5 1325.3 L1420.5 1324.9 L1421.5 1325.0 L1422.5 1325.5 L1423.5 1326.0 L1424.5 1326.6 L1425.5 1327.2 L1426.5 1327.9 L1427.5 1328.5 L1428.5 1329.1 L1429.5 1329.7 L1430.5 1330.3 L1431.5 1330.8 L1432.5 1331.3 L1433.5 1331.8 L1434.5 1332.2 L1435.5 1331.5 L1436.5 1330.9 L1437.5 1330.2 L1438.5 1329.4 L1439.5 1328.6 L1440.5 1327.7 L1441.5 1326.9 L1442.5 1326.1 L1443.5 1325.2 L1444.5 1324.4 L1445.5 1323.7 L1446.5 1323.0 L1447.5 1322.4 L1448.5 1322.5 L1449.5 1323.8 L1450.5 1325.3 L1451.5 1326.9 L1452.5 1328.7 L1453.5 1330.5 L1454.5 1332.4 L1455.5 1334.4 L1456.5 1336.3 L1457.5 1338.1 L1458.5 1339.9 L1459.5 1341.5 L1460.5 1342.9 L1461.5 1344.3 L1462.5 1343.5 L1463.5 1341.8 L1464.5 1340.0 L1465.5 1338.0 L1466.5 1335.9 L1467.5 1333.9 L1468.5 1332.0 L1469.5 1330.3 L1470.5 1329.1 L1471.5 1329.6 L1472.5 1330.2 L1473.5 1330.9 L1474.5 1331.6 L1475.5 1332.3 L1476.5 1333.1 L1477.5 1333.8 L1478.5 1334.4 L1479.5 1335.0 L1480.5 1335.4 L1481.5 1335.7 L1482.5 1336.0 L1483.5 1336.5 L1484.5 1336.9 L1485.5 1337.4 L1486.5 1337.9 L1487.5 1338.4 L1488.5 1338.9 L1489.5 1339.3 L1490.5 1339.7 L1491.5 1340.3 L1492.5 1341.0 L1493.5 1341.6 L1494.5 1342.3 L1495.5 1343.0 L1496.5 1343.8 L1497.5 1344.5 L1498.5 1345.2 L1499.5 1345.9 L1500.5 1346.7 L1501.5 1347.3 L1502.5 1348.0 L1503.5 1348.7 L1504.5 1349.4 L1505.5 1350.0 L1506.5 1350.7 L1507.5 1351.3 L1508.5 1351.8 L1509.5 1350.3 L1510.5 1347.7 L1511.5 1344.7 L1512.5 1341.4 L1513.5 1338.0 L1514.5 1334.4 L1515.5 1330.9 L1516.5 1327.5 L1517.5 1324.3 L1518.5 1321.3 L1519.5 1318.7 L1520.5 1319.7 L1521.5 1323.3 L1522.5 1327.4 L1523.5 1331.9 L1524.5 1336.7 L1525.5 1341.6 L1526.5 1346.6 L1527.5 1351.4 L1528.5 1355.9 L1529.5 1360.0 L1530.5 1363.6 L1531.5 1363.5 L1532.5 1359.1 L1533.5 1354.1 L1534.5 1348.5 L1535.5 1342.7 L1536.5 1336.6 L1537.5 1330.5 L1538.5 1324.6 L1539.5 1319.0 L1540.5 1313.9 L1541.5 1309.4 L1542.5 1307.7 L1543.5 1311.1 L1544.5 1315.0 L1545.5 1319.2 L1546.5 1323.7 L1547.5 1328.4 L1548.5 1333.2 L1549.5 1337.9 L1550.5 1342.6 L1551.5 1346.9 L1552.5 1350.9 L1553.5 1354.6 L1554.5 1357.8 L1555.5 1357.0 L1556.5 1356.0 L1557.5 1354.9 L1558.5 1353.8 L1559.5 1352.6 L1560.5 1351.4 L1561.5 1350.2 L1562.5 1348.9 L1563.5 1347.6 L1564.5 1346.3 L1565.5 1345.1 L1566.5 1343.8 L1567.5 1342.5 L1568.5 1341.2 L1569.5 1340.0 L1570.5 1338.8 L1571.5 1337.6 L1572.5 1336.5 L1573.5 1335.4 L1574.5 1334.9 L1575.5 1337.2 L1576.5 1339.9 L1577.5 1342.9 L1578.5 1346.2 L1579.5 1349.6 L1580.5 1353.2 L1581.5 1356.8 L1582.5 1360.3 L1583.5 1363.7 L1584.5 1366.9 L1585.5 1369.7 L1586.5 1372.3 L1587.5 1370.2 L1588.5 1366.2 L1589.5 1361.7 L1590.5 1356.8 L1591.5 1351.6 L1592.5 1346.4 L1593.5 1341.4 L1594.5 1336.7 L1595.5 1332.5 L1596.5 1328.9 L1597.5 1330.9 L1598.5 1334.1 L1599.5 1337.8 L1600.5 1341.8 L1601.5 1346.0 L1602.5 1350.1 L1603.5 1354.1 L1604.5 1357.9 L1605.5 1361.2 L1606.5 1364.1 L1607.5 1362.9 L1608.5 1361.4 L1609.5 1359.8 L1610.5 1358.0 L1611.5 1356.2 L1612.5 1354.4 L1613.5 1352.6 L1614.5 1351.0 L1615.5 1349.6 L1616.5 1348.5 L1617.5 1349.2 L1618.5 1350.0 L1619.5 1350.9 L1620.5 1351.8 L1621.5 1352.7 L1622.5 1353.6 L1623.5 1354.5 L1624.5 1355.2 L1625.5 1355.2 L1626.5 1354.5 L1627.5 1353.6 L1628.5 1352.6 L1629.5 1351.6 L1630.5 1350.6 L1631.5 1349.7 L1632.5 1348.8 L1633.5 1348.1 L1634.5 1348.6 L1635.5 1349.7 L1636.5 1351.0 L1637.5 1352.3 L1638.5 1353.7 L1639.5 1355.2 L1640.5 1356.6 L1641.5 1357.9 L1642.5 1359.2 L1643.5 1360.4 L1644.5 1361.4 L1645.5 1361.1 L1646.5 1359.9 L1647.5 1358.6 L1648.5 1357.1 L1649.5 1355.6 L1650.5 1354.1 L1651.5 1352.5 L1652.5 1351.0 L1653.5 1349.6 L1654.5 1348.3 L1655.5 1347.2 L1656.5 1347.1 L1657.5 1347.9 L1658.5 1348.9 L1659.5 1350.0 L1660.5 1351.1 L1661.5 1352.3 L1662.5 1353.5 L1663.5 1354.7 L1664.5 1355.9 L1665.5 1357.2 L1666.5 1358.4 L1667.5 1359.6 L1668.5 1360.7 L1669.5 1361.8 L1670.5 1362.9 L1671.5 1363.8 L1672.5 1364.7 L1673.5 1365.3 L1674.5 1364.2 L1675.5 1363.0 L1676.5 1361.6 L1677.5 1360.2 L1678.5 1358.6 L1679.5 1357.1 L1680.5 1355.5 L1681.5 1354.0 L1682.5 1352.6 L1683.5 1351.3 L1684.5 1350.1 L1685.5 1350.3 L1686.5 1352.2 L1687.5 1354.3 L1688.5 1356.6 L1689.5 1359.1 L1690.5 1361.7 L1691.5 1364.4 L1692.5 1367.1 L1693.5 1369.7 L1694.5 1372.2 L1695.5 1374.5 L1696.5 1376.7 L1697.5 1378.6 L1698.5 1379.2 L1699.5 1377.7 L1700.5 1376.1 L1701.5 1374.3 L1702.5 1372.4 L1703.5 1370.4 L1704.5 1368.4 L1705.5 1366.4 L1706.5 1364.4 L1707.5 1362.5 L1708.5 1360.8 L1709.5 1359.1 L1710.5 1357.7 L1711.5 1357.0 L1712.5 1358.0 L1713.5 1359.1 L1714.5 1360.3 L1715.5 1361.5 L1716.5 1362.8 L1717.5 1364.2 L1718.5 1365.5 L1719.5 1367.0 L1720.5 1368.4 L1721.5 1369.8 L1722.5 1371.2 L1723.5 1372.6 L1724.5 1374.0 L1725.5 1375.3 L1726.5 1376.6 L1727.5 1377.8 L1728.5 1378.9 L1729.5 1379.4 L1730.5 1377.6 L1731.5 1375.6 L1732.5 1373.4 L1733.5 1371.0 L1734.5 1368.5 L1735.5 1366.0 L1736.5 1363.4 L1737.5 1361.0 L1738.5 1358.7 L1739.5 1356.6 L1740.5 1354.7 L1741.5 1356.8 L1742.5 1359.7 L1743.5 1363.0 L1744.5 1366.6 L1745.5 1370.3 L1746.5 1374.2 L1747.5 1378.0 L1748.5 1381.6 L1749.5 1385.0 L1750.5 1388.0 L1751.5 1390.6 L1752.5 1387.4 L1753.5 1383.7 L1754.5 1379.6 L1755.5 1375.1 L1756.5 1370.5 L1757.5 1365.8 L1758.5 1361.3 L1759.5 1357.0 L1760.5 1353.1 L1761.5 1349.6 L1762.5 1349.9 L1763.5 1353.5 L1764.5 1357.6 L1765.5 1362.0 L1766.5 1366.8 L1767.5 1371.7 L1768.5 1376.6 L1769.5 1381.4 L1770.5 1386.0 L1771.5 1390.3 L1772.5 1394.2 L1773.5 1397.6 L1774.5 1396.8 L1775.5 1394.6 L1776.5 1392.2 L1777.5 1389.5 L1778.5 1386.8 L1779.5 1384.0 L1780.5 1381.3 L1781.5 1378.6 L1782.5 1376.2 L1783.5 1374.0 L1784.5 1372.1 L1785.5 1372.9 L1786.5 1374.2 L1787.5 1375.6 L1788.5 1377.1 L1789.5 1378.7 L1790.5 1380.4 L1791.5 1382.1 L1792.5 1383.8 L1793.5 1385.4 L1794.5 1387.1 L1795.5 1388.6 L1796.5 1390.1 L1797.5 1391.5 L1798.5 1392.8 L1799.5 1393.9 L1800.5 1393.1 L1801.5 1392.3 L1802.5 1391.4 L1803.5 1390.5 L1804.5 1389.5 L1805.5 1388.4 L1806.5 1387.4 L1807.5 1386.3 L1808.5 1385.2 L1809.5 1384.1 L1810.5 1383.1 L1811.5 1382.1 L1812.5 1381.2 L1813.5 1380.3 L1814.5 1382.0 L1815.5 1384.2 L1816.5 1386.7 L1817.5 1389.5 L1818.5 1392.4 L1819.5 1395.3 L1820.5 1398.1 L1821.5 1400.7 L1822.5 1403.0 L1823.5 1404.6 L1824.5 1402.3 L1825.5 1399.5 L1826.5 1396.5 L1827.5 1393.2 L1828.5 1389.8 L1829.5 1386.3 L1830.5 1382.9 L1831.5 1379.6 L1832.5 1376.6 L1833.5 1373.9 L1834.5 1372.6 L1835.5 1375.7 L1836.5 1379.3 L1837.5 1383.3 L1838.5 1387.7 L1839.5 1392.1 L1840.5 1396.6 L1841.5 1400.9 L1842.5 1405.0 L1843.5 1408.6 L1844.5 1411.8 L1845.5 1410.4 L1846.5 1407.2 L1847.5 1403.5 L1848.5 1399.6 L1849.5 1395.4 L1850.5 1391.2 L1851.5 1387.1 L1852.5 1383.3 L1853.5 1379.8 L1854.5 1376.7 L1855.5 1376.8 L1856.5 1380.0 L1857.5 1383.6 L1858.5 1387.5 L1859.5 1391.7 L1860.5 1396.0 L1861.5 1400.3 L1862.5 1404.4 L1863.5 1408.2 L1864.5 1411.7 L1865.5 1414.7 L1866.5 1414.7 L1867.5 1412.7 L1868.5 1410.5 L1869.5 1408.1 L1870.5 1405.6 L1871.5 1403.0 L1872.5 1400.6 L1873.5 1398.3 L1874.5 1396.2 L1875.5 1394.4 L1876.5 1395.0 L1877.5 1396.1 L1878.5 1397.4 L1879.5 1398.8 L1880.5 1400.2 L1881.5 1401.7 L1882.5 1403.1 L1883.5 1404.4 L1884.5 1405.7 L1885.5 1406.7 L1886.5 1407.7 L1887.5 1408.2 L1888.5 1408.9 L1889.5 1409.8 L1890.5 1410.6 L1891.5 1411.5 L1892.5 1412.4 L1893.5 1413.2 L1894.5 1413.3 L1895.5 1412.2 L1896.5 1410.8 L1897.5 1409.3 L1898.5 1407.9 L1899.5 1406.7 L1900.5 1407.4 L1901.5 1408.6 L1902.5 1410.0 L1903.5 1411.4 L1904.5 1412.7 L1905.5 1413.8 L1906.5 1414.6 L1907.5 1415.3 L1908.5 1416.1 L1909.5 1417.1 L1910.5 1418.1 L1911.5 1419.2 L1912.5 1420.3 L1913.5 1421.3 L1914.5 1422.2 L1915.5 1423.1 L1916.5 1422.6 L1917.5 1420.6 L1918.5 1418.4 L1919.5 1415.9 L1920.5 1413.3 L1921.5 1410.7 L1922.5 1408.3 L1923.5 1406.1 L1924.5 1404.2 L1925.5 1405.5 L1926.5 1408.0 L1927.5 1410.8 L1928.5 1413.8 L1929.5 1417.0 L1930.5 1420.2 L1931.5 1423.4 L1932.5 1426.5 L1933.5 1429.3 L1934.5 1431.9 L1935.5 1434.2 L1936.5 1432.1 L1937.5 1429.2 L1938.5 1426.0 L1939.5 1422.5 L1940.5 1418.9 L1941.5 1415.1 L1942.5 1411.4 L1943.5 1407.8 L1944.5 1404.4 L1945.5 1401.3 L1946.5 1398.5 L1947.5 1397.9 L1948.5 1400.9 L1949.5 1404.3 L1950.5 1408.0 L1951.5 1412.0 L1952.5 1416.1 L1953.5 1420.3 L1954.5 1424.3 L1955.5 1428.2 L1956.5 1431.8 L1957.5 1434.9 L1958.5 1437.6 L1959.5 1436.4 L1960.5 1435.0 L1961.5 1433.4 L1962.5 1431.8 L1963.5 1430.1 L1964.5 1428.3 L1965.5 1426.6 L1966.5 1424.9 L1967.5 1423.3 L1968.5 1421.8 L1969.5 1420.5 L1970.5 1419.4 L1971.5 1420.6 L1972.5 1421.8 L1973.5 1423.2 L1974.5 1424.6 L1975.5 1426.1 L1976.5 1427.7 L1977.5 1429.3 L1978.5 1430.9 L1979.5 1432.5 L1980.5 1434.1 L1981.5 1435.6 L1982.5 1437.0 L1983.5 1438.4 L1984.5 1439.6 L1985.5 1440.7 L1986.5 1440.1 L1987.5 1438.9 L1988.5 1437.6 L1989.5 1436.3 L1990.5 1434.8 L1991.5 1433.2 L1992.5 1431.6 L1993.5 1430.0 L1994.5 1428.4 L1995.5 1426.8 L1996.5 1425.4 L1997.5 1424.0 L1998.5 1422.7 L1999.5 1421.5 L2000.5 1422.0 L2001.5 1423.5 L2002.5 1425.3 L2003.5 1427.2 L2004.5 1429.3 L2005.5 1431.4 L2006.5 1433.5 L2007.5 1435.5 L2008.5 1437.4 L2009.5 1439.1 L2010.5 1440.6 L2011.5 1440.9 L2012.5 1440.7 L2013.5 1440.6 L2014.5 1440.4 L2015.5 1440.2 L2016.5 1440.1 L2017.5 1440.1 L2018.5 1440.9 L2019.5 1441.9 L2020.5 1443.0 L2021.5 1444.2 L2022.5 1445.3 L2023.5 1446.3 L2024.5 1447.2 L2025.5 1447.1 L2026.5 1446.3 L2027.5 1445.3 L2028.5 1444.3 L2029.5 1443.2 L2030.5 1442.1 L2031.5 1441.0 L2032.5 1440.0 L2033.5 1439.0 L2034.5 1438.1 L2035.5 1437.3 L2036.5 1438.2 L2037.5 1440.1 L2038.5 1442.2 L2039.5 1444.6 L2040.5 1447.1 L2041.5 1449.6 L2042.5 1452.2 L2043.5 1454.8 L2044.5 1457.2 L2045.5 1459.5 L2046.5 1461.6 L2047.5 1463.4 L2048.5 1462.4 L2049.5 1459.8 L2050.5 1456.9 L2051.5 1453.7 L2052.5 1450.5 L2053.5 1447.5 L2054.5 1444.9 L2055.5 1442.8 L2056.5 1442.8 L2057.5 1442.9 L2058.5 1442.9" stroke="#ff6600" stroke-width="6"/>
<path d="M311.5 1245.0 L312.5 1244.8 L313.5 1242.9 L314.5 1240.8 L315.5 1238.4 L316.5 1235.8 L317.5 1233.1 L318.5 1230.4 L319.5 1227.8 L320.5 1225.4 L321.5 1223.3 L322.5 1222.6 L323.5 1225.9 L324.5 1229.7 L325.5 1233.8 L326.5 1238.3 L327.5 1243.0 L328.5 1247.8 L329.5 1252.5 L330.5 1257.1 L331.5 1261.4 L332.5 1265.4 L333.5 1268.9 L334.5 1269.6 L335.5 1265.0 L336.5 1259.8 L337.5 1254.0 L338.5 1247.9 L339.5 1241.5 L340.5 1235.0 L341.5 1228.6 L342.5 1222.4 L343.5 1216.7 L344.5 1211.5 L345.5 1206.9 L346.5 1208.4 L347.5 1212.6 L348.5 1217.4 L349.5 1222.5 L350.5 1228.0 L351.5 1233.6 L352.5 1239.2 L353.5 1244.6 L354.5 1249.7 L355.5 1254.3 L356.5 1258.3 L357.5 1258.7 L358.5 1256.5 L359.5 1254.0 L360.5 1251.3 L361.5 1248.4 L362.5 1245.4 L363.5 1242.4 L364.5 1239.4 L365.5 1236.4 L366.5 1233.6 L367.5 1231.0 L368.5 1228.6 L369.5 1226.4 L370.5 1225.9 L371.5 1227.4 L372.5 1229.0 L373.5 1230.7 L374.5 1232.6 L375.5 1234.5 L376.5 1236.4 L377.5 1238.4 L378.5 1240.4 L379.5 1242.4 L380.5 1244.3 L381.5 1246.2 L382.5 1248.0 L383.5 1249.6 L384.5 1251.2 L385.5 1252.2 L386.5 1249.7 L387.5 1246.8 L388.5 1243.7 L389.5 1240.3 L390.5 1236.7 L391.5 1233.0 L392.5 1229.2 L393.5 1225.5 L394.5 1221.9 L395.5 1218.5 L396.5 1215.4 L397.5 1212.6 L398.5 1211.4 L399.5 1214.9 L400.5 1219.0 L401.5 1223.5 L402.5 1228.4 L403.5 1233.4 L404.5 1238.5 L405.5 1243.4 L406.5 1248.1 L407.5 1252.3 L408.5 1256.0 L409.5 1255.4 L410.5 1251.6 L411.5 1247.3 L412.5 1242.6 L413.5 1237.6 L414.5 1232.5 L415.5 1227.4 L416.5 1222.5 L417.5 1218.0 L418.5 1213.9 L419.5 1210.4 L420.5 1213.2 L421.5 1216.7 L422.5 1220.7 L423.5 1225.0 L424.5 1229.5 L425.5 1234.1 L426.5 1238.5 L427.5 1242.8 L428.5 1246.8 L429.5 1250.3 L430.5 1253.0 L431.5 1250.3 L432.5 1247.2 L433.5 1243.7 L434.5 1240.0 L435.5 1236.1 L436.5 1232.3 L437.5 1228.5 L438.5 1224.9 L439.5 1221.6 L440.5 1218.8 L441.5 1218.1 L442.5 1220.3 L443.5 1222.8 L444.5 1225.5 L445.5 1228.4 L446.5 1231.4 L447.5 1234.4 L448.5 1237.3 L449.5 1240.1 L450.5 1242.6 L451.5 1244.8 L452.5 1246.0 L453.5 1245.1 L454.5 1244.1 L455.5 1242.9 L456.5 1241.8 L457.5 1240.5 L458.5 1239.3 L459.5 1238.0 L460.5 1236.8 L461.5 1235.5 L462.5 1234.4 L463.5 1233.2 L464.5 1232.2 L465.5 1231.2 L466.5 1230.6 L467.5 1231.4 L468.5 1232.4 L469.5 1233.4 L470.5 1234.4 L471.5 1235.6 L472.5 1236.7 L473.5 1237.9 L474.5 1239.0 L475.5 1240.1 L476.5 1241.1 L477.5 1242.0 L478.5 1242.2 L479.5 1241.1 L480.5 1239.7 L481.5 1238.3 L482.5 1236.7 L483.5 1235.1 L484.5 1233.4 L485.5 1231.8 L486.5 1230.2 L487.5 1228.7 L488.5 1227.3 L489.5 1226.0 L490.5 1226.0 L491.5 1227.8 L492.5 1229.8 L493.5 1232.1 L494.5 1234.5 L495.5 1236.9 L496.5 1239.3 L497.5 1241.6 L498.5 1243.6 L499.5 1245.4 L500.5 1245.5 L501.5 1243.9 L502.5 1242.0 L503.5 1240.0 L504.5 1237.9 L505.5 1235.6 L506.5 1233.4 L507.5 1231.2 L508.5 1229.0 L509.5 1227.0 L510.5 1225.2 L511.5 1223.6 L512.5 1223.3 L513.5 1225.3 L514.5 1227.4 L515.5 1229.8 L516.5 1232.4 L517.5 1235.0 L518.5 1237.7 L519.5 1240.4 L520.5 1243.1 L521.5 1245.7 L522.5 1248.1 L523.5 1250.3 L524.5 1252.3 L525.5 1253.0 L526.5 1249.9 L527.5 1246.5 L528.5 1242.7 L529.5 1238.6 L530.5 1234.3 L531.5 1230.0 L532.5 1225.6 L533.5 1221.4 L534.5 1217.4 L535.5 1213.6 L536.5 1210.2 L537.5 1207.2 L538.5 1209.7 L539.5 1213.2 L540.5 1217.2 L541.5 1221.5 L542.5 1226.0 L543.5 1230.7 L544.5 1235.4 L545.5 1240.1 L546.5 1244.5 L547.5 1248.7 L548.5 1252.5 L549.5 1255.9 L550.5 1256.0 L551.5 1252.8 L552.5 1249.3 L553.5 1245.5 L554.5 1241.4 L555.5 1237.1 L556.5 1232.7 L557.5 1228.4 L558.5 1224.2 L559.5 1220.3 L560.5 1216.6 L561.5 1213.4 L562.5 1211.0 L563.5 1213.1 L564.5 1215.4 L565.5 1217.9 L566.5 1220.6 L567.5 1223.4 L568.5 1226.4 L569.5 1229.4 L570.5 1232.5 L571.5 1235.5 L572.5 1238.4 L573.5 1241.2 L574.5 1243.8 L575.5 1246.3 L576.5 1248.5 L577.5 1249.7 L578.5 1248.7 L579.5 1247.6 L580.5 1246.4 L581.5 1245.1 L582.5 1243.7 L583.5 1242.3 L584.5 1240.9 L585.5 1239.4 L586.5 1238.1 L587.5 1236.8 L588.5 1235.6 L589.5 1234.5 L590.5 1234.4 L591.5 1235.8 L592.5 1237.4 L593.5 1239.2 L594.5 1241.1 L595.5 1243.1 L596.5 1245.1 L597.5 1247.2 L598.5 1249.3 L599.5 1251.2 L600.5 1253.1 L601.5 1254.8 L602.5 1256.4 L603.5 1256.9 L604.5 1254.9 L605.5 1252.5 L606.5 1250.0 L607.5 1247.2 L608.5 1244.4 L609.5 1241.6 L610.5 1238.8 L611.5 1236.3 L612.5 1234.0 L613.5 1232.0 L614.5 1233.4 L615.5 1235.4 L616.5 1237.6 L617.5 1240.0 L618.5 1242.5 L619.5 1245.1 L620.5 1247.7 L621.5 1250.2 L622.5 1252.5 L623.5 1254.7 L624.5 1256.5 L625.5 1256.7 L626.5 1255.2 L627.5 1253.4 L628.5 1251.5 L629.5 1249.5 L630.5 1247.4 L631.5 1245.5 L632.5 1243.7 L633.5 1242.2 L634.5 1241.5 L635.5 1242.2 L636.5 1242.9 L637.5 1243.8 L638.5 1244.6 L639.5 1245.5 L640.5 1246.4 L641.5 1247.3 L642.5 1248.1 L643.5 1248.9 L644.5 1249.5 L645.5 1249.9 L646.5 1249.6 L647.5 1249.3 L648.5 1248.9 L649.5 1248.6 L650.5 1248.3 L651.5 1248.1 L652.5 1247.9 L653.5 1247.7 L654.5 1247.5 L655.5 1247.3 L656.5 1247.1 L657.5 1246.9 L658.5 1246.8 L659.5 1246.7 L660.5 1246.6 L661.5 1246.5 L662.5 1246.3 L663.5 1246.2 L664.5 1246.1 L665.5 1245.9 L666.5 1245.9 L667.5 1246.5 L668.5 1247.3 L669.5 1248.1 L670.5 1248.9 L671.5 1249.8 L672.5 1250.7 L673.5 1251.5 L674.5 1252.1 L675.5 1252.0 L676.5 1251.1 L677.5 1250.1 L678.5 1248.9 L679.5 1247.7 L680.5 1246.4 L681.5 1245.1 L682.5 1243.9 L683.5 1242.7 L684.5 1241.7 L685.5 1240.8 L686.5 1241.8 L687.5 1243.3 L688.5 1245.1 L689.5 1247.0 L690.5 1248.9 L691.5 1250.9 L692.5 1252.7 L693.5 1254.3 L694.5 1255.8 L695.5 1255.4 L696.5 1254.0 L697.5 1252.6 L698.5 1251.0 L699.5 1249.2 L700.5 1247.5 L701.5 1245.8 L702.5 1244.2 L703.5 1242.7 L704.5 1241.4 L705.5 1241.0 L706.5 1242.5 L707.5 1244.2 L708.5 1246.1 L709.5 1248.1 L710.5 1250.2 L711.5 1252.3 L712.5 1254.3 L713.5 1256.2 L714.5 1257.9 L715.5 1259.4 L716.5 1259.0 L717.5 1257.6 L718.5 1255.9 L719.5 1254.2 L720.5 1252.3 L721.5 1250.4 L722.5 1248.5 L723.5 1246.6 L724.5 1244.8 L725.5 1243.2 L726.5 1241.7 L727.5 1240.5 L728.5 1241.6 L729.5 1242.8 L730.5 1244.2 L731.5 1245.6 L732.5 1247.2 L733.5 1248.7 L734.5 1250.3 L735.5 1251.8 L736.5 1253.3 L737.5 1254.7 L738.5 1255.9 L739.5 1257.0 L740.5 1256.8 L741.5 1255.8 L742.5 1254.7 L743.5 1253.5 L744.5 1252.3 L745.5 1251.0 L746.5 1249.7 L747.5 1248.4 L748.5 1247.0 L749.5 1245.8 L750.5 1244.5 L751.5 1243.4 L752.5 1242.3 L753.5 1241.3 L754.5 1241.1 L755.5 1242.7 L756.5 1244.5 L757.5 1246.5 L758.5 1248.6 L759.5 1250.8 L760.5 1253.0 L761.5 1255.3 L762.5 1257.4 L763.5 1259.5 L764.5 1261.4 L765.5 1263.2 L766.5 1264.7 L767.5 1262.9 L768.5 1260.5 L769.5 1257.9 L770.5 1255.0 L771.5 1252.0 L772.5 1248.8 L773.5 1245.7 L774.5 1242.6 L775.5 1239.5 L776.5 1236.7 L777.5 1234.0 L778.5 1231.7 L779.5 1229.7 L780.5 1231.8 L781.5 1234.1 L782.5 1236.6 L783.5 1239.3 L784.5 1242.2 L785.5 1245.1 L786.5 1248.1 L787.5 1251.1 L788.5 1254.0 L789.5 1256.7 L790.5 1259.2 L791.5 1261.4 L792.5 1263.4 L793.5 1262.5 L794.5 1261.3 L795.5 1260.0 L796.5 1258.6 L797.5 1257.1 L798.5 1255.6 L799.5 1253.9 L800.5 1252.3 L801.5 1250.7 L802.5 1249.0 L803.5 1247.4 L804.5 1245.8 L805.5 1244.3 L806.5 1242.8 L807.5 1241.5 L808.5 1240.2 L809.5 1239.0 L810.5 1240.2 L811.5 1242.1 L812.5 1244.3 L813.5 1246.7 L814.5 1249.2 L815.5 1251.8 L816.5 1254.5 L817.5 1257.1 L818.5 1259.7 L819.5 1262.1 L820.5 1264.3 L821.5 1266.3 L822.5 1266.2 L823.5 1263.4 L824.5 1260.1 L825.5 1256.5 L826.5 1252.7 L827.5 1248.7 L828.5 1244.7 L829.5 1240.8 L830.5 1237.1 L831.5 1233.7 L832.5 1230.7 L833.5 1229.5 L834.5 1232.1 L835.5 1235.1 L836.5 1238.5 L837.5 1242.1 L838.5 1245.8 L839.5 1249.5 L840.5 1253.2 L841.5 1256.7 L842.5 1259.8 L843.5 1262.7 L844.5 1264.6 L845.5 1263.0 L846.5 1261.1 L847.5 1259.0 L848.5 1256.8 L849.5 1254.5 L850.5 1252.3 L851.5 1250.2 L852.5 1248.3 L853.5 1246.7 L854.5 1247.5 L855.5 1249.2 L856.5 1251.3 L857.5 1253.4 L858.5 1255.4 L859.5 1257.2 L860.5 1258.6 L861.5 1257.6 L862.5 1256.5 L863.5 1255.2 L864.5 1253.8 L865.5 1252.5 L866.5 1251.3 L867.5 1250.2 L868.5 1250.7 L869.5 1252.2 L870.5 1253.9 L871.5 1255.8 L872.5 1257.9 L873.5 1259.9 L874.5 1261.9 L875.5 1263.8 L876.5 1265.5 L877.5 1266.9 L878.5 1266.0 L879.5 1263.9 L880.5 1261.5 L881.5 1258.9 L882.5 1256.2 L883.5 1253.5 L884.5 1250.8 L885.5 1248.3 L886.5 1246.1 L887.5 1244.2 L888.5 1245.2 L889.5 1247.1 L890.5 1249.1 L891.5 1251.4 L892.5 1253.8 L893.5 1256.2 L894.5 1258.7 L895.5 1261.0 L896.5 1263.1 L897.5 1265.1 L898.5 1266.8 L899.5 1267.0 L900.5 1266.4 L901.5 1265.8 L902.5 1265.1 L903.5 1264.4 L904.5 1263.7 L905.5 1263.0 L906.5 1262.4 L907.5 1261.8 L908.5 1261.4 L909.5 1261.3 L910.5 1261.3 L911.5 1261.3 L912.5 1261.2 L913.5 1261.2 L914.5 1261.2 L915.5 1261.2 L916.5 1261.1 L917.5 1261.1 L918.5 1261.6 L919.5 1262.1 L920.5 1262.8 L921.5 1263.4 L922.5 1264.1 L923.5 1264.7 L924.5 1265.2 L925.5 1265.2 L926.5 1265.2 L927.5 1265.1 L928.5 1265.1 L929.5 1265.0 L930.5 1265.0 L931.5 1264.9 L932.5 1264.9 L933.5 1264.8 L934.5 1264.4 L935.5 1263.9 L936.5 1263.4 L937.5 1262.8 L938.5 1262.2 L939.5 1261.6 L940.5 1261.0 L941.5 1260.4 L942.5 1259.9 L943.5 1259.4 L944.5 1259.0 L945.5 1259.0 L946.5 1259.1 L947.5 1259.1 L948.5 1259.2 L949.5 1259.3 L950.5 1259.4 L951.5 1259.9 L952.5 1260.8 L953.5 1261.9 L954.5 1263.0 L955.2 1263.8 L955.5 1264.1 L956.5 1265.1 L957.5 1266.1 L958.5 1266.5 L959.5 1266.2 L960.5 1265.7 L961.5 1265.3 L962.5 1264.8 L963.5 1264.4 L964.5 1263.9 L965.5 1263.6 L966.5 1263.5 L967.5 1263.4 L968.5 1263.2 L969.5 1263.1 L970.5 1263.0 L971.5 1262.8 L972.5 1262.7 L973.5 1262.5 L974.5 1262.4 L975.5 1262.3 L976.5 1262.2 L977.5 1262.1 L978.5 1262.3 L979.5 1262.8 L980.5 1263.4 L981.5 1264.0 L982.5 1264.6 L983.5 1265.3 L984.5 1266.0 L985.5 1266.7 L986.5 1267.4 L987.5 1268.1 L988.5 1268.7 L989.5 1269.3 L990.5 1269.9 L991.5 1270.4 L992.5 1270.9 L993.5 1270.4 L994.5 1269.4 L995.5 1268.2 L996.5 1267.0 L997.5 1265.6 L998.5 1264.3 L999.5 1262.8 L1000.5 1261.4 L1001.5 1259.9 L1002.5 1258.5 L1003.5 1257.2 L1004.5 1255.9 L1005.5 1254.7 L1006.5 1253.6 L1007.3 1252.8 L1007.5 1252.6 L1008.5 1253.6 L1009.5 1255.4 L1010.5 1257.4 L1011.5 1259.6 L1012.5 1262.0 L1013.5 1264.4 L1014.5 1266.8 L1015.5 1269.2 L1016.5 1271.6 L1017.5 1273.7 L1018.5 1275.7 L1019.5 1277.5 L1020.5 1277.8 L1021.5 1276.0 L1022.5 1274.0 L1023.5 1271.8 L1024.5 1269.4 L1025.5 1266.9 L1026.5 1264.5 L1027.5 1262.0 L1028.5 1259.7 L1029.5 1257.6 L1030.5 1255.8 L1031.5 1254.9 L1032.5 1256.5 L1033.5 1258.3 L1034.5 1260.2 L1035.5 1262.3 L1036.5 1264.5 L1037.5 1266.7 L1038.5 1269.0 L1039.5 1271.1 L1040.5 1273.2 L1041.5 1275.1 L1042.5 1276.8 L1043.5 1278.3 L1044.5 1277.7 L1045.5 1276.7 L1046.5 1275.6 L1047.5 1274.5 L1048.5 1273.3 L1049.5 1272.1 L1050.5 1270.8 L1051.5 1269.6 L1052.5 1268.3 L1053.5 1267.0 L1054.5 1265.8 L1055.5 1264.6 L1056.5 1263.5 L1057.5 1262.4 L1058.5 1261.4 L1059.5 1260.5 L1060.5 1261.3 L1061.5 1262.6 L1062.5 1264.1 L1063.5 1265.7 L1064.5 1267.4 L1065.5 1269.2 L1066.2 1270.4 L1066.5 1271.0 L1067.5 1272.8 L1068.5 1274.7 L1069.5 1276.4 L1070.5 1278.1 L1071.5 1279.7 L1072.5 1281.1 L1073.5 1281.8 L1074.5 1279.3 L1075.5 1276.5 L1076.5 1273.3 L1077.5 1269.9 L1078.5 1266.5 L1079.5 1263.2 L1080.5 1260.2 L1081.5 1257.5 L1082.5 1257.4 L1083.5 1259.6 L1084.5 1262.0 L1085.5 1264.6 L1086.5 1267.4 L1087.5 1270.3 L1088.5 1273.3 L1089.5 1276.2 L1090.5 1279.1 L1091.5 1281.8 L1092.5 1284.3 L1093.5 1286.6 L1094.5 1288.0 L1095.5 1285.2 L1096.5 1281.9 L1097.5 1278.3 L1098.5 1274.4 L1099.5 1270.4 L1100.5 1266.4 L1101.5 1262.6 L1102.5 1259.1 L1103.5 1256.0 L1104.5 1254.6 L1105.5 1257.4 L1106.5 1260.5 L1107.5 1264.1 L1108.5 1267.8 L1109.5 1271.8 L1110.5 1275.7 L1111.5 1279.6 L1112.5 1283.3 L1113.5 1286.7 L1114.5 1289.7 L1115.5 1291.8 L1116.5 1289.4 L1117.5 1286.6 L1118.5 1283.5 L1119.5 1280.1 L1120.5 1276.6 L1121.5 1273.1 L1122.5 1269.6 L1123.5 1266.3 L1124.5 1263.2 L1125.5 1260.5 L1126.5 1258.1 L1127.5 1260.9 L1128.5 1264.4 L1128.6 1264.7 L1129.5 1268.3 L1130.5 1272.4 L1131.5 1276.5 L1132.5 1280.2 L1133.5 1283.4 L1134.5 1284.3 L1135.5 1283.6 L1136.5 1282.8 L1137.5 1282.0 L1138.5 1281.1 L1139.5 1280.2 L1140.5 1279.3 L1141.5 1278.5 L1142.5 1277.8 L1143.5 1277.2 L1144.5 1277.2 L1145.5 1277.5 L1146.5 1277.9 L1147.5 1278.3 L1148.5 1278.8 L1149.5 1279.1 L1150.5 1279.5 L1151.5 1279.6 L1152.5 1279.3 L1153.5 1279.0 L1154.5 1278.5 L1155.5 1278.1 L1156.5 1277.7 L1157.5 1277.2 L1158.5 1276.8 L1159.5 1276.5 L1160.5 1276.7 L1161.5 1277.4 L1162.5 1278.2 L1163.5 1279.1 L1164.5 1280.1 L1165.5 1281.1 L1166.5 1282.1 L1167.5 1283.0 L1168.5 1283.9 L1169.5 1284.8 L1170.5 1285.5 L1171.5 1285.5 L1172.5 1284.5 L1173.5 1283.3 L1174.5 1282.1 L1175.5 1280.8 L1176.5 1279.5 L1177.5 1278.4 L1178.5 1277.5 L1179.5 1277.9 L1180.5 1278.4 L1181.5 1279.0 L1182.5 1279.6 L1183.5 1280.3 L1184.5 1280.9 L1185.5 1281.6 L1186.5 1282.3 L1187.5 1282.9 L1188.5 1283.5 L1189.5 1284.0 L1190.5 1284.5 L1191.5 1284.6 L1192.5 1284.4 L1193.5 1284.3 L1194.5 1284.2 L1195.5 1284.1 L1196.5 1284.0 L1197.5 1283.8 L1198.5 1283.7 L1199.5 1283.6 L1200.5 1283.5 L1201.5 1283.5 L1202.5 1283.4 L1203.5 1283.3 L1204.5 1283.2 L1205.5 1283.2 L1206.5 1283.1 L1207.5 1283.4 L1208.5 1284.3 L1209.5 1285.3 L1210.5 1286.4 L1211.5 1287.4 L1212.5 1288.3 L1213.5 1288.9 L1214.5 1289.2 L1215.5 1289.6 L1216.5 1290.0 L1217.5 1290.4 L1218.5 1290.9 L1219.5 1291.4 L1220.5 1291.8 L1221.5 1292.3 L1222.5 1292.7 L1223.5 1293.0 L1224.5 1293.2 L1225.5 1292.5 L1226.5 1291.8 L1227.5 1291.0 L1228.5 1290.2 L1229.5 1289.3 L1230.5 1288.4 L1231.5 1287.5 L1232.5 1286.6 L1233.5 1285.7 L1234.5 1285.0 L1235.5 1284.3 L1236.5 1283.7 L1237.5 1283.9 L1238.5 1284.4 L1239.5 1284.9 L1240.5 1285.5 L1241.5 1286.1 L1242.5 1286.7 L1243.5 1287.3 L1244.5 1287.9 L1245.5 1288.6 L1246.5 1289.2 L1247.5 1289.9 L1248.5 1290.5 L1249.5 1291.1 L1250.5 1291.6 L1251.5 1292.1 L1252.5 1292.6 L1253.5 1293.1 L1254.5 1292.9 L1255.5 1291.9 L1256.5 1290.9 L1257.5 1289.7 L1258.5 1288.5 L1259.5 1287.2 L1260.5 1285.9 L1261.5 1284.6 L1262.5 1283.2 L1263.5 1282.0 L1264.5 1280.8 L1265.5 1279.6 L1266.5 1278.6 L1267.5 1277.7 L1268.5 1279.1 L1269.5 1281.1 L1270.5 1283.3 L1271.5 1285.8 L1272.5 1288.3 L1273.5 1290.8 L1274.5 1293.3 L1275.5 1295.6 L1276.5 1297.7 L1277.2 1298.9 L1277.5 1299.4 L1278.5 1299.2 L1279.5 1298.8 L1280.5 1298.4 L1281.5 1298.0 L1282.5 1297.5 L1283.5 1297.1 L1284.5 1296.8 L1285.5 1296.7 L1286.5 1296.8 L1287.5 1296.8 L1288.5 1296.9 L1289.5 1297.0 L1290.5 1297.1 L1291.5 1297.2 L1292.5 1297.3 L1293.5 1297.2 L1294.5 1296.1 L1295.5 1294.8 L1296.5 1293.4 L1297.5 1291.8 L1298.5 1290.2 L1299.5 1288.5 L1300.5 1286.9 L1301.5 1285.3 L1302.5 1283.9 L1303.5 1282.6 L1304.5 1281.4 L1305.5 1283.6 L1306.5 1286.4 L1307.5 1289.6 L1308.5 1293.0 L1309.5 1296.5 L1310.5 1300.1 L1311.5 1303.5 L1312.5 1306.6 L1313.5 1309.4 L1314.5 1311.7 L1315.5 1309.6 L1316.5 1307.2 L1317.5 1304.5 L1318.5 1301.7 L1319.5 1298.7 L1320.5 1295.6 L1321.5 1292.5 L1322.5 1289.5 L1323.5 1286.7 L1324.5 1284.2 L1325.5 1281.8 L1326.5 1280.5 L1327.5 1283.2 L1328.5 1286.3 L1329.5 1289.7 L1330.5 1293.4 L1331.5 1297.2 L1332.5 1301.0 L1333.5 1304.7 L1334.5 1308.1 L1335.5 1311.1 L1336.5 1313.8 L1337.5 1313.8 L1338.5 1313.1 L1339.5 1312.4 L1340.5 1311.7 L1341.5 1310.9 L1342.5 1310.1 L1343.5 1309.3 L1344.5 1308.5 L1345.5 1307.6 L1346.5 1306.8 L1347.5 1306.0 L1348.5 1305.1 L1349.5 1304.3 L1350.5 1303.5 L1351.5 1302.6 L1352.5 1301.8 L1353.5 1301.0 L1354.5 1300.3 L1355.5 1299.6 L1356.5 1298.9 L1357.5 1298.2 L1358.5 1299.6 L1359.5 1302.1 L1360.5 1305.0 L1361.5 1308.1 L1362.5 1311.4 L1363.5 1314.7 L1364.5 1318.0 L1365.5 1321.0 L1366.5 1323.8 L1367.5 1326.1 L1368.5 1324.0 L1369.5 1320.4 L1370.5 1316.5 L1371.5 1312.2 L1372.5 1307.7 L1373.5 1303.1 L1374.5 1298.5 L1375.5 1294.0 L1376.5 1289.9 L1377.5 1286.1 L1378.5 1282.8 L1379.5 1284.1 L1380.0 1285.9 L1380.5 1287.8 L1381.5 1292.1 L1382.5 1296.7 L1383.5 1301.6 L1384.5 1306.6 L1385.5 1311.7 L1386.5 1316.5 L1387.5 1321.0 L1388.5 1325.2 L1389.5 1328.8 L1390.5 1329.4 L1391.5 1327.5 L1392.5 1325.5 L1393.5 1323.2 L1394.5 1320.8 L1395.5 1318.4 L1396.5 1316.0 L1397.5 1313.8 L1398.5 1311.7 L1399.5 1310.0 L1400.5 1310.3 L1401.5 1311.9 L1402.5 1313.7 L1403.5 1315.6 L1404.5 1317.6 L1405.5 1319.7 L1406.5 1321.7 L1407.5 1323.5 L1408.5 1325.2 L1409.5 1326.6 L1410.5 1326.6 L1411.5 1321.7 L1412.5 1312.5" stroke="#ff99cc" stroke-width="8"/>
<path d="M1412.5 1312.5 L1413.5 1303.3 L1414.5 1294.2 L1415.5 1285.0 L1416.5 1275.8 L1417.5 1266.6 L1418.5 1259.2 L1419.5 1253.6 L1420.5 1247.9 L1421.5 1242.3 L1422.5 1236.7 L1423.5 1231.1 L1424.5 1225.5 L1425.5 1219.8 L1426.5 1214.2 L1427.5 1208.6 L1428.5 1203.0 L1429.5 1197.4 L1430.5 1191.7 L1431.5 1186.1 L1432.5 1180.5 L1433.5 1177.2 L1434.5 1183.0 L1435.5 1188.9 L1436.5 1194.7 L1437.5 1200.6 L1438.5 1206.4 L1439.5 1212.3 L1440.5 1218.1 L1441.5 1224.0 L1442.5 1229.8 L1443.5 1235.7 L1444.5 1241.5 L1445.5 1247.4 L1446.5 1253.2 L1447.5 1259.1 L1448.5 1264.9 L1449.5 1270.8 L1450.5 1276.7 L1451.5 1282.5 L1452.5 1288.4 L1453.5 1294.3 L1454.5 1300.1 L1455.5 1306.0 L1456.5 1303.8 L1457.5 1301.6 L1458.5 1299.3 L1459.5 1297.1 L1460.5 1292.0 L1461.5 1284.0 L1462.5 1276.0 L1463.5 1271.2 L1464.5 1269.5 L1465.5 1267.8 L1466.5 1266.2 L1467.5 1264.5 L1468.5 1262.8 L1469.5 1261.5 L1470.5 1260.6 L1471.5 1259.6 L1472.5 1258.7 L1473.5 1257.7 L1474.5 1256.8 L1475.5 1254.0 L1476.5 1244.2 L1477.5 1234.4 L1478.5 1224.6 L1479.5 1214.7 L1480.5 1204.9 L1481.5 1193.9 L1482.5 1181.8 L1483.5 1169.7 L1484.5 1157.5 L1485.5 1145.4 L1486.5 1133.2 L1487.5 1121.1 L1488.5 1109.0 L1489.5 1096.8 L1490.5 1084.7 L1491.5 1072.6 L1492.5 1060.4 L1493.5 1073.8 L1494.5 1093.7 L1495.5 1113.5 L1496.5 1133.3 L1497.5 1153.1 L1498.5 1172.9 L1499.5 1192.7 L1500.5 1212.5 L1501.5 1232.3 L1502.5 1252.1 L1503.5 1266.3 L1504.5 1274.9 L1505.5 1283.4 L1506.5 1292.0 L1507.5 1300.6 L1508.5 1309.1 L1509.5 1317.7 L1510.5 1323.4 L1511.5 1326.2 L1512.5 1329.0 L1513.5 1331.8" stroke="#ff99cc" stroke-width="5.2"/>
<path d="M1513.5 1331.8 L1514.5 1331.6 L1515.5 1328.4 L1516.5 1325.2 L1517.5 1322.3 L1518.5 1319.6 L1519.5 1317.2 L1520.5 1318.2 L1521.5 1321.7 L1522.5 1325.7 L1523.5 1330.0 L1524.5 1334.6 L1525.5 1339.3 L1526.5 1344.1 L1527.5 1348.6 L1528.5 1353.0 L1529.5 1356.9 L1530.5 1360.4 L1531.5 1360.3 L1532.5 1356.1 L1533.5 1351.2 L1534.5 1346.0 L1535.5 1340.3 L1536.5 1334.5 L1537.5 1328.7 L1538.5 1323.0 L1539.5 1317.7 L1540.5 1312.8 L1541.5 1308.4 L1542.5 1306.8 L1543.5 1310.0 L1544.5 1313.7 L1545.5 1317.8 L1546.5 1322.1 L1547.5 1326.6 L1548.5 1331.2 L1549.5 1335.8 L1550.5 1340.3 L1551.5 1344.5 L1552.5 1348.3 L1553.5 1351.8 L1554.5 1354.9 L1555.5 1354.2 L1556.5 1353.2 L1557.5 1352.2 L1558.5 1351.1 L1559.5 1350.0 L1560.5 1348.9 L1561.5 1347.7 L1562.5 1346.5 L1563.5 1345.2 L1564.5 1344.0 L1565.5 1342.7 L1566.5 1341.5 L1567.5 1340.3 L1568.5 1339.1 L1569.5 1337.9 L1570.5 1336.7 L1571.5 1335.6 L1572.5 1334.6 L1573.5 1333.6 L1574.5 1333.1 L1575.5 1335.4 L1576.5 1338.0 L1577.5 1340.9 L1578.5 1344.0 L1579.5 1347.4 L1580.5 1350.8 L1581.5 1354.2 L1582.5 1357.6 L1583.5 1360.9 L1584.5 1363.9 L1585.5 1366.6 L1586.5 1369.1 L1587.5 1367.0 L1588.5 1363.2 L1589.5 1358.9 L1590.5 1354.2 L1591.5 1349.3 L1592.5 1344.3 L1593.5 1339.5 L1594.5 1335.0 L1595.5 1331.0 L1596.5 1327.5 L1597.5 1329.4 L1598.5 1332.5 L1599.5 1336.1 L1600.5 1339.9 L1601.5 1343.9 L1602.5 1347.9 L1603.5 1351.8 L1604.5 1355.3 L1605.5 1358.5 L1606.5 1361.3 L1607.5 1360.2 L1608.5 1358.8 L1609.5 1357.2 L1610.5 1355.5 L1611.5 1353.8 L1612.5 1352.0 L1613.5 1350.3 L1614.5 1348.8 L1615.5 1347.4 L1616.5 1346.4 L1617.5 1347.0 L1618.5 1347.8 L1619.5 1348.6 L1620.5 1349.5 L1621.5 1350.4 L1622.5 1351.3 L1623.5 1352.1 L1624.5 1352.7 L1625.5 1352.8 L1626.5 1352.1 L1627.5 1351.3 L1628.5 1350.3 L1629.5 1349.4 L1630.5 1348.4 L1631.5 1347.5 L1632.5 1346.7 L1633.5 1346.0 L1634.5 1346.6 L1635.5 1347.6 L1636.5 1348.8 L1637.5 1350.1 L1638.5 1351.4 L1639.5 1352.8 L1640.5 1354.1 L1641.5 1355.5 L1642.5 1356.7 L1643.5 1357.8 L1644.5 1358.8 L1645.5 1358.5 L1646.5 1357.4 L1647.5 1356.1 L1648.5 1354.7 L1649.5 1353.3 L1650.5 1351.8 L1651.5 1350.3 L1652.5 1348.9 L1653.5 1347.5 L1654.5 1346.3 L1655.5 1345.2 L1656.5 1345.1 L1657.5 1345.9 L1658.5 1346.9 L1659.5 1347.9 L1660.5 1348.9 L1661.5 1350.1 L1662.5 1351.2 L1663.5 1352.4 L1664.5 1353.6 L1665.5 1354.8 L1666.5 1356.0 L1667.5 1357.2 L1668.5 1358.3 L1669.5 1359.4 L1670.5 1360.4 L1671.5 1361.3 L1672.5 1362.2 L1673.5 1362.7 L1674.5 1361.7 L1675.5 1360.5 L1676.5 1359.2 L1677.5 1357.8 L1678.5 1356.3 L1679.5 1354.8 L1680.5 1353.3 L1681.5 1351.9 L1682.5 1350.6 L1683.5 1349.3 L1684.5 1348.2 L1685.5 1348.4 L1686.5 1350.2 L1687.5 1352.2 L1688.5 1354.5 L1689.5 1356.9 L1690.5 1359.4 L1691.5 1361.9 L1692.5 1364.5 L1693.5 1367.0 L1694.5 1369.5 L1695.5 1371.7 L1696.5 1373.8 L1697.5 1375.6 L1698.5 1376.2 L1699.5 1374.8 L1700.5 1373.3 L1701.5 1371.6 L1702.5 1369.8 L1703.5 1367.9 L1704.5 1365.9 L1705.5 1364.0 L1706.5 1362.1 L1707.5 1360.3 L1708.5 1358.6 L1709.5 1357.0 L1710.5 1355.6 L1711.5 1355.0 L1712.5 1356.0 L1713.5 1357.0 L1714.5 1358.1 L1715.5 1359.3 L1716.5 1360.6 L1717.5 1361.9 L1718.5 1363.3 L1719.5 1364.6 L1720.5 1366.0 L1721.5 1367.4 L1722.5 1368.8 L1723.5 1370.1 L1724.5 1371.5 L1725.5 1372.7 L1726.5 1373.9 L1727.5 1375.1 L1728.5 1376.1 L1729.5 1376.5 L1730.5 1374.9 L1731.5 1373.0 L1732.5 1370.8 L1733.5 1368.5 L1734.5 1366.1 L1735.5 1363.6 L1736.5 1361.2 L1737.5 1358.8 L1738.5 1356.7 L1739.5 1354.7 L1740.5 1352.9 L1741.5 1354.9 L1742.5 1357.7 L1743.5 1360.9 L1744.5 1364.3 L1745.5 1368.0 L1746.5 1371.7 L1747.5 1375.3 L1748.5 1378.8 L1749.5 1382.1 L1750.5 1385.0 L1751.5 1387.5 L1752.5 1384.4 L1753.5 1380.9 L1754.5 1376.9 L1755.5 1372.7 L1756.5 1368.2 L1757.5 1363.7 L1758.5 1359.4 L1759.5 1355.2 L1760.5 1351.5 L1761.5 1348.2 L1762.5 1348.5 L1763.5 1352.0 L1764.5 1355.9 L1765.5 1360.2 L1766.5 1364.7 L1767.5 1369.4 L1768.5 1374.1 L1769.5 1378.8 L1770.5 1383.2 L1771.5 1387.3 L1772.5 1391.1 L1773.5 1394.3 L1774.5 1393.6 L1775.5 1391.5 L1776.5 1389.2 L1777.5 1386.7 L1778.5 1384.1 L1779.5 1381.4 L1780.5 1378.8 L1781.5 1376.2 L1782.5 1373.9 L1783.5 1371.8 L1784.5 1370.0 L1785.5 1370.8 L1786.5 1372.0 L1787.5 1373.4 L1788.5 1374.9 L1789.5 1376.4 L1790.5 1378.0 L1791.5 1379.7 L1792.5 1381.3 L1793.5 1382.9 L1794.5 1384.5 L1795.5 1386.1 L1796.5 1387.5 L1797.5 1388.9 L1798.5 1390.1 L1799.5 1391.1 L1800.5 1390.4 L1801.5 1389.6 L1802.5 1388.8 L1803.5 1387.8 L1804.5 1386.9 L1805.5 1385.9 L1806.5 1384.8 L1807.5 1383.8 L1808.5 1382.7 L1809.5 1381.7 L1810.5 1380.7 L1811.5 1379.8 L1812.5 1378.9 L1813.5 1378.1 L1814.5 1379.7 L1815.5 1381.9 L1816.5 1384.3 L1817.5 1387.0 L1818.5 1389.8 L1819.5 1392.6 L1820.5 1395.3 L1821.5 1397.8 L1822.5 1400.0 L1823.5 1401.6 L1824.5 1399.3 L1825.5 1396.7 L1826.5 1393.7 L1827.5 1390.6 L1828.5 1387.3 L1829.5 1384.0 L1830.5 1380.7 L1831.5 1377.6 L1832.5 1374.7 L1833.5 1372.1 L1834.5 1370.9 L1835.5 1373.9 L1836.5 1377.4 L1837.5 1381.2 L1838.5 1385.4 L1839.5 1389.7 L1840.5 1394.0 L1841.5 1398.1 L1842.5 1402.0 L1843.5 1405.5 L1844.5 1408.6 L1845.5 1407.2 L1846.5 1404.1 L1847.5 1400.7 L1848.5 1396.9 L1849.5 1392.9 L1850.5 1388.9 L1851.5 1385.0 L1852.5 1381.3 L1853.5 1377.9 L1854.5 1375.0 L1855.5 1375.1 L1856.5 1378.1 L1857.5 1381.6 L1858.5 1385.4 L1859.5 1389.4 L1860.5 1393.5 L1861.5 1397.6 L1862.5 1401.6 L1863.5 1405.3 L1864.5 1408.7 L1865.5 1411.6 L1866.5 1411.6 L1867.5 1409.7 L1868.5 1407.6 L1869.5 1405.3 L1870.5 1402.9 L1871.5 1400.5 L1872.5 1398.1 L1873.5 1395.9 L1874.5 1393.9 L1875.5 1392.2 L1876.5 1392.7 L1877.5 1393.9 L1878.5 1395.1 L1879.5 1396.4 L1880.5 1397.8 L1881.5 1399.2 L1882.5 1400.6 L1883.5 1401.9 L1884.5 1403.1 L1885.5 1404.2 L1886.5 1405.1 L1887.5 1405.7 L1888.5 1406.4 L1889.5 1407.2 L1890.5 1408.0 L1891.5 1408.9 L1892.5 1409.7 L1893.5 1410.5 L1894.5 1410.6 L1895.5 1409.5 L1896.5 1408.2 L1897.5 1406.7 L1898.5 1405.4 L1899.5 1404.3 L1900.5 1405.0 L1901.5 1406.1 L1902.5 1407.4 L1903.5 1408.8 L1904.5 1410.0 L1905.5 1411.1 L1906.5 1411.9 L1907.5 1412.6 L1908.5 1413.5 L1909.5 1414.4 L1910.5 1415.4 L1911.5 1416.4 L1912.5 1417.5 L1913.5 1418.5 L1914.5 1419.4 L1915.5 1420.2 L1916.5 1419.7 L1917.5 1417.8 L1918.5 1415.7 L1919.5 1413.3 L1920.5 1410.8 L1921.5 1408.3 L1922.5 1406.0 L1923.5 1403.9 L1924.5 1402.0 L1925.5 1403.4 L1926.5 1405.7 L1927.5 1408.4 L1928.5 1411.3 L1929.5 1414.4 L1930.5 1417.5 L1931.5 1420.6 L1932.5 1423.5 L1933.5 1426.3 L1934.5 1428.8 L1935.5 1430.9 L1936.5 1428.9 L1937.5 1426.2 L1938.5 1423.1 L1939.5 1419.8 L1940.5 1416.3 L1941.5 1412.7 L1942.5 1409.2 L1943.5 1405.7 L1944.5 1402.4 L1945.5 1399.5 L1946.5 1396.8 L1947.5 1396.2 L1948.5 1399.1 L1949.5 1402.3 L1950.5 1405.9 L1951.5 1409.7 L1952.5 1413.7 L1953.5 1417.7 L1954.5 1421.6 L1955.5 1425.4 L1956.5 1428.8 L1957.5 1431.9 L1958.5 1434.5 L1959.5 1433.3 L1960.5 1431.9 L1961.5 1430.5 L1962.5 1428.9 L1963.5 1427.3 L1964.5 1425.6 L1965.5 1423.9 L1966.5 1422.3 L1967.5 1420.8 L1968.5 1419.4 L1969.5 1418.1 L1970.5 1417.1 L1971.5 1418.1 L1972.5 1419.3 L1973.5 1420.6 L1974.5 1422.0 L1975.5 1423.5 L1976.5 1425.0 L1977.5 1426.6 L1978.5 1428.2 L1979.5 1429.7 L1980.5 1431.2 L1981.5 1432.7 L1982.5 1434.1 L1983.5 1435.4 L1984.5 1436.6 L1985.5 1437.7 L1986.5 1437.1 L1987.5 1436.0 L1988.5 1434.8 L1989.5 1433.4 L1990.5 1432.0 L1991.5 1430.5 L1992.5 1429.0 L1993.5 1427.5 L1994.5 1425.9 L1995.5 1424.5 L1996.5 1423.0 L1997.5 1421.7 L1998.5 1420.5 L1999.5 1419.4 L2000.5 1419.9 L2001.5 1421.4 L2002.5 1423.1 L2003.5 1424.9 L2004.5 1426.9 L2005.5 1429.0 L2006.5 1431.0 L2007.5 1432.9 L2008.5 1434.8 L2009.5 1436.4 L2010.5 1437.8 L2011.5 1438.1 L2012.5 1437.9 L2013.5 1437.8 L2014.5 1437.7 L2015.5 1437.5 L2016.5 1437.4 L2017.5 1437.4 L2018.5 1438.2 L2019.5 1439.2 L2020.5 1440.2 L2021.5 1441.3 L2022.5 1442.4 L2023.5 1443.4 L2024.5 1444.3 L2025.5 1444.2 L2026.5 1443.4 L2027.5 1442.5 L2028.5 1441.6 L2029.5 1440.5 L2030.5 1439.5 L2031.5 1438.4 L2032.5 1437.4 L2033.5 1436.5 L2034.5 1435.6 L2035.5 1434.9 L2036.5 1435.8 L2037.5 1437.6 L2038.5 1439.7 L2039.5 1441.9 L2040.5 1444.3 L2041.5 1446.8 L2042.5 1449.3 L2043.5 1451.7 L2044.5 1454.0 L2045.5 1456.2 L2046.5 1458.2 L2047.5 1459.9 L2048.5 1459.0 L2049.5 1456.5 L2050.5 1453.7 L2051.5 1450.7 L2052.5 1447.6 L2053.5 1444.7 L2054.5 1442.2 L2055.5 1440.2 L2056.5 1440.3 L2057.5 1440.3 L2058.5 1440.3" stroke="#ff99cc" stroke-width="8"/>
</g>
<g class="sans" fill="#383838">
<text transform="translate(205.3,70.3) scale(0.965,1)" font-size="59.5" text-anchor="end">-34</text>
<text transform="translate(205.3,390.3) scale(0.965,1)" font-size="59.5" text-anchor="end">-35</text>
<text transform="translate(205.3,710.3) scale(0.965,1)" font-size="59.5" text-anchor="end">-36</text>
<text transform="translate(205.3,1030.3) scale(0.965,1)" font-size="59.5" text-anchor="end">-37</text>
<text transform="translate(205.3,1350.3) scale(0.965,1)" font-size="59.5" text-anchor="end">-38</text>
<text transform="translate(205.3,1670.3) scale(0.965,1)" font-size="59.5" text-anchor="end">-39</text>
<text transform="translate(311.3,1764.2) scale(0.955,1)" font-size="50" text-anchor="middle" fill="#545454">1545</text>
<text transform="translate(747.5,1806.3) scale(0.935,1)" font-size="61" text-anchor="middle">1550</text>
<text transform="translate(1183.0,1764.2) scale(0.955,1)" font-size="50" text-anchor="middle" fill="#545454">1555</text>
<text transform="translate(1619.1,1806.3) scale(0.935,1)" font-size="61" text-anchor="middle">1560</text>
<text transform="translate(2054.7,1764.2) scale(0.955,1)" font-size="50" text-anchor="middle" fill="#545454">1565</text>
</g>
 <text id="xl" class="serif" x="1181" y="1889.5" font-size="76.5" font-weight="bold" text-anchor="middle" fill="#111">Wavelength <tspan font-weight="normal">(</tspan>nm<tspan font-weight="normal">)</tspan></text>
<text id="yl" class="serif" transform="translate(89.3,851) rotate(-90) scale(1,1.05)" font-size="76.5" font-weight="bold" text-anchor="middle" fill="#111">Intensity <tspan font-weight="normal">(</tspan>dB <tspan font-weight="normal">)</tspan></text>
<g id="legend">
<rect x="1577.3" y="144.2" width="366" height="5" fill="#c0c0c0"/>
<rect x="1577.3" y="146" width="5" height="698" fill="#c0c0c0"/>
<rect x="1939.1" y="150" width="3.4" height="692" fill="#c4c4c4"/>
<rect x="1583.1" y="150.1" width="361" height="693.5" fill="none" stroke="#383838" stroke-width="3.8"/>
<rect x="1581.2" y="841.4" width="364" height="4.3" fill="#000"/>
<text class="serif" transform="translate(1760.5,231.8) scale(0.69,1)" font-size="63" text-anchor="middle" fill="#333">TiN FBG</text>
<rect x="1599.6" y="281.1" width="220.4" height="7.2" fill="#0000ff"/>
<text class="sans" transform="translate(1836.5,299.3) scale(0.655,1)" font-size="45" fill="#3c3c3c">100<tspan dy="-4">°</tspan><tspan dy="4">C</tspan></text>
<rect x="1599.6" y="344.1" width="220.4" height="7.2" fill="#00ffff"/>
<text class="sans" transform="translate(1836.5,362.4) scale(0.655,1)" font-size="45" fill="#3c3c3c">150<tspan dy="-4">°</tspan><tspan dy="4">C</tspan></text>
<rect x="1599.6" y="407.2" width="220.4" height="7.2" fill="#00ff00"/>
<text class="sans" transform="translate(1836.5,425.4) scale(0.655,1)" font-size="45" fill="#3c3c3c">200<tspan dy="-4">°</tspan><tspan dy="4">C</tspan></text>
<rect x="1599.6" y="470.2" width="220.4" height="7.2" fill="#ffff00"/>
<text class="sans" transform="translate(1836.5,488.4) scale(0.655,1)" font-size="45" fill="#3c3c3c">250<tspan dy="-4">°</tspan><tspan dy="4">C</tspan></text>
<rect x="1599.6" y="533.3" width="220.4" height="7.2" fill="#ff0000"/>
<text class="sans" transform="translate(1836.5,551.5) scale(0.655,1)" font-size="45" fill="#3c3c3c">300<tspan dy="-4">°</tspan><tspan dy="4">C</tspan></text>
<rect x="1599.6" y="596.4" width="220.4" height="7.2" fill="#ff00ff"/>
<text class="sans" transform="translate(1836.5,614.6) scale(0.655,1)" font-size="45" fill="#3c3c3c">350<tspan dy="-4">°</tspan><tspan dy="4">C</tspan></text>
<rect x="1599.6" y="659.4" width="220.4" height="7.2" fill="#9900cc"/>
<text class="sans" transform="translate(1836.5,677.6) scale(0.655,1)" font-size="45" fill="#3c3c3c">400<tspan dy="-4">°</tspan><tspan dy="4">C</tspan></text>
<rect x="1599.6" y="722.4" width="220.4" height="7.2" fill="#ff6600"/>
<text class="sans" transform="translate(1836.5,740.6) scale(0.655,1)" font-size="45" fill="#3c3c3c">450<tspan dy="-4">°</tspan><tspan dy="4">C</tspan></text>
<rect x="1599.6" y="785.5" width="220.4" height="7.2" fill="#ff99cc"/>
<text class="sans" transform="translate(1836.5,803.7) scale(0.655,1)" font-size="45" fill="#3c3c3c">500<tspan dy="-4">°</tspan><tspan dy="4">C</tspan></text>
</g>
</svg>
</body></html>
